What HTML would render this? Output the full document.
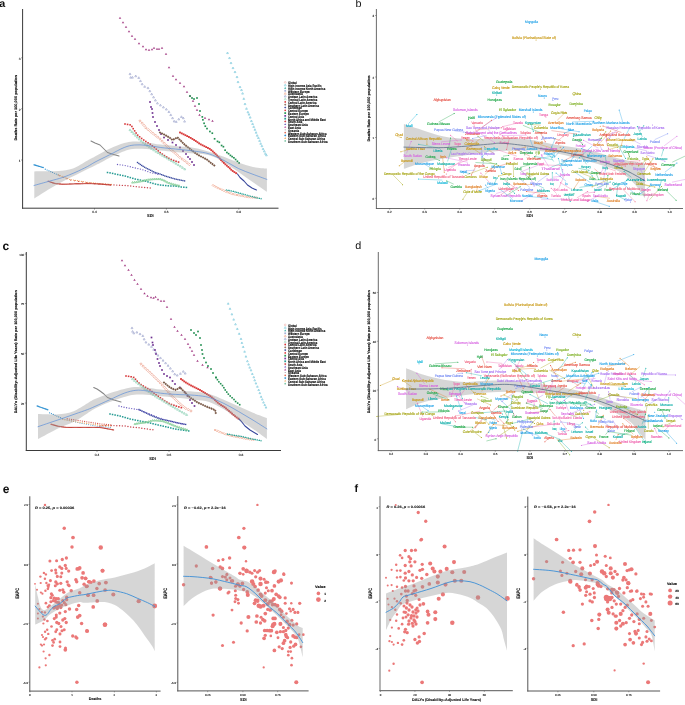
<!DOCTYPE html>
<html><head><meta charset="utf-8"><style>
html,body{margin:0;padding:0;background:#fff;}
svg{display:block;will-change:transform;}
text{font-family:"Liberation Sans", sans-serif;text-rendering:geometricPrecision;}
</style></head><body>
<svg width="685" height="705" viewBox="0 0 685 705">
<rect width="685" height="705" fill="#fff"/>
<text x="-0.8" y="4.2" font-size="10.8" fill="#111" text-anchor="start" dominant-baseline="central" font-weight="bold">a</text>
<polygon points="120,16.7 118.77,18.84 121.23,18.84" fill="#a33d85"/>
<polygon points="123,21.2 121.77,23.34 124.23,23.34" fill="#a33d85"/>
<polygon points="126,25.7 124.77,27.84 127.23,27.84" fill="#a33d85"/>
<polygon points="129,30.2 127.77,32.34 130.24,32.34" fill="#a33d85"/>
<polygon points="132,34.7 130.76,36.84 133.24,36.84" fill="#a33d85"/>
<polygon points="135,37.7 133.76,39.84 136.24,39.84" fill="#a33d85"/>
<polygon points="139,42.2 137.76,44.34 140.24,44.34" fill="#a33d85"/>
<polygon points="143,45.2 141.76,47.34 144.24,47.34" fill="#a33d85"/>
<polygon points="146,48.2 144.76,50.34 147.24,50.34" fill="#a33d85"/>
<polygon points="149,48.7 147.76,50.84 150.24,50.84" fill="#a33d85"/>
<polygon points="152,48.2 150.76,50.34 153.24,50.34" fill="#a33d85"/>
<polygon points="154,46.7 152.76,48.84 155.24,48.84" fill="#a33d85"/>
<polygon points="157,47.7 155.76,49.84 158.24,49.84" fill="#a33d85"/>
<polygon points="159,47.7 157.76,49.84 160.24,49.84" fill="#a33d85"/>
<polygon points="162,46.7 160.76,48.84 163.24,48.84" fill="#a33d85"/>
<polygon points="166,52.7 164.76,54.84 167.24,54.84" fill="#a33d85"/>
<polygon points="169,66.2 167.76,68.34 170.24,68.34" fill="#a33d85"/>
<polygon points="173,74.7 171.76,76.84 174.24,76.84" fill="#a33d85"/>
<polygon points="176,78.2 174.76,80.34 177.24,80.34" fill="#a33d85"/>
<polygon points="180,81.7 178.76,83.84 181.24,83.84" fill="#a33d85"/>
<polygon points="184,85.2 182.76,87.34 185.24,87.34" fill="#a33d85"/>
<polygon points="187,90.7 185.76,92.84 188.24,92.84" fill="#a33d85"/>
<polygon points="190,94.7 188.76,96.84 191.24,96.84" fill="#a33d85"/>
<polygon points="193,99.7 191.76,101.84 194.24,101.84" fill="#a33d85"/>
<polygon points="195,104.7 193.76,106.84 196.24,106.84" fill="#a33d85"/>
<polygon points="197,108.7 195.76,110.84 198.24,110.84" fill="#a33d85"/>
<polygon points="199.5,113.7 198.26,115.84 200.74,115.84" fill="#a33d85"/>
<polygon points="205,116.7 203.76,118.84 206.24,118.84" fill="#a33d85"/>
<polygon points="209,118.2 207.76,120.34 210.24,120.34" fill="#a33d85"/>
<polygon points="212.5,119.7 211.26,121.84 213.74,121.84" fill="#a33d85"/>
<polygon points="227.5,52 226.6,53.6 228.4,53.6" fill="none" stroke="#80cadc" stroke-width="0.7"/>
<polygon points="229.5,57 228.6,58.6 230.4,58.6" fill="none" stroke="#80cadc" stroke-width="0.7"/>
<polygon points="231,62 230.1,63.6 231.9,63.6" fill="none" stroke="#80cadc" stroke-width="0.7"/>
<polygon points="233,67 232.1,68.6 233.9,68.6" fill="none" stroke="#80cadc" stroke-width="0.7"/>
<polygon points="235,71 234.1,72.6 235.9,72.6" fill="none" stroke="#80cadc" stroke-width="0.7"/>
<polygon points="237,76 236.1,77.6 237.9,77.6" fill="none" stroke="#80cadc" stroke-width="0.7"/>
<polygon points="238,81 237.1,82.6 238.9,82.6" fill="none" stroke="#80cadc" stroke-width="0.7"/>
<polygon points="240,86 239.1,87.6 240.9,87.6" fill="none" stroke="#80cadc" stroke-width="0.7"/>
<polygon points="241.5,89 240.6,90.6 242.4,90.6" fill="none" stroke="#80cadc" stroke-width="0.7"/>
<polygon points="242.6,92.5 241.7,94.1 243.5,94.1" fill="none" stroke="#80cadc" stroke-width="0.7"/>
<polygon points="243.8,97.8 242.9,99.4 244.7,99.4" fill="none" stroke="#80cadc" stroke-width="0.7"/>
<polygon points="245,103 244.1,104.6 245.9,104.6" fill="none" stroke="#80cadc" stroke-width="0.7"/>
<polygon points="246.5,107.7 245.6,109.3 247.4,109.3" fill="none" stroke="#80cadc" stroke-width="0.7"/>
<polygon points="247.9,111.2 247,112.8 248.8,112.8" fill="none" stroke="#80cadc" stroke-width="0.7"/>
<polygon points="249,113.5 248.1,115.1 249.9,115.1" fill="none" stroke="#80cadc" stroke-width="0.7"/>
<polygon points="250.2,116.5 249.3,118.1 251.1,118.1" fill="none" stroke="#80cadc" stroke-width="0.7"/>
<polygon points="251.4,120 250.5,121.6 252.3,121.6" fill="none" stroke="#80cadc" stroke-width="0.7"/>
<polygon points="252.6,122.9 251.7,124.5 253.5,124.5" fill="none" stroke="#80cadc" stroke-width="0.7"/>
<polygon points="253.7,125.8 252.8,127.4 254.6,127.4" fill="none" stroke="#80cadc" stroke-width="0.7"/>
<polygon points="254.9,128.7 254,130.3 255.8,130.3" fill="none" stroke="#80cadc" stroke-width="0.7"/>
<polygon points="256.1,131.6 255.2,133.2 257,133.2" fill="none" stroke="#80cadc" stroke-width="0.7"/>
<polygon points="257.2,134.6 256.3,136.2 258.1,136.2" fill="none" stroke="#80cadc" stroke-width="0.7"/>
<polygon points="258.4,136.9 257.5,138.5 259.3,138.5" fill="none" stroke="#80cadc" stroke-width="0.7"/>
<polygon points="259.6,139.8 258.7,141.4 260.5,141.4" fill="none" stroke="#80cadc" stroke-width="0.7"/>
<polygon points="260.7,142.7 259.8,144.3 261.6,144.3" fill="none" stroke="#80cadc" stroke-width="0.7"/>
<polygon points="261.9,145.1 261,146.7 262.8,146.7" fill="none" stroke="#80cadc" stroke-width="0.7"/>
<polygon points="263.1,148 262.2,149.6 264,149.6" fill="none" stroke="#80cadc" stroke-width="0.7"/>
<polygon points="264.3,150.3 263.4,151.9 265.2,151.9" fill="none" stroke="#80cadc" stroke-width="0.7"/>
<polygon points="265.4,152.7 264.5,154.3 266.3,154.3" fill="none" stroke="#80cadc" stroke-width="0.7"/>
<polygon points="266.4,154.2 265.5,155.8 267.3,155.8" fill="none" stroke="#80cadc" stroke-width="0.7"/>
<polygon points="130,72.95 129.06,74.63 130.94,74.63" fill="none" stroke="#a3abd0" stroke-width="0.7"/>
<polygon points="130.71,76.48 129.76,78.16 131.65,78.16" fill="none" stroke="#a3abd0" stroke-width="0.7"/>
<polygon points="132.49,76.46 131.54,78.14 133.43,78.14" fill="none" stroke="#a3abd0" stroke-width="0.7"/>
<polygon points="135.73,75.04 134.78,76.72 136.67,76.72" fill="none" stroke="#a3abd0" stroke-width="0.7"/>
<polygon points="138.75,76.79 137.81,78.47 139.7,78.47" fill="none" stroke="#a3abd0" stroke-width="0.7"/>
<polygon points="140.48,79.91 139.53,81.59 141.42,81.59" fill="none" stroke="#a3abd0" stroke-width="0.7"/>
<polygon points="142.14,83.09 141.19,84.77 143.08,84.77" fill="none" stroke="#a3abd0" stroke-width="0.7"/>
<polygon points="144.68,85.63 143.74,87.31 145.63,87.31" fill="none" stroke="#a3abd0" stroke-width="0.7"/>
<polygon points="147.99,86.95 147.05,88.63 148.94,88.63" fill="none" stroke="#a3abd0" stroke-width="0.7"/>
<polygon points="149.85,90.03 148.9,91.71 150.79,91.71" fill="none" stroke="#a3abd0" stroke-width="0.7"/>
<polygon points="151.7,93.12 150.76,94.8 152.65,94.8" fill="none" stroke="#a3abd0" stroke-width="0.7"/>
<polygon points="153.55,96.2 152.61,97.88 154.5,97.88" fill="none" stroke="#a3abd0" stroke-width="0.7"/>
<polygon points="155.4,99.29 154.46,100.97 156.35,100.97" fill="none" stroke="#a3abd0" stroke-width="0.7"/>
<polygon points="157.41,102.23 156.47,103.91 158.36,103.91" fill="none" stroke="#a3abd0" stroke-width="0.7"/>
<polygon points="160.41,104.22 159.47,105.9 161.36,105.9" fill="none" stroke="#a3abd0" stroke-width="0.7"/>
<polygon points="163.41,106.22 162.46,107.9 164.35,107.9" fill="none" stroke="#a3abd0" stroke-width="0.7"/>
<polygon points="166.34,108.29 165.4,109.97 167.29,109.97" fill="none" stroke="#a3abd0" stroke-width="0.7"/>
<polygon points="168.89,110.84 167.94,112.52 169.83,112.52" fill="none" stroke="#a3abd0" stroke-width="0.7"/>
<polygon points="170.77,113.9 169.82,115.58 171.71,115.58" fill="none" stroke="#a3abd0" stroke-width="0.7"/>
<polygon points="172.54,117.03 171.6,118.71 173.49,118.71" fill="none" stroke="#a3abd0" stroke-width="0.7"/>
<polygon points="174.15,120.25 173.21,121.93 175.1,121.93" fill="none" stroke="#a3abd0" stroke-width="0.7"/>
<polygon points="176.2,120.75 175.26,122.43 177.15,122.43" fill="none" stroke="#a3abd0" stroke-width="0.7"/>
<polygon points="178.75,118.2 177.8,119.88 179.69,119.88" fill="none" stroke="#a3abd0" stroke-width="0.7"/>
<polygon points="181.43,115.81 180.48,117.49 182.37,117.49" fill="none" stroke="#a3abd0" stroke-width="0.7"/>
<polygon points="183.28,117.04 182.34,118.72 184.23,118.72" fill="none" stroke="#a3abd0" stroke-width="0.7"/>
<polygon points="184.58,120.39 183.63,122.07 185.52,122.07" fill="none" stroke="#a3abd0" stroke-width="0.7"/>
<rect x="149.16" y="101.16" width="1.68" height="1.68" fill="#6d2f8f"/>
<rect x="150.16" y="106.16" width="1.68" height="1.68" fill="#6d2f8f"/>
<rect x="151.16" y="108.16" width="1.68" height="1.68" fill="#6d2f8f"/>
<rect x="151.66" y="112.16" width="1.68" height="1.68" fill="#6d2f8f"/>
<rect x="152.16" y="116.16" width="1.68" height="1.68" fill="#6d2f8f"/>
<rect x="154.16" y="121.16" width="1.68" height="1.68" fill="#6d2f8f"/>
<rect x="156.16" y="125.16" width="1.68" height="1.68" fill="#6d2f8f"/>
<rect x="158.16" y="129.16" width="1.68" height="1.68" fill="#6d2f8f"/>
<rect x="160.16" y="133.16" width="1.68" height="1.68" fill="#6d2f8f"/>
<rect x="163.16" y="136.66" width="1.68" height="1.68" fill="#6d2f8f"/>
<rect x="167.16" y="139.16" width="1.68" height="1.68" fill="#6d2f8f"/>
<rect x="171.66" y="141.66" width="1.68" height="1.68" fill="#6d2f8f"/>
<rect x="175.16" y="144.16" width="1.68" height="1.68" fill="#6d2f8f"/>
<rect x="179.16" y="146.66" width="1.68" height="1.68" fill="#6d2f8f"/>
<rect x="182.16" y="150.16" width="1.68" height="1.68" fill="#6d2f8f"/>
<rect x="185.16" y="153.16" width="1.68" height="1.68" fill="#6d2f8f"/>
<rect x="187.16" y="156.16" width="1.68" height="1.68" fill="#6d2f8f"/>
<rect x="189.16" y="158.16" width="1.68" height="1.68" fill="#6d2f8f"/>
<rect x="191.16" y="161.16" width="1.68" height="1.68" fill="#6d2f8f"/>
<rect x="193.16" y="164.16" width="1.68" height="1.68" fill="#6d2f8f"/>
<rect x="189.16" y="95.16" width="1.68" height="1.68" fill="#238f52"/>
<rect x="191.16" y="97.16" width="1.68" height="1.68" fill="#238f52"/>
<rect x="193.16" y="98.16" width="1.68" height="1.68" fill="#238f52"/>
<rect x="196.16" y="97.16" width="1.68" height="1.68" fill="#238f52"/>
<rect x="198.16" y="103.16" width="1.68" height="1.68" fill="#238f52"/>
<rect x="199.16" y="110.16" width="1.68" height="1.68" fill="#238f52"/>
<rect x="201.46" y="116.06" width="1.68" height="1.68" fill="#238f52"/>
<rect x="202.06" y="118.96" width="1.68" height="1.68" fill="#238f52"/>
<rect x="203.26" y="122.46" width="1.68" height="1.68" fill="#238f52"/>
<rect x="204.46" y="125.36" width="1.68" height="1.68" fill="#238f52"/>
<rect x="206.16" y="127.76" width="1.68" height="1.68" fill="#238f52"/>
<rect x="209.06" y="130.66" width="1.68" height="1.68" fill="#238f52"/>
<rect x="211.46" y="132.36" width="1.68" height="1.68" fill="#238f52"/>
<rect x="213.76" y="137.96" width="1.68" height="1.68" fill="#238f52"/>
<rect x="216.66" y="140.56" width="1.68" height="1.68" fill="#238f52"/>
<rect x="218.46" y="141.46" width="1.68" height="1.68" fill="#238f52"/>
<rect x="220.76" y="144.66" width="1.68" height="1.68" fill="#238f52"/>
<rect x="222.56" y="145.86" width="1.68" height="1.68" fill="#238f52"/>
<rect x="224.26" y="149.36" width="1.68" height="1.68" fill="#238f52"/>
<rect x="226.06" y="151.66" width="1.68" height="1.68" fill="#238f52"/>
<rect x="227.76" y="152.86" width="1.68" height="1.68" fill="#238f52"/>
<rect x="229.56" y="154.56" width="1.68" height="1.68" fill="#238f52"/>
<rect x="231.26" y="155.76" width="1.68" height="1.68" fill="#238f52"/>
<rect x="233.06" y="156.96" width="1.68" height="1.68" fill="#238f52"/>
<rect x="234.76" y="158.66" width="1.68" height="1.68" fill="#238f52"/>
<rect x="236.56" y="160.46" width="1.68" height="1.68" fill="#238f52"/>
<rect x="238.26" y="162.16" width="1.68" height="1.68" fill="#238f52"/>
<rect x="124.2" y="123.2" width="1.6" height="1.6" fill="#d7383b"/>
<rect x="126.76" y="123.63" width="1.6" height="1.6" fill="#d7383b"/>
<rect x="129.33" y="124.05" width="1.6" height="1.6" fill="#d7383b"/>
<rect x="131.08" y="125.67" width="1.6" height="1.6" fill="#d7383b"/>
<rect x="132.42" y="127.9" width="1.6" height="1.6" fill="#d7383b"/>
<rect x="133.82" y="130.09" width="1.6" height="1.6" fill="#d7383b"/>
<rect x="135.31" y="132.22" width="1.6" height="1.6" fill="#d7383b"/>
<rect x="136.84" y="134.32" width="1.6" height="1.6" fill="#d7383b"/>
<rect x="138.81" y="136.01" width="1.6" height="1.6" fill="#d7383b"/>
<rect x="140.82" y="137.66" width="1.6" height="1.6" fill="#d7383b"/>
<rect x="142.9" y="139.22" width="1.6" height="1.6" fill="#d7383b"/>
<rect x="145.03" y="140.7" width="1.6" height="1.6" fill="#d7383b"/>
<rect x="147.26" y="142.04" width="1.6" height="1.6" fill="#d7383b"/>
<rect x="149.47" y="143.41" width="1.6" height="1.6" fill="#d7383b"/>
<rect x="151.5" y="145.04" width="1.6" height="1.6" fill="#d7383b"/>
<rect x="153.53" y="146.66" width="1.6" height="1.6" fill="#d7383b"/>
<rect x="155.49" y="148.36" width="1.6" height="1.6" fill="#d7383b"/>
<rect x="157.43" y="150.1" width="1.6" height="1.6" fill="#d7383b"/>
<rect x="159.37" y="151.82" width="1.6" height="1.6" fill="#d7383b"/>
<rect x="161.5" y="153.31" width="1.6" height="1.6" fill="#d7383b"/>
<rect x="163.63" y="154.8" width="1.6" height="1.6" fill="#d7383b"/>
<rect x="165.84" y="156.18" width="1.6" height="1.6" fill="#d7383b"/>
<rect x="168.07" y="157.52" width="1.6" height="1.6" fill="#d7383b"/>
<rect x="170.39" y="158.67" width="1.6" height="1.6" fill="#d7383b"/>
<rect x="172.8" y="159.64" width="1.6" height="1.6" fill="#d7383b"/>
<rect x="175.25" y="160.51" width="1.6" height="1.6" fill="#d7383b"/>
<rect x="177.74" y="161.26" width="1.6" height="1.6" fill="#d7383b"/>
<polygon points="140,119.8 141.2,121 140,122.2 138.8,121" fill="none" stroke="#e9957f" stroke-width="0.65"/>
<polygon points="142.12,121.92 143.32,123.12 142.12,124.32 140.92,123.12" fill="none" stroke="#e9957f" stroke-width="0.65"/>
<polygon points="144.05,124.21 145.25,125.41 144.05,126.61 142.85,125.41" fill="none" stroke="#e9957f" stroke-width="0.65"/>
<polygon points="145.85,126.61 147.05,127.81 145.85,129.01 144.65,127.81" fill="none" stroke="#e9957f" stroke-width="0.65"/>
<polygon points="148.21,128.45 149.41,129.65 148.21,130.85 147.01,129.65" fill="none" stroke="#e9957f" stroke-width="0.65"/>
<polygon points="150.59,130.27 151.79,131.47 150.59,132.67 149.39,131.47" fill="none" stroke="#e9957f" stroke-width="0.65"/>
<polygon points="152.93,132.15 154.13,133.35 152.93,134.55 151.73,133.35" fill="none" stroke="#e9957f" stroke-width="0.65"/>
<polygon points="155.28,134.02 156.48,135.22 155.28,136.42 154.08,135.22" fill="none" stroke="#e9957f" stroke-width="0.65"/>
<polygon points="157.62,135.9 158.82,137.1 157.62,138.3 156.42,137.1" fill="none" stroke="#e9957f" stroke-width="0.65"/>
<polygon points="159.96,137.77 161.16,138.97 159.96,140.17 158.76,138.97" fill="none" stroke="#e9957f" stroke-width="0.65"/>
<polygon points="162.09,139.89 163.29,141.09 162.09,142.29 160.89,141.09" fill="none" stroke="#e9957f" stroke-width="0.65"/>
<polygon points="164.21,142.01 165.41,143.21 164.21,144.41 163.01,143.21" fill="none" stroke="#e9957f" stroke-width="0.65"/>
<polygon points="166.33,144.13 167.53,145.33 166.33,146.53 165.13,145.33" fill="none" stroke="#e9957f" stroke-width="0.65"/>
<polygon points="168.45,146.25 169.65,147.45 168.45,148.65 167.25,147.45" fill="none" stroke="#e9957f" stroke-width="0.65"/>
<polygon points="170.63,148.31 171.83,149.51 170.63,150.71 169.43,149.51" fill="none" stroke="#e9957f" stroke-width="0.65"/>
<polygon points="172.97,150.18 174.17,151.38 172.97,152.58 171.77,151.38" fill="none" stroke="#e9957f" stroke-width="0.65"/>
<polygon points="175.3,152.07 176.5,153.27 175.3,154.47 174.1,153.27" fill="none" stroke="#e9957f" stroke-width="0.65"/>
<polygon points="177.53,154.08 178.73,155.28 177.53,156.48 176.33,155.28" fill="none" stroke="#e9957f" stroke-width="0.65"/>
<polygon points="179.76,156.09 180.96,157.29 179.76,158.49 178.56,157.29" fill="none" stroke="#e9957f" stroke-width="0.65"/>
<polygon points="182.19,157.84 183.39,159.04 182.19,160.24 180.99,159.04" fill="none" stroke="#e9957f" stroke-width="0.65"/>
<polygon points="184.65,159.56 185.85,160.76 184.65,161.96 183.45,160.76" fill="none" stroke="#e9957f" stroke-width="0.65"/>
<polygon points="187.01,161.41 188.21,162.61 187.01,163.81 185.81,162.61" fill="none" stroke="#e9957f" stroke-width="0.65"/>
<polygon points="189.35,163.28 190.55,164.48 189.35,165.68 188.15,164.48" fill="none" stroke="#e9957f" stroke-width="0.65"/>
<polygon points="130,128.9 129.01,130.66 130.99,130.66" fill="none" stroke="#8fd3b8" stroke-width="0.7"/>
<polygon points="131.84,130.74 130.85,132.5 132.83,132.5" fill="none" stroke="#8fd3b8" stroke-width="0.7"/>
<polygon points="133.68,132.58 132.69,134.34 134.67,134.34" fill="none" stroke="#8fd3b8" stroke-width="0.7"/>
<polygon points="135.52,134.42 134.53,136.18 136.51,136.18" fill="none" stroke="#8fd3b8" stroke-width="0.7"/>
<polygon points="137.35,136.25 136.36,138.01 138.34,138.01" fill="none" stroke="#8fd3b8" stroke-width="0.7"/>
<polygon points="139.19,138.09 138.2,139.85 140.18,139.85" fill="none" stroke="#8fd3b8" stroke-width="0.7"/>
<polygon points="141.14,139.81 140.15,141.57 142.13,141.57" fill="none" stroke="#8fd3b8" stroke-width="0.7"/>
<polygon points="143.17,141.43 142.18,143.19 144.16,143.19" fill="none" stroke="#8fd3b8" stroke-width="0.7"/>
<polygon points="145.21,143.05 144.22,144.81 146.2,144.81" fill="none" stroke="#8fd3b8" stroke-width="0.7"/>
<polygon points="147.34,144.54 146.35,146.3 148.33,146.3" fill="none" stroke="#8fd3b8" stroke-width="0.7"/>
<polygon points="149.47,146.03 148.48,147.79 150.46,147.79" fill="none" stroke="#8fd3b8" stroke-width="0.7"/>
<polygon points="151.6,147.52 150.61,149.28 152.59,149.28" fill="none" stroke="#8fd3b8" stroke-width="0.7"/>
<polygon points="153.73,149.01 152.74,150.77 154.72,150.77" fill="none" stroke="#8fd3b8" stroke-width="0.7"/>
<polygon points="155.9,150.44 154.91,152.2 156.89,152.2" fill="none" stroke="#8fd3b8" stroke-width="0.7"/>
<polygon points="158.13,151.78 157.14,153.54 159.12,153.54" fill="none" stroke="#8fd3b8" stroke-width="0.7"/>
<polygon points="160.36,153.11 159.37,154.87 161.35,154.87" fill="none" stroke="#8fd3b8" stroke-width="0.7"/>
<polygon points="162.59,154.45 161.6,156.21 163.58,156.21" fill="none" stroke="#8fd3b8" stroke-width="0.7"/>
<polygon points="164.82,155.79 163.83,157.55 165.81,157.55" fill="none" stroke="#8fd3b8" stroke-width="0.7"/>
<polygon points="167.05,157.13 166.06,158.89 168.04,158.89" fill="none" stroke="#8fd3b8" stroke-width="0.7"/>
<polygon points="169.28,158.47 168.29,160.23 170.27,160.23" fill="none" stroke="#8fd3b8" stroke-width="0.7"/>
<polygon points="171.51,159.8 170.52,161.56 172.5,161.56" fill="none" stroke="#8fd3b8" stroke-width="0.7"/>
<polygon points="173.73,161.14 172.74,162.9 174.72,162.9" fill="none" stroke="#8fd3b8" stroke-width="0.7"/>
<polygon points="175.96,162.48 174.97,164.24 176.95,164.24" fill="none" stroke="#8fd3b8" stroke-width="0.7"/>
<polygon points="178.19,163.82 177.2,165.58 179.18,165.58" fill="none" stroke="#8fd3b8" stroke-width="0.7"/>
<polygon points="180.41,165.17 179.42,166.93 181.4,166.93" fill="none" stroke="#8fd3b8" stroke-width="0.7"/>
<polygon points="182.57,166.62 181.58,168.38 183.56,168.38" fill="none" stroke="#8fd3b8" stroke-width="0.7"/>
<polygon points="184.74,168.06 183.75,169.82 185.73,169.82" fill="none" stroke="#8fd3b8" stroke-width="0.7"/>
<polygon points="160,131.2 161.3,132.5 160,133.8 158.7,132.5" fill="#7a5a48"/>
<polygon points="162.06,132.23 163.36,133.53 162.06,134.83 160.76,133.53" fill="#7a5a48"/>
<polygon points="164.11,133.26 165.41,134.56 164.11,135.86 162.81,134.56" fill="#7a5a48"/>
<polygon points="166.12,134.37 167.42,135.67 166.12,136.97 164.82,135.67" fill="#7a5a48"/>
<polygon points="168.1,135.56 169.4,136.86 168.1,138.16 166.8,136.86" fill="#7a5a48"/>
<polygon points="170.06,136.75 171.36,138.05 170.06,139.35 168.76,138.05" fill="#7a5a48"/>
<polygon points="171.86,138.19 173.16,139.49 171.86,140.79 170.56,139.49" fill="#7a5a48"/>
<polygon points="173.82,138.04 175.12,139.34 173.82,140.64 172.52,139.34" fill="#7a5a48"/>
<polygon points="175.88,137.01 177.18,138.31 175.88,139.61 174.58,138.31" fill="#7a5a48"/>
<polygon points="177.84,136.54 179.14,137.84 177.84,139.14 176.54,137.84" fill="#7a5a48"/>
<polygon points="179.47,138.17 180.77,139.47 179.47,140.77 178.17,139.47" fill="#7a5a48"/>
<polygon points="181.1,139.8 182.4,141.1 181.1,142.4 179.8,141.1" fill="#7a5a48"/>
<polygon points="182.72,141.42 184.02,142.72 182.72,144.02 181.42,142.72" fill="#7a5a48"/>
<polygon points="184.35,143.05 185.65,144.35 184.35,145.65 183.05,144.35" fill="#7a5a48"/>
<polygon points="186.1,144.53 187.4,145.83 186.1,147.13 184.8,145.83" fill="#7a5a48"/>
<polygon points="187.94,145.91 189.24,147.21 187.94,148.51 186.64,147.21" fill="#7a5a48"/>
<polygon points="189.74,147.34 191.04,148.64 189.74,149.94 188.44,148.64" fill="#7a5a48"/>
<polygon points="191.49,148.83 192.79,150.13 191.49,151.43 190.19,150.13" fill="#7a5a48"/>
<polygon points="193.29,150.26 194.59,151.56 193.29,152.86 191.99,151.56" fill="#7a5a48"/>
<polygon points="195.16,151.6 196.46,152.9 195.16,154.2 193.86,152.9" fill="#7a5a48"/>
<polygon points="197.08,152.87 198.38,154.17 197.08,155.47 195.78,154.17" fill="#7a5a48"/>
<polygon points="199.03,154.09 200.33,155.39 199.03,156.69 197.73,155.39" fill="#7a5a48"/>
<polygon points="201.03,155.22 202.33,156.52 201.03,157.82 199.73,156.52" fill="#7a5a48"/>
<polygon points="203.09,156.24 204.39,157.54 203.09,158.84 201.79,157.54" fill="#7a5a48"/>
<polygon points="205.11,157.34 206.41,158.64 205.11,159.94 203.81,158.64" fill="#7a5a48"/>
<polygon points="207.11,158.48 208.41,159.78 207.11,161.08 205.81,159.78" fill="#7a5a48"/>
<polygon points="208.9,159.9 210.2,161.2 208.9,162.5 207.6,161.2" fill="#7a5a48"/>
<polygon points="210.65,161.4 211.95,162.7 210.65,164 209.35,162.7" fill="#7a5a48"/>
<polygon points="212.47,162.8 213.77,164.1 212.47,165.4 211.17,164.1" fill="#7a5a48"/>
<polygon points="214.31,164.18 215.61,165.48 214.31,166.78 213.01,165.48" fill="#7a5a48"/>
<rect x="179.08" y="131.58" width="1.84" height="1.84" fill="#d93b3b"/>
<rect x="180.87" y="132.47" width="1.84" height="1.84" fill="#d93b3b"/>
<rect x="182.66" y="133.37" width="1.84" height="1.84" fill="#d93b3b"/>
<rect x="184.45" y="134.26" width="1.84" height="1.84" fill="#d93b3b"/>
<rect x="186.24" y="135.16" width="1.84" height="1.84" fill="#d93b3b"/>
<rect x="188.02" y="136.05" width="1.84" height="1.84" fill="#d93b3b"/>
<rect x="189.78" y="137" width="1.84" height="1.84" fill="#d93b3b"/>
<rect x="191.5" y="138.03" width="1.84" height="1.84" fill="#d93b3b"/>
<rect x="193.21" y="139.06" width="1.84" height="1.84" fill="#d93b3b"/>
<rect x="194.89" y="140.15" width="1.84" height="1.84" fill="#d93b3b"/>
<rect x="196.53" y="141.29" width="1.84" height="1.84" fill="#d93b3b"/>
<rect x="198.17" y="142.44" width="1.84" height="1.84" fill="#d93b3b"/>
<rect x="199.87" y="143.48" width="1.84" height="1.84" fill="#d93b3b"/>
<rect x="201.66" y="144.37" width="1.84" height="1.84" fill="#d93b3b"/>
<rect x="203.45" y="145.26" width="1.84" height="1.84" fill="#d93b3b"/>
<rect x="205.24" y="146.16" width="1.84" height="1.84" fill="#d93b3b"/>
<rect x="207.03" y="147.05" width="1.84" height="1.84" fill="#d93b3b"/>
<rect x="208.82" y="147.95" width="1.84" height="1.84" fill="#d93b3b"/>
<rect x="210.36" y="149.2" width="1.84" height="1.84" fill="#d93b3b"/>
<rect x="211.87" y="150.52" width="1.84" height="1.84" fill="#d93b3b"/>
<rect x="213.36" y="151.86" width="1.84" height="1.84" fill="#d93b3b"/>
<rect x="214.77" y="153.27" width="1.84" height="1.84" fill="#d93b3b"/>
<rect x="216.18" y="154.68" width="1.84" height="1.84" fill="#d93b3b"/>
<rect x="217.53" y="156.16" width="1.84" height="1.84" fill="#d93b3b"/>
<rect x="218.85" y="157.67" width="1.84" height="1.84" fill="#d93b3b"/>
<rect x="220.17" y="159.17" width="1.84" height="1.84" fill="#d93b3b"/>
<rect x="221.58" y="160.58" width="1.84" height="1.84" fill="#d93b3b"/>
<rect x="223" y="162" width="1.84" height="1.84" fill="#d93b3b"/>
<rect x="224.43" y="163.39" width="1.84" height="1.84" fill="#d93b3b"/>
<rect x="225.94" y="164.71" width="1.84" height="1.84" fill="#d93b3b"/>
<rect x="227.44" y="166.02" width="1.84" height="1.84" fill="#d93b3b"/>
<rect x="228.9" y="167.4" width="1.84" height="1.84" fill="#d93b3b"/>
<rect x="230.31" y="168.81" width="1.84" height="1.84" fill="#d93b3b"/>
<rect x="231.84" y="170.09" width="1.84" height="1.84" fill="#d93b3b"/>
<rect x="233.5" y="171.19" width="1.84" height="1.84" fill="#d93b3b"/>
<rect x="235.2" y="172.25" width="1.84" height="1.84" fill="#d93b3b"/>
<rect x="136.82" y="161.82" width="1.36" height="1.36" fill="#3a4a9e"/>
<rect x="138.2" y="162.81" width="1.36" height="1.36" fill="#3a4a9e"/>
<rect x="139.59" y="163.8" width="1.36" height="1.36" fill="#3a4a9e"/>
<rect x="141" y="164.74" width="1.36" height="1.36" fill="#3a4a9e"/>
<rect x="142.44" y="165.64" width="1.36" height="1.36" fill="#3a4a9e"/>
<rect x="143.88" y="166.55" width="1.36" height="1.36" fill="#3a4a9e"/>
<rect x="145.38" y="167.35" width="1.36" height="1.36" fill="#3a4a9e"/>
<rect x="146.9" y="168.11" width="1.36" height="1.36" fill="#3a4a9e"/>
<rect x="148.42" y="168.87" width="1.36" height="1.36" fill="#3a4a9e"/>
<rect x="149.94" y="169.63" width="1.36" height="1.36" fill="#3a4a9e"/>
<rect x="151.46" y="170.39" width="1.36" height="1.36" fill="#3a4a9e"/>
<rect x="152.98" y="171.15" width="1.36" height="1.36" fill="#3a4a9e"/>
<rect x="154.51" y="171.88" width="1.36" height="1.36" fill="#3a4a9e"/>
<rect x="156.14" y="172.37" width="1.36" height="1.36" fill="#3a4a9e"/>
<rect x="157.77" y="172.85" width="1.36" height="1.36" fill="#3a4a9e"/>
<rect x="159.4" y="173.35" width="1.36" height="1.36" fill="#3a4a9e"/>
<rect x="160.97" y="173.98" width="1.36" height="1.36" fill="#3a4a9e"/>
<rect x="162.55" y="174.61" width="1.36" height="1.36" fill="#3a4a9e"/>
<rect x="164.13" y="175.24" width="1.36" height="1.36" fill="#3a4a9e"/>
<rect x="165.75" y="175.75" width="1.36" height="1.36" fill="#3a4a9e"/>
<rect x="167.38" y="176.24" width="1.36" height="1.36" fill="#3a4a9e"/>
<rect x="169.01" y="176.73" width="1.36" height="1.36" fill="#3a4a9e"/>
<rect x="170.64" y="177.22" width="1.36" height="1.36" fill="#3a4a9e"/>
<rect x="172.27" y="177.7" width="1.36" height="1.36" fill="#3a4a9e"/>
<rect x="173.89" y="178.19" width="1.36" height="1.36" fill="#3a4a9e"/>
<rect x="175.55" y="178.57" width="1.36" height="1.36" fill="#3a4a9e"/>
<rect x="177.22" y="178.9" width="1.36" height="1.36" fill="#3a4a9e"/>
<rect x="178.89" y="179.23" width="1.36" height="1.36" fill="#3a4a9e"/>
<rect x="180.55" y="179.57" width="1.36" height="1.36" fill="#3a4a9e"/>
<rect x="182.22" y="179.9" width="1.36" height="1.36" fill="#3a4a9e"/>
<rect x="183.89" y="180.23" width="1.36" height="1.36" fill="#3a4a9e"/>
<polyline points="237.5,174 240,177.5 244,181 247.5,185 252,188 256.5,190" fill="none" stroke="#36459a" stroke-width="1.1" stroke-linejoin="round" stroke-linecap="round"/>
<circle cx="117.5" cy="164.5" r="0.66" fill="#6a5bbf"/>
<circle cx="120.08" cy="164.79" r="0.66" fill="#6a5bbf"/>
<circle cx="122.66" cy="165.12" r="0.66" fill="#6a5bbf"/>
<circle cx="125.22" cy="165.59" r="0.66" fill="#6a5bbf"/>
<circle cx="127.77" cy="166.07" r="0.66" fill="#6a5bbf"/>
<circle cx="130.28" cy="166.76" r="0.66" fill="#6a5bbf"/>
<circle cx="132.79" cy="167.44" r="0.66" fill="#6a5bbf"/>
<circle cx="135.33" cy="168" r="0.66" fill="#6a5bbf"/>
<circle cx="137.87" cy="168.54" r="0.66" fill="#6a5bbf"/>
<circle cx="140.4" cy="169.12" r="0.66" fill="#6a5bbf"/>
<circle cx="142.89" cy="169.87" r="0.66" fill="#6a5bbf"/>
<circle cx="145.37" cy="170.65" r="0.66" fill="#6a5bbf"/>
<circle cx="147.79" cy="171.61" r="0.66" fill="#6a5bbf"/>
<circle cx="150.21" cy="172.54" r="0.66" fill="#6a5bbf"/>
<circle cx="152.76" cy="173.05" r="0.66" fill="#6a5bbf"/>
<circle cx="155.3" cy="173.59" r="0.66" fill="#6a5bbf"/>
<circle cx="157.79" cy="174.34" r="0.66" fill="#6a5bbf"/>
<rect x="106.74" y="171.74" width="1.52" height="1.52" fill="#249a92"/>
<rect x="109.31" y="172.11" width="1.52" height="1.52" fill="#249a92"/>
<rect x="111.85" y="172.64" width="1.52" height="1.52" fill="#249a92"/>
<rect x="114.38" y="173.27" width="1.52" height="1.52" fill="#249a92"/>
<rect x="116.93" y="173.78" width="1.52" height="1.52" fill="#249a92"/>
<rect x="119.48" y="174.29" width="1.52" height="1.52" fill="#249a92"/>
<rect x="122.03" y="174.8" width="1.52" height="1.52" fill="#249a92"/>
<rect x="124.57" y="175.34" width="1.52" height="1.52" fill="#249a92"/>
<rect x="127.06" y="176.09" width="1.52" height="1.52" fill="#249a92"/>
<rect x="129.55" y="176.83" width="1.52" height="1.52" fill="#249a92"/>
<rect x="132.04" y="177.58" width="1.52" height="1.52" fill="#249a92"/>
<rect x="134.54" y="178.3" width="1.52" height="1.52" fill="#249a92"/>
<rect x="137.09" y="178.81" width="1.52" height="1.52" fill="#249a92"/>
<rect x="139.64" y="179.32" width="1.52" height="1.52" fill="#249a92"/>
<rect x="142.19" y="179.83" width="1.52" height="1.52" fill="#249a92"/>
<rect x="144.72" y="180.39" width="1.52" height="1.52" fill="#249a92"/>
<rect x="147.21" y="181.13" width="1.52" height="1.52" fill="#249a92"/>
<rect x="149.7" y="181.88" width="1.52" height="1.52" fill="#249a92"/>
<rect x="152.19" y="182.63" width="1.52" height="1.52" fill="#249a92"/>
<rect x="154.7" y="183.33" width="1.52" height="1.52" fill="#249a92"/>
<rect x="157.25" y="183.84" width="1.52" height="1.52" fill="#249a92"/>
<rect x="159.8" y="184.3" width="1.52" height="1.52" fill="#249a92"/>
<rect x="162.39" y="184.55" width="1.52" height="1.52" fill="#249a92"/>
<rect x="164.98" y="184.81" width="1.52" height="1.52" fill="#249a92"/>
<rect x="167.56" y="185.07" width="1.52" height="1.52" fill="#249a92"/>
<rect x="170.16" y="185.24" width="1.52" height="1.52" fill="#249a92"/>
<rect x="172.76" y="185.24" width="1.52" height="1.52" fill="#249a92"/>
<rect x="175.34" y="185.42" width="1.52" height="1.52" fill="#249a92"/>
<rect x="177.91" y="185.85" width="1.52" height="1.52" fill="#249a92"/>
<rect x="180.47" y="186.26" width="1.52" height="1.52" fill="#249a92"/>
<rect x="183.06" y="186.46" width="1.52" height="1.52" fill="#249a92"/>
<rect x="185.66" y="186.66" width="1.52" height="1.52" fill="#249a92"/>
<polygon points="132.5,181.5 131.6,183.1 133.4,183.1" fill="none" stroke="#78c98c" stroke-width="0.7"/>
<polygon points="134.49,181.28 133.59,182.88 135.39,182.88" fill="none" stroke="#78c98c" stroke-width="0.7"/>
<polygon points="136.48,181.06 135.58,182.66 137.38,182.66" fill="none" stroke="#78c98c" stroke-width="0.7"/>
<polygon points="138.45,180.74 137.55,182.34 139.35,182.34" fill="none" stroke="#78c98c" stroke-width="0.7"/>
<polygon points="140.42,180.38 139.52,181.98 141.32,181.98" fill="none" stroke="#78c98c" stroke-width="0.7"/>
<polygon points="142.38,180.02 141.48,181.62 143.28,181.62" fill="none" stroke="#78c98c" stroke-width="0.7"/>
<polygon points="144.31,179.48 143.41,181.08 145.21,181.08" fill="none" stroke="#78c98c" stroke-width="0.7"/>
<polygon points="146.24,178.97 145.34,180.57 147.14,180.57" fill="none" stroke="#78c98c" stroke-width="0.7"/>
<polygon points="148.22,178.72 147.32,180.32 149.12,180.32" fill="none" stroke="#78c98c" stroke-width="0.7"/>
<polygon points="150.21,178.48 149.31,180.08 151.11,180.08" fill="none" stroke="#78c98c" stroke-width="0.7"/>
<polygon points="152.2,178.28 151.3,179.88 153.1,179.88" fill="none" stroke="#78c98c" stroke-width="0.7"/>
<polygon points="154.19,178.08 153.29,179.68 155.09,179.68" fill="none" stroke="#78c98c" stroke-width="0.7"/>
<polygon points="156.19,178 155.29,179.6 157.09,179.6" fill="none" stroke="#78c98c" stroke-width="0.7"/>
<polygon points="158.19,178 157.29,179.6 159.09,179.6" fill="none" stroke="#78c98c" stroke-width="0.7"/>
<polygon points="160.17,178.07 159.27,179.67 161.07,179.67" fill="none" stroke="#78c98c" stroke-width="0.7"/>
<polygon points="162.05,178.77 161.15,180.37 162.95,180.37" fill="none" stroke="#78c98c" stroke-width="0.7"/>
<polygon points="163.92,179.47 163.02,181.07 164.82,181.07" fill="none" stroke="#78c98c" stroke-width="0.7"/>
<polygon points="165.66,180.45 164.76,182.05 166.56,182.05" fill="none" stroke="#78c98c" stroke-width="0.7"/>
<polygon points="167.4,181.44 166.5,183.04 168.3,183.04" fill="none" stroke="#78c98c" stroke-width="0.7"/>
<polygon points="169.29,182.1 168.39,183.7 170.19,183.7" fill="none" stroke="#78c98c" stroke-width="0.7"/>
<polygon points="171.18,182.73 170.28,184.33 172.08,184.33" fill="none" stroke="#78c98c" stroke-width="0.7"/>
<polygon points="173.11,183.28 172.21,184.88 174.01,184.88" fill="none" stroke="#78c98c" stroke-width="0.7"/>
<polygon points="175.05,183.76 174.15,185.36 175.95,185.36" fill="none" stroke="#78c98c" stroke-width="0.7"/>
<polygon points="176.99,184.25 176.09,185.85 177.89,185.85" fill="none" stroke="#78c98c" stroke-width="0.7"/>
<polygon points="178.93,184.73 178.03,186.33 179.83,186.33" fill="none" stroke="#78c98c" stroke-width="0.7"/>
<circle cx="100" cy="184" r="0.72" fill="#c6434c"/>
<circle cx="102.8" cy="184.11" r="0.72" fill="#c6434c"/>
<circle cx="105.59" cy="184.24" r="0.72" fill="#c6434c"/>
<circle cx="108.39" cy="184.4" r="0.72" fill="#c6434c"/>
<circle cx="111.18" cy="184.62" r="0.72" fill="#c6434c"/>
<circle cx="113.97" cy="184.9" r="0.72" fill="#c6434c"/>
<circle cx="116.76" cy="185.11" r="0.72" fill="#c6434c"/>
<circle cx="119.55" cy="185.27" r="0.72" fill="#c6434c"/>
<circle cx="122.35" cy="185.39" r="0.72" fill="#c6434c"/>
<circle cx="125.15" cy="185.51" r="0.72" fill="#c6434c"/>
<circle cx="127.93" cy="185.79" r="0.72" fill="#c6434c"/>
<circle cx="130.72" cy="186.07" r="0.72" fill="#c6434c"/>
<circle cx="133.51" cy="186.35" r="0.72" fill="#c6434c"/>
<circle cx="136.29" cy="186.63" r="0.72" fill="#c6434c"/>
<circle cx="139.08" cy="186.91" r="0.72" fill="#c6434c"/>
<circle cx="141.86" cy="187.19" r="0.72" fill="#c6434c"/>
<circle cx="144.65" cy="187.47" r="0.72" fill="#c6434c"/>
<circle cx="147.44" cy="187.7" r="0.72" fill="#c6434c"/>
<circle cx="150.23" cy="187.94" r="0.72" fill="#c6434c"/>
<polygon points="213,184.3 214,185.3 213,186.3 212,185.3" fill="none" stroke="#f0a58d" stroke-width="0.65"/>
<polygon points="214.76,185.25 215.76,186.25 214.76,187.25 213.76,186.25" fill="none" stroke="#f0a58d" stroke-width="0.65"/>
<polygon points="216.52,186.2 217.52,187.2 216.52,188.2 215.52,187.2" fill="none" stroke="#f0a58d" stroke-width="0.65"/>
<polygon points="218.29,187.13 219.29,188.13 218.29,189.13 217.29,188.13" fill="none" stroke="#f0a58d" stroke-width="0.65"/>
<polygon points="220.12,187.94 221.12,188.94 220.12,189.94 219.12,188.94" fill="none" stroke="#f0a58d" stroke-width="0.65"/>
<polygon points="221.95,188.75 222.95,189.75 221.95,190.75 220.95,189.75" fill="none" stroke="#f0a58d" stroke-width="0.65"/>
<polygon points="223.77,189.57 224.77,190.57 223.77,191.57 222.77,190.57" fill="none" stroke="#f0a58d" stroke-width="0.65"/>
<polygon points="225.6,190.38 226.6,191.38 225.6,192.38 224.6,191.38" fill="none" stroke="#f0a58d" stroke-width="0.65"/>
<polygon points="227.44,191.16 228.44,192.16 227.44,193.16 226.44,192.16" fill="none" stroke="#f0a58d" stroke-width="0.65"/>
<polygon points="229.32,191.84 230.32,192.84 229.32,193.84 228.32,192.84" fill="none" stroke="#f0a58d" stroke-width="0.65"/>
<polygon points="231.2,192.53 232.2,193.53 231.2,194.53 230.2,193.53" fill="none" stroke="#f0a58d" stroke-width="0.65"/>
<polygon points="233.1,193.13 234.1,194.13 233.1,195.13 232.1,194.13" fill="none" stroke="#f0a58d" stroke-width="0.65"/>
<polygon points="235.05,193.57 236.05,194.57 235.05,195.57 234.05,194.57" fill="none" stroke="#f0a58d" stroke-width="0.65"/>
<polygon points="237.01,194 238.01,195 237.01,196 236.01,195" fill="none" stroke="#f0a58d" stroke-width="0.65"/>
<polygon points="238.97,194.36 239.97,195.36 238.97,196.36 237.97,195.36" fill="none" stroke="#f0a58d" stroke-width="0.65"/>
<polygon points="240.94,194.72 241.94,195.72 240.94,196.72 239.94,195.72" fill="none" stroke="#f0a58d" stroke-width="0.65"/>
<polygon points="242.91,195.09 243.91,196.09 242.91,197.09 241.91,196.09" fill="none" stroke="#f0a58d" stroke-width="0.65"/>
<polygon points="244.86,195.52 245.86,196.52 244.86,197.52 243.86,196.52" fill="none" stroke="#f0a58d" stroke-width="0.65"/>
<polygon points="246.81,195.96 247.81,196.96 246.81,197.96 245.81,196.96" fill="none" stroke="#f0a58d" stroke-width="0.65"/>
<polygon points="248.8,196.16 249.8,197.16 248.8,198.16 247.8,197.16" fill="none" stroke="#f0a58d" stroke-width="0.65"/>
<polygon points="250.79,196.34 251.79,197.34 250.79,198.34 249.79,197.34" fill="none" stroke="#f0a58d" stroke-width="0.65"/>
<polygon points="252.78,196.51 253.78,197.51 252.78,198.51 251.78,197.51" fill="none" stroke="#f0a58d" stroke-width="0.65"/>
<polygon points="254.78,196.59 255.78,197.59 254.78,198.59 253.78,197.59" fill="none" stroke="#f0a58d" stroke-width="0.65"/>
<polygon points="256.78,196.66 257.78,197.66 256.78,198.66 255.78,197.66" fill="none" stroke="#f0a58d" stroke-width="0.65"/>
<polygon points="226.3,188.9 225.35,190.55 227.25,190.55" fill="#1d9f92"/>
<polygon points="228.07,189.24 227.12,190.89 229.02,190.89" fill="#1d9f92"/>
<polygon points="229.83,189.58 228.88,191.23 230.78,191.23" fill="#1d9f92"/>
<polygon points="231.6,189.92 230.65,191.57 232.55,191.57" fill="#1d9f92"/>
<polygon points="233.35,190.37 232.4,192.02 234.3,192.02" fill="#1d9f92"/>
<polygon points="235.08,190.84 234.13,192.49 236.03,192.49" fill="#1d9f92"/>
<polygon points="236.82,191.31 235.87,192.96 237.77,192.96" fill="#1d9f92"/>
<polygon points="238.56,191.79 237.61,193.44 239.51,193.44" fill="#1d9f92"/>
<polygon points="240.29,192.26 239.34,193.91 241.24,193.91" fill="#1d9f92"/>
<polygon points="242.03,192.74 241.08,194.39 242.98,194.39" fill="#1d9f92"/>
<polygon points="243.76,193.22 242.81,194.87 244.71,194.87" fill="#1d9f92"/>
<polygon points="245.49,193.71 244.54,195.36 246.44,195.36" fill="#1d9f92"/>
<polygon points="247.22,194.21 246.27,195.86 248.17,195.86" fill="#1d9f92"/>
<polygon points="248.95,194.7 248,196.35 249.9,196.35" fill="#1d9f92"/>
<polygon points="250.69,195.17 249.74,196.82 251.64,196.82" fill="#1d9f92"/>
<polygon points="252.44,195.61 251.49,197.26 253.39,197.26" fill="#1d9f92"/>
<polygon points="254.18,196.05 253.23,197.7 255.13,197.7" fill="#1d9f92"/>
<polygon points="255.93,196.48 254.98,198.13 256.88,198.13" fill="#1d9f92"/>
<polygon points="257.68,196.89 256.73,198.54 258.63,198.54" fill="#1d9f92"/>
<polygon points="259.44,197.31 258.49,198.96 260.39,198.96" fill="#1d9f92"/>
<polygon points="261.19,197.72 260.24,199.37 262.14,199.37" fill="#1d9f92"/>
<polyline points="91,141 95,143 100,145 104,149 107.5,152.5 112,154 119,156" fill="none" stroke="#858585" stroke-width="1.05" stroke-linejoin="round" stroke-linecap="round"/>
<circle cx="34" cy="164.8" r="0.66" fill="#2b8fd0"/>
<circle cx="34.77" cy="165.03" r="0.66" fill="#2b8fd0"/>
<circle cx="35.53" cy="165.25" r="0.66" fill="#2b8fd0"/>
<circle cx="36.3" cy="165.48" r="0.66" fill="#2b8fd0"/>
<circle cx="37.07" cy="165.71" r="0.66" fill="#2b8fd0"/>
<circle cx="37.84" cy="165.94" r="0.66" fill="#2b8fd0"/>
<circle cx="38.6" cy="166.16" r="0.66" fill="#2b8fd0"/>
<circle cx="39.37" cy="166.39" r="0.66" fill="#2b8fd0"/>
<circle cx="40.14" cy="166.62" r="0.66" fill="#2b8fd0"/>
<circle cx="40.9" cy="166.84" r="0.66" fill="#2b8fd0"/>
<circle cx="41.67" cy="167.07" r="0.66" fill="#2b8fd0"/>
<circle cx="42.44" cy="167.3" r="0.66" fill="#2b8fd0"/>
<circle cx="43.21" cy="167.52" r="0.66" fill="#2b8fd0"/>
<circle cx="45.3" cy="169.2" r="0.61" fill="#2b8fd0"/>
<circle cx="47.13" cy="170.01" r="0.61" fill="#2b8fd0"/>
<circle cx="48.96" cy="170.82" r="0.61" fill="#2b8fd0"/>
<circle cx="50.79" cy="171.63" r="0.61" fill="#2b8fd0"/>
<circle cx="52.62" cy="172.44" r="0.61" fill="#2b8fd0"/>
<circle cx="54.44" cy="173.25" r="0.61" fill="#2b8fd0"/>
<circle cx="56.27" cy="174.06" r="0.61" fill="#2b8fd0"/>
<circle cx="58.1" cy="174.87" r="0.61" fill="#2b8fd0"/>
<circle cx="58.4" cy="175" r="0.63" fill="#f0a860"/>
<circle cx="60.26" cy="175.72" r="0.63" fill="#f0a860"/>
<circle cx="62.13" cy="176.45" r="0.63" fill="#f0a860"/>
<circle cx="63.99" cy="177.17" r="0.63" fill="#f0a860"/>
<circle cx="65.86" cy="177.89" r="0.63" fill="#f0a860"/>
<circle cx="67.72" cy="178.62" r="0.63" fill="#f0a860"/>
<circle cx="69.59" cy="179.34" r="0.63" fill="#f0a860"/>
<circle cx="71.54" cy="179.76" r="0.63" fill="#f0a860"/>
<circle cx="73.51" cy="180.08" r="0.63" fill="#f0a860"/>
<circle cx="75.48" cy="180.41" r="0.63" fill="#f0a860"/>
<circle cx="77.45" cy="180.74" r="0.63" fill="#f0a860"/>
<circle cx="79.43" cy="181.07" r="0.63" fill="#f0a860"/>
<circle cx="81.4" cy="181.4" r="0.63" fill="#f0a860"/>
<circle cx="83.37" cy="181.73" r="0.63" fill="#f0a860"/>
<circle cx="85.35" cy="182.04" r="0.63" fill="#f0a860"/>
<circle cx="87.33" cy="182.28" r="0.63" fill="#f0a860"/>
<circle cx="89.32" cy="182.52" r="0.63" fill="#f0a860"/>
<circle cx="91.31" cy="182.76" r="0.63" fill="#f0a860"/>
<circle cx="93.29" cy="182.99" r="0.63" fill="#f0a860"/>
<circle cx="95.28" cy="183.23" r="0.63" fill="#f0a860"/>
<circle cx="97.26" cy="183.47" r="0.63" fill="#f0a860"/>
<circle cx="99.25" cy="183.71" r="0.63" fill="#f0a860"/>
<circle cx="101.24" cy="183.87" r="0.63" fill="#f0a860"/>
<circle cx="103.24" cy="183.99" r="0.63" fill="#f0a860"/>
<circle cx="105.23" cy="184.11" r="0.63" fill="#f0a860"/>
<circle cx="107.23" cy="184.22" r="0.63" fill="#f0a860"/>
<circle cx="109.23" cy="184.34" r="0.63" fill="#f0a860"/>
<circle cx="111.22" cy="184.45" r="0.63" fill="#f0a860"/>
<circle cx="59.4" cy="175.8" r="0.55" fill="#d2504a"/>
<circle cx="63.12" cy="177.27" r="0.55" fill="#d2504a"/>
<circle cx="66.84" cy="178.75" r="0.55" fill="#d2504a"/>
<circle cx="70.59" cy="180.1" r="0.55" fill="#d2504a"/>
<circle cx="74.54" cy="180.76" r="0.55" fill="#d2504a"/>
<circle cx="78.48" cy="181.41" r="0.55" fill="#d2504a"/>
<circle cx="82.43" cy="182.07" r="0.55" fill="#d2504a"/>
<circle cx="86.38" cy="182.67" r="0.55" fill="#d2504a"/>
<circle cx="90.35" cy="183.14" r="0.55" fill="#d2504a"/>
<circle cx="94.32" cy="183.62" r="0.55" fill="#d2504a"/>
<circle cx="98.3" cy="184.1" r="0.55" fill="#d2504a"/>
<circle cx="102.28" cy="184.43" r="0.55" fill="#d2504a"/>
<circle cx="106.27" cy="184.67" r="0.55" fill="#d2504a"/>
<circle cx="110.27" cy="184.9" r="0.55" fill="#d2504a"/>
<circle cx="48.2" cy="181.3" r="0.69" fill="#c4473f"/>
<circle cx="49.06" cy="181.58" r="0.69" fill="#c4473f"/>
<circle cx="49.91" cy="181.85" r="0.69" fill="#c4473f"/>
<circle cx="50.77" cy="182.13" r="0.69" fill="#c4473f"/>
<circle cx="51.63" cy="182.41" r="0.69" fill="#c4473f"/>
<circle cx="52.48" cy="182.69" r="0.69" fill="#c4473f"/>
<circle cx="53.34" cy="182.96" r="0.69" fill="#c4473f"/>
<circle cx="54.19" cy="183.24" r="0.69" fill="#c4473f"/>
<circle cx="55.05" cy="183.51" r="0.69" fill="#c4473f"/>
<circle cx="55.95" cy="183.6" r="0.69" fill="#c4473f"/>
<circle cx="56.84" cy="183.69" r="0.69" fill="#c4473f"/>
<circle cx="57.74" cy="183.78" r="0.69" fill="#c4473f"/>
<circle cx="58.63" cy="183.87" r="0.69" fill="#c4473f"/>
<circle cx="59.53" cy="183.96" r="0.69" fill="#c4473f"/>
<circle cx="60.42" cy="184.06" r="0.69" fill="#c4473f"/>
<circle cx="61.32" cy="184.15" r="0.69" fill="#c4473f"/>
<circle cx="62.22" cy="184.24" r="0.69" fill="#c4473f"/>
<circle cx="63.11" cy="184.29" r="0.69" fill="#c4473f"/>
<circle cx="64.01" cy="184.25" r="0.69" fill="#c4473f"/>
<circle cx="64.91" cy="184.21" r="0.69" fill="#c4473f"/>
<circle cx="65.81" cy="184.18" r="0.69" fill="#c4473f"/>
<circle cx="66.71" cy="184.14" r="0.69" fill="#c4473f"/>
<circle cx="67.61" cy="184.1" r="0.69" fill="#c4473f"/>
<circle cx="68.51" cy="184.07" r="0.69" fill="#c4473f"/>
<circle cx="69.41" cy="184.03" r="0.69" fill="#c4473f"/>
<circle cx="70.31" cy="183.99" r="0.69" fill="#c4473f"/>
<circle cx="71.2" cy="183.96" r="0.69" fill="#c4473f"/>
<circle cx="72.1" cy="183.92" r="0.69" fill="#c4473f"/>
<circle cx="73" cy="183.88" r="0.69" fill="#c4473f"/>
<circle cx="73.9" cy="183.84" r="0.69" fill="#c4473f"/>
<circle cx="74.8" cy="183.81" r="0.69" fill="#c4473f"/>
<circle cx="75.7" cy="183.79" r="0.69" fill="#c4473f"/>
<circle cx="76.6" cy="183.77" r="0.69" fill="#c4473f"/>
<circle cx="77.5" cy="183.75" r="0.69" fill="#c4473f"/>
<circle cx="78.4" cy="183.73" r="0.69" fill="#c4473f"/>
<circle cx="79.3" cy="183.71" r="0.69" fill="#c4473f"/>
<circle cx="80.2" cy="183.7" r="0.69" fill="#c4473f"/>
<circle cx="81.1" cy="183.68" r="0.69" fill="#c4473f"/>
<circle cx="82" cy="183.66" r="0.69" fill="#c4473f"/>
<circle cx="82.9" cy="183.64" r="0.69" fill="#c4473f"/>
<circle cx="83.8" cy="183.62" r="0.69" fill="#c4473f"/>
<circle cx="84.7" cy="183.61" r="0.69" fill="#c4473f"/>
<circle cx="85.6" cy="183.59" r="0.69" fill="#c4473f"/>
<circle cx="86.5" cy="183.57" r="0.69" fill="#c4473f"/>
<circle cx="87.4" cy="183.55" r="0.69" fill="#c4473f"/>
<circle cx="88.3" cy="183.53" r="0.69" fill="#c4473f"/>
<circle cx="89.2" cy="183.52" r="0.69" fill="#c4473f"/>
<circle cx="90.1" cy="183.5" r="0.69" fill="#c4473f"/>
<circle cx="91" cy="183.55" r="0.69" fill="#c4473f"/>
<circle cx="91.9" cy="183.59" r="0.69" fill="#c4473f"/>
<circle cx="92.8" cy="183.64" r="0.69" fill="#c4473f"/>
<circle cx="93.69" cy="183.68" r="0.69" fill="#c4473f"/>
<circle cx="94.59" cy="183.73" r="0.69" fill="#c4473f"/>
<circle cx="95.49" cy="183.77" r="0.69" fill="#c4473f"/>
<circle cx="96.39" cy="183.82" r="0.69" fill="#c4473f"/>
<circle cx="97.29" cy="183.86" r="0.69" fill="#c4473f"/>
<circle cx="98.19" cy="183.91" r="0.69" fill="#c4473f"/>
<circle cx="99.09" cy="183.95" r="0.69" fill="#c4473f"/>
<circle cx="99.99" cy="184" r="0.69" fill="#c4473f"/>
<circle cx="100.88" cy="184.08" r="0.69" fill="#c4473f"/>
<circle cx="101.78" cy="184.16" r="0.69" fill="#c4473f"/>
<circle cx="102.68" cy="184.24" r="0.69" fill="#c4473f"/>
<circle cx="103.57" cy="184.32" r="0.69" fill="#c4473f"/>
<circle cx="104.47" cy="184.41" r="0.69" fill="#c4473f"/>
<circle cx="105.36" cy="184.49" r="0.69" fill="#c4473f"/>
<circle cx="106.26" cy="184.57" r="0.69" fill="#c4473f"/>
<circle cx="107.16" cy="184.65" r="0.69" fill="#c4473f"/>
<circle cx="108.05" cy="184.73" r="0.69" fill="#c4473f"/>
<circle cx="108.95" cy="184.81" r="0.69" fill="#c4473f"/>
<circle cx="109.85" cy="184.9" r="0.69" fill="#c4473f"/>
<circle cx="110.74" cy="184.98" r="0.69" fill="#c4473f"/>
<path d="M34.3,171.4 C36.08,171.38 40.98,171.37 45,171.3 C49.02,171.23 53.73,171.47 58.4,171 C63.07,170.53 68.13,170.25 73,168.5 C77.87,166.75 83.93,162.5 87.6,160.5 C91.27,158.5 91.33,158.45 95,156.5 C98.67,154.55 104.73,151.03 109.6,148.8 C114.47,146.57 120.3,144.33 124.2,143.1 C128.1,141.87 129.35,141.52 133,141.4 C136.65,141.28 141.48,141.87 146.1,142.4 C150.72,142.93 155.83,143.98 160.7,144.6 C165.57,145.22 169.65,145.53 175.3,146.1 C180.95,146.67 188.95,147.07 194.6,148 C200.25,148.93 204.33,150.23 209.2,151.7 C214.07,153.17 218.93,154.98 223.8,156.8 C228.67,158.62 233.53,160.9 238.4,162.6 C243.27,164.3 248.25,166.02 253,167 C257.75,167.98 264.58,168.25 266.9,168.5 L266.9,191.8 C264.58,190.22 257.75,185.58 253,182.3 C248.25,179.02 243.27,175.5 238.4,172.1 C233.53,168.7 228.67,164.7 223.8,161.9 C218.93,159.1 214,156.7 209.2,155.3 C204.4,153.9 200.65,154.07 195,153.5 C189.35,152.93 181.02,152.42 175.3,151.9 C169.58,151.38 165.57,150.88 160.7,150.4 C155.83,149.92 150.72,149.23 146.1,149 C141.48,148.77 136.65,148.63 133,149 C129.35,149.37 128.1,149.75 124.2,151.2 C120.3,152.65 113.63,155.73 109.6,157.7 C105.57,159.67 102.43,161.7 100,163 C97.57,164.3 98.28,163.87 95,165.5 C91.72,167.13 86.4,169.75 80.3,172.8 C74.2,175.85 66.07,179.53 58.4,183.8 C50.73,188.07 38.32,195.97 34.3,198.4 Z" fill="#999999" fill-opacity="0.4"/>
<path d="M34,185.5 C36.67,184.75 45.25,182.33 50,181 C54.75,179.67 58.33,178.92 62.5,177.5 C66.67,176.08 70.83,174.33 75,172.5 C79.17,170.67 84.17,168.23 87.5,166.5 C90.83,164.77 91.32,164.05 95,162.1 C98.68,160.15 104.73,157.23 109.6,154.8 C114.47,152.37 120.07,149.13 124.2,147.5 C128.33,145.87 130.75,145.37 134.4,145 C138.05,144.63 141.72,144.88 146.1,145.3 C150.48,145.72 155.83,146.88 160.7,147.5 C165.57,148.12 169.58,148.38 175.3,149 C181.02,149.62 189.35,150.38 195,151.2 C200.65,152.02 204.4,152.37 209.2,153.9 C214,155.43 218.93,157.97 223.8,160.4 C228.67,162.83 233.53,166.18 238.4,168.5 C243.27,170.82 248.25,172.48 253,174.3 C257.75,176.12 264.58,178.55 266.9,179.4" fill="none" stroke="#5d8fd8" stroke-width="0.7" stroke-linecap="round"/>
<line x1="22.6" y1="9" x2="22.6" y2="208.7" stroke="#3a3a3a" stroke-width="1"/>
<line x1="22.1" y1="208.2" x2="278.5" y2="208.2" stroke="#3a3a3a" stroke-width="1"/>
<line x1="21.2" y1="160" x2="22.6" y2="160" stroke="#3a3a3a" stroke-width="0.5"/>
<text x="20.6" y="160.8" font-size="3.2" fill="#222" text-anchor="end" dominant-baseline="central" stroke="#222" stroke-width="0.12">1</text>
<line x1="21.2" y1="108.75" x2="22.6" y2="108.75" stroke="#3a3a3a" stroke-width="0.5"/>
<text x="20.6" y="109.55" font-size="3.2" fill="#222" text-anchor="end" dominant-baseline="central" stroke="#222" stroke-width="0.12">2</text>
<line x1="21.2" y1="57.8" x2="22.6" y2="57.8" stroke="#3a3a3a" stroke-width="0.5"/>
<text x="20.6" y="58.6" font-size="3.2" fill="#222" text-anchor="end" dominant-baseline="central" stroke="#222" stroke-width="0.12">3</text>
<line x1="94.5" y1="208.2" x2="94.5" y2="209.6" stroke="#3a3a3a" stroke-width="0.5"/>
<text x="94.5" y="212.2" font-size="3.2" fill="#222" text-anchor="middle" dominant-baseline="central" stroke="#222" stroke-width="0.12">0.4</text>
<line x1="166.4" y1="208.2" x2="166.4" y2="209.6" stroke="#3a3a3a" stroke-width="0.5"/>
<text x="166.4" y="212.2" font-size="3.2" fill="#222" text-anchor="middle" dominant-baseline="central" stroke="#222" stroke-width="0.12">0.6</text>
<line x1="238.8" y1="208.2" x2="238.8" y2="209.6" stroke="#3a3a3a" stroke-width="0.5"/>
<text x="238.8" y="212.2" font-size="3.2" fill="#222" text-anchor="middle" dominant-baseline="central" stroke="#222" stroke-width="0.12">0.8</text>
<text x="150.4" y="215.2" font-size="4" fill="#111" text-anchor="middle" dominant-baseline="central" font-weight="bold" stroke="#111" stroke-width="0.1" textLength="6.6" lengthAdjust="spacingAndGlyphs">SDI</text>
<text x="15.6" y="107.8" font-size="3.7" fill="#111" text-anchor="middle" dominant-baseline="central" font-weight="bold" stroke="#111" stroke-width="0.16" textLength="65.5" lengthAdjust="spacingAndGlyphs" transform="rotate(-90 15.6 107.8)">Deaths Rate per 100,000 population</text>
<circle cx="285.2" cy="82.4" r="0.88" fill="none" stroke="#eea39a" stroke-width="0.5"/>
<text x="288" y="83.3" font-size="3.5" fill="#111" text-anchor="start" dominant-baseline="central" font-weight="bold" stroke="#111" stroke-width="0.15" textLength="8.7" lengthAdjust="spacingAndGlyphs">Global</text>
<polygon points="285.2,84.09 284.21,85.85 286.19,85.85" fill="none" stroke="#8fd3e3" stroke-width="0.7"/>
<text x="288" y="86.09" font-size="3.5" fill="#111" text-anchor="start" dominant-baseline="central" font-weight="bold" stroke="#111" stroke-width="0.15" textLength="33.5" lengthAdjust="spacingAndGlyphs">High-income Asia Pacific</text>
<polygon points="285.2,86.88 284.15,88.7 286.25,88.7" fill="#2aa69c"/>
<text x="288" y="88.88" font-size="3.5" fill="#111" text-anchor="start" dominant-baseline="central" font-weight="bold" stroke="#111" stroke-width="0.15" textLength="37.2" lengthAdjust="spacingAndGlyphs">High-income North America</text>
<rect x="284.32" y="89.89" width="1.76" height="1.76" fill="#a6b0d6"/>
<text x="288" y="91.67" font-size="3.5" fill="#111" text-anchor="start" dominant-baseline="central" font-weight="bold" stroke="#111" stroke-width="0.15" textLength="21.7" lengthAdjust="spacingAndGlyphs">Western Europe</text>
<polygon points="285.2,92.46 284.21,94.22 286.19,94.22" fill="none" stroke="#f0b49d" stroke-width="0.7"/>
<text x="288" y="94.46" font-size="3.5" fill="#111" text-anchor="start" dominant-baseline="central" font-weight="bold" stroke="#111" stroke-width="0.15" textLength="14.9" lengthAdjust="spacingAndGlyphs">Australasia</text>
<polygon points="285.2,95.25 284.21,97.01 286.19,97.01" fill="none" stroke="#a5aed3" stroke-width="0.7"/>
<text x="288" y="97.25" font-size="3.5" fill="#111" text-anchor="start" dominant-baseline="central" font-weight="bold" stroke="#111" stroke-width="0.15" textLength="29.4" lengthAdjust="spacingAndGlyphs">Andean Latin America</text>
<polygon points="285.2,98.04 284.21,99.8 286.19,99.8" fill="none" stroke="#a3dcc6" stroke-width="0.7"/>
<text x="288" y="100.04" font-size="3.5" fill="#111" text-anchor="start" dominant-baseline="central" font-weight="bold" stroke="#111" stroke-width="0.15" textLength="29.4" lengthAdjust="spacingAndGlyphs">Tropical Latin America</text>
<circle cx="285.2" cy="101.93" r="0.88" fill="#d7383b"/>
<text x="288" y="102.83" font-size="3.5" fill="#111" text-anchor="start" dominant-baseline="central" font-weight="bold" stroke="#111" stroke-width="0.15" textLength="28.5" lengthAdjust="spacingAndGlyphs">Central Latin America</text>
<polygon points="285.2,103.62 286.3,104.72 285.2,105.82 284.1,104.72" fill="#8c6d5c"/>
<text x="288" y="105.62" font-size="3.5" fill="#111" text-anchor="start" dominant-baseline="central" font-weight="bold" stroke="#111" stroke-width="0.15" textLength="31" lengthAdjust="spacingAndGlyphs">Southern Latin America</text>
<polygon points="285.2,106.41 286.3,107.51 285.2,108.61 284.1,107.51" fill="#3f4c9e"/>
<text x="288" y="108.41" font-size="3.5" fill="#111" text-anchor="start" dominant-baseline="central" font-weight="bold" stroke="#111" stroke-width="0.15" textLength="14" lengthAdjust="spacingAndGlyphs">Caribbean</text>
<circle cx="285.2" cy="110.3" r="0.88" fill="#e0393b"/>
<text x="288" y="111.2" font-size="3.5" fill="#111" text-anchor="start" dominant-baseline="central" font-weight="bold" stroke="#111" stroke-width="0.15" textLength="19.9" lengthAdjust="spacingAndGlyphs">Central Europe</text>
<rect x="284.32" y="112.21" width="1.76" height="1.76" fill="#2c9a5c"/>
<text x="288" y="113.99" font-size="3.5" fill="#111" text-anchor="start" dominant-baseline="central" font-weight="bold" stroke="#111" stroke-width="0.15" textLength="20.7" lengthAdjust="spacingAndGlyphs">Eastern Europe</text>
<rect x="284.32" y="115" width="1.76" height="1.76" fill="#7b3fa0"/>
<text x="288" y="116.78" font-size="3.5" fill="#111" text-anchor="start" dominant-baseline="central" font-weight="bold" stroke="#111" stroke-width="0.15" textLength="16.1" lengthAdjust="spacingAndGlyphs">Central Asia</text>
<rect x="284.32" y="117.79" width="1.76" height="1.76" fill="#2a9d96"/>
<text x="288" y="119.57" font-size="3.5" fill="#111" text-anchor="start" dominant-baseline="central" font-weight="bold" stroke="#111" stroke-width="0.15" textLength="37.8" lengthAdjust="spacingAndGlyphs">North Africa and Middle East</text>
<polygon points="285.2,120.36 286.3,121.46 285.2,122.56 284.1,121.46" fill="#d04048"/>
<text x="288" y="122.36" font-size="3.5" fill="#111" text-anchor="start" dominant-baseline="central" font-weight="bold" stroke="#111" stroke-width="0.15" textLength="14.3" lengthAdjust="spacingAndGlyphs">South Asia</text>
<polygon points="285.2,123.15 284.15,124.97 286.25,124.97" fill="#6a5bbf"/>
<text x="288" y="125.15" font-size="3.5" fill="#111" text-anchor="start" dominant-baseline="central" font-weight="bold" stroke="#111" stroke-width="0.15" textLength="19.9" lengthAdjust="spacingAndGlyphs">Southeast Asia</text>
<polygon points="285.2,125.94 284.15,127.76 286.25,127.76" fill="#b24597"/>
<text x="288" y="127.94" font-size="3.5" fill="#111" text-anchor="start" dominant-baseline="central" font-weight="bold" stroke="#111" stroke-width="0.15" textLength="13" lengthAdjust="spacingAndGlyphs">East Asia</text>
<circle cx="285.2" cy="129.83" r="0.61" fill="#999999"/>
<text x="288" y="130.73" font-size="3.5" fill="#111" text-anchor="start" dominant-baseline="central" font-weight="bold" stroke="#111" stroke-width="0.15" textLength="11.2" lengthAdjust="spacingAndGlyphs">Oceania</text>
<circle cx="285.2" cy="132.62" r="0.88" fill="#e06a55"/>
<text x="288" y="133.52" font-size="3.5" fill="#111" text-anchor="start" dominant-baseline="central" font-weight="bold" stroke="#111" stroke-width="0.15" textLength="38.5" lengthAdjust="spacingAndGlyphs">Western Sub-Saharan Africa</text>
<polygon points="285.2,134.31 286.3,135.41 285.2,136.51 284.1,135.41" fill="#2b8fd0"/>
<text x="288" y="136.31" font-size="3.5" fill="#111" text-anchor="start" dominant-baseline="central" font-weight="bold" stroke="#111" stroke-width="0.15" textLength="37.8" lengthAdjust="spacingAndGlyphs">Eastern Sub-Saharan Africa</text>
<polygon points="285.2,137.1 284.15,138.91 286.25,138.91" fill="#f1b271"/>
<text x="288" y="139.1" font-size="3.5" fill="#111" text-anchor="start" dominant-baseline="central" font-weight="bold" stroke="#111" stroke-width="0.15" textLength="37.2" lengthAdjust="spacingAndGlyphs">Central Sub-Saharan Africa</text>
<circle cx="285.2" cy="140.99" r="0.88" fill="#7fc6a6"/>
<text x="288" y="141.89" font-size="3.5" fill="#111" text-anchor="start" dominant-baseline="central" font-weight="bold" stroke="#111" stroke-width="0.15" textLength="39.7" lengthAdjust="spacingAndGlyphs">Southern Sub-Saharan Africa</text>
<text x="355.6" y="4.1" font-size="10.8" fill="#111" text-anchor="start" dominant-baseline="central">b</text>
<path d="M403.9,124.1 C406.9,125.08 415.25,127.92 421.9,130 C428.55,132.08 436.5,135.13 443.8,136.6 C451.1,138.07 458.4,138.43 465.7,138.8 C473,139.17 480.3,138.92 487.6,138.8 C494.9,138.68 502.2,137.92 509.5,138.1 C516.8,138.28 526.32,139.35 531.4,139.9 C536.48,140.45 535.65,140.57 540,141.4 C544.35,142.23 551.67,143.88 557.5,144.9 C563.33,145.92 569.17,146.48 575,147.5 C580.83,148.52 586.67,149.53 592.5,151 C598.33,152.47 604.15,154.7 610,156.3 C615.85,157.9 621.77,159.43 627.6,160.6 C633.43,161.77 642.1,162.85 645,163.3 L645,198.3 C643.55,196.25 639.2,189.5 636.3,186 C633.4,182.5 630.52,179.77 627.6,177.3 C624.68,174.83 621.73,172.8 618.8,171.2 C615.87,169.6 614.38,169.17 610,167.7 C605.62,166.23 598.33,164.02 592.5,162.4 C586.67,160.78 580.83,159.47 575,158 C569.17,156.53 563.33,154.77 557.5,153.6 C551.67,152.43 544.35,151.53 540,151 C535.65,150.47 536.48,150.43 531.4,150.4 C526.32,150.37 516.8,150.55 509.5,150.8 C502.2,151.05 494.9,151.17 487.6,151.9 C480.3,152.63 473,154.1 465.7,155.2 C458.4,156.3 451.1,157.22 443.8,158.5 C436.5,159.78 428.55,161.18 421.9,162.9 C415.25,164.62 406.9,167.82 403.9,168.8 Z" fill="#cfcfcf" fill-opacity="0.85"/>
<line x1="551.43" y1="166.98" x2="566.82" y2="161.43" stroke="#00aaa4" stroke-width="0.35"/>
<circle cx="566.82" cy="161.43" r="0.5" fill="#00aaa4"/>
<line x1="623.91" y1="139.24" x2="629.73" y2="127.68" stroke="#00b1d6" stroke-width="0.35"/>
<circle cx="629.73" cy="127.68" r="0.5" fill="#00b1d6"/>
<line x1="612.74" y1="132.06" x2="609.5" y2="138.55" stroke="#a76ef0" stroke-width="0.35"/>
<circle cx="609.5" cy="138.55" r="0.5" fill="#a76ef0"/>
<line x1="630.27" y1="172.58" x2="617.12" y2="166.29" stroke="#00ad7a" stroke-width="0.35"/>
<circle cx="617.12" cy="166.29" r="0.5" fill="#00ad7a"/>
<line x1="587.71" y1="171.17" x2="592.26" y2="176.02" stroke="#00aaa4" stroke-width="0.35"/>
<circle cx="592.26" cy="176.02" r="0.5" fill="#00aaa4"/>
<line x1="481.37" y1="127.67" x2="495.91" y2="118.07" stroke="#a76ef0" stroke-width="0.35"/>
<circle cx="495.91" cy="118.07" r="0.5" fill="#a76ef0"/>
<line x1="553.51" y1="158.04" x2="563.59" y2="147.28" stroke="#199ee6" stroke-width="0.35"/>
<circle cx="563.59" cy="147.28" r="0.5" fill="#199ee6"/>
<line x1="522.95" y1="125.34" x2="541.11" y2="132.86" stroke="#14a33f" stroke-width="0.35"/>
<circle cx="541.11" cy="132.86" r="0.5" fill="#14a33f"/>
<line x1="649.58" y1="199.68" x2="661.48" y2="186.59" stroke="#74aa12" stroke-width="0.35"/>
<circle cx="661.48" cy="186.59" r="0.5" fill="#74aa12"/>
<line x1="606.44" y1="163.47" x2="625.37" y2="165.97" stroke="#ef5a78" stroke-width="0.35"/>
<circle cx="625.37" cy="165.97" r="0.5" fill="#ef5a78"/>
<line x1="542.07" y1="188.49" x2="521.53" y2="200.93" stroke="#d65fe0" stroke-width="0.35"/>
<circle cx="521.53" cy="200.93" r="0.5" fill="#d65fe0"/>
<line x1="593.28" y1="141.01" x2="601.39" y2="138.21" stroke="#14a33f" stroke-width="0.35"/>
<circle cx="601.39" cy="138.21" r="0.5" fill="#14a33f"/>
<line x1="646.46" y1="154.81" x2="664.92" y2="161.19" stroke="#a76ef0" stroke-width="0.35"/>
<circle cx="664.92" cy="161.19" r="0.5" fill="#a76ef0"/>
<line x1="591.48" y1="150.27" x2="588.37" y2="155.65" stroke="#14a33f" stroke-width="0.35"/>
<circle cx="588.37" cy="155.65" r="0.5" fill="#14a33f"/>
<line x1="606.45" y1="133.85" x2="606.67" y2="140.86" stroke="#e4483b" stroke-width="0.35"/>
<circle cx="606.67" cy="140.86" r="0.5" fill="#e4483b"/>
<line x1="553.69" y1="161.51" x2="548.82" y2="154.01" stroke="#00aaa4" stroke-width="0.35"/>
<circle cx="548.82" cy="154.01" r="0.5" fill="#00aaa4"/>
<line x1="504.32" y1="179.89" x2="518.52" y2="190.6" stroke="#ef5a78" stroke-width="0.35"/>
<circle cx="518.52" cy="190.6" r="0.5" fill="#ef5a78"/>
<line x1="541.07" y1="199.25" x2="566.36" y2="199.31" stroke="#a76ef0" stroke-width="0.35"/>
<circle cx="566.36" cy="199.31" r="0.5" fill="#a76ef0"/>
<line x1="576.69" y1="199.84" x2="588.35" y2="200.85" stroke="#d65fe0" stroke-width="0.35"/>
<circle cx="588.35" cy="200.85" r="0.5" fill="#d65fe0"/>
<line x1="578.36" y1="168.27" x2="588.91" y2="170.27" stroke="#00ad7a" stroke-width="0.35"/>
<circle cx="588.91" cy="170.27" r="0.5" fill="#00ad7a"/>
<line x1="516.49" y1="182.95" x2="509.86" y2="191.53" stroke="#ef5a78" stroke-width="0.35"/>
<circle cx="509.86" cy="191.53" r="0.5" fill="#ef5a78"/>
<line x1="483.37" y1="140.65" x2="477.94" y2="136.25" stroke="#74aa12" stroke-width="0.35"/>
<circle cx="477.94" cy="136.25" r="0.5" fill="#74aa12"/>
<line x1="536.91" y1="158.99" x2="554" y2="155.85" stroke="#00b1d6" stroke-width="0.35"/>
<circle cx="554" cy="155.85" r="0.5" fill="#00b1d6"/>
<line x1="494.43" y1="153.96" x2="484.52" y2="146.82" stroke="#c6940a" stroke-width="0.35"/>
<circle cx="484.52" cy="146.82" r="0.5" fill="#c6940a"/>
<line x1="617.2" y1="143.71" x2="625.62" y2="158.54" stroke="#00aaa4" stroke-width="0.35"/>
<circle cx="625.62" cy="158.54" r="0.5" fill="#00aaa4"/>
<line x1="505.39" y1="196.26" x2="520.2" y2="186.78" stroke="#14a33f" stroke-width="0.35"/>
<circle cx="520.2" cy="186.78" r="0.5" fill="#14a33f"/>
<line x1="478.53" y1="133.18" x2="465.47" y2="132.47" stroke="#6e85f2" stroke-width="0.35"/>
<circle cx="465.47" cy="132.47" r="0.5" fill="#6e85f2"/>
<line x1="596.82" y1="144.27" x2="605.73" y2="131.79" stroke="#9f9e00" stroke-width="0.35"/>
<circle cx="605.73" cy="131.79" r="0.5" fill="#9f9e00"/>
<line x1="563.61" y1="194.69" x2="574.03" y2="193.64" stroke="#00ad7a" stroke-width="0.35"/>
<circle cx="574.03" cy="193.64" r="0.5" fill="#00ad7a"/>
<line x1="570.69" y1="188.93" x2="560.44" y2="182.66" stroke="#ee5aa9" stroke-width="0.35"/>
<circle cx="560.44" cy="182.66" r="0.5" fill="#ee5aa9"/>
<line x1="634.69" y1="181.17" x2="649.41" y2="185.96" stroke="#c6940a" stroke-width="0.35"/>
<circle cx="649.41" cy="185.96" r="0.5" fill="#c6940a"/>
<line x1="480.88" y1="138.22" x2="467.68" y2="148.21" stroke="#df7a1c" stroke-width="0.35"/>
<circle cx="467.68" cy="148.21" r="0.5" fill="#df7a1c"/>
<line x1="486.59" y1="135.38" x2="472.68" y2="138.52" stroke="#6e85f2" stroke-width="0.35"/>
<circle cx="472.68" cy="138.52" r="0.5" fill="#6e85f2"/>
<line x1="594.42" y1="168.83" x2="599.95" y2="173.53" stroke="#e4483b" stroke-width="0.35"/>
<circle cx="599.95" cy="173.53" r="0.5" fill="#e4483b"/>
<line x1="555.46" y1="151.81" x2="552.18" y2="157.43" stroke="#00b1d6" stroke-width="0.35"/>
<circle cx="552.18" cy="157.43" r="0.5" fill="#00b1d6"/>
<line x1="584.51" y1="161.17" x2="582.76" y2="151.18" stroke="#ef5a78" stroke-width="0.35"/>
<circle cx="582.76" cy="151.18" r="0.5" fill="#ef5a78"/>
<line x1="483.55" y1="165.96" x2="481.43" y2="147.82" stroke="#6e85f2" stroke-width="0.35"/>
<circle cx="481.43" cy="147.82" r="0.5" fill="#6e85f2"/>
<line x1="602.69" y1="134.72" x2="617.13" y2="132.35" stroke="#ef5a78" stroke-width="0.35"/>
<circle cx="617.13" cy="132.35" r="0.5" fill="#ef5a78"/>
<line x1="593.33" y1="192.56" x2="604.6" y2="184.28" stroke="#a76ef0" stroke-width="0.35"/>
<circle cx="604.6" cy="184.28" r="0.5" fill="#a76ef0"/>
<line x1="475.45" y1="162.49" x2="496.61" y2="163.85" stroke="#14a33f" stroke-width="0.35"/>
<circle cx="496.61" cy="163.85" r="0.5" fill="#14a33f"/>
<line x1="574.88" y1="170.67" x2="593.09" y2="177.69" stroke="#9f9e00" stroke-width="0.35"/>
<circle cx="593.09" cy="177.69" r="0.5" fill="#9f9e00"/>
<line x1="628.36" y1="179.62" x2="611.01" y2="189.86" stroke="#00b1d6" stroke-width="0.35"/>
<circle cx="611.01" cy="189.86" r="0.5" fill="#00b1d6"/>
<line x1="552.4" y1="159.7" x2="534.64" y2="156.4" stroke="#00aaa4" stroke-width="0.35"/>
<circle cx="534.64" cy="156.4" r="0.5" fill="#00aaa4"/>
<line x1="475.36" y1="170.1" x2="462.85" y2="171.15" stroke="#6e85f2" stroke-width="0.35"/>
<circle cx="462.85" cy="171.15" r="0.5" fill="#6e85f2"/>
<line x1="490.32" y1="183.5" x2="480.83" y2="173.01" stroke="#ee5aa9" stroke-width="0.35"/>
<circle cx="480.83" cy="173.01" r="0.5" fill="#ee5aa9"/>
<line x1="472.04" y1="147.58" x2="466.78" y2="139.99" stroke="#df7a1c" stroke-width="0.35"/>
<circle cx="466.78" cy="139.99" r="0.5" fill="#df7a1c"/>
<line x1="605.68" y1="150.69" x2="621.95" y2="145.36" stroke="#c6940a" stroke-width="0.35"/>
<circle cx="621.95" cy="145.36" r="0.5" fill="#c6940a"/>
<line x1="528.85" y1="174.94" x2="534.14" y2="185.97" stroke="#a76ef0" stroke-width="0.35"/>
<circle cx="534.14" cy="185.97" r="0.5" fill="#a76ef0"/>
<line x1="605.83" y1="140.02" x2="608.6" y2="148.48" stroke="#ee5aa9" stroke-width="0.35"/>
<circle cx="608.6" cy="148.48" r="0.5" fill="#ee5aa9"/>
<line x1="526.97" y1="135.21" x2="502.23" y2="135.6" stroke="#d65fe0" stroke-width="0.35"/>
<circle cx="502.23" cy="135.6" r="0.5" fill="#d65fe0"/>
<line x1="477.3" y1="129.81" x2="501.55" y2="127.7" stroke="#ef5a78" stroke-width="0.35"/>
<circle cx="501.55" cy="127.7" r="0.5" fill="#ef5a78"/>
<line x1="551.12" y1="145.64" x2="554.76" y2="156.74" stroke="#199ee6" stroke-width="0.35"/>
<circle cx="554.76" cy="156.74" r="0.5" fill="#199ee6"/>
<line x1="563.6" y1="175.41" x2="558.37" y2="158.41" stroke="#00b1d6" stroke-width="0.35"/>
<circle cx="558.37" cy="158.41" r="0.5" fill="#00b1d6"/>
<line x1="551.45" y1="130.6" x2="576.41" y2="134.1" stroke="#e4483b" stroke-width="0.35"/>
<circle cx="576.41" cy="134.1" r="0.5" fill="#e4483b"/>
<line x1="592.09" y1="146.08" x2="579.31" y2="157.73" stroke="#00b1d6" stroke-width="0.35"/>
<circle cx="579.31" cy="157.73" r="0.5" fill="#00b1d6"/>
<circle cx="529.31" cy="23.6" r="0.5" fill="#199ee6"/>
<circle cx="536.08" cy="40.1" r="0.5" fill="#c6940a"/>
<circle cx="505.73" cy="83.3" r="0.5" fill="#14a33f"/>
<circle cx="499.38" cy="89.6" r="0.5" fill="#c6940a"/>
<circle cx="540.37" cy="88.9" r="0.5" fill="#9f9e00"/>
<circle cx="496.7" cy="95" r="0.5" fill="#00aaa4"/>
<circle cx="495.71" cy="101.5" r="0.5" fill="#14a33f"/>
<circle cx="544.23" cy="98.1" r="0.5" fill="#199ee6"/>
<circle cx="552.91" cy="100.6" r="0.5" fill="#6e85f2"/>
<circle cx="573.97" cy="95.2" r="0.5" fill="#9f9e00"/>
<circle cx="556.56" cy="106.6" r="0.5" fill="#74aa12"/>
<circle cx="575.75" cy="105.7" r="0.5" fill="#74aa12"/>
<circle cx="589.32" cy="112.9" r="0.5" fill="#199ee6"/>
<circle cx="556.01" cy="114.6" r="0.5" fill="#9f9e00"/>
<circle cx="441.82" cy="101.3" r="0.5" fill="#e4483b"/>
<circle cx="466.68" cy="111.3" r="0.5" fill="#d65fe0"/>
<circle cx="505.87" cy="111.3" r="0.5" fill="#74aa12"/>
<circle cx="533.32" cy="112.1" r="0.5" fill="#199ee6"/>
<circle cx="545.91" cy="116.9" r="0.5" fill="#ee5aa9"/>
<circle cx="468.68" cy="119.6" r="0.5" fill="#14a33f"/>
<circle cx="498.9" cy="118.6" r="0.5" fill="#199ee6"/>
<circle cx="579.25" cy="119.7" r="0.5" fill="#e4483b"/>
<circle cx="600.73" cy="119.7" r="0.5" fill="#9f9e00"/>
<line x1="473.46" y1="123.3" x2="476.17" y2="130.94" stroke="#ef5a78" stroke-width="0.35"/>
<circle cx="476.17" cy="130.94" r="0.5" fill="#ef5a78"/>
<line x1="516.13" y1="123.3" x2="502.8" y2="126.59" stroke="#ee5aa9" stroke-width="0.35"/>
<circle cx="502.8" cy="126.59" r="0.5" fill="#ee5aa9"/>
<line x1="530.65" y1="123.2" x2="533.32" y2="131.28" stroke="#00aaa4" stroke-width="0.35"/>
<circle cx="533.32" cy="131.28" r="0.5" fill="#00aaa4"/>
<line x1="557.31" y1="120.2" x2="565.46" y2="112.24" stroke="#df7a1c" stroke-width="0.35"/>
<circle cx="565.46" cy="112.24" r="0.5" fill="#df7a1c"/>
<line x1="572.26" y1="121.9" x2="593.57" y2="121.3" stroke="#199ee6" stroke-width="0.35"/>
<circle cx="593.57" cy="121.3" r="0.5" fill="#199ee6"/>
<line x1="622.46" y1="121" x2="619.17" y2="110.07" stroke="#199ee6" stroke-width="0.35"/>
<circle cx="619.17" cy="110.07" r="0.5" fill="#199ee6"/>
<line x1="408.36" y1="123.8" x2="416.9" y2="114.48" stroke="#00b1d6" stroke-width="0.35"/>
<circle cx="416.9" cy="114.48" r="0.5" fill="#00b1d6"/>
<line x1="438.59" y1="122" x2="454.17" y2="113.49" stroke="#14a33f" stroke-width="0.35"/>
<circle cx="454.17" cy="113.49" r="0.5" fill="#14a33f"/>
<line x1="454.54" y1="130.8" x2="463.92" y2="132.04" stroke="#6e85f2" stroke-width="0.35"/>
<circle cx="463.92" cy="132.04" r="0.5" fill="#6e85f2"/>
<line x1="487.51" y1="128.8" x2="494.69" y2="136.99" stroke="#a76ef0" stroke-width="0.35"/>
<circle cx="494.69" cy="136.99" r="0.5" fill="#a76ef0"/>
<line x1="509.38" y1="129.1" x2="499.96" y2="134.77" stroke="#ee5aa9" stroke-width="0.35"/>
<circle cx="499.96" cy="134.77" r="0.5" fill="#ee5aa9"/>
<line x1="540.7" y1="125.2" x2="528.33" y2="124.22" stroke="#9f9e00" stroke-width="0.35"/>
<circle cx="528.33" cy="124.22" r="0.5" fill="#9f9e00"/>
<line x1="561.43" y1="128.8" x2="579.12" y2="131.77" stroke="#199ee6" stroke-width="0.35"/>
<circle cx="579.12" cy="131.77" r="0.5" fill="#199ee6"/>
<line x1="570.91" y1="130.2" x2="564.45" y2="133.26" stroke="#199ee6" stroke-width="0.35"/>
<circle cx="564.45" cy="133.26" r="0.5" fill="#199ee6"/>
<circle cx="600.26" cy="126.3" r="0.5" fill="#df7a1c"/>
<line x1="617.98" y1="129" x2="606.25" y2="139.52" stroke="#a76ef0" stroke-width="0.35"/>
<circle cx="606.25" cy="139.52" r="0.5" fill="#a76ef0"/>
<circle cx="652.47" cy="125.1" r="0.5" fill="#a76ef0"/>
<line x1="477.1" y1="131.1" x2="491.51" y2="120.24" stroke="#e4483b" stroke-width="0.35"/>
<circle cx="491.51" cy="120.24" r="0.5" fill="#e4483b"/>
<line x1="480.99" y1="134" x2="494.59" y2="142.61" stroke="#d65fe0" stroke-width="0.35"/>
<circle cx="494.59" cy="142.61" r="0.5" fill="#d65fe0"/>
<circle cx="525.35" cy="134" r="0.5" fill="#ef5a78"/>
<line x1="540.72" y1="133.5" x2="545.24" y2="141.82" stroke="#e4483b" stroke-width="0.35"/>
<circle cx="545.24" cy="141.82" r="0.5" fill="#e4483b"/>
<line x1="564.06" y1="135.5" x2="555.42" y2="143.02" stroke="#ef5a78" stroke-width="0.35"/>
<circle cx="555.42" cy="143.02" r="0.5" fill="#ef5a78"/>
<line x1="578.74" y1="135.5" x2="573.4" y2="136.36" stroke="#00aaa4" stroke-width="0.35"/>
<circle cx="573.4" cy="136.36" r="0.5" fill="#00aaa4"/>
<line x1="621.41" y1="132.5" x2="602.98" y2="126.01" stroke="#e4483b" stroke-width="0.35"/>
<circle cx="602.98" cy="126.01" r="0.5" fill="#e4483b"/>
<line x1="639.78" y1="131.2" x2="643.78" y2="125.8" stroke="#00aaa4" stroke-width="0.35"/>
<circle cx="643.78" cy="125.8" r="0.5" fill="#00aaa4"/>
<line x1="396.53" y1="136" x2="401.14" y2="137.59" stroke="#c6940a" stroke-width="0.35"/>
<circle cx="401.14" cy="137.59" r="0.5" fill="#c6940a"/>
<line x1="426.89" y1="139.9" x2="426.91" y2="144.15" stroke="#c6940a" stroke-width="0.35"/>
<circle cx="426.91" cy="144.15" r="0.5" fill="#c6940a"/>
<line x1="465.67" y1="139" x2="472.95" y2="141.04" stroke="#ef5a78" stroke-width="0.35"/>
<circle cx="472.95" cy="141.04" r="0.5" fill="#ef5a78"/>
<line x1="509.29" y1="138.4" x2="506.63" y2="149.4" stroke="#ef5a78" stroke-width="0.35"/>
<circle cx="506.63" cy="149.4" r="0.5" fill="#ef5a78"/>
<line x1="547.05" y1="138.7" x2="541.67" y2="139.24" stroke="#6e85f2" stroke-width="0.35"/>
<circle cx="541.67" cy="139.24" r="0.5" fill="#6e85f2"/>
<line x1="579.86" y1="140.7" x2="582.55" y2="144.62" stroke="#14a33f" stroke-width="0.35"/>
<circle cx="582.55" cy="144.62" r="0.5" fill="#14a33f"/>
<line x1="597.66" y1="140.2" x2="601.86" y2="149.78" stroke="#a76ef0" stroke-width="0.35"/>
<circle cx="601.86" cy="149.78" r="0.5" fill="#a76ef0"/>
<line x1="625.35" y1="140.2" x2="633.08" y2="140.72" stroke="#c6940a" stroke-width="0.35"/>
<circle cx="633.08" cy="140.72" r="0.5" fill="#c6940a"/>
<line x1="642.39" y1="136.9" x2="637.36" y2="126.6" stroke="#00aaa4" stroke-width="0.35"/>
<circle cx="637.36" cy="126.6" r="0.5" fill="#00aaa4"/>
<line x1="441.27" y1="141.8" x2="461.19" y2="139.95" stroke="#d65fe0" stroke-width="0.35"/>
<circle cx="461.19" cy="139.95" r="0.5" fill="#d65fe0"/>
<line x1="457.87" y1="141.3" x2="450.43" y2="135.27" stroke="#ee5aa9" stroke-width="0.35"/>
<circle cx="450.43" cy="135.27" r="0.5" fill="#ee5aa9"/>
<line x1="469.75" y1="141.3" x2="465.59" y2="138.61" stroke="#c6940a" stroke-width="0.35"/>
<circle cx="465.59" cy="138.61" r="0.5" fill="#c6940a"/>
<circle cx="507.3" cy="144.4" r="0.5" fill="#ee5aa9"/>
<line x1="536.92" y1="143.5" x2="556.81" y2="149.72" stroke="#df7a1c" stroke-width="0.35"/>
<circle cx="556.81" cy="149.72" r="0.5" fill="#df7a1c"/>
<line x1="560.91" y1="140.5" x2="554.04" y2="138.72" stroke="#e4483b" stroke-width="0.35"/>
<circle cx="554.04" cy="138.72" r="0.5" fill="#e4483b"/>
<line x1="583.29" y1="143.3" x2="575.6" y2="140.35" stroke="#d65fe0" stroke-width="0.35"/>
<circle cx="575.6" cy="140.35" r="0.5" fill="#d65fe0"/>
<line x1="600.52" y1="142.5" x2="610.64" y2="131.1" stroke="#df7a1c" stroke-width="0.35"/>
<circle cx="610.64" cy="131.1" r="0.5" fill="#df7a1c"/>
<line x1="609.17" y1="146" x2="617.73" y2="147.23" stroke="#9f9e00" stroke-width="0.35"/>
<circle cx="617.73" cy="147.23" r="0.5" fill="#9f9e00"/>
<line x1="654.75" y1="139.6" x2="667.67" y2="133.71" stroke="#6e85f2" stroke-width="0.35"/>
<circle cx="667.67" cy="133.71" r="0.5" fill="#6e85f2"/>
<circle cx="626.62" cy="148.1" r="0.5" fill="#00b1d6"/>
<line x1="640.72" y1="144.2" x2="631.09" y2="139.29" stroke="#a76ef0" stroke-width="0.35"/>
<circle cx="631.09" cy="139.29" r="0.5" fill="#a76ef0"/>
<line x1="664.18" y1="145.8" x2="676.95" y2="136.24" stroke="#d65fe0" stroke-width="0.35"/>
<circle cx="676.95" cy="136.24" r="0.5" fill="#d65fe0"/>
<line x1="409.98" y1="149.2" x2="400.89" y2="151.8" stroke="#c6940a" stroke-width="0.35"/>
<circle cx="400.89" cy="151.8" r="0.5" fill="#c6940a"/>
<line x1="440.1" y1="148.3" x2="418.72" y2="144.34" stroke="#00aaa4" stroke-width="0.35"/>
<circle cx="418.72" cy="144.34" r="0.5" fill="#00aaa4"/>
<line x1="448.88" y1="146.9" x2="450.58" y2="137.89" stroke="#14a33f" stroke-width="0.35"/>
<circle cx="450.58" cy="137.89" r="0.5" fill="#14a33f"/>
<line x1="474.43" y1="149.5" x2="479.9" y2="153.13" stroke="#c6940a" stroke-width="0.35"/>
<circle cx="479.9" cy="153.13" r="0.5" fill="#c6940a"/>
<line x1="489" y1="149.5" x2="481.79" y2="157.12" stroke="#00b1d6" stroke-width="0.35"/>
<circle cx="481.79" cy="157.12" r="0.5" fill="#00b1d6"/>
<line x1="522.52" y1="149.1" x2="529.67" y2="152.83" stroke="#6e85f2" stroke-width="0.35"/>
<circle cx="529.67" cy="152.83" r="0.5" fill="#6e85f2"/>
<line x1="532.64" y1="146.1" x2="529.53" y2="137.73" stroke="#199ee6" stroke-width="0.35"/>
<circle cx="529.53" cy="137.73" r="0.5" fill="#199ee6"/>
<line x1="547.24" y1="149.1" x2="541.77" y2="155.99" stroke="#d65fe0" stroke-width="0.35"/>
<circle cx="541.77" cy="155.99" r="0.5" fill="#d65fe0"/>
<circle cx="560.28" cy="147.3" r="0.5" fill="#df7a1c"/>
<line x1="598.34" y1="148.1" x2="583.46" y2="140.21" stroke="#d65fe0" stroke-width="0.35"/>
<circle cx="583.46" cy="140.21" r="0.5" fill="#d65fe0"/>
<line x1="628.42" y1="152.9" x2="629.49" y2="156.78" stroke="#14a33f" stroke-width="0.35"/>
<circle cx="629.49" cy="156.78" r="0.5" fill="#14a33f"/>
<line x1="647.09" y1="151" x2="626.34" y2="145.66" stroke="#a76ef0" stroke-width="0.35"/>
<circle cx="626.34" cy="145.66" r="0.5" fill="#a76ef0"/>
<line x1="406.42" y1="153.5" x2="411.2" y2="141.4" stroke="#d65fe0" stroke-width="0.35"/>
<circle cx="411.2" cy="141.4" r="0.5" fill="#d65fe0"/>
<line x1="433.22" y1="157.9" x2="439.25" y2="160.25" stroke="#14a33f" stroke-width="0.35"/>
<circle cx="439.25" cy="160.25" r="0.5" fill="#14a33f"/>
<line x1="442.67" y1="157.9" x2="444.22" y2="172.13" stroke="#df7a1c" stroke-width="0.35"/>
<circle cx="444.22" cy="172.13" r="0.5" fill="#df7a1c"/>
<line x1="480.52" y1="154.8" x2="485.27" y2="159.79" stroke="#a76ef0" stroke-width="0.35"/>
<circle cx="485.27" cy="159.79" r="0.5" fill="#a76ef0"/>
<line x1="514.95" y1="150.8" x2="525.27" y2="146.91" stroke="#df7a1c" stroke-width="0.35"/>
<circle cx="525.27" cy="146.91" r="0.5" fill="#df7a1c"/>
<circle cx="524.75" cy="154.7" r="0.5" fill="#14a33f"/>
<line x1="537.17" y1="153.8" x2="533.65" y2="158.73" stroke="#74aa12" stroke-width="0.35"/>
<circle cx="533.65" cy="158.73" r="0.5" fill="#74aa12"/>
<line x1="549.93" y1="151.7" x2="555.11" y2="138.51" stroke="#199ee6" stroke-width="0.35"/>
<circle cx="555.11" cy="138.51" r="0.5" fill="#199ee6"/>
<line x1="573.62" y1="155.9" x2="563.87" y2="160.66" stroke="#e4483b" stroke-width="0.35"/>
<circle cx="563.87" cy="160.66" r="0.5" fill="#e4483b"/>
<line x1="592.69" y1="153.5" x2="581.71" y2="148.62" stroke="#199ee6" stroke-width="0.35"/>
<circle cx="581.71" cy="148.62" r="0.5" fill="#199ee6"/>
<line x1="618.85" y1="153.3" x2="622.68" y2="140.34" stroke="#df7a1c" stroke-width="0.35"/>
<circle cx="622.68" cy="140.34" r="0.5" fill="#df7a1c"/>
<line x1="404.49" y1="161.8" x2="399.25" y2="165.8" stroke="#c6940a" stroke-width="0.35"/>
<circle cx="399.25" cy="165.8" r="0.5" fill="#c6940a"/>
<line x1="462.21" y1="160" x2="449.05" y2="169.49" stroke="#ee5aa9" stroke-width="0.35"/>
<circle cx="449.05" cy="169.49" r="0.5" fill="#ee5aa9"/>
<line x1="484.92" y1="160.4" x2="498.33" y2="165.54" stroke="#74aa12" stroke-width="0.35"/>
<circle cx="498.33" cy="165.54" r="0.5" fill="#74aa12"/>
<line x1="503.01" y1="156.1" x2="508.66" y2="155.38" stroke="#14a33f" stroke-width="0.35"/>
<circle cx="508.66" cy="155.38" r="0.5" fill="#14a33f"/>
<line x1="516.72" y1="156.1" x2="496.94" y2="149.67" stroke="#ee5aa9" stroke-width="0.35"/>
<circle cx="496.94" cy="149.67" r="0.5" fill="#ee5aa9"/>
<line x1="529.8" y1="156.1" x2="514.24" y2="148.24" stroke="#e4483b" stroke-width="0.35"/>
<circle cx="514.24" cy="148.24" r="0.5" fill="#e4483b"/>
<line x1="573.09" y1="158.2" x2="577.61" y2="151.12" stroke="#199ee6" stroke-width="0.35"/>
<circle cx="577.61" cy="151.12" r="0.5" fill="#199ee6"/>
<line x1="629.19" y1="156.4" x2="628.49" y2="153.18" stroke="#74aa12" stroke-width="0.35"/>
<circle cx="628.49" cy="153.18" r="0.5" fill="#74aa12"/>
<line x1="647.28" y1="159.4" x2="638.47" y2="165.86" stroke="#9f9e00" stroke-width="0.35"/>
<circle cx="638.47" cy="165.86" r="0.5" fill="#9f9e00"/>
<line x1="661.38" y1="156.4" x2="663.33" y2="149.76" stroke="#00aaa4" stroke-width="0.35"/>
<circle cx="663.33" cy="149.76" r="0.5" fill="#00aaa4"/>
<line x1="615.86" y1="161.3" x2="619.22" y2="165.55" stroke="#a76ef0" stroke-width="0.35"/>
<circle cx="619.22" cy="165.55" r="0.5" fill="#a76ef0"/>
<line x1="607.34" y1="162.1" x2="601.02" y2="172.52" stroke="#d65fe0" stroke-width="0.35"/>
<circle cx="601.02" cy="172.52" r="0.5" fill="#d65fe0"/>
<line x1="424.95" y1="164.4" x2="431.21" y2="168.22" stroke="#199ee6" stroke-width="0.35"/>
<circle cx="431.21" cy="168.22" r="0.5" fill="#199ee6"/>
<line x1="447.56" y1="161.4" x2="451.39" y2="149.26" stroke="#00aaa4" stroke-width="0.35"/>
<circle cx="451.39" cy="149.26" r="0.5" fill="#00aaa4"/>
<line x1="467.89" y1="162.3" x2="446.22" y2="157.81" stroke="#d65fe0" stroke-width="0.35"/>
<circle cx="446.22" cy="157.81" r="0.5" fill="#d65fe0"/>
<line x1="475.95" y1="166.2" x2="471.35" y2="174.9" stroke="#e4483b" stroke-width="0.35"/>
<circle cx="471.35" cy="174.9" r="0.5" fill="#e4483b"/>
<line x1="513.27" y1="164.7" x2="513.6" y2="176.56" stroke="#9f9e00" stroke-width="0.35"/>
<circle cx="513.6" cy="176.56" r="0.5" fill="#9f9e00"/>
<line x1="529.71" y1="164.7" x2="520.88" y2="167.19" stroke="#14a33f" stroke-width="0.35"/>
<circle cx="520.88" cy="167.19" r="0.5" fill="#14a33f"/>
<line x1="539.19" y1="164.7" x2="560.03" y2="165.56" stroke="#ee5aa9" stroke-width="0.35"/>
<circle cx="560.03" cy="165.56" r="0.5" fill="#ee5aa9"/>
<line x1="570.42" y1="162.5" x2="576.49" y2="149.36" stroke="#199ee6" stroke-width="0.35"/>
<circle cx="576.49" cy="149.36" r="0.5" fill="#199ee6"/>
<line x1="586.49" y1="164.3" x2="580.75" y2="155.32" stroke="#00aaa4" stroke-width="0.35"/>
<circle cx="580.75" cy="155.32" r="0.5" fill="#00aaa4"/>
<line x1="629.61" y1="161.4" x2="639.81" y2="160.75" stroke="#ef5a78" stroke-width="0.35"/>
<circle cx="639.81" cy="160.75" r="0.5" fill="#ef5a78"/>
<line x1="647.77" y1="164.4" x2="659.83" y2="168.94" stroke="#e4483b" stroke-width="0.35"/>
<circle cx="659.83" cy="168.94" r="0.5" fill="#e4483b"/>
<line x1="672.27" y1="162.2" x2="689.87" y2="153.8" stroke="#14a33f" stroke-width="0.35"/>
<circle cx="689.87" cy="153.8" r="0.5" fill="#14a33f"/>
<line x1="499.92" y1="167.1" x2="501.58" y2="173.59" stroke="#199ee6" stroke-width="0.35"/>
<circle cx="501.58" cy="173.59" r="0.5" fill="#199ee6"/>
<circle cx="436.8" cy="170.6" r="0.5" fill="#74aa12"/>
<line x1="448.21" y1="167.5" x2="466.92" y2="160.07" stroke="#ee5aa9" stroke-width="0.35"/>
<circle cx="466.92" cy="160.07" r="0.5" fill="#ee5aa9"/>
<line x1="463.41" y1="172.3" x2="469.48" y2="173.44" stroke="#199ee6" stroke-width="0.35"/>
<circle cx="469.48" cy="173.44" r="0.5" fill="#199ee6"/>
<line x1="519.88" y1="169.5" x2="530.41" y2="179.39" stroke="#14a33f" stroke-width="0.35"/>
<circle cx="530.41" cy="179.39" r="0.5" fill="#14a33f"/>
<line x1="548.85" y1="166.7" x2="541.38" y2="154.84" stroke="#d65fe0" stroke-width="0.35"/>
<circle cx="541.38" cy="154.84" r="0.5" fill="#d65fe0"/>
<line x1="606.55" y1="165.2" x2="605.16" y2="155.46" stroke="#00aaa4" stroke-width="0.35"/>
<circle cx="605.16" cy="155.46" r="0.5" fill="#00aaa4"/>
<line x1="616.82" y1="165.5" x2="632.18" y2="163.14" stroke="#9f9e00" stroke-width="0.35"/>
<circle cx="632.18" cy="163.14" r="0.5" fill="#9f9e00"/>
<line x1="641.17" y1="170" x2="644.36" y2="179.3" stroke="#a76ef0" stroke-width="0.35"/>
<circle cx="644.36" cy="179.3" r="0.5" fill="#a76ef0"/>
<line x1="654.5" y1="167" x2="646.74" y2="156.84" stroke="#df7a1c" stroke-width="0.35"/>
<circle cx="646.74" cy="156.84" r="0.5" fill="#df7a1c"/>
<line x1="392.97" y1="174.9" x2="402.59" y2="184.64" stroke="#9f9e00" stroke-width="0.35"/>
<circle cx="402.59" cy="184.64" r="0.5" fill="#9f9e00"/>
<circle cx="446.31" cy="174" r="0.5" fill="#ef5a78"/>
<line x1="467.44" y1="174.5" x2="487.28" y2="167.24" stroke="#9f9e00" stroke-width="0.35"/>
<circle cx="487.28" cy="167.24" r="0.5" fill="#9f9e00"/>
<line x1="484.87" y1="174.5" x2="494.44" y2="165.69" stroke="#c6940a" stroke-width="0.35"/>
<circle cx="494.44" cy="165.69" r="0.5" fill="#c6940a"/>
<line x1="489.69" y1="169" x2="510.54" y2="162.56" stroke="#e4483b" stroke-width="0.35"/>
<circle cx="510.54" cy="162.56" r="0.5" fill="#e4483b"/>
<line x1="505.84" y1="174.1" x2="498.42" y2="176.1" stroke="#9f9e00" stroke-width="0.35"/>
<circle cx="498.42" cy="176.1" r="0.5" fill="#9f9e00"/>
<line x1="521.49" y1="171.6" x2="541.02" y2="164.05" stroke="#d65fe0" stroke-width="0.35"/>
<circle cx="541.02" cy="164.05" r="0.5" fill="#d65fe0"/>
<line x1="534.54" y1="174.6" x2="528.46" y2="176.97" stroke="#9f9e00" stroke-width="0.35"/>
<circle cx="528.46" cy="176.97" r="0.5" fill="#9f9e00"/>
<line x1="562.67" y1="172.5" x2="562.66" y2="169.45" stroke="#d65fe0" stroke-width="0.35"/>
<circle cx="562.66" cy="169.45" r="0.5" fill="#d65fe0"/>
<line x1="580.93" y1="172.5" x2="597.7" y2="173.84" stroke="#9f9e00" stroke-width="0.35"/>
<circle cx="597.7" cy="173.84" r="0.5" fill="#9f9e00"/>
<line x1="596" y1="173.4" x2="598.8" y2="179.42" stroke="#14a33f" stroke-width="0.35"/>
<circle cx="598.8" cy="179.42" r="0.5" fill="#14a33f"/>
<line x1="615.97" y1="171.1" x2="607.59" y2="168.09" stroke="#ef5a78" stroke-width="0.35"/>
<circle cx="607.59" cy="168.09" r="0.5" fill="#ef5a78"/>
<line x1="644.47" y1="171.9" x2="652.93" y2="158.75" stroke="#9f9e00" stroke-width="0.35"/>
<circle cx="652.93" cy="158.75" r="0.5" fill="#9f9e00"/>
<line x1="664.87" y1="172.2" x2="676.96" y2="162.93" stroke="#199ee6" stroke-width="0.35"/>
<circle cx="676.96" cy="162.93" r="0.5" fill="#199ee6"/>
<line x1="496.25" y1="179" x2="494.75" y2="183.14" stroke="#00aaa4" stroke-width="0.35"/>
<circle cx="494.75" cy="183.14" r="0.5" fill="#00aaa4"/>
<line x1="529.72" y1="176.4" x2="529.45" y2="167.19" stroke="#14a33f" stroke-width="0.35"/>
<circle cx="529.45" cy="167.19" r="0.5" fill="#14a33f"/>
<line x1="552.65" y1="177.2" x2="560.14" y2="176.45" stroke="#d65fe0" stroke-width="0.35"/>
<circle cx="560.14" cy="176.45" r="0.5" fill="#d65fe0"/>
<line x1="579.64" y1="180.2" x2="574.17" y2="188.3" stroke="#df7a1c" stroke-width="0.35"/>
<circle cx="574.17" cy="188.3" r="0.5" fill="#df7a1c"/>
<line x1="592.03" y1="179.8" x2="605.44" y2="179.84" stroke="#14a33f" stroke-width="0.35"/>
<circle cx="605.44" cy="179.84" r="0.5" fill="#14a33f"/>
<line x1="608.17" y1="179.8" x2="592.13" y2="186.85" stroke="#c6940a" stroke-width="0.35"/>
<circle cx="592.13" cy="186.85" r="0.5" fill="#c6940a"/>
<line x1="631.39" y1="177.3" x2="624.09" y2="171.45" stroke="#00aaa4" stroke-width="0.35"/>
<circle cx="624.09" cy="171.45" r="0.5" fill="#00aaa4"/>
<line x1="661.51" y1="180.3" x2="658.68" y2="189.97" stroke="#00aaa4" stroke-width="0.35"/>
<circle cx="658.68" cy="189.97" r="0.5" fill="#00aaa4"/>
<line x1="442.27" y1="180.1" x2="418.57" y2="179.12" stroke="#00b1d6" stroke-width="0.35"/>
<circle cx="418.57" cy="179.12" r="0.5" fill="#00b1d6"/>
<line x1="495.83" y1="184.3" x2="479.73" y2="190.52" stroke="#199ee6" stroke-width="0.35"/>
<circle cx="479.73" cy="190.52" r="0.5" fill="#199ee6"/>
<line x1="506.45" y1="184.3" x2="514.51" y2="193.13" stroke="#00aaa4" stroke-width="0.35"/>
<circle cx="514.51" cy="193.13" r="0.5" fill="#00aaa4"/>
<line x1="519.17" y1="184.3" x2="531.56" y2="184.46" stroke="#df7a1c" stroke-width="0.35"/>
<circle cx="531.56" cy="184.46" r="0.5" fill="#df7a1c"/>
<line x1="537.96" y1="181.8" x2="548.33" y2="174.4" stroke="#6e85f2" stroke-width="0.35"/>
<circle cx="548.33" cy="174.4" r="0.5" fill="#6e85f2"/>
<line x1="552.42" y1="181.3" x2="552.31" y2="172.68" stroke="#00aaa4" stroke-width="0.35"/>
<circle cx="552.31" cy="172.68" r="0.5" fill="#00aaa4"/>
<line x1="566.13" y1="181.3" x2="556.05" y2="173.11" stroke="#199ee6" stroke-width="0.35"/>
<circle cx="556.05" cy="173.11" r="0.5" fill="#199ee6"/>
<line x1="590.46" y1="182.6" x2="575.24" y2="172.41" stroke="#199ee6" stroke-width="0.35"/>
<circle cx="575.24" cy="172.41" r="0.5" fill="#199ee6"/>
<line x1="603.16" y1="181.9" x2="605.41" y2="169.68" stroke="#6e85f2" stroke-width="0.35"/>
<circle cx="605.41" cy="169.68" r="0.5" fill="#6e85f2"/>
<line x1="618.14" y1="184.5" x2="616.45" y2="195.52" stroke="#00aaa4" stroke-width="0.35"/>
<circle cx="616.45" cy="195.52" r="0.5" fill="#00aaa4"/>
<line x1="623.98" y1="184.5" x2="636" y2="194.7" stroke="#199ee6" stroke-width="0.35"/>
<circle cx="636" cy="194.7" r="0.5" fill="#199ee6"/>
<line x1="640.7" y1="184.5" x2="654.8" y2="186.98" stroke="#9f9e00" stroke-width="0.35"/>
<circle cx="654.8" cy="186.98" r="0.5" fill="#9f9e00"/>
<line x1="651.55" y1="185.2" x2="640.82" y2="193.48" stroke="#199ee6" stroke-width="0.35"/>
<circle cx="640.82" cy="193.48" r="0.5" fill="#199ee6"/>
<line x1="671.99" y1="182.2" x2="689.08" y2="178.59" stroke="#d65fe0" stroke-width="0.35"/>
<circle cx="689.08" cy="178.59" r="0.5" fill="#d65fe0"/>
<line x1="453.77" y1="184.2" x2="446.68" y2="180.9" stroke="#14a33f" stroke-width="0.35"/>
<circle cx="446.68" cy="180.9" r="0.5" fill="#14a33f"/>
<line x1="477.44" y1="187.2" x2="476.67" y2="191.03" stroke="#df7a1c" stroke-width="0.35"/>
<circle cx="476.67" cy="191.03" r="0.5" fill="#df7a1c"/>
<line x1="508.79" y1="189.5" x2="498.83" y2="196.01" stroke="#ef5a78" stroke-width="0.35"/>
<circle cx="498.83" cy="196.01" r="0.5" fill="#ef5a78"/>
<line x1="529.74" y1="187.4" x2="519.12" y2="178.27" stroke="#6e85f2" stroke-width="0.35"/>
<circle cx="519.12" cy="178.27" r="0.5" fill="#6e85f2"/>
<line x1="544.06" y1="188.3" x2="536.79" y2="184.71" stroke="#00aaa4" stroke-width="0.35"/>
<circle cx="536.79" cy="184.71" r="0.5" fill="#00aaa4"/>
<line x1="558.93" y1="187.9" x2="564.24" y2="175.42" stroke="#ee5aa9" stroke-width="0.35"/>
<circle cx="564.24" cy="175.42" r="0.5" fill="#ee5aa9"/>
<line x1="579.44" y1="187.4" x2="597.4" y2="184.91" stroke="#00aaa4" stroke-width="0.35"/>
<circle cx="597.4" cy="184.91" r="0.5" fill="#00aaa4"/>
<line x1="596.66" y1="188" x2="610.24" y2="182.03" stroke="#00aaa4" stroke-width="0.35"/>
<circle cx="610.24" cy="182.03" r="0.5" fill="#00aaa4"/>
<line x1="606.45" y1="187.5" x2="607.9" y2="175.58" stroke="#14a33f" stroke-width="0.35"/>
<circle cx="607.9" cy="175.58" r="0.5" fill="#14a33f"/>
<line x1="623.18" y1="189.5" x2="635.06" y2="201.66" stroke="#ef5a78" stroke-width="0.35"/>
<circle cx="635.06" cy="201.66" r="0.5" fill="#ef5a78"/>
<circle cx="647.78" cy="191.4" r="0.5" fill="#ee5aa9"/>
<line x1="665.8" y1="190.2" x2="676.14" y2="200.33" stroke="#14a33f" stroke-width="0.35"/>
<circle cx="676.14" cy="200.33" r="0.5" fill="#14a33f"/>
<line x1="467.54" y1="192.2" x2="462.92" y2="199.24" stroke="#9f9e00" stroke-width="0.35"/>
<circle cx="462.92" cy="199.24" r="0.5" fill="#9f9e00"/>
<line x1="488.27" y1="188.5" x2="485.64" y2="185.07" stroke="#199ee6" stroke-width="0.35"/>
<circle cx="485.64" cy="185.07" r="0.5" fill="#199ee6"/>
<line x1="496.07" y1="193.5" x2="516.93" y2="187.48" stroke="#d65fe0" stroke-width="0.35"/>
<circle cx="516.93" cy="187.48" r="0.5" fill="#d65fe0"/>
<line x1="528.6" y1="196.5" x2="547.69" y2="198.19" stroke="#199ee6" stroke-width="0.35"/>
<circle cx="547.69" cy="198.19" r="0.5" fill="#199ee6"/>
<line x1="545.02" y1="193.5" x2="526.56" y2="191.49" stroke="#e4483b" stroke-width="0.35"/>
<circle cx="526.56" cy="191.49" r="0.5" fill="#e4483b"/>
<line x1="556.56" y1="193.5" x2="551.25" y2="188.26" stroke="#ee5aa9" stroke-width="0.35"/>
<circle cx="551.25" cy="188.26" r="0.5" fill="#ee5aa9"/>
<line x1="568.51" y1="196" x2="570.16" y2="201.57" stroke="#00aaa4" stroke-width="0.35"/>
<circle cx="570.16" cy="201.57" r="0.5" fill="#00aaa4"/>
<line x1="585.23" y1="193.1" x2="594.58" y2="192.16" stroke="#ee5aa9" stroke-width="0.35"/>
<circle cx="594.58" cy="192.16" r="0.5" fill="#ee5aa9"/>
<line x1="597.83" y1="196.1" x2="587.38" y2="201.31" stroke="#d65fe0" stroke-width="0.35"/>
<circle cx="587.38" cy="201.31" r="0.5" fill="#d65fe0"/>
<line x1="618.05" y1="196.1" x2="625" y2="199.59" stroke="#00aaa4" stroke-width="0.35"/>
<circle cx="625" cy="199.59" r="0.5" fill="#00aaa4"/>
<line x1="637.7" y1="194.8" x2="651.82" y2="195.08" stroke="#14a33f" stroke-width="0.35"/>
<circle cx="651.82" cy="195.08" r="0.5" fill="#14a33f"/>
<line x1="648.91" y1="195.6" x2="646.89" y2="200.69" stroke="#ee5aa9" stroke-width="0.35"/>
<circle cx="646.89" cy="200.69" r="0.5" fill="#ee5aa9"/>
<line x1="512.06" y1="198.8" x2="499.86" y2="189.23" stroke="#199ee6" stroke-width="0.35"/>
<circle cx="499.86" cy="189.23" r="0.5" fill="#199ee6"/>
<line x1="576.8" y1="197.9" x2="587.71" y2="191.46" stroke="#ee5aa9" stroke-width="0.35"/>
<circle cx="587.71" cy="191.46" r="0.5" fill="#ee5aa9"/>
<line x1="594" y1="201.3" x2="609.27" y2="206.3" stroke="#199ee6" stroke-width="0.35"/>
<circle cx="609.27" cy="206.3" r="0.5" fill="#199ee6"/>
<line x1="609.97" y1="198.3" x2="595.4" y2="196.23" stroke="#df7a1c" stroke-width="0.35"/>
<circle cx="595.4" cy="196.23" r="0.5" fill="#df7a1c"/>
<circle cx="630.5" cy="201.9" r="0.5" fill="#6e85f2"/>
<text x="525" y="21.95" font-size="3.7" fill="#199ee6" text-anchor="start" dominant-baseline="central" stroke="#199ee6" stroke-width="0.12" textLength="13" lengthAdjust="spacingAndGlyphs">Mongolia</text>
<text x="512" y="38.45" font-size="3.7" fill="#c6940a" text-anchor="start" dominant-baseline="central" stroke="#c6940a" stroke-width="0.12" textLength="44" lengthAdjust="spacingAndGlyphs">Bolivia (Plurinational State of)</text>
<text x="496" y="81.65" font-size="3.7" fill="#14a33f" text-anchor="start" dominant-baseline="central" stroke="#14a33f" stroke-width="0.12" textLength="16.3" lengthAdjust="spacingAndGlyphs">Guatemala</text>
<text x="492" y="87.95" font-size="3.7" fill="#c6940a" text-anchor="start" dominant-baseline="central" stroke="#c6940a" stroke-width="0.12" textLength="17.7" lengthAdjust="spacingAndGlyphs">Cabo Verde</text>
<text x="511.8" y="87.25" font-size="3.7" fill="#9f9e00" text-anchor="start" dominant-baseline="central" stroke="#9f9e00" stroke-width="0.12" textLength="57.2" lengthAdjust="spacingAndGlyphs">Democratic People's Republic of Korea</text>
<text x="492" y="93.35" font-size="3.7" fill="#00aaa4" text-anchor="start" dominant-baseline="central" stroke="#00aaa4" stroke-width="0.12" textLength="10" lengthAdjust="spacingAndGlyphs">Kiribati</text>
<text x="487.6" y="99.85" font-size="3.7" fill="#14a33f" text-anchor="start" dominant-baseline="central" stroke="#14a33f" stroke-width="0.12" textLength="14.4" lengthAdjust="spacingAndGlyphs">Honduras</text>
<text x="538" y="96.45" font-size="3.7" fill="#199ee6" text-anchor="start" dominant-baseline="central" stroke="#199ee6" stroke-width="0.12" textLength="9" lengthAdjust="spacingAndGlyphs">Nauru</text>
<text x="552.3" y="98.95" font-size="3.7" fill="#6e85f2" text-anchor="start" dominant-baseline="central" stroke="#6e85f2" stroke-width="0.12" textLength="6.1" lengthAdjust="spacingAndGlyphs">Peru</text>
<text x="572.4" y="93.55" font-size="3.7" fill="#9f9e00" text-anchor="start" dominant-baseline="central" stroke="#9f9e00" stroke-width="0.12" textLength="8.8" lengthAdjust="spacingAndGlyphs">China</text>
<text x="548.4" y="104.95" font-size="3.7" fill="#74aa12" text-anchor="start" dominant-baseline="central" stroke="#74aa12" stroke-width="0.12" textLength="12.3" lengthAdjust="spacingAndGlyphs">Ecuador</text>
<text x="569.4" y="104.05" font-size="3.7" fill="#74aa12" text-anchor="start" dominant-baseline="central" stroke="#74aa12" stroke-width="0.12" textLength="13.5" lengthAdjust="spacingAndGlyphs">Dominica</text>
<text x="583.8" y="111.25" font-size="3.7" fill="#199ee6" text-anchor="start" dominant-baseline="central" stroke="#199ee6" stroke-width="0.12" textLength="7.9" lengthAdjust="spacingAndGlyphs">Palau</text>
<text x="550.9" y="112.95" font-size="3.7" fill="#9f9e00" text-anchor="start" dominant-baseline="central" stroke="#9f9e00" stroke-width="0.12" textLength="16.2" lengthAdjust="spacingAndGlyphs">Costa Rica</text>
<text x="433.4" y="99.65" font-size="3.7" fill="#e4483b" text-anchor="start" dominant-baseline="central" stroke="#e4483b" stroke-width="0.12" textLength="17.5" lengthAdjust="spacingAndGlyphs">Afghanistan</text>
<text x="453" y="109.65" font-size="3.7" fill="#d65fe0" text-anchor="start" dominant-baseline="central" stroke="#d65fe0" stroke-width="0.12" textLength="24.7" lengthAdjust="spacingAndGlyphs">Solomon Islands</text>
<text x="499" y="109.65" font-size="3.7" fill="#74aa12" text-anchor="start" dominant-baseline="central" stroke="#74aa12" stroke-width="0.12" textLength="17" lengthAdjust="spacingAndGlyphs">El Salvador</text>
<text x="518.8" y="110.45" font-size="3.7" fill="#199ee6" text-anchor="start" dominant-baseline="central" stroke="#199ee6" stroke-width="0.12" textLength="23.7" lengthAdjust="spacingAndGlyphs">Marshall Islands</text>
<text x="539" y="115.25" font-size="3.7" fill="#ee5aa9" text-anchor="start" dominant-baseline="central" stroke="#ee5aa9" stroke-width="0.12" textLength="9" lengthAdjust="spacingAndGlyphs">Tonga</text>
<text x="468" y="117.95" font-size="3.7" fill="#14a33f" text-anchor="start" dominant-baseline="central" stroke="#14a33f" stroke-width="0.12" textLength="7" lengthAdjust="spacingAndGlyphs">Haiti</text>
<text x="477.7" y="116.95" font-size="3.7" fill="#199ee6" text-anchor="start" dominant-baseline="central" stroke="#199ee6" stroke-width="0.12" textLength="48.1" lengthAdjust="spacingAndGlyphs">Micronesia (Federated States of)</text>
<text x="566.3" y="118.05" font-size="3.7" fill="#e4483b" text-anchor="start" dominant-baseline="central" stroke="#e4483b" stroke-width="0.12" textLength="25.4" lengthAdjust="spacingAndGlyphs">American Samoa</text>
<text x="594.6" y="118.05" font-size="3.7" fill="#9f9e00" text-anchor="start" dominant-baseline="central" stroke="#9f9e00" stroke-width="0.12" textLength="7" lengthAdjust="spacingAndGlyphs">Chile</text>
<text x="471.5" y="122.75" font-size="3.7" fill="#ef5a78" text-anchor="start" dominant-baseline="central" stroke="#ef5a78" stroke-width="0.12" textLength="11.5" lengthAdjust="spacingAndGlyphs">Vanuatu</text>
<text x="513" y="122.75" font-size="3.7" fill="#ee5aa9" text-anchor="start" dominant-baseline="central" stroke="#ee5aa9" stroke-width="0.12" textLength="10" lengthAdjust="spacingAndGlyphs">Tuvalu</text>
<text x="525" y="122.65" font-size="3.7" fill="#00aaa4" text-anchor="start" dominant-baseline="central" stroke="#00aaa4" stroke-width="0.12" textLength="16" lengthAdjust="spacingAndGlyphs">Kyrgyzstan</text>
<text x="547.9" y="122.65" font-size="3.7" fill="#df7a1c" text-anchor="start" dominant-baseline="central" stroke="#df7a1c" stroke-width="0.12" textLength="15.7" lengthAdjust="spacingAndGlyphs">Azerbaijan</text>
<text x="566.3" y="124.35" font-size="3.7" fill="#199ee6" text-anchor="start" dominant-baseline="central" stroke="#199ee6" stroke-width="0.12" textLength="25.4" lengthAdjust="spacingAndGlyphs">North Macedonia</text>
<text x="592.5" y="123.45" font-size="3.7" fill="#199ee6" text-anchor="start" dominant-baseline="central" stroke="#199ee6" stroke-width="0.12" textLength="37.2" lengthAdjust="spacingAndGlyphs">Northern Mariana Islands</text>
<text x="406" y="126.25" font-size="3.7" fill="#00b1d6" text-anchor="start" dominant-baseline="central" stroke="#00b1d6" stroke-width="0.12" textLength="6.5" lengthAdjust="spacingAndGlyphs">Mali</text>
<text x="427" y="124.45" font-size="3.7" fill="#14a33f" text-anchor="start" dominant-baseline="central" stroke="#14a33f" stroke-width="0.12" textLength="23" lengthAdjust="spacingAndGlyphs">Guinea-Bissau</text>
<text x="434" y="130.25" font-size="3.7" fill="#6e85f2" text-anchor="start" dominant-baseline="central" stroke="#6e85f2" stroke-width="0.12" textLength="29" lengthAdjust="spacingAndGlyphs">Papua New Guinea</text>
<text x="466" y="128.25" font-size="3.7" fill="#a76ef0" text-anchor="start" dominant-baseline="central" stroke="#a76ef0" stroke-width="0.12" textLength="33.5" lengthAdjust="spacingAndGlyphs">Sao Tome and Principe</text>
<text x="502.6" y="128.55" font-size="3.7" fill="#ee5aa9" text-anchor="start" dominant-baseline="central" stroke="#ee5aa9" stroke-width="0.12" textLength="13.4" lengthAdjust="spacingAndGlyphs">Tajikistan</text>
<text x="533.8" y="127.65" font-size="3.7" fill="#9f9e00" text-anchor="start" dominant-baseline="central" stroke="#9f9e00" stroke-width="0.12" textLength="14" lengthAdjust="spacingAndGlyphs">Colombia</text>
<text x="550.2" y="128.25" font-size="3.7" fill="#199ee6" text-anchor="start" dominant-baseline="central" stroke="#199ee6" stroke-width="0.12" textLength="13.4" lengthAdjust="spacingAndGlyphs">Mauritius</text>
<text x="567.7" y="129.65" font-size="3.7" fill="#199ee6" text-anchor="start" dominant-baseline="central" stroke="#199ee6" stroke-width="0.12" textLength="6.4" lengthAdjust="spacingAndGlyphs">Niue</text>
<text x="592.2" y="129.65" font-size="3.7" fill="#df7a1c" text-anchor="start" dominant-baseline="central" stroke="#df7a1c" stroke-width="0.12" textLength="11.8" lengthAdjust="spacingAndGlyphs">Bulgaria</text>
<text x="606.5" y="128.45" font-size="3.7" fill="#a76ef0" text-anchor="start" dominant-baseline="central" stroke="#a76ef0" stroke-width="0.12" textLength="28.9" lengthAdjust="spacingAndGlyphs">Russian Federation</text>
<text x="638" y="128.45" font-size="3.7" fill="#a76ef0" text-anchor="start" dominant-baseline="central" stroke="#a76ef0" stroke-width="0.12" textLength="26.4" lengthAdjust="spacingAndGlyphs">Republic of Korea</text>
<text x="465" y="133.55" font-size="3.7" fill="#e4483b" text-anchor="start" dominant-baseline="central" stroke="#e4483b" stroke-width="0.12" textLength="15" lengthAdjust="spacingAndGlyphs">Zimbabwe</text>
<text x="466" y="133.45" font-size="3.7" fill="#d65fe0" text-anchor="start" dominant-baseline="central" stroke="#d65fe0" stroke-width="0.12" textLength="51" lengthAdjust="spacingAndGlyphs">Saint Vincent and the Grenadines</text>
<text x="520" y="132.55" font-size="3.7" fill="#ef5a78" text-anchor="start" dominant-baseline="central" stroke="#ef5a78" stroke-width="0.12" textLength="11" lengthAdjust="spacingAndGlyphs">Tokelau</text>
<text x="534.7" y="132.95" font-size="3.7" fill="#e4483b" text-anchor="start" dominant-baseline="central" stroke="#e4483b" stroke-width="0.12" textLength="12.3" lengthAdjust="spacingAndGlyphs">Armenia</text>
<text x="557.2" y="134.95" font-size="3.7" fill="#ef5a78" text-anchor="start" dominant-baseline="central" stroke="#ef5a78" stroke-width="0.12" textLength="11.7" lengthAdjust="spacingAndGlyphs">Uruguay</text>
<text x="573.3" y="134.95" font-size="3.7" fill="#00aaa4" text-anchor="start" dominant-baseline="central" stroke="#00aaa4" stroke-width="0.12" textLength="17.5" lengthAdjust="spacingAndGlyphs">Kazakhstan</text>
<text x="599.5" y="134.95" font-size="3.7" fill="#e4483b" text-anchor="start" dominant-baseline="central" stroke="#e4483b" stroke-width="0.12" textLength="30.9" lengthAdjust="spacingAndGlyphs">Antigua and Barbuda</text>
<text x="633.5" y="133.65" font-size="3.7" fill="#00aaa4" text-anchor="start" dominant-baseline="central" stroke="#00aaa4" stroke-width="0.12" textLength="8.5" lengthAdjust="spacingAndGlyphs">Japan</text>
<text x="395.3" y="135.45" font-size="3.7" fill="#c6940a" text-anchor="start" dominant-baseline="central" stroke="#c6940a" stroke-width="0.12" textLength="7.7" lengthAdjust="spacingAndGlyphs">Chad</text>
<text x="405.8" y="139.35" font-size="3.7" fill="#c6940a" text-anchor="start" dominant-baseline="central" stroke="#c6940a" stroke-width="0.12" textLength="35.9" lengthAdjust="spacingAndGlyphs">Central African Republic</text>
<text x="461" y="138.45" font-size="3.7" fill="#ef5a78" text-anchor="start" dominant-baseline="central" stroke="#ef5a78" stroke-width="0.12" textLength="9" lengthAdjust="spacingAndGlyphs">Yemen</text>
<text x="484" y="137.85" font-size="3.7" fill="#ef5a78" text-anchor="start" dominant-baseline="central" stroke="#ef5a78" stroke-width="0.12" textLength="54" lengthAdjust="spacingAndGlyphs">Venezuela (Bolivarian Republic of)</text>
<text x="542" y="138.15" font-size="3.7" fill="#6e85f2" text-anchor="start" dominant-baseline="central" stroke="#6e85f2" stroke-width="0.12" textLength="12" lengthAdjust="spacingAndGlyphs">Panama</text>
<text x="572.3" y="140.15" font-size="3.7" fill="#14a33f" text-anchor="start" dominant-baseline="central" stroke="#14a33f" stroke-width="0.12" textLength="9.7" lengthAdjust="spacingAndGlyphs">Georgia</text>
<text x="587.7" y="139.65" font-size="3.7" fill="#a76ef0" text-anchor="start" dominant-baseline="central" stroke="#a76ef0" stroke-width="0.12" textLength="13.8" lengthAdjust="spacingAndGlyphs">Romania</text>
<text x="606.8" y="139.65" font-size="3.7" fill="#c6940a" text-anchor="start" dominant-baseline="central" stroke="#c6940a" stroke-width="0.12" textLength="28.4" lengthAdjust="spacingAndGlyphs">Brunei Darussalam</text>
<text x="637.5" y="139.35" font-size="3.7" fill="#00aaa4" text-anchor="start" dominant-baseline="central" stroke="#00aaa4" stroke-width="0.12" textLength="9.2" lengthAdjust="spacingAndGlyphs">Latvia</text>
<text x="431.7" y="144.25" font-size="3.7" fill="#d65fe0" text-anchor="start" dominant-baseline="central" stroke="#d65fe0" stroke-width="0.12" textLength="18.7" lengthAdjust="spacingAndGlyphs">Sierra Leone</text>
<text x="454" y="143.75" font-size="3.7" fill="#ee5aa9" text-anchor="start" dominant-baseline="central" stroke="#ee5aa9" stroke-width="0.12" textLength="7" lengthAdjust="spacingAndGlyphs">Togo</text>
<text x="464.4" y="143.75" font-size="3.7" fill="#c6940a" text-anchor="start" dominant-baseline="central" stroke="#c6940a" stroke-width="0.12" textLength="14.9" lengthAdjust="spacingAndGlyphs">Cambodia</text>
<text x="499.6" y="142.95" font-size="3.7" fill="#ee5aa9" text-anchor="start" dominant-baseline="central" stroke="#ee5aa9" stroke-width="0.12" textLength="9.4" lengthAdjust="spacingAndGlyphs">Sudan</text>
<text x="533.8" y="142.95" font-size="3.7" fill="#df7a1c" text-anchor="start" dominant-baseline="central" stroke="#df7a1c" stroke-width="0.12" textLength="8.7" lengthAdjust="spacingAndGlyphs">Brazil</text>
<text x="555.7" y="142.95" font-size="3.7" fill="#e4483b" text-anchor="start" dominant-baseline="central" stroke="#e4483b" stroke-width="0.12" textLength="9.6" lengthAdjust="spacingAndGlyphs">Argentina</text>
<text x="575.8" y="145.75" font-size="3.7" fill="#d65fe0" text-anchor="start" dominant-baseline="central" stroke="#d65fe0" stroke-width="0.12" textLength="9.6" lengthAdjust="spacingAndGlyphs">Portugal</text>
<text x="593" y="144.95" font-size="3.7" fill="#df7a1c" text-anchor="start" dominant-baseline="central" stroke="#df7a1c" stroke-width="0.12" textLength="10.8" lengthAdjust="spacingAndGlyphs">Belarus</text>
<text x="606.8" y="145.45" font-size="3.7" fill="#9f9e00" text-anchor="start" dominant-baseline="central" stroke="#9f9e00" stroke-width="0.12" textLength="10.8" lengthAdjust="spacingAndGlyphs">Croatia</text>
<text x="649.8" y="142.05" font-size="3.7" fill="#6e85f2" text-anchor="start" dominant-baseline="central" stroke="#6e85f2" stroke-width="0.12" textLength="10" lengthAdjust="spacingAndGlyphs">Poland</text>
<text x="620.6" y="146.65" font-size="3.7" fill="#00b1d6" text-anchor="start" dominant-baseline="central" stroke="#00b1d6" stroke-width="0.12" textLength="13.8" lengthAdjust="spacingAndGlyphs">Lithuania</text>
<text x="636.7" y="146.65" font-size="3.7" fill="#a76ef0" text-anchor="start" dominant-baseline="central" stroke="#a76ef0" stroke-width="0.12" textLength="11.6" lengthAdjust="spacingAndGlyphs">Slovakia</text>
<text x="642.9" y="148.25" font-size="3.7" fill="#d65fe0" text-anchor="start" dominant-baseline="central" stroke="#d65fe0" stroke-width="0.12" textLength="39.1" lengthAdjust="spacingAndGlyphs">Taiwan (Province of China)</text>
<text x="405.8" y="148.65" font-size="3.7" fill="#c6940a" text-anchor="start" dominant-baseline="central" stroke="#c6940a" stroke-width="0.12" textLength="19.2" lengthAdjust="spacingAndGlyphs">Burkina Faso</text>
<text x="433.4" y="150.75" font-size="3.7" fill="#00aaa4" text-anchor="start" dominant-baseline="central" stroke="#00aaa4" stroke-width="0.12" textLength="9.1" lengthAdjust="spacingAndGlyphs">Liberia</text>
<text x="447" y="149.35" font-size="3.7" fill="#14a33f" text-anchor="start" dominant-baseline="central" stroke="#14a33f" stroke-width="0.12" textLength="9.6" lengthAdjust="spacingAndGlyphs">Eritrea</text>
<text x="466" y="148.95" font-size="3.7" fill="#c6940a" text-anchor="start" dominant-baseline="central" stroke="#c6940a" stroke-width="0.12" textLength="16" lengthAdjust="spacingAndGlyphs">Cameroon</text>
<text x="484.6" y="148.95" font-size="3.7" fill="#00b1d6" text-anchor="start" dominant-baseline="central" stroke="#00b1d6" stroke-width="0.12" textLength="13.4" lengthAdjust="spacingAndGlyphs">Lesotho</text>
<text x="511.9" y="148.55" font-size="3.7" fill="#6e85f2" text-anchor="start" dominant-baseline="central" stroke="#6e85f2" stroke-width="0.12" textLength="13.1" lengthAdjust="spacingAndGlyphs">Paraguay</text>
<text x="526.8" y="148.55" font-size="3.7" fill="#199ee6" text-anchor="start" dominant-baseline="central" stroke="#199ee6" stroke-width="0.12" textLength="10.5" lengthAdjust="spacingAndGlyphs">Jamaica</text>
<text x="540" y="148.55" font-size="3.7" fill="#d65fe0" text-anchor="start" dominant-baseline="central" stroke="#d65fe0" stroke-width="0.12" textLength="17.4" lengthAdjust="spacingAndGlyphs">Suriname</text>
<text x="545.2" y="150.65" font-size="3.7" fill="#df7a1c" text-anchor="start" dominant-baseline="central" stroke="#df7a1c" stroke-width="0.12" textLength="35.8" lengthAdjust="spacingAndGlyphs">Bosnia and Herzegovina</text>
<text x="583" y="150.55" font-size="3.7" fill="#d65fe0" text-anchor="start" dominant-baseline="central" stroke="#d65fe0" stroke-width="0.12" textLength="37" lengthAdjust="spacingAndGlyphs">Saint Kitts and Nevis</text>
<text x="623.4" y="152.35" font-size="3.7" fill="#14a33f" text-anchor="start" dominant-baseline="central" stroke="#14a33f" stroke-width="0.12" textLength="14.9" lengthAdjust="spacingAndGlyphs">Greenland</text>
<text x="640.6" y="153.45" font-size="3.7" fill="#a76ef0" text-anchor="start" dominant-baseline="central" stroke="#a76ef0" stroke-width="0.12" textLength="13.8" lengthAdjust="spacingAndGlyphs">San Marino</text>
<text x="403.5" y="155.95" font-size="3.7" fill="#d65fe0" text-anchor="start" dominant-baseline="central" stroke="#d65fe0" stroke-width="0.12" textLength="18.4" lengthAdjust="spacingAndGlyphs">South Sudan</text>
<text x="425.6" y="157.35" font-size="3.7" fill="#14a33f" text-anchor="start" dominant-baseline="central" stroke="#14a33f" stroke-width="0.12" textLength="9.9" lengthAdjust="spacingAndGlyphs">Guinea</text>
<text x="440" y="157.35" font-size="3.7" fill="#df7a1c" text-anchor="start" dominant-baseline="central" stroke="#df7a1c" stroke-width="0.12" textLength="6" lengthAdjust="spacingAndGlyphs">Benin</text>
<text x="451" y="154.25" font-size="3.7" fill="#a76ef0" text-anchor="start" dominant-baseline="central" stroke="#a76ef0" stroke-width="0.12" textLength="44" lengthAdjust="spacingAndGlyphs">Lao People's Democratic Republic</text>
<text x="508.4" y="153.25" font-size="3.7" fill="#df7a1c" text-anchor="start" dominant-baseline="central" stroke="#df7a1c" stroke-width="0.12" textLength="7.9" lengthAdjust="spacingAndGlyphs">Belize</text>
<text x="519.8" y="153.25" font-size="3.7" fill="#14a33f" text-anchor="start" dominant-baseline="central" stroke="#14a33f" stroke-width="0.12" textLength="13.2" lengthAdjust="spacingAndGlyphs">Grenada</text>
<text x="535.5" y="153.25" font-size="3.7" fill="#74aa12" text-anchor="start" dominant-baseline="central" stroke="#74aa12" stroke-width="0.12" textLength="4.5" lengthAdjust="spacingAndGlyphs">Fiji</text>
<text x="544" y="154.15" font-size="3.7" fill="#199ee6" text-anchor="start" dominant-baseline="central" stroke="#199ee6" stroke-width="0.12" textLength="9" lengthAdjust="spacingAndGlyphs">Philippines</text>
<text x="571.4" y="155.35" font-size="3.7" fill="#e4483b" text-anchor="start" dominant-baseline="central" stroke="#e4483b" stroke-width="0.12" textLength="11.4" lengthAdjust="spacingAndGlyphs">Lebanon</text>
<text x="587" y="155.95" font-size="3.7" fill="#199ee6" text-anchor="start" dominant-baseline="central" stroke="#199ee6" stroke-width="0.12" textLength="17.5" lengthAdjust="spacingAndGlyphs">Montenegro</text>
<text x="608.4" y="155.75" font-size="3.7" fill="#df7a1c" text-anchor="start" dominant-baseline="central" stroke="#df7a1c" stroke-width="0.12" textLength="13.8" lengthAdjust="spacingAndGlyphs">Bahamas</text>
<text x="401" y="161.25" font-size="3.7" fill="#c6940a" text-anchor="start" dominant-baseline="central" stroke="#c6940a" stroke-width="0.12" textLength="11.8" lengthAdjust="spacingAndGlyphs">Burundi</text>
<text x="458.3" y="159.45" font-size="3.7" fill="#ee5aa9" text-anchor="start" dominant-baseline="central" stroke="#ee5aa9" stroke-width="0.12" textLength="18.4" lengthAdjust="spacingAndGlyphs">Timor-Leste</text>
<text x="480.7" y="159.85" font-size="3.7" fill="#74aa12" text-anchor="start" dominant-baseline="central" stroke="#74aa12" stroke-width="0.12" textLength="10.9" lengthAdjust="spacingAndGlyphs">Djibouti</text>
<text x="500.9" y="158.55" font-size="3.7" fill="#14a33f" text-anchor="start" dominant-baseline="central" stroke="#14a33f" stroke-width="0.12" textLength="7.5" lengthAdjust="spacingAndGlyphs">Ghana</text>
<text x="513.6" y="158.55" font-size="3.7" fill="#ee5aa9" text-anchor="start" dominant-baseline="central" stroke="#ee5aa9" stroke-width="0.12" textLength="9.7" lengthAdjust="spacingAndGlyphs">Samoa</text>
<text x="526.8" y="158.55" font-size="3.7" fill="#e4483b" text-anchor="start" dominant-baseline="central" stroke="#e4483b" stroke-width="0.12" textLength="14" lengthAdjust="spacingAndGlyphs">Viet Nam</text>
<text x="561" y="160.65" font-size="3.7" fill="#199ee6" text-anchor="start" dominant-baseline="central" stroke="#199ee6" stroke-width="0.12" textLength="35.8" lengthAdjust="spacingAndGlyphs">Turkmenistan Republic</text>
<text x="627.5" y="158.85" font-size="3.7" fill="#74aa12" text-anchor="start" dominant-baseline="central" stroke="#74aa12" stroke-width="0.12" textLength="10.8" lengthAdjust="spacingAndGlyphs">Estonia</text>
<text x="642.1" y="158.85" font-size="3.7" fill="#9f9e00" text-anchor="start" dominant-baseline="central" stroke="#9f9e00" stroke-width="0.12" textLength="6.9" lengthAdjust="spacingAndGlyphs">Cyprus</text>
<text x="655.2" y="158.85" font-size="3.7" fill="#00aaa4" text-anchor="start" dominant-baseline="central" stroke="#00aaa4" stroke-width="0.12" textLength="12.2" lengthAdjust="spacingAndGlyphs">Monaco</text>
<text x="613" y="160.75" font-size="3.7" fill="#a76ef0" text-anchor="start" dominant-baseline="central" stroke="#a76ef0" stroke-width="0.12" textLength="11.5" lengthAdjust="spacingAndGlyphs">Slovenia</text>
<text x="600" y="161.55" font-size="3.7" fill="#d65fe0" text-anchor="start" dominant-baseline="central" stroke="#d65fe0" stroke-width="0.12" textLength="10" lengthAdjust="spacingAndGlyphs">Mexico</text>
<text x="414.9" y="163.85" font-size="3.7" fill="#199ee6" text-anchor="start" dominant-baseline="central" stroke="#199ee6" stroke-width="0.12" textLength="18.9" lengthAdjust="spacingAndGlyphs">Mozambique</text>
<text x="437.3" y="163.85" font-size="3.7" fill="#00aaa4" text-anchor="start" dominant-baseline="central" stroke="#00aaa4" stroke-width="0.12" textLength="17.5" lengthAdjust="spacingAndGlyphs">Madagascar</text>
<text x="458.3" y="164.75" font-size="3.7" fill="#d65fe0" text-anchor="start" dominant-baseline="central" stroke="#d65fe0" stroke-width="0.12" textLength="11.4" lengthAdjust="spacingAndGlyphs">Rwanda</text>
<text x="474" y="165.65" font-size="3.7" fill="#e4483b" text-anchor="start" dominant-baseline="central" stroke="#e4483b" stroke-width="0.12" textLength="10.6" lengthAdjust="spacingAndGlyphs">Angola</text>
<text x="505.8" y="164.15" font-size="3.7" fill="#9f9e00" text-anchor="start" dominant-baseline="central" stroke="#9f9e00" stroke-width="0.12" textLength="11.9" lengthAdjust="spacingAndGlyphs">Eswatini</text>
<text x="523.3" y="164.15" font-size="3.7" fill="#14a33f" text-anchor="start" dominant-baseline="central" stroke="#14a33f" stroke-width="0.12" textLength="14" lengthAdjust="spacingAndGlyphs">Indonesia</text>
<text x="537.3" y="164.15" font-size="3.7" fill="#ee5aa9" text-anchor="start" dominant-baseline="central" stroke="#ee5aa9" stroke-width="0.12" textLength="7" lengthAdjust="spacingAndGlyphs">Egypt</text>
<text x="561" y="164.95" font-size="3.7" fill="#199ee6" text-anchor="start" dominant-baseline="central" stroke="#199ee6" stroke-width="0.12" textLength="11.3" lengthAdjust="spacingAndGlyphs">Malaysia</text>
<text x="581" y="166.75" font-size="3.7" fill="#00aaa4" text-anchor="start" dominant-baseline="central" stroke="#00aaa4" stroke-width="0.12" textLength="9.7" lengthAdjust="spacingAndGlyphs">Hungary</text>
<text x="613.7" y="163.85" font-size="3.7" fill="#ef5a78" text-anchor="start" dominant-baseline="central" stroke="#ef5a78" stroke-width="0.12" textLength="29.2" lengthAdjust="spacingAndGlyphs">United States Virgin Islands</text>
<text x="644.4" y="163.85" font-size="3.7" fill="#e4483b" text-anchor="start" dominant-baseline="central" stroke="#e4483b" stroke-width="0.12" textLength="12.3" lengthAdjust="spacingAndGlyphs">Andorra</text>
<text x="661.3" y="164.65" font-size="3.7" fill="#14a33f" text-anchor="start" dominant-baseline="central" stroke="#14a33f" stroke-width="0.12" textLength="13.7" lengthAdjust="spacingAndGlyphs">Germany</text>
<text x="491.4" y="166.55" font-size="3.7" fill="#199ee6" text-anchor="start" dominant-baseline="central" stroke="#199ee6" stroke-width="0.12" textLength="13.5" lengthAdjust="spacingAndGlyphs">Myanmar</text>
<text x="429.4" y="169.15" font-size="3.7" fill="#74aa12" text-anchor="start" dominant-baseline="central" stroke="#74aa12" stroke-width="0.12" textLength="11.4" lengthAdjust="spacingAndGlyphs">Ethiopia</text>
<text x="444.3" y="169.95" font-size="3.7" fill="#ee5aa9" text-anchor="start" dominant-baseline="central" stroke="#ee5aa9" stroke-width="0.12" textLength="11.4" lengthAdjust="spacingAndGlyphs">Uganda</text>
<text x="459.7" y="171.75" font-size="3.7" fill="#199ee6" text-anchor="start" dominant-baseline="central" stroke="#199ee6" stroke-width="0.12" textLength="7.3" lengthAdjust="spacingAndGlyphs">Nepal</text>
<text x="514.5" y="168.95" font-size="3.7" fill="#14a33f" text-anchor="start" dominant-baseline="central" stroke="#14a33f" stroke-width="0.12" textLength="7" lengthAdjust="spacingAndGlyphs">Gabon</text>
<text x="541.3" y="169.15" font-size="3.7" fill="#d65fe0" text-anchor="start" dominant-baseline="central" stroke="#d65fe0" stroke-width="0.12" textLength="18.4" lengthAdjust="spacingAndGlyphs">Thailand</text>
<text x="602.2" y="167.65" font-size="3.7" fill="#00aaa4" text-anchor="start" dominant-baseline="central" stroke="#00aaa4" stroke-width="0.12" textLength="5.8" lengthAdjust="spacingAndGlyphs">Italy</text>
<text x="614.5" y="167.95" font-size="3.7" fill="#9f9e00" text-anchor="start" dominant-baseline="central" stroke="#9f9e00" stroke-width="0.12" textLength="8.5" lengthAdjust="spacingAndGlyphs">Bermuda</text>
<text x="633" y="169.45" font-size="3.7" fill="#a76ef0" text-anchor="start" dominant-baseline="central" stroke="#a76ef0" stroke-width="0.12" textLength="12" lengthAdjust="spacingAndGlyphs">Singapore</text>
<text x="650.6" y="169.45" font-size="3.7" fill="#df7a1c" text-anchor="start" dominant-baseline="central" stroke="#df7a1c" stroke-width="0.12" textLength="9.9" lengthAdjust="spacingAndGlyphs">Belgium</text>
<text x="383.9" y="174.35" font-size="3.7" fill="#9f9e00" text-anchor="start" dominant-baseline="central" stroke="#9f9e00" stroke-width="0.12" textLength="50.8" lengthAdjust="spacingAndGlyphs">Democratic Republic of the Congo</text>
<text x="423.3" y="177.35" font-size="3.7" fill="#ef5a78" text-anchor="start" dominant-baseline="central" stroke="#ef5a78" stroke-width="0.12" textLength="41.1" lengthAdjust="spacingAndGlyphs">United Republic of Tanzania</text>
<text x="464.4" y="176.95" font-size="3.7" fill="#9f9e00" text-anchor="start" dominant-baseline="central" stroke="#9f9e00" stroke-width="0.12" textLength="12.3" lengthAdjust="spacingAndGlyphs">Comoros</text>
<text x="479.3" y="176.95" font-size="3.7" fill="#c6940a" text-anchor="start" dominant-baseline="central" stroke="#c6940a" stroke-width="0.12" textLength="8.7" lengthAdjust="spacingAndGlyphs">Bhutan</text>
<text x="485.3" y="171.45" font-size="3.7" fill="#e4483b" text-anchor="start" dominant-baseline="central" stroke="#e4483b" stroke-width="0.12" textLength="10.5" lengthAdjust="spacingAndGlyphs">Zambia</text>
<text x="502.4" y="173.55" font-size="3.7" fill="#9f9e00" text-anchor="start" dominant-baseline="central" stroke="#9f9e00" stroke-width="0.12" textLength="9.1" lengthAdjust="spacingAndGlyphs">Congo</text>
<text x="520" y="174.05" font-size="3.7" fill="#d65fe0" text-anchor="start" dominant-baseline="central" stroke="#d65fe0" stroke-width="0.12" textLength="6.4" lengthAdjust="spacingAndGlyphs">Turkey</text>
<text x="526.4" y="174.05" font-size="3.7" fill="#9f9e00" text-anchor="start" dominant-baseline="central" stroke="#9f9e00" stroke-width="0.12" textLength="22.8" lengthAdjust="spacingAndGlyphs">Equatorial Guinea</text>
<text x="559.7" y="174.95" font-size="3.7" fill="#d65fe0" text-anchor="start" dominant-baseline="central" stroke="#d65fe0" stroke-width="0.12" textLength="10.5" lengthAdjust="spacingAndGlyphs">Seychelles</text>
<text x="571.4" y="171.95" font-size="3.7" fill="#9f9e00" text-anchor="start" dominant-baseline="central" stroke="#9f9e00" stroke-width="0.12" textLength="16.6" lengthAdjust="spacingAndGlyphs">Cook Islands</text>
<text x="590.7" y="172.85" font-size="3.7" fill="#14a33f" text-anchor="start" dominant-baseline="central" stroke="#14a33f" stroke-width="0.12" textLength="10" lengthAdjust="spacingAndGlyphs">Greece</text>
<text x="599" y="173.55" font-size="3.7" fill="#ef5a78" text-anchor="start" dominant-baseline="central" stroke="#ef5a78" stroke-width="0.12" textLength="27" lengthAdjust="spacingAndGlyphs">United Arab Emirates</text>
<text x="637.5" y="174.35" font-size="3.7" fill="#9f9e00" text-anchor="start" dominant-baseline="central" stroke="#9f9e00" stroke-width="0.12" textLength="13.1" lengthAdjust="spacingAndGlyphs">Denmark</text>
<text x="655.2" y="174.65" font-size="3.7" fill="#199ee6" text-anchor="start" dominant-baseline="central" stroke="#199ee6" stroke-width="0.12" textLength="17.6" lengthAdjust="spacingAndGlyphs">Netherlands</text>
<text x="493.1" y="178.45" font-size="3.7" fill="#00aaa4" text-anchor="start" dominant-baseline="central" stroke="#00aaa4" stroke-width="0.12" textLength="4.4" lengthAdjust="spacingAndGlyphs">Kenya</text>
<text x="500" y="178.85" font-size="3.7" fill="#14a33f" text-anchor="start" dominant-baseline="central" stroke="#14a33f" stroke-width="0.12" textLength="36" lengthAdjust="spacingAndGlyphs">Iran (Islamic Republic of)</text>
<text x="546.5" y="179.65" font-size="3.7" fill="#d65fe0" text-anchor="start" dominant-baseline="central" stroke="#d65fe0" stroke-width="0.12" textLength="12.3" lengthAdjust="spacingAndGlyphs">South Africa</text>
<text x="575.4" y="179.65" font-size="3.7" fill="#df7a1c" text-anchor="start" dominant-baseline="central" stroke="#df7a1c" stroke-width="0.12" textLength="10.6" lengthAdjust="spacingAndGlyphs">Barbados</text>
<text x="589.2" y="179.25" font-size="3.7" fill="#14a33f" text-anchor="start" dominant-baseline="central" stroke="#14a33f" stroke-width="0.12" textLength="6.1" lengthAdjust="spacingAndGlyphs">Guam</text>
<text x="600" y="179.25" font-size="3.7" fill="#c6940a" text-anchor="start" dominant-baseline="central" stroke="#c6940a" stroke-width="0.12" textLength="13" lengthAdjust="spacingAndGlyphs">Bermuda</text>
<text x="626" y="179.75" font-size="3.7" fill="#00aaa4" text-anchor="start" dominant-baseline="central" stroke="#00aaa4" stroke-width="0.12" textLength="18.4" lengthAdjust="spacingAndGlyphs">Austria</text>
<text x="646.7" y="179.75" font-size="3.7" fill="#00aaa4" text-anchor="start" dominant-baseline="central" stroke="#00aaa4" stroke-width="0.12" textLength="19.3" lengthAdjust="spacingAndGlyphs">Luxembourg</text>
<text x="437.3" y="182.55" font-size="3.7" fill="#00b1d6" text-anchor="start" dominant-baseline="central" stroke="#00b1d6" stroke-width="0.12" textLength="10.5" lengthAdjust="spacingAndGlyphs">Malawi</text>
<text x="487" y="183.75" font-size="3.7" fill="#199ee6" text-anchor="start" dominant-baseline="central" stroke="#199ee6" stroke-width="0.12" textLength="10.5" lengthAdjust="spacingAndGlyphs">Pakistan</text>
<text x="502.8" y="183.75" font-size="3.7" fill="#00aaa4" text-anchor="start" dominant-baseline="central" stroke="#00aaa4" stroke-width="0.12" textLength="7" lengthAdjust="spacingAndGlyphs">India</text>
<text x="513.3" y="183.75" font-size="3.7" fill="#df7a1c" text-anchor="start" dominant-baseline="central" stroke="#df7a1c" stroke-width="0.12" textLength="13.1" lengthAdjust="spacingAndGlyphs">Botswana</text>
<text x="530" y="184.25" font-size="3.7" fill="#6e85f2" text-anchor="start" dominant-baseline="central" stroke="#6e85f2" stroke-width="0.12" textLength="12" lengthAdjust="spacingAndGlyphs">Philippines</text>
<text x="550" y="183.75" font-size="3.7" fill="#00aaa4" text-anchor="start" dominant-baseline="central" stroke="#00aaa4" stroke-width="0.12" textLength="3.6" lengthAdjust="spacingAndGlyphs">Iraq</text>
<text x="565" y="183.75" font-size="3.7" fill="#199ee6" text-anchor="start" dominant-baseline="central" stroke="#199ee6" stroke-width="0.12" textLength="2.6" lengthAdjust="spacingAndGlyphs">Libya</text>
<text x="584.6" y="185.05" font-size="3.7" fill="#199ee6" text-anchor="start" dominant-baseline="central" stroke="#199ee6" stroke-width="0.12" textLength="8.4" lengthAdjust="spacingAndGlyphs">Oman</text>
<text x="595.3" y="184.35" font-size="3.7" fill="#6e85f2" text-anchor="start" dominant-baseline="central" stroke="#6e85f2" stroke-width="0.12" textLength="13.7" lengthAdjust="spacingAndGlyphs">Puerto Rico</text>
<text x="612.2" y="183.95" font-size="3.7" fill="#00aaa4" text-anchor="start" dominant-baseline="central" stroke="#00aaa4" stroke-width="0.12" textLength="7.8" lengthAdjust="spacingAndGlyphs">Qatar</text>
<text x="620.6" y="183.95" font-size="3.7" fill="#199ee6" text-anchor="start" dominant-baseline="central" stroke="#199ee6" stroke-width="0.12" textLength="6.9" lengthAdjust="spacingAndGlyphs">Chile</text>
<text x="636" y="183.95" font-size="3.7" fill="#9f9e00" text-anchor="start" dominant-baseline="central" stroke="#9f9e00" stroke-width="0.12" textLength="7" lengthAdjust="spacingAndGlyphs">Canada</text>
<text x="649.8" y="184.65" font-size="3.7" fill="#199ee6" text-anchor="start" dominant-baseline="central" stroke="#199ee6" stroke-width="0.12" textLength="10.7" lengthAdjust="spacingAndGlyphs">Norway</text>
<text x="664.4" y="184.65" font-size="3.7" fill="#d65fe0" text-anchor="start" dominant-baseline="central" stroke="#d65fe0" stroke-width="0.12" textLength="17.6" lengthAdjust="spacingAndGlyphs">Switzerland</text>
<text x="450.4" y="186.65" font-size="3.7" fill="#14a33f" text-anchor="start" dominant-baseline="central" stroke="#14a33f" stroke-width="0.12" textLength="11.4" lengthAdjust="spacingAndGlyphs">Gambia</text>
<text x="465" y="186.65" font-size="3.7" fill="#df7a1c" text-anchor="start" dominant-baseline="central" stroke="#df7a1c" stroke-width="0.12" textLength="17" lengthAdjust="spacingAndGlyphs">Bangladesh</text>
<text x="498.4" y="188.95" font-size="3.7" fill="#ef5a78" text-anchor="start" dominant-baseline="central" stroke="#ef5a78" stroke-width="0.12" textLength="15.6" lengthAdjust="spacingAndGlyphs">Uzbekistan</text>
<text x="520.3" y="189.85" font-size="3.7" fill="#6e85f2" text-anchor="start" dominant-baseline="central" stroke="#6e85f2" stroke-width="0.12" textLength="13.1" lengthAdjust="spacingAndGlyphs">Palestine</text>
<text x="537" y="190.75" font-size="3.7" fill="#00aaa4" text-anchor="start" dominant-baseline="central" stroke="#00aaa4" stroke-width="0.12" textLength="13" lengthAdjust="spacingAndGlyphs">Maldives</text>
<text x="553.6" y="190.35" font-size="3.7" fill="#ee5aa9" text-anchor="start" dominant-baseline="central" stroke="#ee5aa9" stroke-width="0.12" textLength="14" lengthAdjust="spacingAndGlyphs">Sri Lanka</text>
<text x="571" y="189.85" font-size="3.7" fill="#00aaa4" text-anchor="start" dominant-baseline="central" stroke="#00aaa4" stroke-width="0.12" textLength="11.4" lengthAdjust="spacingAndGlyphs">Lebanon</text>
<text x="593.8" y="190.45" font-size="3.7" fill="#00aaa4" text-anchor="start" dominant-baseline="central" stroke="#00aaa4" stroke-width="0.12" textLength="7.7" lengthAdjust="spacingAndGlyphs">Israel</text>
<text x="604.5" y="189.95" font-size="3.7" fill="#14a33f" text-anchor="start" dominant-baseline="central" stroke="#14a33f" stroke-width="0.12" textLength="6.9" lengthAdjust="spacingAndGlyphs">France</text>
<text x="609" y="188.95" font-size="3.7" fill="#ef5a78" text-anchor="start" dominant-baseline="central" stroke="#ef5a78" stroke-width="0.12" textLength="30.8" lengthAdjust="spacingAndGlyphs">Republic of Moldova</text>
<text x="641.3" y="189.95" font-size="3.7" fill="#ee5aa9" text-anchor="start" dominant-baseline="central" stroke="#ee5aa9" stroke-width="0.12" textLength="9.3" lengthAdjust="spacingAndGlyphs">Sweden</text>
<text x="657.5" y="189.65" font-size="3.7" fill="#14a33f" text-anchor="start" dominant-baseline="central" stroke="#14a33f" stroke-width="0.12" textLength="10.7" lengthAdjust="spacingAndGlyphs">Iceland</text>
<text x="463.2" y="191.65" font-size="3.7" fill="#9f9e00" text-anchor="start" dominant-baseline="central" stroke="#9f9e00" stroke-width="0.12" textLength="18.8" lengthAdjust="spacingAndGlyphs">Cote d'Ivoire</text>
<text x="485.3" y="190.95" font-size="3.7" fill="#199ee6" text-anchor="start" dominant-baseline="central" stroke="#199ee6" stroke-width="0.12" textLength="9.6" lengthAdjust="spacingAndGlyphs">Nigeria</text>
<text x="490.5" y="195.95" font-size="3.7" fill="#d65fe0" text-anchor="start" dominant-baseline="central" stroke="#d65fe0" stroke-width="0.12" textLength="30.7" lengthAdjust="spacingAndGlyphs">Syrian Arab Republic</text>
<text x="522" y="195.95" font-size="3.7" fill="#199ee6" text-anchor="start" dominant-baseline="central" stroke="#199ee6" stroke-width="0.12" textLength="10.5" lengthAdjust="spacingAndGlyphs">Namibia</text>
<text x="537" y="195.95" font-size="3.7" fill="#e4483b" text-anchor="start" dominant-baseline="central" stroke="#e4483b" stroke-width="0.12" textLength="10.4" lengthAdjust="spacingAndGlyphs">Algeria</text>
<text x="551" y="195.95" font-size="3.7" fill="#ee5aa9" text-anchor="start" dominant-baseline="central" stroke="#ee5aa9" stroke-width="0.12" textLength="9.6" lengthAdjust="spacingAndGlyphs">Tunisia</text>
<text x="564" y="195.45" font-size="3.7" fill="#00aaa4" text-anchor="start" dominant-baseline="central" stroke="#00aaa4" stroke-width="0.12" textLength="9.7" lengthAdjust="spacingAndGlyphs">Jordan</text>
<text x="582.3" y="195.55" font-size="3.7" fill="#ee5aa9" text-anchor="start" dominant-baseline="central" stroke="#ee5aa9" stroke-width="0.12" textLength="8.4" lengthAdjust="spacingAndGlyphs">Spain</text>
<text x="593" y="195.55" font-size="3.7" fill="#d65fe0" text-anchor="start" dominant-baseline="central" stroke="#d65fe0" stroke-width="0.12" textLength="14.6" lengthAdjust="spacingAndGlyphs">Saudi Arabia</text>
<text x="616" y="195.55" font-size="3.7" fill="#00aaa4" text-anchor="start" dominant-baseline="central" stroke="#00aaa4" stroke-width="0.12" textLength="10" lengthAdjust="spacingAndGlyphs">Kuwait</text>
<text x="630.6" y="194.25" font-size="3.7" fill="#14a33f" text-anchor="start" dominant-baseline="central" stroke="#14a33f" stroke-width="0.12" textLength="9.2" lengthAdjust="spacingAndGlyphs">Finland</text>
<text x="643.7" y="195.05" font-size="3.7" fill="#ee5aa9" text-anchor="start" dominant-baseline="central" stroke="#ee5aa9" stroke-width="0.12" textLength="19.9" lengthAdjust="spacingAndGlyphs">United Kingdom</text>
<text x="509.8" y="201.25" font-size="3.7" fill="#199ee6" text-anchor="start" dominant-baseline="central" stroke="#199ee6" stroke-width="0.12" textLength="13.2" lengthAdjust="spacingAndGlyphs">Morocco</text>
<text x="560.6" y="200.35" font-size="3.7" fill="#ee5aa9" text-anchor="start" dominant-baseline="central" stroke="#ee5aa9" stroke-width="0.12" textLength="29.7" lengthAdjust="spacingAndGlyphs">Trinidad and Tobago</text>
<text x="591.5" y="200.75" font-size="3.7" fill="#199ee6" text-anchor="start" dominant-baseline="central" stroke="#199ee6" stroke-width="0.12" textLength="6.9" lengthAdjust="spacingAndGlyphs">Malta</text>
<text x="606.8" y="200.75" font-size="3.7" fill="#df7a1c" text-anchor="start" dominant-baseline="central" stroke="#df7a1c" stroke-width="0.12" textLength="13.2" lengthAdjust="spacingAndGlyphs">Australia</text>
<text x="624.5" y="200.45" font-size="3.7" fill="#6e85f2" text-anchor="start" dominant-baseline="central" stroke="#6e85f2" stroke-width="0.12" textLength="7.5" lengthAdjust="spacingAndGlyphs">Qatar</text>
<path d="M403.9,147.1 C410.55,147.18 429.85,148.07 443.8,147.6 C457.75,147.13 478.48,145.03 487.6,144.3 C496.72,143.57 494.85,143.28 498.5,143.2 C502.15,143.12 504.02,143.25 509.5,143.8 C514.98,144.35 526.32,145.73 531.4,146.5 C536.48,147.27 535.65,147.65 540,148.4 C544.35,149.15 551.67,149.98 557.5,151 C563.33,152.02 569.17,153.18 575,154.5 C580.83,155.82 586.67,157.28 592.5,158.9 C598.33,160.52 604.15,162.15 610,164.2 C615.85,166.25 621.77,168.43 627.6,171.2 C633.43,173.97 642.1,179.2 645,180.8" fill="none" stroke="#5a6f86" stroke-width="0.8" stroke-linecap="round"/>
<line x1="376.4" y1="9" x2="376.4" y2="208.95" stroke="#5a5a5a" stroke-width="0.9"/>
<line x1="375.95" y1="208.5" x2="683" y2="208.5" stroke="#5a5a5a" stroke-width="0.9"/>
<line x1="375" y1="198.3" x2="376.4" y2="198.3" stroke="#555" stroke-width="0.5"/>
<text x="374.2" y="199.1" font-size="3" fill="#222" text-anchor="end" dominant-baseline="central" stroke="#222" stroke-width="0.12">0</text>
<line x1="375" y1="137.5" x2="376.4" y2="137.5" stroke="#555" stroke-width="0.5"/>
<text x="374.2" y="138.3" font-size="3" fill="#222" text-anchor="end" dominant-baseline="central" stroke="#222" stroke-width="0.12">1</text>
<line x1="375" y1="77" x2="376.4" y2="77" stroke="#555" stroke-width="0.5"/>
<text x="374.2" y="77.8" font-size="3" fill="#222" text-anchor="end" dominant-baseline="central" stroke="#222" stroke-width="0.12">2</text>
<line x1="375" y1="15.5" x2="376.4" y2="15.5" stroke="#555" stroke-width="0.5"/>
<text x="374.2" y="16.3" font-size="3" fill="#222" text-anchor="end" dominant-baseline="central" stroke="#222" stroke-width="0.12">3</text>
<line x1="389.7" y1="208.2" x2="389.7" y2="209.6" stroke="#555" stroke-width="0.5"/>
<text x="389.7" y="212.2" font-size="3" fill="#222" text-anchor="middle" dominant-baseline="central" stroke="#222" stroke-width="0.12">0.2</text>
<line x1="424.7" y1="208.2" x2="424.7" y2="209.6" stroke="#555" stroke-width="0.5"/>
<text x="424.7" y="212.2" font-size="3" fill="#222" text-anchor="middle" dominant-baseline="central" stroke="#222" stroke-width="0.12">0.3</text>
<line x1="459.7" y1="208.2" x2="459.7" y2="209.6" stroke="#555" stroke-width="0.5"/>
<text x="459.7" y="212.2" font-size="3" fill="#222" text-anchor="middle" dominant-baseline="central" stroke="#222" stroke-width="0.12">0.4</text>
<line x1="494.7" y1="208.2" x2="494.7" y2="209.6" stroke="#555" stroke-width="0.5"/>
<text x="494.7" y="212.2" font-size="3" fill="#222" text-anchor="middle" dominant-baseline="central" stroke="#222" stroke-width="0.12">0.5</text>
<line x1="529.7" y1="208.2" x2="529.7" y2="209.6" stroke="#555" stroke-width="0.5"/>
<text x="529.7" y="212.2" font-size="3" fill="#222" text-anchor="middle" dominant-baseline="central" stroke="#222" stroke-width="0.12">0.6</text>
<line x1="564.7" y1="208.2" x2="564.7" y2="209.6" stroke="#555" stroke-width="0.5"/>
<text x="564.7" y="212.2" font-size="3" fill="#222" text-anchor="middle" dominant-baseline="central" stroke="#222" stroke-width="0.12">0.7</text>
<line x1="599.7" y1="208.2" x2="599.7" y2="209.6" stroke="#555" stroke-width="0.5"/>
<text x="599.7" y="212.2" font-size="3" fill="#222" text-anchor="middle" dominant-baseline="central" stroke="#222" stroke-width="0.12">0.8</text>
<line x1="634.7" y1="208.2" x2="634.7" y2="209.6" stroke="#555" stroke-width="0.5"/>
<text x="634.7" y="212.2" font-size="3" fill="#222" text-anchor="middle" dominant-baseline="central" stroke="#222" stroke-width="0.12">0.9</text>
<line x1="669.7" y1="208.2" x2="669.7" y2="209.6" stroke="#555" stroke-width="0.5"/>
<text x="669.7" y="212.2" font-size="3" fill="#222" text-anchor="middle" dominant-baseline="central" stroke="#222" stroke-width="0.12">1.0</text>
<text x="529.5" y="215.3" font-size="4" fill="#111" text-anchor="middle" dominant-baseline="central" font-weight="bold" stroke="#111" stroke-width="0.1" textLength="6.6" lengthAdjust="spacingAndGlyphs">SDI</text>
<text x="368.9" y="108.6" font-size="3.7" fill="#111" text-anchor="middle" dominant-baseline="central" font-weight="bold" stroke="#111" stroke-width="0.16" textLength="66" lengthAdjust="spacingAndGlyphs" transform="rotate(-90 368.9 108.6)">Deaths Rate per 100,000 population</text>
<text x="2.6" y="246.4" font-size="12" fill="#111" text-anchor="start" dominant-baseline="central" font-weight="bold">c</text>
<polygon points="122,259.2 120.77,261.35 123.23,261.35" fill="#a33d85"/>
<polygon points="125,264.2 123.77,266.35 126.23,266.35" fill="#a33d85"/>
<polygon points="128.5,268.7 127.27,270.85 129.74,270.85" fill="#a33d85"/>
<polygon points="131.5,273.7 130.26,275.85 132.74,275.85" fill="#a33d85"/>
<polygon points="134.5,278.7 133.26,280.85 135.74,280.85" fill="#a33d85"/>
<polygon points="137.5,282.7 136.26,284.85 138.74,284.85" fill="#a33d85"/>
<polygon points="141,287.7 139.76,289.85 142.24,289.85" fill="#a33d85"/>
<polygon points="144.5,292.2 143.26,294.35 145.74,294.35" fill="#a33d85"/>
<polygon points="147.5,294.7 146.26,296.85 148.74,296.85" fill="#a33d85"/>
<polygon points="151,296.2 149.76,298.35 152.24,298.35" fill="#a33d85"/>
<polygon points="153.5,296.7 152.26,298.85 154.74,298.85" fill="#a33d85"/>
<polygon points="155.5,295.7 154.26,297.85 156.74,297.85" fill="#a33d85"/>
<polygon points="158,298.2 156.76,300.35 159.24,300.35" fill="#a33d85"/>
<polygon points="161,299.7 159.76,301.85 162.24,301.85" fill="#a33d85"/>
<polygon points="164,299.7 162.76,301.85 165.24,301.85" fill="#a33d85"/>
<polygon points="167,305.7 165.76,307.85 168.24,307.85" fill="#a33d85"/>
<polygon points="171,317.7 169.76,319.85 172.24,319.85" fill="#a33d85"/>
<polygon points="174.5,325.7 173.26,327.85 175.74,327.85" fill="#a33d85"/>
<polygon points="177.5,329.7 176.26,331.85 178.74,331.85" fill="#a33d85"/>
<polygon points="181.5,333.7 180.26,335.85 182.74,335.85" fill="#a33d85"/>
<polygon points="185,337.7 183.76,339.85 186.24,339.85" fill="#a33d85"/>
<polygon points="188,342.7 186.76,344.85 189.24,344.85" fill="#a33d85"/>
<polygon points="190,346.2 188.76,348.35 191.24,348.35" fill="#a33d85"/>
<polygon points="192,349.7 190.76,351.85 193.24,351.85" fill="#a33d85"/>
<polygon points="194,353.7 192.76,355.85 195.24,355.85" fill="#a33d85"/>
<polygon points="197.5,359.7 196.26,361.85 198.74,361.85" fill="#a33d85"/>
<polygon points="202.5,363.7 201.26,365.85 203.74,365.85" fill="#a33d85"/>
<polygon points="207.5,366.2 206.26,368.35 208.74,368.35" fill="#a33d85"/>
<polygon points="228.2,302.75 227.34,304.27 229.05,304.27" fill="none" stroke="#80cadc" stroke-width="0.7"/>
<polygon points="230,307.85 229.15,309.37 230.85,309.37" fill="none" stroke="#80cadc" stroke-width="0.7"/>
<polygon points="231.9,313.35 231.05,314.87 232.75,314.87" fill="none" stroke="#80cadc" stroke-width="0.7"/>
<polygon points="233.7,318.65 232.84,320.17 234.55,320.17" fill="none" stroke="#80cadc" stroke-width="0.7"/>
<polygon points="235.5,323.35 234.65,324.87 236.35,324.87" fill="none" stroke="#80cadc" stroke-width="0.7"/>
<polygon points="237.3,327.95 236.45,329.47 238.16,329.47" fill="none" stroke="#80cadc" stroke-width="0.7"/>
<polygon points="239.2,332.85 238.34,334.37 240.05,334.37" fill="none" stroke="#80cadc" stroke-width="0.7"/>
<polygon points="241,337.95 240.15,339.47 241.85,339.47" fill="none" stroke="#80cadc" stroke-width="0.7"/>
<polygon points="241.9,341.95 241.05,343.47 242.75,343.47" fill="none" stroke="#80cadc" stroke-width="0.7"/>
<polygon points="243.2,345.95 242.34,347.47 244.05,347.47" fill="none" stroke="#80cadc" stroke-width="0.7"/>
<polygon points="244.6,350.75 243.75,352.27 245.45,352.27" fill="none" stroke="#80cadc" stroke-width="0.7"/>
<polygon points="245.9,355.65 245.05,357.17 246.75,357.17" fill="none" stroke="#80cadc" stroke-width="0.7"/>
<polygon points="247.4,360.25 246.55,361.77 248.25,361.77" fill="none" stroke="#80cadc" stroke-width="0.7"/>
<polygon points="248.6,363.55 247.75,365.07 249.45,365.07" fill="none" stroke="#80cadc" stroke-width="0.7"/>
<polygon points="249.7,366.65 248.84,368.17 250.55,368.17" fill="none" stroke="#80cadc" stroke-width="0.7"/>
<polygon points="251,369.35 250.15,370.87 251.85,370.87" fill="none" stroke="#80cadc" stroke-width="0.7"/>
<polygon points="252.3,372.95 251.45,374.47 253.16,374.47" fill="none" stroke="#80cadc" stroke-width="0.7"/>
<polygon points="253.8,376.25 252.95,377.77 254.66,377.77" fill="none" stroke="#80cadc" stroke-width="0.7"/>
<polygon points="254.7,379.35 253.84,380.87 255.55,380.87" fill="none" stroke="#80cadc" stroke-width="0.7"/>
<polygon points="255.9,382.45 255.05,383.97 256.75,383.97" fill="none" stroke="#80cadc" stroke-width="0.7"/>
<polygon points="257.4,385.75 256.54,387.27 258.25,387.27" fill="none" stroke="#80cadc" stroke-width="0.7"/>
<polygon points="258.7,389.05 257.84,390.57 259.56,390.57" fill="none" stroke="#80cadc" stroke-width="0.7"/>
<polygon points="259.8,392.15 258.94,393.67 260.66,393.67" fill="none" stroke="#80cadc" stroke-width="0.7"/>
<polygon points="261.1,395.85 260.25,397.37 261.96,397.37" fill="none" stroke="#80cadc" stroke-width="0.7"/>
<polygon points="262.3,398.55 261.44,400.07 263.16,400.07" fill="none" stroke="#80cadc" stroke-width="0.7"/>
<polygon points="263.5,401.55 262.64,403.07 264.36,403.07" fill="none" stroke="#80cadc" stroke-width="0.7"/>
<polygon points="264.8,404.05 263.94,405.57 265.66,405.57" fill="none" stroke="#80cadc" stroke-width="0.7"/>
<polygon points="266,406.55 265.14,408.07 266.86,408.07" fill="none" stroke="#80cadc" stroke-width="0.7"/>
<polygon points="132,326.95 131.06,328.63 132.94,328.63" fill="none" stroke="#a3abd0" stroke-width="0.7"/>
<polygon points="132.59,330.5 131.65,332.18 133.54,332.18" fill="none" stroke="#a3abd0" stroke-width="0.7"/>
<polygon points="133.79,332.16 132.85,333.84 134.74,333.84" fill="none" stroke="#a3abd0" stroke-width="0.7"/>
<polygon points="136.85,331.32 135.91,333 137.8,333" fill="none" stroke="#a3abd0" stroke-width="0.7"/>
<polygon points="140.02,332.96 139.08,334.64 140.97,334.64" fill="none" stroke="#a3abd0" stroke-width="0.7"/>
<polygon points="142.83,334.82 141.88,336.5 143.77,336.5" fill="none" stroke="#a3abd0" stroke-width="0.7"/>
<polygon points="144.13,338.18 143.18,339.86 145.07,339.86" fill="none" stroke="#a3abd0" stroke-width="0.7"/>
<polygon points="145.91,341.3 144.97,342.98 146.86,342.98" fill="none" stroke="#a3abd0" stroke-width="0.7"/>
<polygon points="148.77,343.46 147.83,345.14 149.72,345.14" fill="none" stroke="#a3abd0" stroke-width="0.7"/>
<polygon points="151.55,345.69 150.61,347.37 152.5,347.37" fill="none" stroke="#a3abd0" stroke-width="0.7"/>
<polygon points="153.71,348.57 152.77,350.25 154.66,350.25" fill="none" stroke="#a3abd0" stroke-width="0.7"/>
<polygon points="155.79,351.51 154.85,353.19 156.74,353.19" fill="none" stroke="#a3abd0" stroke-width="0.7"/>
<polygon points="157.94,354.39 156.99,356.07 158.88,356.07" fill="none" stroke="#a3abd0" stroke-width="0.7"/>
<polygon points="160.48,356.93 159.54,358.61 161.43,358.61" fill="none" stroke="#a3abd0" stroke-width="0.7"/>
<polygon points="163.03,359.48 162.08,361.16 163.97,361.16" fill="none" stroke="#a3abd0" stroke-width="0.7"/>
<polygon points="165.57,362.02 164.63,363.7 166.52,363.7" fill="none" stroke="#a3abd0" stroke-width="0.7"/>
<polygon points="168.06,364.62 167.12,366.3 169.01,366.3" fill="none" stroke="#a3abd0" stroke-width="0.7"/>
<polygon points="170.37,367.39 169.42,369.07 171.31,369.07" fill="none" stroke="#a3abd0" stroke-width="0.7"/>
<polygon points="172.65,370.17 171.71,371.85 173.6,371.85" fill="none" stroke="#a3abd0" stroke-width="0.7"/>
<polygon points="174.72,373.12 173.77,374.8 175.66,374.8" fill="none" stroke="#a3abd0" stroke-width="0.7"/>
<polygon points="177.22,374.34 176.27,376.02 178.16,376.02" fill="none" stroke="#a3abd0" stroke-width="0.7"/>
<polygon points="180.39,372.66 179.45,374.34 181.34,374.34" fill="none" stroke="#a3abd0" stroke-width="0.7"/>
<polygon points="183.27,370.5 182.33,372.18 184.22,372.18" fill="none" stroke="#a3abd0" stroke-width="0.7"/>
<polygon points="185.2,372.36 184.26,374.04 186.15,374.04" fill="none" stroke="#a3abd0" stroke-width="0.7"/>
<rect x="150.66" y="336.66" width="1.68" height="1.68" fill="#6d2f8f"/>
<rect x="151.66" y="341.66" width="1.68" height="1.68" fill="#6d2f8f"/>
<rect x="152.16" y="344.16" width="1.68" height="1.68" fill="#6d2f8f"/>
<rect x="154.16" y="349.16" width="1.68" height="1.68" fill="#6d2f8f"/>
<rect x="155.16" y="353.16" width="1.68" height="1.68" fill="#6d2f8f"/>
<rect x="156.66" y="358.16" width="1.68" height="1.68" fill="#6d2f8f"/>
<rect x="158.16" y="362.16" width="1.68" height="1.68" fill="#6d2f8f"/>
<rect x="159.16" y="365.16" width="1.68" height="1.68" fill="#6d2f8f"/>
<rect x="161.16" y="369.16" width="1.68" height="1.68" fill="#6d2f8f"/>
<rect x="163.16" y="373.16" width="1.68" height="1.68" fill="#6d2f8f"/>
<rect x="166.16" y="375.16" width="1.68" height="1.68" fill="#6d2f8f"/>
<rect x="169.16" y="376.66" width="1.68" height="1.68" fill="#6d2f8f"/>
<rect x="171.66" y="380.16" width="1.68" height="1.68" fill="#6d2f8f"/>
<rect x="174.16" y="383.16" width="1.68" height="1.68" fill="#6d2f8f"/>
<rect x="179.16" y="386.66" width="1.68" height="1.68" fill="#6d2f8f"/>
<rect x="184.16" y="391.66" width="1.68" height="1.68" fill="#6d2f8f"/>
<rect x="186.66" y="395.16" width="1.68" height="1.68" fill="#6d2f8f"/>
<rect x="189.16" y="399.16" width="1.68" height="1.68" fill="#6d2f8f"/>
<rect x="191.16" y="402.16" width="1.68" height="1.68" fill="#6d2f8f"/>
<rect x="193.66" y="405.16" width="1.68" height="1.68" fill="#6d2f8f"/>
<rect x="190.16" y="329.16" width="1.68" height="1.68" fill="#238f52"/>
<rect x="193.16" y="332.16" width="1.68" height="1.68" fill="#238f52"/>
<rect x="195.16" y="334.16" width="1.68" height="1.68" fill="#238f52"/>
<rect x="197.16" y="330.66" width="1.68" height="1.68" fill="#238f52"/>
<rect x="199.16" y="337.16" width="1.68" height="1.68" fill="#238f52"/>
<rect x="200.16" y="344.16" width="1.68" height="1.68" fill="#238f52"/>
<rect x="201.16" y="349.16" width="1.68" height="1.68" fill="#238f52"/>
<rect x="201.66" y="353.16" width="1.68" height="1.68" fill="#238f52"/>
<rect x="203.16" y="357.16" width="1.68" height="1.68" fill="#238f52"/>
<rect x="205.16" y="361.66" width="1.68" height="1.68" fill="#238f52"/>
<rect x="207.16" y="365.16" width="1.68" height="1.68" fill="#238f52"/>
<rect x="210.16" y="368.16" width="1.68" height="1.68" fill="#238f52"/>
<rect x="212.16" y="372.16" width="1.68" height="1.68" fill="#238f52"/>
<rect x="215.16" y="376.66" width="1.68" height="1.68" fill="#238f52"/>
<rect x="215.2" y="376.7" width="1.6" height="1.6" fill="#238f52"/>
<rect x="216.64" y="378.86" width="1.6" height="1.6" fill="#238f52"/>
<rect x="218.08" y="381.03" width="1.6" height="1.6" fill="#238f52"/>
<rect x="219.87" y="382.91" width="1.6" height="1.6" fill="#238f52"/>
<rect x="221.68" y="384.78" width="1.6" height="1.6" fill="#238f52"/>
<rect x="223.09" y="386.95" width="1.6" height="1.6" fill="#238f52"/>
<rect x="224.44" y="389.18" width="1.6" height="1.6" fill="#238f52"/>
<rect x="225.96" y="391.28" width="1.6" height="1.6" fill="#238f52"/>
<rect x="227.54" y="393.34" width="1.6" height="1.6" fill="#238f52"/>
<rect x="229.38" y="395.18" width="1.6" height="1.6" fill="#238f52"/>
<rect x="231.3" y="396.94" width="1.6" height="1.6" fill="#238f52"/>
<rect x="233.21" y="398.69" width="1.6" height="1.6" fill="#238f52"/>
<rect x="234.82" y="400.73" width="1.6" height="1.6" fill="#238f52"/>
<rect x="236.86" y="402.31" width="1.6" height="1.6" fill="#238f52"/>
<rect x="238.9" y="403.9" width="1.6" height="1.6" fill="#238f52"/>
<rect x="125.2" y="375.2" width="1.6" height="1.6" fill="#d7383b"/>
<rect x="127.78" y="375.52" width="1.6" height="1.6" fill="#d7383b"/>
<rect x="130.33" y="375.98" width="1.6" height="1.6" fill="#d7383b"/>
<rect x="132.86" y="376.61" width="1.6" height="1.6" fill="#d7383b"/>
<rect x="134.66" y="378.41" width="1.6" height="1.6" fill="#d7383b"/>
<rect x="136.37" y="380.37" width="1.6" height="1.6" fill="#d7383b"/>
<rect x="138.21" y="382.21" width="1.6" height="1.6" fill="#d7383b"/>
<rect x="140.22" y="383.81" width="1.6" height="1.6" fill="#d7383b"/>
<rect x="142.45" y="385.15" width="1.6" height="1.6" fill="#d7383b"/>
<rect x="144.68" y="386.49" width="1.6" height="1.6" fill="#d7383b"/>
<rect x="146.91" y="387.83" width="1.6" height="1.6" fill="#d7383b"/>
<rect x="149.14" y="389.16" width="1.6" height="1.6" fill="#d7383b"/>
<rect x="151.18" y="390.78" width="1.6" height="1.6" fill="#d7383b"/>
<rect x="153.21" y="392.41" width="1.6" height="1.6" fill="#d7383b"/>
<rect x="155.29" y="393.96" width="1.6" height="1.6" fill="#d7383b"/>
<rect x="157.42" y="395.45" width="1.6" height="1.6" fill="#d7383b"/>
<rect x="159.55" y="396.94" width="1.6" height="1.6" fill="#d7383b"/>
<rect x="161.68" y="398.43" width="1.6" height="1.6" fill="#d7383b"/>
<rect x="163.81" y="399.93" width="1.6" height="1.6" fill="#d7383b"/>
<rect x="166.02" y="401.29" width="1.6" height="1.6" fill="#d7383b"/>
<rect x="168.25" y="402.63" width="1.6" height="1.6" fill="#d7383b"/>
<rect x="170.61" y="403.67" width="1.6" height="1.6" fill="#d7383b"/>
<rect x="173.08" y="404.49" width="1.6" height="1.6" fill="#d7383b"/>
<rect x="175.55" y="405.31" width="1.6" height="1.6" fill="#d7383b"/>
<rect x="178.04" y="406.07" width="1.6" height="1.6" fill="#d7383b"/>
<rect x="180.52" y="406.84" width="1.6" height="1.6" fill="#d7383b"/>
<polygon points="141,362.8 142.2,364 141,365.2 139.8,364" fill="none" stroke="#e9957f" stroke-width="0.65"/>
<polygon points="143.12,364.92 144.32,366.12 143.12,367.32 141.92,366.12" fill="none" stroke="#e9957f" stroke-width="0.65"/>
<polygon points="145.26,367.03 146.46,368.23 145.26,369.43 144.06,368.23" fill="none" stroke="#e9957f" stroke-width="0.65"/>
<polygon points="147.48,369.04 148.68,370.24 147.48,371.44 146.28,370.24" fill="none" stroke="#e9957f" stroke-width="0.65"/>
<polygon points="149.71,371.04 150.91,372.24 149.71,373.44 148.51,372.24" fill="none" stroke="#e9957f" stroke-width="0.65"/>
<polygon points="151.85,373.15 153.05,374.35 151.85,375.55 150.65,374.35" fill="none" stroke="#e9957f" stroke-width="0.65"/>
<polygon points="153.97,375.27 155.17,376.47 153.97,377.67 152.77,376.47" fill="none" stroke="#e9957f" stroke-width="0.65"/>
<polygon points="156.09,377.39 157.29,378.59 156.09,379.79 154.89,378.59" fill="none" stroke="#e9957f" stroke-width="0.65"/>
<polygon points="158.21,379.51 159.41,380.71 158.21,381.91 157.01,380.71" fill="none" stroke="#e9957f" stroke-width="0.65"/>
<polygon points="160.32,381.65 161.52,382.85 160.32,384.05 159.12,382.85" fill="none" stroke="#e9957f" stroke-width="0.65"/>
<polygon points="162.34,383.87 163.54,385.07 162.34,386.27 161.14,385.07" fill="none" stroke="#e9957f" stroke-width="0.65"/>
<polygon points="164.36,386.09 165.56,387.29 164.36,388.49 163.16,387.29" fill="none" stroke="#e9957f" stroke-width="0.65"/>
<polygon points="166.31,388.37 167.51,389.57 166.31,390.77 165.11,389.57" fill="none" stroke="#e9957f" stroke-width="0.65"/>
<polygon points="168.23,390.67 169.43,391.87 168.23,393.07 167.03,391.87" fill="none" stroke="#e9957f" stroke-width="0.65"/>
<polygon points="170.16,392.96 171.36,394.16 170.16,395.36 168.96,394.16" fill="none" stroke="#e9957f" stroke-width="0.65"/>
<polygon points="172.28,395.08 173.48,396.28 172.28,397.48 171.08,396.28" fill="none" stroke="#e9957f" stroke-width="0.65"/>
<polygon points="174.41,397.21 175.61,398.41 174.41,399.61 173.21,398.41" fill="none" stroke="#e9957f" stroke-width="0.65"/>
<polygon points="176.53,399.33 177.73,400.53 176.53,401.73 175.33,400.53" fill="none" stroke="#e9957f" stroke-width="0.65"/>
<polygon points="178.65,401.45 179.85,402.65 178.65,403.85 177.45,402.65" fill="none" stroke="#e9957f" stroke-width="0.65"/>
<polygon points="180.85,403.48 182.05,404.68 180.85,405.88 179.65,404.68" fill="none" stroke="#e9957f" stroke-width="0.65"/>
<polygon points="183.19,405.35 184.39,406.55 183.19,407.75 181.99,406.55" fill="none" stroke="#e9957f" stroke-width="0.65"/>
<polygon points="185.61,407.11 186.81,408.31 185.61,409.51 184.41,408.31" fill="none" stroke="#e9957f" stroke-width="0.65"/>
<polygon points="188.3,408.45 189.5,409.65 188.3,410.85 187.1,409.65" fill="none" stroke="#e9957f" stroke-width="0.65"/>
<polygon points="190.98,409.79 192.18,410.99 190.98,412.19 189.78,410.99" fill="none" stroke="#e9957f" stroke-width="0.65"/>
<polygon points="132.5,377.9 131.51,379.66 133.49,379.66" fill="none" stroke="#8fd3b8" stroke-width="0.7"/>
<polygon points="134.47,379.59 133.48,381.35 135.46,381.35" fill="none" stroke="#8fd3b8" stroke-width="0.7"/>
<polygon points="136.47,381.25 135.48,383.01 137.46,383.01" fill="none" stroke="#8fd3b8" stroke-width="0.7"/>
<polygon points="138.55,382.81 137.56,384.57 139.54,384.57" fill="none" stroke="#8fd3b8" stroke-width="0.7"/>
<polygon points="140.62,384.39 139.63,386.15 141.61,386.15" fill="none" stroke="#8fd3b8" stroke-width="0.7"/>
<polygon points="142.65,386.02 141.66,387.78 143.64,387.78" fill="none" stroke="#8fd3b8" stroke-width="0.7"/>
<polygon points="144.68,387.64 143.69,389.4 145.67,389.4" fill="none" stroke="#8fd3b8" stroke-width="0.7"/>
<polygon points="146.79,389.15 145.8,390.91 147.78,390.91" fill="none" stroke="#8fd3b8" stroke-width="0.7"/>
<polygon points="148.92,390.65 147.93,392.41 149.91,392.41" fill="none" stroke="#8fd3b8" stroke-width="0.7"/>
<polygon points="151.05,392.14 150.06,393.9 152.04,393.9" fill="none" stroke="#8fd3b8" stroke-width="0.7"/>
<polygon points="153.18,393.63 152.19,395.39 154.17,395.39" fill="none" stroke="#8fd3b8" stroke-width="0.7"/>
<polygon points="155.33,395.1 154.34,396.86 156.32,396.86" fill="none" stroke="#8fd3b8" stroke-width="0.7"/>
<polygon points="157.56,396.43 156.57,398.19 158.55,398.19" fill="none" stroke="#8fd3b8" stroke-width="0.7"/>
<polygon points="159.79,397.77 158.8,399.53 160.78,399.53" fill="none" stroke="#8fd3b8" stroke-width="0.7"/>
<polygon points="162.01,399.11 161.02,400.87 163,400.87" fill="none" stroke="#8fd3b8" stroke-width="0.7"/>
<polygon points="164.24,400.45 163.25,402.21 165.23,402.21" fill="none" stroke="#8fd3b8" stroke-width="0.7"/>
<polygon points="166.47,401.78 165.48,403.54 167.46,403.54" fill="none" stroke="#8fd3b8" stroke-width="0.7"/>
<polygon points="168.7,403.12 167.71,404.88 169.69,404.88" fill="none" stroke="#8fd3b8" stroke-width="0.7"/>
<polygon points="170.93,404.46 169.94,406.22 171.92,406.22" fill="none" stroke="#8fd3b8" stroke-width="0.7"/>
<polygon points="173.16,405.8 172.17,407.56 174.15,407.56" fill="none" stroke="#8fd3b8" stroke-width="0.7"/>
<polygon points="175.39,407.13 174.4,408.89 176.38,408.89" fill="none" stroke="#8fd3b8" stroke-width="0.7"/>
<polygon points="177.62,408.47 176.63,410.23 178.61,410.23" fill="none" stroke="#8fd3b8" stroke-width="0.7"/>
<polygon points="179.85,409.81 178.86,411.57 180.84,411.57" fill="none" stroke="#8fd3b8" stroke-width="0.7"/>
<polygon points="182.11,411.1 181.12,412.86 183.1,412.86" fill="none" stroke="#8fd3b8" stroke-width="0.7"/>
<polygon points="184.36,412.39 183.37,414.15 185.35,414.15" fill="none" stroke="#8fd3b8" stroke-width="0.7"/>
<polygon points="186.62,413.68 185.63,415.44 187.61,415.44" fill="none" stroke="#8fd3b8" stroke-width="0.7"/>
<polygon points="164,381.2 165.3,382.5 164,383.8 162.7,382.5" fill="#7a5a48"/>
<polygon points="165.77,382.67 167.07,383.97 165.77,385.27 164.47,383.97" fill="#7a5a48"/>
<polygon points="167.53,384.14 168.83,385.44 167.53,386.74 166.23,385.44" fill="#7a5a48"/>
<polygon points="169.3,385.62 170.6,386.92 169.3,388.22 168,386.92" fill="#7a5a48"/>
<polygon points="171.24,386.82 172.54,388.12 171.24,389.42 169.94,388.12" fill="#7a5a48"/>
<polygon points="173.32,387.81 174.62,389.11 173.32,390.41 172.02,389.11" fill="#7a5a48"/>
<polygon points="175.5,388.53 176.8,389.83 175.5,391.13 174.2,389.83" fill="#7a5a48"/>
<polygon points="177.5,387.76 178.8,389.06 177.5,390.36 176.2,389.06" fill="#7a5a48"/>
<polygon points="179.45,386.54 180.75,387.84 179.45,389.14 178.15,387.84" fill="#7a5a48"/>
<polygon points="181.17,387.37 182.47,388.67 181.17,389.97 179.87,388.67" fill="#7a5a48"/>
<polygon points="182.8,389 184.1,390.3 182.8,391.6 181.5,390.3" fill="#7a5a48"/>
<polygon points="184.42,390.62 185.72,391.92 184.42,393.22 183.12,391.92" fill="#7a5a48"/>
<polygon points="186.05,392.25 187.35,393.55 186.05,394.85 184.75,393.55" fill="#7a5a48"/>
<polygon points="187.68,393.88 188.98,395.18 187.68,396.48 186.38,395.18" fill="#7a5a48"/>
<polygon points="189.3,395.5 190.6,396.8 189.3,398.1 188,396.8" fill="#7a5a48"/>
<polygon points="191.11,396.9 192.41,398.2 191.11,399.5 189.81,398.2" fill="#7a5a48"/>
<polygon points="193.06,398.12 194.36,399.42 193.06,400.72 191.76,399.42" fill="#7a5a48"/>
<polygon points="194.97,399.4 196.27,400.7 194.97,402 193.67,400.7" fill="#7a5a48"/>
<polygon points="196.85,400.73 198.15,402.03 196.85,403.33 195.55,402.03" fill="#7a5a48"/>
<polygon points="198.88,401.79 200.18,403.09 198.88,404.39 197.58,403.09" fill="#7a5a48"/>
<polygon points="200.99,402.7 202.29,404 200.99,405.3 199.69,404" fill="#7a5a48"/>
<polygon points="203.05,403.72 204.35,405.02 203.05,406.32 201.75,405.02" fill="#7a5a48"/>
<polygon points="205.11,404.74 206.41,406.04 205.11,407.34 203.81,406.04" fill="#7a5a48"/>
<polygon points="207.24,405.6 208.54,406.9 207.24,408.2 205.94,406.9" fill="#7a5a48"/>
<polygon points="209.38,406.45 210.68,407.75 209.38,409.05 208.08,407.75" fill="#7a5a48"/>
<polygon points="211.51,407.31 212.81,408.61 211.51,409.91 210.21,408.61" fill="#7a5a48"/>
<polygon points="213.65,408.16 214.95,409.46 213.65,410.76 212.35,409.46" fill="#7a5a48"/>
<polygon points="215.21,409.52 216.51,410.82 215.21,412.12 213.91,410.82" fill="#7a5a48"/>
<polygon points="215.76,411.75 217.06,413.05 215.76,414.35 214.46,413.05" fill="#7a5a48"/>
<rect x="180.08" y="378.08" width="1.84" height="1.84" fill="#d93b3b"/>
<rect x="181.68" y="379.28" width="1.84" height="1.84" fill="#d93b3b"/>
<rect x="183.28" y="380.48" width="1.84" height="1.84" fill="#d93b3b"/>
<rect x="184.94" y="381.59" width="1.84" height="1.84" fill="#d93b3b"/>
<rect x="186.65" y="382.62" width="1.84" height="1.84" fill="#d93b3b"/>
<rect x="188.37" y="383.65" width="1.84" height="1.84" fill="#d93b3b"/>
<rect x="190.13" y="384.6" width="1.84" height="1.84" fill="#d93b3b"/>
<rect x="191.91" y="385.5" width="1.84" height="1.84" fill="#d93b3b"/>
<rect x="193.7" y="386.39" width="1.84" height="1.84" fill="#d93b3b"/>
<rect x="195.49" y="387.29" width="1.84" height="1.84" fill="#d93b3b"/>
<rect x="197.28" y="388.18" width="1.84" height="1.84" fill="#d93b3b"/>
<rect x="199.07" y="389.07" width="1.84" height="1.84" fill="#d93b3b"/>
<rect x="200.79" y="390.1" width="1.84" height="1.84" fill="#d93b3b"/>
<rect x="202.5" y="391.13" width="1.84" height="1.84" fill="#d93b3b"/>
<rect x="204.22" y="392.16" width="1.84" height="1.84" fill="#d93b3b"/>
<rect x="205.93" y="393.19" width="1.84" height="1.84" fill="#d93b3b"/>
<rect x="207.65" y="394.22" width="1.84" height="1.84" fill="#d93b3b"/>
<rect x="209.34" y="395.28" width="1.84" height="1.84" fill="#d93b3b"/>
<rect x="210.94" y="396.48" width="1.84" height="1.84" fill="#d93b3b"/>
<rect x="212.54" y="397.68" width="1.84" height="1.84" fill="#d93b3b"/>
<rect x="214.02" y="399.02" width="1.84" height="1.84" fill="#d93b3b"/>
<rect x="215.43" y="400.43" width="1.84" height="1.84" fill="#d93b3b"/>
<rect x="216.89" y="401.8" width="1.84" height="1.84" fill="#d93b3b"/>
<rect x="218.51" y="402.96" width="1.84" height="1.84" fill="#d93b3b"/>
<rect x="220.14" y="404.12" width="1.84" height="1.84" fill="#d93b3b"/>
<rect x="221.84" y="405.18" width="1.84" height="1.84" fill="#d93b3b"/>
<rect x="223.54" y="406.24" width="1.84" height="1.84" fill="#d93b3b"/>
<rect x="225.1" y="407.47" width="1.84" height="1.84" fill="#d93b3b"/>
<rect x="226.61" y="408.79" width="1.84" height="1.84" fill="#d93b3b"/>
<rect x="228.11" y="410.11" width="1.84" height="1.84" fill="#d93b3b"/>
<rect x="229.63" y="411.41" width="1.84" height="1.84" fill="#d93b3b"/>
<rect x="231.15" y="412.71" width="1.84" height="1.84" fill="#d93b3b"/>
<rect x="232.67" y="414.01" width="1.84" height="1.84" fill="#d93b3b"/>
<rect x="234.19" y="415.31" width="1.84" height="1.84" fill="#d93b3b"/>
<rect x="235.77" y="416.54" width="1.84" height="1.84" fill="#d93b3b"/>
<rect x="237.43" y="417.65" width="1.84" height="1.84" fill="#d93b3b"/>
<rect x="138.32" y="408.82" width="1.36" height="1.36" fill="#3a4a9e"/>
<rect x="139.84" y="409.58" width="1.36" height="1.36" fill="#3a4a9e"/>
<rect x="141.36" y="410.34" width="1.36" height="1.36" fill="#3a4a9e"/>
<rect x="142.88" y="411.1" width="1.36" height="1.36" fill="#3a4a9e"/>
<rect x="144.4" y="411.86" width="1.36" height="1.36" fill="#3a4a9e"/>
<rect x="145.92" y="412.62" width="1.36" height="1.36" fill="#3a4a9e"/>
<rect x="147.44" y="413.38" width="1.36" height="1.36" fill="#3a4a9e"/>
<rect x="148.96" y="414.14" width="1.36" height="1.36" fill="#3a4a9e"/>
<rect x="150.53" y="414.8" width="1.36" height="1.36" fill="#3a4a9e"/>
<rect x="152.11" y="415.43" width="1.36" height="1.36" fill="#3a4a9e"/>
<rect x="153.69" y="416.07" width="1.36" height="1.36" fill="#3a4a9e"/>
<rect x="155.26" y="416.7" width="1.36" height="1.36" fill="#3a4a9e"/>
<rect x="156.84" y="417.33" width="1.36" height="1.36" fill="#3a4a9e"/>
<rect x="158.42" y="417.96" width="1.36" height="1.36" fill="#3a4a9e"/>
<rect x="160.04" y="418.46" width="1.36" height="1.36" fill="#3a4a9e"/>
<rect x="161.7" y="418.8" width="1.36" height="1.36" fill="#3a4a9e"/>
<rect x="163.37" y="419.13" width="1.36" height="1.36" fill="#3a4a9e"/>
<rect x="165.04" y="419.46" width="1.36" height="1.36" fill="#3a4a9e"/>
<rect x="166.71" y="419.8" width="1.36" height="1.36" fill="#3a4a9e"/>
<rect x="168.37" y="420.13" width="1.36" height="1.36" fill="#3a4a9e"/>
<rect x="170.03" y="420.5" width="1.36" height="1.36" fill="#3a4a9e"/>
<rect x="171.68" y="420.91" width="1.36" height="1.36" fill="#3a4a9e"/>
<rect x="173.33" y="421.32" width="1.36" height="1.36" fill="#3a4a9e"/>
<rect x="174.98" y="421.73" width="1.36" height="1.36" fill="#3a4a9e"/>
<rect x="176.63" y="422.15" width="1.36" height="1.36" fill="#3a4a9e"/>
<rect x="178.29" y="422.5" width="1.36" height="1.36" fill="#3a4a9e"/>
<rect x="179.96" y="422.82" width="1.36" height="1.36" fill="#3a4a9e"/>
<rect x="181.63" y="423.13" width="1.36" height="1.36" fill="#3a4a9e"/>
<rect x="183.3" y="423.44" width="1.36" height="1.36" fill="#3a4a9e"/>
<rect x="184.97" y="423.76" width="1.36" height="1.36" fill="#3a4a9e"/>
<polyline points="239,419 241,421 245,426 250,430 257.5,434.5" fill="none" stroke="#36459a" stroke-width="1.1" stroke-linejoin="round" stroke-linecap="round"/>
<circle cx="119" cy="406" r="0.66" fill="#6a5bbf"/>
<circle cx="121.52" cy="406.63" r="0.66" fill="#6a5bbf"/>
<circle cx="124.04" cy="407.26" r="0.66" fill="#6a5bbf"/>
<circle cx="126.59" cy="407.77" r="0.66" fill="#6a5bbf"/>
<circle cx="129.16" cy="408.19" r="0.66" fill="#6a5bbf"/>
<circle cx="131.72" cy="408.61" r="0.66" fill="#6a5bbf"/>
<circle cx="134.29" cy="409.01" r="0.66" fill="#6a5bbf"/>
<circle cx="136.86" cy="409.4" r="0.66" fill="#6a5bbf"/>
<circle cx="139.34" cy="410.17" r="0.66" fill="#6a5bbf"/>
<circle cx="141.78" cy="411.06" r="0.66" fill="#6a5bbf"/>
<circle cx="144.23" cy="411.94" r="0.66" fill="#6a5bbf"/>
<circle cx="146.68" cy="412.81" r="0.66" fill="#6a5bbf"/>
<circle cx="149.12" cy="413.69" r="0.66" fill="#6a5bbf"/>
<circle cx="151.54" cy="414.64" r="0.66" fill="#6a5bbf"/>
<circle cx="153.94" cy="415.64" r="0.66" fill="#6a5bbf"/>
<circle cx="156.35" cy="416.63" r="0.66" fill="#6a5bbf"/>
<circle cx="158.77" cy="417.57" r="0.66" fill="#6a5bbf"/>
<circle cx="161.2" cy="418.5" r="0.66" fill="#6a5bbf"/>
<circle cx="163.65" cy="419.35" r="0.66" fill="#6a5bbf"/>
<circle cx="166.14" cy="420.12" r="0.66" fill="#6a5bbf"/>
<circle cx="168.62" cy="420.88" r="0.66" fill="#6a5bbf"/>
<circle cx="171.14" cy="421.53" r="0.66" fill="#6a5bbf"/>
<circle cx="173.66" cy="422.17" r="0.66" fill="#6a5bbf"/>
<circle cx="176.2" cy="422.74" r="0.66" fill="#6a5bbf"/>
<circle cx="178.75" cy="423.25" r="0.66" fill="#6a5bbf"/>
<circle cx="181.3" cy="423.76" r="0.66" fill="#6a5bbf"/>
<circle cx="183.85" cy="424.27" r="0.66" fill="#6a5bbf"/>
<rect x="109.24" y="413.24" width="1.52" height="1.52" fill="#249a92"/>
<rect x="111.79" y="413.75" width="1.52" height="1.52" fill="#249a92"/>
<rect x="114.34" y="414.26" width="1.52" height="1.52" fill="#249a92"/>
<rect x="116.89" y="414.77" width="1.52" height="1.52" fill="#249a92"/>
<rect x="119.43" y="415.3" width="1.52" height="1.52" fill="#249a92"/>
<rect x="121.92" y="416.05" width="1.52" height="1.52" fill="#249a92"/>
<rect x="124.41" y="416.79" width="1.52" height="1.52" fill="#249a92"/>
<rect x="126.9" y="417.54" width="1.52" height="1.52" fill="#249a92"/>
<rect x="129.4" y="418.27" width="1.52" height="1.52" fill="#249a92"/>
<rect x="131.95" y="418.78" width="1.52" height="1.52" fill="#249a92"/>
<rect x="134.5" y="419.29" width="1.52" height="1.52" fill="#249a92"/>
<rect x="137.05" y="419.8" width="1.52" height="1.52" fill="#249a92"/>
<rect x="139.6" y="420.31" width="1.52" height="1.52" fill="#249a92"/>
<rect x="142.15" y="420.82" width="1.52" height="1.52" fill="#249a92"/>
<rect x="144.7" y="421.33" width="1.52" height="1.52" fill="#249a92"/>
<rect x="147.25" y="421.84" width="1.52" height="1.52" fill="#249a92"/>
<rect x="149.79" y="422.38" width="1.52" height="1.52" fill="#249a92"/>
<rect x="152.31" y="423.01" width="1.52" height="1.52" fill="#249a92"/>
<rect x="154.83" y="423.64" width="1.52" height="1.52" fill="#249a92"/>
<rect x="157.37" y="424.23" width="1.52" height="1.52" fill="#249a92"/>
<rect x="159.9" y="424.82" width="1.52" height="1.52" fill="#249a92"/>
<rect x="162.43" y="425.4" width="1.52" height="1.52" fill="#249a92"/>
<rect x="164.97" y="425.98" width="1.52" height="1.52" fill="#249a92"/>
<rect x="167.5" y="426.57" width="1.52" height="1.52" fill="#249a92"/>
<rect x="170.02" y="427.19" width="1.52" height="1.52" fill="#249a92"/>
<rect x="172.55" y="427.82" width="1.52" height="1.52" fill="#249a92"/>
<rect x="175.09" y="428.36" width="1.52" height="1.52" fill="#249a92"/>
<rect x="177.66" y="428.73" width="1.52" height="1.52" fill="#249a92"/>
<rect x="180.23" y="429.1" width="1.52" height="1.52" fill="#249a92"/>
<rect x="182.81" y="429.46" width="1.52" height="1.52" fill="#249a92"/>
<rect x="185.38" y="429.83" width="1.52" height="1.52" fill="#249a92"/>
<rect x="187.96" y="430.2" width="1.52" height="1.52" fill="#249a92"/>
<polygon points="135,423 134.1,424.6 135.9,424.6" fill="none" stroke="#78c98c" stroke-width="0.7"/>
<polygon points="136.96,422.61 136.06,424.21 137.86,424.21" fill="none" stroke="#78c98c" stroke-width="0.7"/>
<polygon points="138.92,422.22 138.02,423.82 139.82,423.82" fill="none" stroke="#78c98c" stroke-width="0.7"/>
<polygon points="140.9,421.91 140,423.51 141.8,423.51" fill="none" stroke="#78c98c" stroke-width="0.7"/>
<polygon points="142.89,421.71 141.99,423.31 143.79,423.31" fill="none" stroke="#78c98c" stroke-width="0.7"/>
<polygon points="144.88,421.51 143.98,423.11 145.78,423.11" fill="none" stroke="#78c98c" stroke-width="0.7"/>
<polygon points="146.82,421.04 145.92,422.64 147.72,422.64" fill="none" stroke="#78c98c" stroke-width="0.7"/>
<polygon points="148.76,420.56 147.86,422.16 149.66,422.16" fill="none" stroke="#78c98c" stroke-width="0.7"/>
<polygon points="150.69,420.02 149.79,421.62 151.59,421.62" fill="none" stroke="#78c98c" stroke-width="0.7"/>
<polygon points="152.61,419.5 151.71,421.1 153.51,421.1" fill="none" stroke="#78c98c" stroke-width="0.7"/>
<polygon points="154.61,419.5 153.71,421.1 155.51,421.1" fill="none" stroke="#78c98c" stroke-width="0.7"/>
<polygon points="156.61,419.5 155.71,421.1 157.51,421.1" fill="none" stroke="#78c98c" stroke-width="0.7"/>
<polygon points="158.61,419.65 157.71,421.25 159.51,421.25" fill="none" stroke="#78c98c" stroke-width="0.7"/>
<polygon points="160.6,419.83 159.7,421.43 161.5,421.43" fill="none" stroke="#78c98c" stroke-width="0.7"/>
<polygon points="162.58,420.03 161.68,421.63 163.48,421.63" fill="none" stroke="#78c98c" stroke-width="0.7"/>
<polygon points="164.46,420.71 163.56,422.31 165.36,422.31" fill="none" stroke="#78c98c" stroke-width="0.7"/>
<polygon points="166.34,421.4 165.44,423 167.24,423" fill="none" stroke="#78c98c" stroke-width="0.7"/>
<polygon points="168.22,422.09 167.32,423.69 169.12,423.69" fill="none" stroke="#78c98c" stroke-width="0.7"/>
<polygon points="170.06,422.88 169.16,424.48 170.96,424.48" fill="none" stroke="#78c98c" stroke-width="0.7"/>
<polygon points="171.9,423.67 171,425.27 172.8,425.27" fill="none" stroke="#78c98c" stroke-width="0.7"/>
<polygon points="173.73,424.46 172.83,426.06 174.63,426.06" fill="none" stroke="#78c98c" stroke-width="0.7"/>
<polygon points="175.59,425.2 174.69,426.8 176.49,426.8" fill="none" stroke="#78c98c" stroke-width="0.7"/>
<polygon points="177.49,425.83 176.59,427.43 178.39,427.43" fill="none" stroke="#78c98c" stroke-width="0.7"/>
<polygon points="179.38,426.46 178.48,428.06 180.28,428.06" fill="none" stroke="#78c98c" stroke-width="0.7"/>
<polygon points="181.28,427.09 180.38,428.69 182.18,428.69" fill="none" stroke="#78c98c" stroke-width="0.7"/>
<polygon points="183.2,427.68 182.3,429.28 184.1,429.28" fill="none" stroke="#78c98c" stroke-width="0.7"/>
<polygon points="185.11,428.26 184.21,429.86 186.01,429.86" fill="none" stroke="#78c98c" stroke-width="0.7"/>
<polygon points="187.02,428.85 186.12,430.45 187.92,430.45" fill="none" stroke="#78c98c" stroke-width="0.7"/>
<circle cx="100" cy="426" r="0.72" fill="#c6434c"/>
<circle cx="102.79" cy="425.83" r="0.72" fill="#c6434c"/>
<circle cx="105.59" cy="425.68" r="0.72" fill="#c6434c"/>
<circle cx="108.39" cy="425.56" r="0.72" fill="#c6434c"/>
<circle cx="111.19" cy="425.53" r="0.72" fill="#c6434c"/>
<circle cx="113.99" cy="425.61" r="0.72" fill="#c6434c"/>
<circle cx="116.78" cy="425.69" r="0.72" fill="#c6434c"/>
<circle cx="119.58" cy="425.8" r="0.72" fill="#c6434c"/>
<circle cx="122.38" cy="425.9" r="0.72" fill="#c6434c"/>
<circle cx="125.18" cy="426.03" r="0.72" fill="#c6434c"/>
<circle cx="127.94" cy="426.49" r="0.72" fill="#c6434c"/>
<circle cx="130.7" cy="426.95" r="0.72" fill="#c6434c"/>
<circle cx="133.49" cy="427.19" r="0.72" fill="#c6434c"/>
<circle cx="136.28" cy="427.41" r="0.72" fill="#c6434c"/>
<circle cx="139.06" cy="427.75" r="0.72" fill="#c6434c"/>
<circle cx="141.82" cy="428.19" r="0.72" fill="#c6434c"/>
<circle cx="144.59" cy="428.63" r="0.72" fill="#c6434c"/>
<circle cx="147.36" cy="429.04" r="0.72" fill="#c6434c"/>
<circle cx="150.13" cy="429.44" r="0.72" fill="#c6434c"/>
<circle cx="152.9" cy="429.84" r="0.72" fill="#c6434c"/>
<polygon points="215,429 216,430 215,431 214,430" fill="none" stroke="#f0a58d" stroke-width="0.65"/>
<polygon points="216.86,429.74 217.86,430.74 216.86,431.74 215.86,430.74" fill="none" stroke="#f0a58d" stroke-width="0.65"/>
<polygon points="218.71,430.49 219.71,431.49 218.71,432.49 217.71,431.49" fill="none" stroke="#f0a58d" stroke-width="0.65"/>
<polygon points="220.57,431.23 221.57,432.23 220.57,433.23 219.57,432.23" fill="none" stroke="#f0a58d" stroke-width="0.65"/>
<polygon points="222.43,431.97 223.43,432.97 222.43,433.97 221.43,432.97" fill="none" stroke="#f0a58d" stroke-width="0.65"/>
<polygon points="224.28,432.71 225.28,433.71 224.28,434.71 223.28,433.71" fill="none" stroke="#f0a58d" stroke-width="0.65"/>
<polygon points="226.18,433.34 227.18,434.34 226.18,435.34 225.18,434.34" fill="none" stroke="#f0a58d" stroke-width="0.65"/>
<polygon points="228.11,433.89 229.11,434.89 228.11,435.89 227.11,434.89" fill="none" stroke="#f0a58d" stroke-width="0.65"/>
<polygon points="230.03,434.44 231.03,435.44 230.03,436.44 229.03,435.44" fill="none" stroke="#f0a58d" stroke-width="0.65"/>
<polygon points="231.95,434.99 232.95,435.99 231.95,436.99 230.95,435.99" fill="none" stroke="#f0a58d" stroke-width="0.65"/>
<polygon points="233.92,435.36 234.92,436.36 233.92,437.36 232.92,436.36" fill="none" stroke="#f0a58d" stroke-width="0.65"/>
<polygon points="235.88,435.73 236.88,436.73 235.88,437.73 234.88,436.73" fill="none" stroke="#f0a58d" stroke-width="0.65"/>
<polygon points="237.85,436.1 238.85,437.1 237.85,438.1 236.85,437.1" fill="none" stroke="#f0a58d" stroke-width="0.65"/>
<polygon points="239.81,436.47 240.81,437.47 239.81,438.47 238.81,437.47" fill="none" stroke="#f0a58d" stroke-width="0.65"/>
<polygon points="241.77,436.88 242.77,437.88 241.77,438.88 240.77,437.88" fill="none" stroke="#f0a58d" stroke-width="0.65"/>
<polygon points="243.73,437.3 244.73,438.3 243.73,439.3 242.73,438.3" fill="none" stroke="#f0a58d" stroke-width="0.65"/>
<polygon points="245.68,437.72 246.68,438.72 245.68,439.72 244.68,438.72" fill="none" stroke="#f0a58d" stroke-width="0.65"/>
<polygon points="247.65,438.08 248.65,439.08 247.65,440.08 246.65,439.08" fill="none" stroke="#f0a58d" stroke-width="0.65"/>
<polygon points="249.63,438.33 250.63,439.33 249.63,440.33 248.63,439.33" fill="none" stroke="#f0a58d" stroke-width="0.65"/>
<polygon points="251.62,438.58 252.62,439.58 251.62,440.58 250.62,439.58" fill="none" stroke="#f0a58d" stroke-width="0.65"/>
<polygon points="253.6,438.82 254.6,439.82 253.6,440.82 252.6,439.82" fill="none" stroke="#f0a58d" stroke-width="0.65"/>
<polygon points="227.5,433 226.55,434.65 228.45,434.65" fill="#1d9f92"/>
<polygon points="229.27,433.32 228.32,434.97 230.22,434.97" fill="#1d9f92"/>
<polygon points="231.04,433.64 230.09,435.29 231.99,435.29" fill="#1d9f92"/>
<polygon points="232.81,433.97 231.86,435.62 233.76,435.62" fill="#1d9f92"/>
<polygon points="234.59,434.23 233.64,435.88 235.54,435.88" fill="#1d9f92"/>
<polygon points="236.38,434.48 235.43,436.13 237.33,436.13" fill="#1d9f92"/>
<polygon points="238.16,434.74 237.21,436.39 239.11,436.39" fill="#1d9f92"/>
<polygon points="239.94,434.99 238.99,436.64 240.89,436.64" fill="#1d9f92"/>
<polygon points="241.69,435.42 240.74,437.07 242.64,437.07" fill="#1d9f92"/>
<polygon points="243.43,435.86 242.48,437.51 244.38,437.51" fill="#1d9f92"/>
<polygon points="245.18,436.29 244.23,437.94 246.13,437.94" fill="#1d9f92"/>
<polygon points="246.93,436.71 245.98,438.36 247.88,438.36" fill="#1d9f92"/>
<polygon points="248.68,437.12 247.73,438.77 249.63,438.77" fill="#1d9f92"/>
<polygon points="250.44,437.52 249.49,439.17 251.39,439.17" fill="#1d9f92"/>
<polygon points="252.19,437.93 251.24,439.58 253.14,439.58" fill="#1d9f92"/>
<polygon points="253.96,438.27 253.01,439.92 254.91,439.92" fill="#1d9f92"/>
<polygon points="255.73,438.59 254.78,440.24 256.68,440.24" fill="#1d9f92"/>
<polygon points="257.5,438.91 256.55,440.56 258.45,440.56" fill="#1d9f92"/>
<polygon points="259.26,439.28 258.31,440.93 260.21,440.93" fill="#1d9f92"/>
<polygon points="261.02,439.67 260.07,441.32 261.97,441.32" fill="#1d9f92"/>
<polyline points="93.75,387.5 97,389 100,391 104,394 107.5,397.5 114,400 121,402" fill="none" stroke="#858585" stroke-width="1.05" stroke-linejoin="round" stroke-linecap="round"/>
<circle cx="37.2" cy="406" r="0.66" fill="#2b8fd0"/>
<circle cx="37.95" cy="406.27" r="0.66" fill="#2b8fd0"/>
<circle cx="38.71" cy="406.53" r="0.66" fill="#2b8fd0"/>
<circle cx="39.46" cy="406.8" r="0.66" fill="#2b8fd0"/>
<circle cx="40.22" cy="407.07" r="0.66" fill="#2b8fd0"/>
<circle cx="40.97" cy="407.34" r="0.66" fill="#2b8fd0"/>
<circle cx="41.72" cy="407.6" r="0.66" fill="#2b8fd0"/>
<circle cx="42.48" cy="407.87" r="0.66" fill="#2b8fd0"/>
<circle cx="43.23" cy="408.14" r="0.66" fill="#2b8fd0"/>
<circle cx="43.99" cy="408.41" r="0.66" fill="#2b8fd0"/>
<circle cx="44.74" cy="408.67" r="0.66" fill="#2b8fd0"/>
<circle cx="45.49" cy="408.94" r="0.66" fill="#2b8fd0"/>
<circle cx="46.25" cy="409.21" r="0.66" fill="#2b8fd0"/>
<circle cx="47" cy="409.48" r="0.66" fill="#2b8fd0"/>
<circle cx="47.76" cy="409.74" r="0.66" fill="#2b8fd0"/>
<circle cx="49.6" cy="412.8" r="0.61" fill="#2b8fd0"/>
<circle cx="51.43" cy="413.62" r="0.61" fill="#2b8fd0"/>
<circle cx="53.25" cy="414.43" r="0.61" fill="#2b8fd0"/>
<circle cx="55.08" cy="415.25" r="0.61" fill="#2b8fd0"/>
<circle cx="56.9" cy="416.06" r="0.61" fill="#2b8fd0"/>
<circle cx="58.73" cy="416.88" r="0.61" fill="#2b8fd0"/>
<circle cx="60.56" cy="417.7" r="0.61" fill="#2b8fd0"/>
<circle cx="62.38" cy="418.51" r="0.61" fill="#2b8fd0"/>
<circle cx="62.8" cy="418.7" r="0.55" fill="#55a8e0"/>
<circle cx="64.93" cy="419.23" r="0.55" fill="#55a8e0"/>
<circle cx="67.07" cy="419.77" r="0.55" fill="#55a8e0"/>
<circle cx="69.2" cy="420.3" r="0.55" fill="#55a8e0"/>
<circle cx="71.34" cy="420.83" r="0.55" fill="#55a8e0"/>
<circle cx="73.47" cy="421.37" r="0.55" fill="#55a8e0"/>
<circle cx="75.61" cy="421.9" r="0.55" fill="#55a8e0"/>
<circle cx="77.74" cy="422.44" r="0.55" fill="#55a8e0"/>
<circle cx="79.87" cy="422.97" r="0.55" fill="#55a8e0"/>
<circle cx="82.04" cy="423.38" r="0.55" fill="#55a8e0"/>
<circle cx="84.2" cy="423.78" r="0.55" fill="#55a8e0"/>
<circle cx="86.36" cy="424.18" r="0.55" fill="#55a8e0"/>
<circle cx="88.53" cy="424.58" r="0.55" fill="#55a8e0"/>
<circle cx="90.69" cy="424.98" r="0.55" fill="#55a8e0"/>
<circle cx="92.85" cy="425.38" r="0.55" fill="#55a8e0"/>
<circle cx="95.02" cy="425.78" r="0.55" fill="#55a8e0"/>
<circle cx="97.18" cy="426.18" r="0.55" fill="#55a8e0"/>
<circle cx="99.34" cy="426.58" r="0.55" fill="#55a8e0"/>
<circle cx="101.53" cy="426.8" r="0.55" fill="#55a8e0"/>
<circle cx="103.72" cy="426.95" r="0.55" fill="#55a8e0"/>
<circle cx="105.92" cy="427.09" r="0.55" fill="#55a8e0"/>
<circle cx="108.11" cy="427.24" r="0.55" fill="#55a8e0"/>
<circle cx="110.31" cy="427.39" r="0.55" fill="#55a8e0"/>
<circle cx="62.8" cy="419.4" r="0.61" fill="#f0a860"/>
<circle cx="64.97" cy="419.79" r="0.61" fill="#f0a860"/>
<circle cx="67.13" cy="420.18" r="0.61" fill="#f0a860"/>
<circle cx="69.3" cy="420.57" r="0.61" fill="#f0a860"/>
<circle cx="71.46" cy="420.96" r="0.61" fill="#f0a860"/>
<circle cx="73.63" cy="421.35" r="0.61" fill="#f0a860"/>
<circle cx="75.79" cy="421.74" r="0.61" fill="#f0a860"/>
<circle cx="77.96" cy="422.13" r="0.61" fill="#f0a860"/>
<circle cx="80.12" cy="422.52" r="0.61" fill="#f0a860"/>
<circle cx="82.3" cy="422.82" r="0.61" fill="#f0a860"/>
<circle cx="84.48" cy="423.13" r="0.61" fill="#f0a860"/>
<circle cx="86.66" cy="423.43" r="0.61" fill="#f0a860"/>
<circle cx="88.84" cy="423.74" r="0.61" fill="#f0a860"/>
<circle cx="91.02" cy="424.04" r="0.61" fill="#f0a860"/>
<circle cx="93.19" cy="424.35" r="0.61" fill="#f0a860"/>
<circle cx="95.37" cy="424.65" r="0.61" fill="#f0a860"/>
<circle cx="97.55" cy="424.96" r="0.61" fill="#f0a860"/>
<circle cx="99.73" cy="425.26" r="0.61" fill="#f0a860"/>
<circle cx="101.92" cy="425.41" r="0.61" fill="#f0a860"/>
<circle cx="104.12" cy="425.54" r="0.61" fill="#f0a860"/>
<circle cx="106.32" cy="425.67" r="0.61" fill="#f0a860"/>
<circle cx="108.51" cy="425.8" r="0.61" fill="#f0a860"/>
<circle cx="110.71" cy="425.92" r="0.61" fill="#f0a860"/>
<circle cx="67.2" cy="418.7" r="0.61" fill="#d2504a"/>
<circle cx="69.37" cy="419.04" r="0.61" fill="#d2504a"/>
<circle cx="71.55" cy="419.38" r="0.61" fill="#d2504a"/>
<circle cx="73.72" cy="419.73" r="0.61" fill="#d2504a"/>
<circle cx="75.89" cy="420.07" r="0.61" fill="#d2504a"/>
<circle cx="78.07" cy="420.41" r="0.61" fill="#d2504a"/>
<circle cx="80.24" cy="420.75" r="0.61" fill="#d2504a"/>
<circle cx="82.41" cy="421.09" r="0.61" fill="#d2504a"/>
<circle cx="84.59" cy="421.43" r="0.61" fill="#d2504a"/>
<circle cx="86.76" cy="421.77" r="0.61" fill="#d2504a"/>
<circle cx="88.94" cy="422.1" r="0.61" fill="#d2504a"/>
<circle cx="91.11" cy="422.44" r="0.61" fill="#d2504a"/>
<circle cx="93.28" cy="422.77" r="0.61" fill="#d2504a"/>
<circle cx="95.46" cy="423.1" r="0.61" fill="#d2504a"/>
<circle cx="97.63" cy="423.44" r="0.61" fill="#d2504a"/>
<circle cx="99.81" cy="423.77" r="0.61" fill="#d2504a"/>
<circle cx="102" cy="424" r="0.61" fill="#d2504a"/>
<circle cx="104.18" cy="424.22" r="0.61" fill="#d2504a"/>
<circle cx="106.37" cy="424.44" r="0.61" fill="#d2504a"/>
<circle cx="108.56" cy="424.66" r="0.61" fill="#d2504a"/>
<circle cx="110.75" cy="424.88" r="0.61" fill="#d2504a"/>
<circle cx="51.1" cy="424.2" r="0.69" fill="#c4473f"/>
<circle cx="51.96" cy="424.45" r="0.69" fill="#c4473f"/>
<circle cx="52.83" cy="424.7" r="0.69" fill="#c4473f"/>
<circle cx="53.69" cy="424.95" r="0.69" fill="#c4473f"/>
<circle cx="54.56" cy="425.2" r="0.69" fill="#c4473f"/>
<circle cx="55.42" cy="425.45" r="0.69" fill="#c4473f"/>
<circle cx="56.29" cy="425.7" r="0.69" fill="#c4473f"/>
<circle cx="57.15" cy="425.95" r="0.69" fill="#c4473f"/>
<circle cx="58.02" cy="426.2" r="0.69" fill="#c4473f"/>
<circle cx="58.91" cy="426.34" r="0.69" fill="#c4473f"/>
<circle cx="59.79" cy="426.48" r="0.69" fill="#c4473f"/>
<circle cx="60.68" cy="426.62" r="0.69" fill="#c4473f"/>
<circle cx="61.57" cy="426.76" r="0.69" fill="#c4473f"/>
<circle cx="62.46" cy="426.9" r="0.69" fill="#c4473f"/>
<circle cx="63.35" cy="427.03" r="0.69" fill="#c4473f"/>
<circle cx="64.24" cy="427.17" r="0.69" fill="#c4473f"/>
<circle cx="65.13" cy="427.31" r="0.69" fill="#c4473f"/>
<circle cx="66.02" cy="427.4" r="0.69" fill="#c4473f"/>
<circle cx="66.92" cy="427.4" r="0.69" fill="#c4473f"/>
<circle cx="67.82" cy="427.4" r="0.69" fill="#c4473f"/>
<circle cx="68.72" cy="427.4" r="0.69" fill="#c4473f"/>
<circle cx="69.62" cy="427.4" r="0.69" fill="#c4473f"/>
<circle cx="70.52" cy="427.4" r="0.69" fill="#c4473f"/>
<circle cx="71.42" cy="427.4" r="0.69" fill="#c4473f"/>
<circle cx="72.32" cy="427.4" r="0.69" fill="#c4473f"/>
<circle cx="73.22" cy="427.4" r="0.69" fill="#c4473f"/>
<circle cx="74.12" cy="427.4" r="0.69" fill="#c4473f"/>
<circle cx="75.02" cy="427.4" r="0.69" fill="#c4473f"/>
<circle cx="75.92" cy="427.4" r="0.69" fill="#c4473f"/>
<circle cx="76.82" cy="427.4" r="0.69" fill="#c4473f"/>
<circle cx="77.72" cy="427.4" r="0.69" fill="#c4473f"/>
<circle cx="78.62" cy="427.4" r="0.69" fill="#c4473f"/>
<circle cx="79.52" cy="427.4" r="0.69" fill="#c4473f"/>
<circle cx="80.42" cy="427.4" r="0.69" fill="#c4473f"/>
<circle cx="81.32" cy="427.4" r="0.69" fill="#c4473f"/>
<circle cx="82.22" cy="427.4" r="0.69" fill="#c4473f"/>
<circle cx="83.12" cy="427.4" r="0.69" fill="#c4473f"/>
<circle cx="84.02" cy="427.4" r="0.69" fill="#c4473f"/>
<circle cx="84.92" cy="427.4" r="0.69" fill="#c4473f"/>
<circle cx="85.82" cy="427.4" r="0.69" fill="#c4473f"/>
<circle cx="86.72" cy="427.4" r="0.69" fill="#c4473f"/>
<circle cx="87.62" cy="427.4" r="0.69" fill="#c4473f"/>
<circle cx="88.52" cy="427.4" r="0.69" fill="#c4473f"/>
<circle cx="89.42" cy="427.4" r="0.69" fill="#c4473f"/>
<circle cx="90.32" cy="427.4" r="0.69" fill="#c4473f"/>
<circle cx="91.22" cy="427.4" r="0.69" fill="#c4473f"/>
<circle cx="92.12" cy="427.4" r="0.69" fill="#c4473f"/>
<circle cx="93.02" cy="427.4" r="0.69" fill="#c4473f"/>
<circle cx="93.92" cy="427.4" r="0.69" fill="#c4473f"/>
<circle cx="94.82" cy="427.4" r="0.69" fill="#c4473f"/>
<circle cx="95.72" cy="427.4" r="0.69" fill="#c4473f"/>
<circle cx="96.62" cy="427.4" r="0.69" fill="#c4473f"/>
<circle cx="97.52" cy="427.4" r="0.69" fill="#c4473f"/>
<circle cx="98.42" cy="427.4" r="0.69" fill="#c4473f"/>
<circle cx="99.32" cy="427.4" r="0.69" fill="#c4473f"/>
<circle cx="100.22" cy="427.44" r="0.69" fill="#c4473f"/>
<circle cx="101.1" cy="427.61" r="0.69" fill="#c4473f"/>
<circle cx="101.99" cy="427.77" r="0.69" fill="#c4473f"/>
<circle cx="102.87" cy="427.93" r="0.69" fill="#c4473f"/>
<circle cx="103.76" cy="428.1" r="0.69" fill="#c4473f"/>
<circle cx="104.64" cy="428.26" r="0.69" fill="#c4473f"/>
<circle cx="105.53" cy="428.43" r="0.69" fill="#c4473f"/>
<circle cx="106.41" cy="428.59" r="0.69" fill="#c4473f"/>
<circle cx="107.3" cy="428.76" r="0.69" fill="#c4473f"/>
<circle cx="108.18" cy="428.92" r="0.69" fill="#c4473f"/>
<circle cx="109.07" cy="429.08" r="0.69" fill="#c4473f"/>
<circle cx="109.95" cy="429.25" r="0.69" fill="#c4473f"/>
<circle cx="110.84" cy="429.41" r="0.69" fill="#c4473f"/>
<circle cx="111.72" cy="429.58" r="0.69" fill="#c4473f"/>
<circle cx="112.61" cy="429.74" r="0.69" fill="#c4473f"/>
<circle cx="113.49" cy="429.91" r="0.69" fill="#c4473f"/>
<path d="M38,413.9 C39.67,413.95 44.6,414.13 48,414.2 C51.4,414.27 54.23,414.77 58.4,414.3 C62.57,413.83 68.13,413.25 73,411.4 C77.87,409.55 83.93,405.25 87.6,403.2 C91.27,401.15 91.33,400.77 95,399.1 C98.67,397.43 104.73,394.9 109.6,393.2 C114.47,391.5 120.07,389.93 124.2,388.9 C128.33,387.87 130.75,387.25 134.4,387 C138.05,386.75 141.72,386.97 146.1,387.4 C150.48,387.83 155.83,388.98 160.7,389.6 C165.57,390.22 169.65,390.75 175.3,391.1 C180.95,391.45 188.95,391.23 194.6,391.7 C200.25,392.17 204.33,392.57 209.2,393.9 C214.07,395.23 218.93,397.63 223.8,399.7 C228.67,401.77 233.53,404.12 238.4,406.3 C243.27,408.48 248.25,410.85 253,412.8 C257.75,414.75 264.58,417.13 266.9,418 L266.9,439.1 C264.58,437.4 257.75,432.18 253,428.9 C248.25,425.62 243.27,422.68 238.4,419.4 C233.53,416.12 228.67,412.12 223.8,409.2 C218.93,406.28 214.07,403.48 209.2,401.9 C204.33,400.32 200.25,400.43 194.6,399.7 C188.95,398.97 180.95,398.08 175.3,397.5 C169.65,396.92 165.57,396.67 160.7,396.2 C155.83,395.73 150.48,394.95 146.1,394.7 C141.72,394.45 138.05,394.33 134.4,394.7 C130.75,395.07 128.33,395.68 124.2,396.9 C120.07,398.12 114.47,400.05 109.6,402 C104.73,403.95 98.67,406.73 95,408.6 C91.33,410.47 91.27,410.92 87.6,413.2 C83.93,415.48 77.87,419.8 73,422.3 C68.13,424.8 64.23,425.4 58.4,428.2 C52.57,431 41.4,437.28 38,439.1 Z" fill="#999999" fill-opacity="0.4"/>
<path d="M38,426.7 C40,426.02 45.92,423.98 50,422.6 C54.08,421.22 58.33,419.83 62.5,418.4 C66.67,416.97 70.83,415.47 75,414 C79.17,412.53 84.17,410.87 87.5,409.6 C90.83,408.33 91.32,408.03 95,406.4 C98.68,404.77 104.73,402 109.6,399.8 C114.47,397.6 119.82,394.78 124.2,393.2 C128.58,391.62 132.25,390.7 135.9,390.3 C139.55,389.9 141.97,390.32 146.1,390.8 C150.23,391.28 155.83,392.6 160.7,393.2 C165.57,393.8 169.65,394.05 175.3,394.4 C180.95,394.75 188.95,394.78 194.6,395.3 C200.25,395.82 204.33,396.15 209.2,397.5 C214.07,398.85 218.93,401.08 223.8,403.4 C228.67,405.72 233.53,408.62 238.4,411.4 C243.27,414.18 248.25,417.18 253,420.1 C257.75,423.02 264.58,427.43 266.9,428.9" fill="none" stroke="#5d8fd8" stroke-width="0.7" stroke-linecap="round"/>
<line x1="26.3" y1="252" x2="26.3" y2="451" stroke="#3a3a3a" stroke-width="1"/>
<line x1="25.8" y1="450.5" x2="281" y2="450.5" stroke="#3a3a3a" stroke-width="1"/>
<line x1="24.9" y1="403" x2="26.3" y2="403" stroke="#3a3a3a" stroke-width="0.5"/>
<text x="24.3" y="403.8" font-size="3" fill="#222" text-anchor="end" dominant-baseline="central" stroke="#222" stroke-width="0.12">25</text>
<line x1="24.9" y1="353.25" x2="26.3" y2="353.25" stroke="#3a3a3a" stroke-width="0.5"/>
<text x="24.3" y="354.05" font-size="3" fill="#222" text-anchor="end" dominant-baseline="central" stroke="#222" stroke-width="0.12">50</text>
<line x1="24.9" y1="303.5" x2="26.3" y2="303.5" stroke="#3a3a3a" stroke-width="0.5"/>
<text x="24.3" y="304.3" font-size="3" fill="#222" text-anchor="end" dominant-baseline="central" stroke="#222" stroke-width="0.12">75</text>
<line x1="24.9" y1="254" x2="26.3" y2="254" stroke="#3a3a3a" stroke-width="0.5"/>
<text x="24.3" y="254.8" font-size="3" fill="#222" text-anchor="end" dominant-baseline="central" stroke="#222" stroke-width="0.12">100</text>
<line x1="97" y1="450.5" x2="97" y2="451.9" stroke="#3a3a3a" stroke-width="0.5"/>
<text x="97" y="454.8" font-size="3.2" fill="#222" text-anchor="middle" dominant-baseline="central" stroke="#222" stroke-width="0.12">0.4</text>
<line x1="169" y1="450.5" x2="169" y2="451.9" stroke="#3a3a3a" stroke-width="0.5"/>
<text x="169" y="454.8" font-size="3.2" fill="#222" text-anchor="middle" dominant-baseline="central" stroke="#222" stroke-width="0.12">0.6</text>
<line x1="241" y1="450.5" x2="241" y2="451.9" stroke="#3a3a3a" stroke-width="0.5"/>
<text x="241" y="454.8" font-size="3.2" fill="#222" text-anchor="middle" dominant-baseline="central" stroke="#222" stroke-width="0.12">0.8</text>
<text x="152.5" y="458.35" font-size="4" fill="#111" text-anchor="middle" dominant-baseline="central" font-weight="bold" stroke="#111" stroke-width="0.1" textLength="6.6" lengthAdjust="spacingAndGlyphs">SDI</text>
<text x="15.6" y="351.7" font-size="3.6" fill="#111" text-anchor="middle" dominant-baseline="central" font-weight="bold" stroke="#111" stroke-width="0.16" textLength="123" lengthAdjust="spacingAndGlyphs" transform="rotate(-90 15.6 351.7)">DALYs (Disability–Adjusted Life Years) Rate per 100,000 population</text>
<circle cx="285.2" cy="324.9" r="0.88" fill="none" stroke="#eea39a" stroke-width="0.5"/>
<text x="288" y="325.8" font-size="3.5" fill="#111" text-anchor="start" dominant-baseline="central" font-weight="bold" stroke="#111" stroke-width="0.15" textLength="8.7" lengthAdjust="spacingAndGlyphs">Global</text>
<polygon points="285.2,326.6 284.21,328.36 286.19,328.36" fill="none" stroke="#8fd3e3" stroke-width="0.7"/>
<text x="288" y="328.6" font-size="3.5" fill="#111" text-anchor="start" dominant-baseline="central" font-weight="bold" stroke="#111" stroke-width="0.15" textLength="33.5" lengthAdjust="spacingAndGlyphs">High-income Asia Pacific</text>
<polygon points="285.2,329.4 284.15,331.21 286.25,331.21" fill="#2aa69c"/>
<text x="288" y="331.4" font-size="3.5" fill="#111" text-anchor="start" dominant-baseline="central" font-weight="bold" stroke="#111" stroke-width="0.15" textLength="37.2" lengthAdjust="spacingAndGlyphs">High-income North America</text>
<rect x="284.32" y="332.42" width="1.76" height="1.76" fill="#a6b0d6"/>
<text x="288" y="334.2" font-size="3.5" fill="#111" text-anchor="start" dominant-baseline="central" font-weight="bold" stroke="#111" stroke-width="0.15" textLength="21.7" lengthAdjust="spacingAndGlyphs">Western Europe</text>
<polygon points="285.2,335 284.21,336.76 286.19,336.76" fill="none" stroke="#f0b49d" stroke-width="0.7"/>
<text x="288" y="337" font-size="3.5" fill="#111" text-anchor="start" dominant-baseline="central" font-weight="bold" stroke="#111" stroke-width="0.15" textLength="14.9" lengthAdjust="spacingAndGlyphs">Australasia</text>
<polygon points="285.2,337.8 284.21,339.56 286.19,339.56" fill="none" stroke="#a5aed3" stroke-width="0.7"/>
<text x="288" y="339.8" font-size="3.5" fill="#111" text-anchor="start" dominant-baseline="central" font-weight="bold" stroke="#111" stroke-width="0.15" textLength="29.4" lengthAdjust="spacingAndGlyphs">Andean Latin America</text>
<polygon points="285.2,340.6 284.21,342.36 286.19,342.36" fill="none" stroke="#a3dcc6" stroke-width="0.7"/>
<text x="288" y="342.6" font-size="3.5" fill="#111" text-anchor="start" dominant-baseline="central" font-weight="bold" stroke="#111" stroke-width="0.15" textLength="29.4" lengthAdjust="spacingAndGlyphs">Tropical Latin America</text>
<circle cx="285.2" cy="344.5" r="0.88" fill="#d7383b"/>
<text x="288" y="345.4" font-size="3.5" fill="#111" text-anchor="start" dominant-baseline="central" font-weight="bold" stroke="#111" stroke-width="0.15" textLength="28.5" lengthAdjust="spacingAndGlyphs">Central Latin America</text>
<polygon points="285.2,346.2 286.3,347.3 285.2,348.4 284.1,347.3" fill="#8c6d5c"/>
<text x="288" y="348.2" font-size="3.5" fill="#111" text-anchor="start" dominant-baseline="central" font-weight="bold" stroke="#111" stroke-width="0.15" textLength="31" lengthAdjust="spacingAndGlyphs">Southern Latin America</text>
<polygon points="285.2,349 286.3,350.1 285.2,351.2 284.1,350.1" fill="#3f4c9e"/>
<text x="288" y="351" font-size="3.5" fill="#111" text-anchor="start" dominant-baseline="central" font-weight="bold" stroke="#111" stroke-width="0.15" textLength="14" lengthAdjust="spacingAndGlyphs">Caribbean</text>
<circle cx="285.2" cy="352.9" r="0.88" fill="#e0393b"/>
<text x="288" y="353.8" font-size="3.5" fill="#111" text-anchor="start" dominant-baseline="central" font-weight="bold" stroke="#111" stroke-width="0.15" textLength="19.9" lengthAdjust="spacingAndGlyphs">Central Europe</text>
<rect x="284.32" y="354.82" width="1.76" height="1.76" fill="#2c9a5c"/>
<text x="288" y="356.6" font-size="3.5" fill="#111" text-anchor="start" dominant-baseline="central" font-weight="bold" stroke="#111" stroke-width="0.15" textLength="20.7" lengthAdjust="spacingAndGlyphs">Eastern Europe</text>
<rect x="284.32" y="357.62" width="1.76" height="1.76" fill="#7b3fa0"/>
<text x="288" y="359.4" font-size="3.5" fill="#111" text-anchor="start" dominant-baseline="central" font-weight="bold" stroke="#111" stroke-width="0.15" textLength="16.1" lengthAdjust="spacingAndGlyphs">Central Asia</text>
<rect x="284.32" y="360.42" width="1.76" height="1.76" fill="#2a9d96"/>
<text x="288" y="362.2" font-size="3.5" fill="#111" text-anchor="start" dominant-baseline="central" font-weight="bold" stroke="#111" stroke-width="0.15" textLength="37.8" lengthAdjust="spacingAndGlyphs">North Africa and Middle East</text>
<polygon points="285.2,363 286.3,364.1 285.2,365.2 284.1,364.1" fill="#d04048"/>
<text x="288" y="365" font-size="3.5" fill="#111" text-anchor="start" dominant-baseline="central" font-weight="bold" stroke="#111" stroke-width="0.15" textLength="14.3" lengthAdjust="spacingAndGlyphs">South Asia</text>
<polygon points="285.2,365.8 284.15,367.61 286.25,367.61" fill="#6a5bbf"/>
<text x="288" y="367.8" font-size="3.5" fill="#111" text-anchor="start" dominant-baseline="central" font-weight="bold" stroke="#111" stroke-width="0.15" textLength="19.9" lengthAdjust="spacingAndGlyphs">Southeast Asia</text>
<polygon points="285.2,368.6 284.15,370.41 286.25,370.41" fill="#b24597"/>
<text x="288" y="370.6" font-size="3.5" fill="#111" text-anchor="start" dominant-baseline="central" font-weight="bold" stroke="#111" stroke-width="0.15" textLength="13" lengthAdjust="spacingAndGlyphs">East Asia</text>
<circle cx="285.2" cy="372.5" r="0.61" fill="#999999"/>
<text x="288" y="373.4" font-size="3.5" fill="#111" text-anchor="start" dominant-baseline="central" font-weight="bold" stroke="#111" stroke-width="0.15" textLength="11.2" lengthAdjust="spacingAndGlyphs">Oceania</text>
<circle cx="285.2" cy="375.3" r="0.88" fill="#e06a55"/>
<text x="288" y="376.2" font-size="3.5" fill="#111" text-anchor="start" dominant-baseline="central" font-weight="bold" stroke="#111" stroke-width="0.15" textLength="38.5" lengthAdjust="spacingAndGlyphs">Western Sub-Saharan Africa</text>
<polygon points="285.2,377 286.3,378.1 285.2,379.2 284.1,378.1" fill="#2b8fd0"/>
<text x="288" y="379" font-size="3.5" fill="#111" text-anchor="start" dominant-baseline="central" font-weight="bold" stroke="#111" stroke-width="0.15" textLength="37.8" lengthAdjust="spacingAndGlyphs">Eastern Sub-Saharan Africa</text>
<polygon points="285.2,379.8 284.15,381.61 286.25,381.61" fill="#f1b271"/>
<text x="288" y="381.8" font-size="3.5" fill="#111" text-anchor="start" dominant-baseline="central" font-weight="bold" stroke="#111" stroke-width="0.15" textLength="37.2" lengthAdjust="spacingAndGlyphs">Central Sub-Saharan Africa</text>
<circle cx="285.2" cy="383.7" r="0.88" fill="#7fc6a6"/>
<text x="288" y="384.6" font-size="3.5" fill="#111" text-anchor="start" dominant-baseline="central" font-weight="bold" stroke="#111" stroke-width="0.15" textLength="39.7" lengthAdjust="spacingAndGlyphs">Southern Sub-Saharan Africa</text>
<text x="355.2" y="246" font-size="10.8" fill="#111" text-anchor="start" dominant-baseline="central">d</text>
<path d="M406.1,368.3 C408.73,369.28 415.62,372.3 421.9,374.2 C428.18,376.1 436.5,378.42 443.8,379.7 C451.1,380.98 458.4,381.72 465.7,381.9 C473,382.08 480.3,380.98 487.6,380.8 C494.9,380.62 502.2,380.43 509.5,380.8 C516.8,381.17 524.65,382.27 531.4,383 C538.15,383.73 545.65,384.6 550,385.2 C554.35,385.8 553.33,385.78 557.5,386.6 C561.67,387.42 569.17,388.78 575,390.1 C580.83,391.42 586.67,392.75 592.5,394.5 C598.33,396.25 604.15,398.7 610,400.6 C615.85,402.5 621.68,404.17 627.6,405.9 C633.52,407.63 642.52,410.15 645.5,411 L645.5,440 C644.25,438.5 640.42,433.92 638,431 C635.58,428.08 634.2,425.22 631,422.5 C627.8,419.78 622.88,417.17 618.8,414.7 C614.72,412.23 610.88,409.9 606.5,407.7 C602.12,405.5 597.75,403.12 592.5,401.5 C587.25,399.88 580.83,398.87 575,398 C569.17,397.13 561.67,396.98 557.5,396.3 C553.33,395.62 554.35,394.48 550,393.9 C545.65,393.32 538.15,393.17 531.4,392.8 C524.65,392.43 516.8,391.77 509.5,391.7 C502.2,391.63 494.9,391.85 487.6,392.4 C480.3,392.95 473,394.02 465.7,395 C458.4,395.98 451.1,397.02 443.8,398.3 C436.5,399.58 428.18,400.87 421.9,402.7 C415.62,404.53 408.73,408.2 406.1,409.3 Z" fill="#cfcfcf" fill-opacity="0.85"/>
<line x1="555.42" y1="415.97" x2="549.98" y2="409.4" stroke="#e4483b" stroke-width="0.35"/>
<circle cx="549.98" cy="409.4" r="0.5" fill="#e4483b"/>
<line x1="649.39" y1="402.67" x2="638.71" y2="393.23" stroke="#d65fe0" stroke-width="0.35"/>
<circle cx="638.71" cy="393.23" r="0.5" fill="#d65fe0"/>
<line x1="578.26" y1="408.42" x2="572.5" y2="401.94" stroke="#00ad7a" stroke-width="0.35"/>
<circle cx="572.5" cy="401.94" r="0.5" fill="#00ad7a"/>
<line x1="536.18" y1="391.82" x2="541" y2="405.06" stroke="#c6940a" stroke-width="0.35"/>
<circle cx="541" cy="405.06" r="0.5" fill="#c6940a"/>
<line x1="483.43" y1="418.21" x2="475.06" y2="427.83" stroke="#d65fe0" stroke-width="0.35"/>
<circle cx="475.06" cy="427.83" r="0.5" fill="#d65fe0"/>
<line x1="485.72" y1="435.84" x2="494.73" y2="422.37" stroke="#c6940a" stroke-width="0.35"/>
<circle cx="494.73" cy="422.37" r="0.5" fill="#c6940a"/>
<line x1="486.38" y1="441.02" x2="496.06" y2="438.66" stroke="#14a33f" stroke-width="0.35"/>
<circle cx="496.06" cy="438.66" r="0.5" fill="#14a33f"/>
<line x1="644.84" y1="407" x2="658.97" y2="397.94" stroke="#6e85f2" stroke-width="0.35"/>
<circle cx="658.97" cy="397.94" r="0.5" fill="#6e85f2"/>
<line x1="629.4" y1="408.19" x2="619.74" y2="407.88" stroke="#00b1d6" stroke-width="0.35"/>
<circle cx="619.74" cy="407.88" r="0.5" fill="#00b1d6"/>
<line x1="545.39" y1="411.29" x2="529.87" y2="412.89" stroke="#e4483b" stroke-width="0.35"/>
<circle cx="529.87" cy="412.89" r="0.5" fill="#e4483b"/>
<line x1="585.33" y1="372.28" x2="593.81" y2="387.81" stroke="#9f9e00" stroke-width="0.35"/>
<circle cx="593.81" cy="387.81" r="0.5" fill="#9f9e00"/>
<line x1="534.14" y1="393.6" x2="526.25" y2="379.62" stroke="#ef5a78" stroke-width="0.35"/>
<circle cx="526.25" cy="379.62" r="0.5" fill="#ef5a78"/>
<line x1="515.43" y1="391.48" x2="501.99" y2="401.34" stroke="#a76ef0" stroke-width="0.35"/>
<circle cx="501.99" cy="401.34" r="0.5" fill="#a76ef0"/>
<line x1="560" y1="368.14" x2="567.31" y2="357.7" stroke="#00aaa4" stroke-width="0.35"/>
<circle cx="567.31" cy="357.7" r="0.5" fill="#00aaa4"/>
<line x1="474.63" y1="417.35" x2="486.27" y2="419.63" stroke="#00b1d6" stroke-width="0.35"/>
<circle cx="486.27" cy="419.63" r="0.5" fill="#00b1d6"/>
<line x1="488.47" y1="407.8" x2="498.04" y2="421.6" stroke="#e4483b" stroke-width="0.35"/>
<circle cx="498.04" cy="421.6" r="0.5" fill="#e4483b"/>
<line x1="548.03" y1="403.87" x2="529.98" y2="394.44" stroke="#00aaa4" stroke-width="0.35"/>
<circle cx="529.98" cy="394.44" r="0.5" fill="#00aaa4"/>
<line x1="552.67" y1="381.87" x2="549.18" y2="393.89" stroke="#d65fe0" stroke-width="0.35"/>
<circle cx="549.18" cy="393.89" r="0.5" fill="#d65fe0"/>
<line x1="556.58" y1="438.65" x2="569.7" y2="454.76" stroke="#74aa12" stroke-width="0.35"/>
<circle cx="569.7" cy="454.76" r="0.5" fill="#74aa12"/>
<line x1="502.74" y1="424.25" x2="506.53" y2="438.09" stroke="#9f9e00" stroke-width="0.35"/>
<circle cx="506.53" cy="438.09" r="0.5" fill="#9f9e00"/>
<line x1="634.78" y1="426.9" x2="645.02" y2="442.02" stroke="#00aaa4" stroke-width="0.35"/>
<circle cx="645.02" cy="442.02" r="0.5" fill="#00aaa4"/>
<line x1="477.2" y1="413.05" x2="505.03" y2="411.06" stroke="#00aaa4" stroke-width="0.35"/>
<circle cx="505.03" cy="411.06" r="0.5" fill="#00aaa4"/>
<line x1="497.87" y1="436.49" x2="513.62" y2="426.39" stroke="#9f9e00" stroke-width="0.35"/>
<circle cx="513.62" cy="426.39" r="0.5" fill="#9f9e00"/>
<line x1="585.09" y1="383.44" x2="567.8" y2="381.35" stroke="#199ee6" stroke-width="0.35"/>
<circle cx="567.8" cy="381.35" r="0.5" fill="#199ee6"/>
<line x1="533.67" y1="418.02" x2="512.25" y2="423.44" stroke="#00ad7a" stroke-width="0.35"/>
<circle cx="512.25" cy="423.44" r="0.5" fill="#00ad7a"/>
<line x1="522.44" y1="432.36" x2="517.68" y2="450.88" stroke="#00aaa4" stroke-width="0.35"/>
<circle cx="517.68" cy="450.88" r="0.5" fill="#00aaa4"/>
<line x1="585.24" y1="399.83" x2="591.17" y2="384.5" stroke="#00aaa4" stroke-width="0.35"/>
<circle cx="591.17" cy="384.5" r="0.5" fill="#00aaa4"/>
<line x1="515.89" y1="417.93" x2="512.23" y2="410.94" stroke="#ee5aa9" stroke-width="0.35"/>
<circle cx="512.23" cy="410.94" r="0.5" fill="#ee5aa9"/>
<line x1="517.85" y1="376.52" x2="523.21" y2="388.13" stroke="#e4483b" stroke-width="0.35"/>
<circle cx="523.21" cy="388.13" r="0.5" fill="#e4483b"/>
<line x1="570.79" y1="413.48" x2="594.65" y2="404.29" stroke="#a76ef0" stroke-width="0.35"/>
<circle cx="594.65" cy="404.29" r="0.5" fill="#a76ef0"/>
<line x1="477.06" y1="398.77" x2="490.49" y2="404.98" stroke="#c6940a" stroke-width="0.35"/>
<circle cx="490.49" cy="404.98" r="0.5" fill="#c6940a"/>
<line x1="574.43" y1="392.41" x2="559.04" y2="404.1" stroke="#00b1d6" stroke-width="0.35"/>
<circle cx="559.04" cy="404.1" r="0.5" fill="#00b1d6"/>
<line x1="498.97" y1="418.35" x2="503.79" y2="423.35" stroke="#e4483b" stroke-width="0.35"/>
<circle cx="503.79" cy="423.35" r="0.5" fill="#e4483b"/>
<line x1="631.55" y1="435.2" x2="608.33" y2="431.57" stroke="#14a33f" stroke-width="0.35"/>
<circle cx="608.33" cy="431.57" r="0.5" fill="#14a33f"/>
<line x1="612.63" y1="419.98" x2="617.65" y2="428.69" stroke="#a76ef0" stroke-width="0.35"/>
<circle cx="617.65" cy="428.69" r="0.5" fill="#a76ef0"/>
<line x1="594.04" y1="407.16" x2="586.49" y2="402.06" stroke="#00aaa4" stroke-width="0.35"/>
<circle cx="586.49" cy="402.06" r="0.5" fill="#00aaa4"/>
<line x1="577.82" y1="417.61" x2="569.57" y2="414.41" stroke="#74aa12" stroke-width="0.35"/>
<circle cx="569.57" cy="414.41" r="0.5" fill="#74aa12"/>
<line x1="528.25" y1="418.08" x2="534.41" y2="423.42" stroke="#9f9e00" stroke-width="0.35"/>
<circle cx="534.41" cy="423.42" r="0.5" fill="#9f9e00"/>
<line x1="525.91" y1="379.66" x2="516.89" y2="366.58" stroke="#14a33f" stroke-width="0.35"/>
<circle cx="516.89" cy="366.58" r="0.5" fill="#14a33f"/>
<line x1="535.81" y1="368.26" x2="518.98" y2="369.16" stroke="#df7a1c" stroke-width="0.35"/>
<circle cx="518.98" cy="369.16" r="0.5" fill="#df7a1c"/>
<line x1="480.2" y1="411.16" x2="455.45" y2="415.96" stroke="#ef5a78" stroke-width="0.35"/>
<circle cx="455.45" cy="415.96" r="0.5" fill="#ef5a78"/>
<line x1="639.88" y1="366.59" x2="631.2" y2="373.91" stroke="#c6940a" stroke-width="0.35"/>
<circle cx="631.2" cy="373.91" r="0.5" fill="#c6940a"/>
<line x1="593.93" y1="388.5" x2="583.05" y2="387.71" stroke="#ee5aa9" stroke-width="0.35"/>
<circle cx="583.05" cy="387.71" r="0.5" fill="#ee5aa9"/>
<line x1="595.66" y1="378.34" x2="576.02" y2="381.44" stroke="#d65fe0" stroke-width="0.35"/>
<circle cx="576.02" cy="381.44" r="0.5" fill="#d65fe0"/>
<line x1="597.08" y1="400.97" x2="599.07" y2="394.84" stroke="#a76ef0" stroke-width="0.35"/>
<circle cx="599.07" cy="394.84" r="0.5" fill="#a76ef0"/>
<line x1="510.95" y1="406.89" x2="512.08" y2="395.78" stroke="#199ee6" stroke-width="0.35"/>
<circle cx="512.08" cy="395.78" r="0.5" fill="#199ee6"/>
<line x1="549.19" y1="369.97" x2="564.42" y2="378.39" stroke="#9f9e00" stroke-width="0.35"/>
<circle cx="564.42" cy="378.39" r="0.5" fill="#9f9e00"/>
<line x1="533.04" y1="421.65" x2="525.15" y2="432.97" stroke="#74aa12" stroke-width="0.35"/>
<circle cx="525.15" cy="432.97" r="0.5" fill="#74aa12"/>
<line x1="583.86" y1="378.95" x2="560.09" y2="381.36" stroke="#df7a1c" stroke-width="0.35"/>
<circle cx="560.09" cy="381.36" r="0.5" fill="#df7a1c"/>
<line x1="515.33" y1="369.49" x2="519.86" y2="360.43" stroke="#ee5aa9" stroke-width="0.35"/>
<circle cx="519.86" cy="360.43" r="0.5" fill="#ee5aa9"/>
<line x1="582.95" y1="387.49" x2="592.11" y2="372.13" stroke="#00b1d6" stroke-width="0.35"/>
<circle cx="592.11" cy="372.13" r="0.5" fill="#00b1d6"/>
<line x1="527.77" y1="375.56" x2="512.05" y2="362.09" stroke="#00b1d6" stroke-width="0.35"/>
<circle cx="512.05" cy="362.09" r="0.5" fill="#00b1d6"/>
<line x1="613.3" y1="394.76" x2="594.5" y2="401.58" stroke="#74aa12" stroke-width="0.35"/>
<circle cx="594.5" cy="401.58" r="0.5" fill="#74aa12"/>
<line x1="543.24" y1="394.86" x2="531.27" y2="402.28" stroke="#a76ef0" stroke-width="0.35"/>
<circle cx="531.27" cy="402.28" r="0.5" fill="#a76ef0"/>
<line x1="502.89" y1="425.95" x2="508.12" y2="419.82" stroke="#9f9e00" stroke-width="0.35"/>
<circle cx="508.12" cy="419.82" r="0.5" fill="#9f9e00"/>
<circle cx="544.04" cy="260.2" r="0.5" fill="#199ee6"/>
<circle cx="528.39" cy="306.9" r="0.5" fill="#c6940a"/>
<circle cx="521.56" cy="320.4" r="0.5" fill="#9f9e00"/>
<circle cx="502.41" cy="330.2" r="0.5" fill="#14a33f"/>
<circle cx="502.96" cy="340.2" r="0.5" fill="#00aaa4"/>
<circle cx="545.02" cy="337.1" r="0.5" fill="#199ee6"/>
<circle cx="577.92" cy="337.1" r="0.5" fill="#9f9e00"/>
<circle cx="433.75" cy="339.6" r="0.5" fill="#e4483b"/>
<circle cx="512.49" cy="346" r="0.5" fill="#c6940a"/>
<circle cx="467.39" cy="345.1" r="0.5" fill="#d65fe0"/>
<circle cx="491.54" cy="351.3" r="0.5" fill="#14a33f"/>
<circle cx="519.05" cy="351.2" r="0.5" fill="#00b1d6"/>
<circle cx="546.73" cy="350" r="0.5" fill="#6e85f2"/>
<circle cx="561.86" cy="351.2" r="0.5" fill="#74aa12"/>
<circle cx="589.69" cy="352.6" r="0.5" fill="#6e85f2"/>
<circle cx="502.17" cy="356.5" r="0.5" fill="#74aa12"/>
<circle cx="537.4" cy="356" r="0.5" fill="#199ee6"/>
<circle cx="574.27" cy="356.8" r="0.5" fill="#74aa12"/>
<circle cx="479.42" cy="358.3" r="0.5" fill="#14a33f"/>
<circle cx="514.91" cy="362.1" r="0.5" fill="#00aaa4"/>
<circle cx="538.02" cy="362.1" r="0.5" fill="#ee5aa9"/>
<circle cx="552.86" cy="362.1" r="0.5" fill="#9f9e00"/>
<circle cx="590.09" cy="361.8" r="0.5" fill="#14a33f"/>
<circle cx="419.01" cy="363.8" r="0.5" fill="#00b1d6"/>
<circle cx="469.38" cy="363.6" r="0.5" fill="#ef5a78"/>
<line x1="502.31" y1="363.4" x2="486.87" y2="361.89" stroke="#ee5aa9" stroke-width="0.35"/>
<circle cx="486.87" cy="361.89" r="0.5" fill="#ee5aa9"/>
<line x1="518.96" y1="366.4" x2="515.51" y2="370.46" stroke="#ee5aa9" stroke-width="0.35"/>
<circle cx="515.51" cy="370.46" r="0.5" fill="#ee5aa9"/>
<circle cx="533.6" cy="362.5" r="0.5" fill="#e4483b"/>
<circle cx="576.42" cy="366.8" r="0.5" fill="#e4483b"/>
<line x1="617.52" y1="361.1" x2="633.75" y2="354.62" stroke="#199ee6" stroke-width="0.35"/>
<circle cx="633.75" cy="354.62" r="0.5" fill="#199ee6"/>
<line x1="434.79" y1="363.9" x2="457.9" y2="362.23" stroke="#14a33f" stroke-width="0.35"/>
<circle cx="457.9" cy="362.23" r="0.5" fill="#14a33f"/>
<line x1="484.71" y1="364.9" x2="481.72" y2="356.84" stroke="#e4483b" stroke-width="0.35"/>
<circle cx="481.72" cy="356.84" r="0.5" fill="#e4483b"/>
<line x1="518.27" y1="368.7" x2="531.2" y2="364.74" stroke="#c6940a" stroke-width="0.35"/>
<circle cx="531.2" cy="364.74" r="0.5" fill="#c6940a"/>
<line x1="540.42" y1="368.2" x2="556.79" y2="359.3" stroke="#9f9e00" stroke-width="0.35"/>
<circle cx="556.79" cy="359.3" r="0.5" fill="#9f9e00"/>
<line x1="559" y1="367.6" x2="575.45" y2="362.2" stroke="#df7a1c" stroke-width="0.35"/>
<circle cx="575.45" cy="362.2" r="0.5" fill="#df7a1c"/>
<line x1="576.09" y1="371.2" x2="567.82" y2="380.99" stroke="#00aaa4" stroke-width="0.35"/>
<circle cx="567.82" cy="380.99" r="0.5" fill="#00aaa4"/>
<circle cx="593.45" cy="372.1" r="0.5" fill="#9f9e00"/>
<line x1="607.29" y1="366.2" x2="625.05" y2="363.27" stroke="#df7a1c" stroke-width="0.35"/>
<circle cx="625.05" cy="363.27" r="0.5" fill="#df7a1c"/>
<line x1="629.41" y1="366.2" x2="620.02" y2="358.3" stroke="#df7a1c" stroke-width="0.35"/>
<circle cx="620.02" cy="358.3" r="0.5" fill="#df7a1c"/>
<line x1="464.64" y1="368.8" x2="441.96" y2="367.78" stroke="#e4483b" stroke-width="0.35"/>
<circle cx="441.96" cy="367.78" r="0.5" fill="#e4483b"/>
<line x1="499.4" y1="369.6" x2="507.44" y2="359.41" stroke="#a76ef0" stroke-width="0.35"/>
<circle cx="507.44" cy="359.41" r="0.5" fill="#a76ef0"/>
<line x1="514.78" y1="373.1" x2="514.58" y2="369.43" stroke="#ef5a78" stroke-width="0.35"/>
<circle cx="514.58" cy="369.43" r="0.5" fill="#ef5a78"/>
<line x1="539.45" y1="376.4" x2="542.62" y2="389.24" stroke="#ee5aa9" stroke-width="0.35"/>
<circle cx="542.62" cy="389.24" r="0.5" fill="#ee5aa9"/>
<line x1="553.17" y1="373.4" x2="559.04" y2="368.8" stroke="#6e85f2" stroke-width="0.35"/>
<circle cx="559.04" cy="368.8" r="0.5" fill="#6e85f2"/>
<line x1="568.46" y1="376.4" x2="551.98" y2="381.6" stroke="#199ee6" stroke-width="0.35"/>
<circle cx="551.98" cy="381.6" r="0.5" fill="#199ee6"/>
<line x1="583.12" y1="376.4" x2="591.5" y2="385.81" stroke="#199ee6" stroke-width="0.35"/>
<circle cx="591.5" cy="385.81" r="0.5" fill="#199ee6"/>
<circle cx="608.2" cy="370.9" r="0.5" fill="#a76ef0"/>
<line x1="628.51" y1="374.8" x2="644.34" y2="384.63" stroke="#ee5aa9" stroke-width="0.35"/>
<circle cx="644.34" cy="384.63" r="0.5" fill="#ee5aa9"/>
<line x1="659.27" y1="374.8" x2="675.47" y2="374.92" stroke="#a76ef0" stroke-width="0.35"/>
<circle cx="675.47" cy="374.92" r="0.5" fill="#a76ef0"/>
<line x1="457.29" y1="373.7" x2="462.29" y2="373.14" stroke="#6e85f2" stroke-width="0.35"/>
<circle cx="462.29" cy="373.14" r="0.5" fill="#6e85f2"/>
<line x1="471.33" y1="375.5" x2="471.18" y2="369.24" stroke="#ef5a78" stroke-width="0.35"/>
<circle cx="471.18" cy="369.24" r="0.5" fill="#ef5a78"/>
<line x1="481.95" y1="375.8" x2="466.31" y2="372.65" stroke="#00aaa4" stroke-width="0.35"/>
<circle cx="466.31" cy="372.65" r="0.5" fill="#00aaa4"/>
<line x1="394.03" y1="379.7" x2="380.32" y2="385.53" stroke="#c6940a" stroke-width="0.35"/>
<circle cx="380.32" cy="385.53" r="0.5" fill="#c6940a"/>
<circle cx="414.8" cy="382" r="0.5" fill="#c6940a"/>
<line x1="631.36" y1="379.7" x2="651.11" y2="381.52" stroke="#d65fe0" stroke-width="0.35"/>
<circle cx="651.11" cy="381.52" r="0.5" fill="#d65fe0"/>
<line x1="643.04" y1="376.7" x2="645.8" y2="368.31" stroke="#00aaa4" stroke-width="0.35"/>
<circle cx="645.8" cy="368.31" r="0.5" fill="#00aaa4"/>
<line x1="534.33" y1="381.8" x2="528.93" y2="386.83" stroke="#a76ef0" stroke-width="0.35"/>
<circle cx="528.93" cy="386.83" r="0.5" fill="#a76ef0"/>
<line x1="557.8" y1="378.7" x2="550.55" y2="365.46" stroke="#e4483b" stroke-width="0.35"/>
<circle cx="550.55" cy="365.46" r="0.5" fill="#e4483b"/>
<line x1="572.33" y1="381.7" x2="577.91" y2="385.34" stroke="#ef5a78" stroke-width="0.35"/>
<circle cx="577.91" cy="385.34" r="0.5" fill="#ef5a78"/>
<line x1="582.81" y1="378.7" x2="598.78" y2="373.15" stroke="#199ee6" stroke-width="0.35"/>
<circle cx="598.78" cy="373.15" r="0.5" fill="#199ee6"/>
<line x1="593.75" y1="378.7" x2="592.31" y2="374.96" stroke="#a76ef0" stroke-width="0.35"/>
<circle cx="592.31" cy="374.96" r="0.5" fill="#a76ef0"/>
<line x1="485.4" y1="381.5" x2="489.76" y2="371.73" stroke="#199ee6" stroke-width="0.35"/>
<circle cx="489.76" cy="371.73" r="0.5" fill="#199ee6"/>
<line x1="454.79" y1="384.9" x2="451.33" y2="396.27" stroke="#ee5aa9" stroke-width="0.35"/>
<circle cx="451.33" cy="396.27" r="0.5" fill="#ee5aa9"/>
<line x1="465.85" y1="384.9" x2="473.73" y2="392.37" stroke="#c6940a" stroke-width="0.35"/>
<circle cx="473.73" cy="392.37" r="0.5" fill="#c6940a"/>
<line x1="606.5" y1="384.9" x2="625.61" y2="386.33" stroke="#c6940a" stroke-width="0.35"/>
<circle cx="625.61" cy="386.33" r="0.5" fill="#c6940a"/>
<line x1="636.32" y1="381.9" x2="629.72" y2="374.75" stroke="#00aaa4" stroke-width="0.35"/>
<circle cx="629.72" cy="374.75" r="0.5" fill="#00aaa4"/>
<line x1="424.63" y1="384" x2="416.87" y2="373.3" stroke="#d65fe0" stroke-width="0.35"/>
<circle cx="416.87" cy="373.3" r="0.5" fill="#d65fe0"/>
<line x1="520.77" y1="386.9" x2="515.95" y2="388.36" stroke="#6e85f2" stroke-width="0.35"/>
<circle cx="515.95" cy="388.36" r="0.5" fill="#6e85f2"/>
<line x1="537.9" y1="383.9" x2="552.37" y2="379.74" stroke="#00aaa4" stroke-width="0.35"/>
<circle cx="552.37" cy="379.74" r="0.5" fill="#00aaa4"/>
<line x1="553.94" y1="386.9" x2="548.61" y2="387.31" stroke="#ef5a78" stroke-width="0.35"/>
<circle cx="548.61" cy="387.31" r="0.5" fill="#ef5a78"/>
<line x1="565.11" y1="386.9" x2="553" y2="394.99" stroke="#e4483b" stroke-width="0.35"/>
<circle cx="553" cy="394.99" r="0.5" fill="#e4483b"/>
<line x1="577.95" y1="385.1" x2="586.98" y2="379.63" stroke="#d65fe0" stroke-width="0.35"/>
<circle cx="586.98" cy="379.63" r="0.5" fill="#d65fe0"/>
<line x1="603.81" y1="385.1" x2="607.08" y2="372.85" stroke="#a76ef0" stroke-width="0.35"/>
<circle cx="607.08" cy="372.85" r="0.5" fill="#a76ef0"/>
<line x1="411.61" y1="386.8" x2="402.63" y2="380.51" stroke="#c6940a" stroke-width="0.35"/>
<circle cx="402.63" cy="380.51" r="0.5" fill="#c6940a"/>
<line x1="442.55" y1="389.8" x2="448" y2="389.91" stroke="#14a33f" stroke-width="0.35"/>
<circle cx="448" cy="389.91" r="0.5" fill="#14a33f"/>
<line x1="459.48" y1="390" x2="462.23" y2="398.43" stroke="#00aaa4" stroke-width="0.35"/>
<circle cx="462.23" cy="398.43" r="0.5" fill="#00aaa4"/>
<line x1="624.59" y1="386.7" x2="622.96" y2="382.21" stroke="#00b1d6" stroke-width="0.35"/>
<circle cx="622.96" cy="382.21" r="0.5" fill="#00b1d6"/>
<line x1="649.06" y1="389.7" x2="648.87" y2="394.1" stroke="#14a33f" stroke-width="0.35"/>
<circle cx="648.87" cy="394.1" r="0.5" fill="#14a33f"/>
<line x1="507.95" y1="392.7" x2="500.95" y2="396.12" stroke="#df7a1c" stroke-width="0.35"/>
<circle cx="500.95" cy="396.12" r="0.5" fill="#df7a1c"/>
<line x1="528.91" y1="392.7" x2="523.19" y2="393.35" stroke="#14a33f" stroke-width="0.35"/>
<circle cx="523.19" cy="393.35" r="0.5" fill="#14a33f"/>
<line x1="540.03" y1="389.7" x2="547.47" y2="388.54" stroke="#ee5aa9" stroke-width="0.35"/>
<circle cx="547.47" cy="388.54" r="0.5" fill="#ee5aa9"/>
<line x1="568.08" y1="391.5" x2="580.5" y2="383.13" stroke="#c6940a" stroke-width="0.35"/>
<circle cx="580.5" cy="383.13" r="0.5" fill="#c6940a"/>
<line x1="585.9" y1="393.4" x2="568" y2="393.93" stroke="#e4483b" stroke-width="0.35"/>
<circle cx="568" cy="393.93" r="0.5" fill="#e4483b"/>
<line x1="410.19" y1="391.9" x2="397.52" y2="386.62" stroke="#d65fe0" stroke-width="0.35"/>
<circle cx="397.52" cy="386.62" r="0.5" fill="#d65fe0"/>
<line x1="432.61" y1="394" x2="448.85" y2="399.71" stroke="#14a33f" stroke-width="0.35"/>
<circle cx="448.85" cy="399.71" r="0.5" fill="#14a33f"/>
<line x1="457.49" y1="394.5" x2="464.36" y2="402.74" stroke="#d65fe0" stroke-width="0.35"/>
<circle cx="464.36" cy="402.74" r="0.5" fill="#d65fe0"/>
<line x1="481.71" y1="391.5" x2="488.42" y2="378.73" stroke="#c6940a" stroke-width="0.35"/>
<circle cx="488.42" cy="378.73" r="0.5" fill="#c6940a"/>
<line x1="613.02" y1="395.3" x2="635.87" y2="398.6" stroke="#9f9e00" stroke-width="0.35"/>
<circle cx="635.87" cy="398.6" r="0.5" fill="#9f9e00"/>
<line x1="631.88" y1="391.8" x2="640.34" y2="387.34" stroke="#6e85f2" stroke-width="0.35"/>
<circle cx="640.34" cy="387.34" r="0.5" fill="#6e85f2"/>
<line x1="675.19" y1="395.5" x2="688.42" y2="407.34" stroke="#d65fe0" stroke-width="0.35"/>
<circle cx="688.42" cy="407.34" r="0.5" fill="#d65fe0"/>
<line x1="648.24" y1="395.5" x2="643.61" y2="400.63" stroke="#df7a1c" stroke-width="0.35"/>
<circle cx="643.61" cy="400.63" r="0.5" fill="#df7a1c"/>
<line x1="499.41" y1="399.1" x2="512.04" y2="410.63" stroke="#199ee6" stroke-width="0.35"/>
<circle cx="512.04" cy="410.63" r="0.5" fill="#199ee6"/>
<line x1="519.43" y1="397.9" x2="507.12" y2="406.99" stroke="#74aa12" stroke-width="0.35"/>
<circle cx="507.12" cy="406.99" r="0.5" fill="#74aa12"/>
<line x1="547.84" y1="394.9" x2="543.88" y2="382.9" stroke="#74aa12" stroke-width="0.35"/>
<circle cx="543.88" cy="382.9" r="0.5" fill="#74aa12"/>
<line x1="556.09" y1="397.2" x2="551.38" y2="399.45" stroke="#00aaa4" stroke-width="0.35"/>
<circle cx="551.38" cy="399.45" r="0.5" fill="#00aaa4"/>
<line x1="610.12" y1="399.5" x2="608.61" y2="391.85" stroke="#a76ef0" stroke-width="0.35"/>
<circle cx="608.61" cy="391.85" r="0.5" fill="#a76ef0"/>
<line x1="626.18" y1="397.7" x2="608.45" y2="394.42" stroke="#a76ef0" stroke-width="0.35"/>
<circle cx="608.45" cy="394.42" r="0.5" fill="#a76ef0"/>
<line x1="640.85" y1="397.7" x2="648.82" y2="387.49" stroke="#199ee6" stroke-width="0.35"/>
<circle cx="648.82" cy="387.49" r="0.5" fill="#199ee6"/>
<line x1="664.89" y1="397.7" x2="669.86" y2="390.97" stroke="#a76ef0" stroke-width="0.35"/>
<circle cx="669.86" cy="390.97" r="0.5" fill="#a76ef0"/>
<circle cx="416.25" cy="401.1" r="0.5" fill="#c6940a"/>
<line x1="435.82" y1="396.6" x2="437.96" y2="393.68" stroke="#00aaa4" stroke-width="0.35"/>
<circle cx="437.96" cy="393.68" r="0.5" fill="#00aaa4"/>
<line x1="447.33" y1="397.5" x2="429.91" y2="389.24" stroke="#df7a1c" stroke-width="0.35"/>
<circle cx="429.91" cy="389.24" r="0.5" fill="#df7a1c"/>
<line x1="459.21" y1="397.2" x2="467.06" y2="386.44" stroke="#ee5aa9" stroke-width="0.35"/>
<circle cx="467.06" cy="386.44" r="0.5" fill="#ee5aa9"/>
<line x1="488.56" y1="398.9" x2="481.16" y2="396.23" stroke="#74aa12" stroke-width="0.35"/>
<circle cx="481.16" cy="396.23" r="0.5" fill="#74aa12"/>
<line x1="514.14" y1="400.1" x2="504.06" y2="394.94" stroke="#9f9e00" stroke-width="0.35"/>
<circle cx="504.06" cy="394.94" r="0.5" fill="#9f9e00"/>
<line x1="535.48" y1="401.9" x2="526.78" y2="403" stroke="#ee5aa9" stroke-width="0.35"/>
<circle cx="526.78" cy="403" r="0.5" fill="#ee5aa9"/>
<line x1="576.59" y1="404" x2="590.81" y2="404.16" stroke="#00ad7a" stroke-width="0.35"/>
<circle cx="590.81" cy="404.16" r="0.5" fill="#00ad7a"/>
<line x1="638.02" y1="402.5" x2="638.43" y2="393.97" stroke="#d65fe0" stroke-width="0.35"/>
<circle cx="638.43" cy="393.97" r="0.5" fill="#d65fe0"/>
<line x1="647" y1="405.8" x2="645.45" y2="414.48" stroke="#9f9e00" stroke-width="0.35"/>
<circle cx="645.45" cy="414.48" r="0.5" fill="#9f9e00"/>
<line x1="668.57" y1="402.8" x2="668.78" y2="397.82" stroke="#00aaa4" stroke-width="0.35"/>
<circle cx="668.78" cy="397.82" r="0.5" fill="#00aaa4"/>
<line x1="473.2" y1="404.9" x2="458.49" y2="410.94" stroke="#a76ef0" stroke-width="0.35"/>
<circle cx="458.49" cy="410.94" r="0.5" fill="#a76ef0"/>
<line x1="422.78" y1="407" x2="428.14" y2="410.64" stroke="#199ee6" stroke-width="0.35"/>
<circle cx="428.14" cy="410.64" r="0.5" fill="#199ee6"/>
<line x1="454.1" y1="406.1" x2="452.66" y2="409.1" stroke="#00aaa4" stroke-width="0.35"/>
<circle cx="452.66" cy="409.1" r="0.5" fill="#00aaa4"/>
<circle cx="483.48" cy="409.3" r="0.5" fill="#e4483b"/>
<line x1="502.69" y1="407.5" x2="507.73" y2="417.77" stroke="#14a33f" stroke-width="0.35"/>
<circle cx="507.73" cy="417.77" r="0.5" fill="#14a33f"/>
<line x1="520.65" y1="405.4" x2="513.8" y2="395.08" stroke="#9f9e00" stroke-width="0.35"/>
<circle cx="513.8" cy="395.08" r="0.5" fill="#9f9e00"/>
<line x1="550.39" y1="406.1" x2="546.02" y2="412.38" stroke="#14a33f" stroke-width="0.35"/>
<circle cx="546.02" cy="412.38" r="0.5" fill="#14a33f"/>
<line x1="564.04" y1="405.9" x2="554.78" y2="398.94" stroke="#ee5aa9" stroke-width="0.35"/>
<circle cx="554.78" cy="398.94" r="0.5" fill="#ee5aa9"/>
<line x1="579.44" y1="408.9" x2="583.44" y2="418.4" stroke="#199ee6" stroke-width="0.35"/>
<circle cx="583.44" cy="418.4" r="0.5" fill="#199ee6"/>
<line x1="587.29" y1="405.4" x2="580.6" y2="405.28" stroke="#14a33f" stroke-width="0.35"/>
<circle cx="580.6" cy="405.28" r="0.5" fill="#14a33f"/>
<circle cx="605.94" cy="409" r="0.5" fill="#00aaa4"/>
<line x1="623.83" y1="407.7" x2="637.44" y2="414.62" stroke="#74aa12" stroke-width="0.35"/>
<circle cx="637.44" cy="414.62" r="0.5" fill="#74aa12"/>
<line x1="662.33" y1="411" x2="664.99" y2="417.88" stroke="#14a33f" stroke-width="0.35"/>
<circle cx="664.99" cy="417.88" r="0.5" fill="#14a33f"/>
<line x1="443.59" y1="411.9" x2="422.07" y2="412.1" stroke="#14a33f" stroke-width="0.35"/>
<circle cx="422.07" cy="412.1" r="0.5" fill="#14a33f"/>
<line x1="461.16" y1="410.1" x2="456.47" y2="396.09" stroke="#199ee6" stroke-width="0.35"/>
<circle cx="456.47" cy="396.09" r="0.5" fill="#199ee6"/>
<line x1="477.02" y1="413.1" x2="488.86" y2="424.13" stroke="#9f9e00" stroke-width="0.35"/>
<circle cx="488.86" cy="424.13" r="0.5" fill="#9f9e00"/>
<line x1="493.51" y1="410.1" x2="498.35" y2="405.89" stroke="#e4483b" stroke-width="0.35"/>
<circle cx="498.35" cy="405.89" r="0.5" fill="#e4483b"/>
<line x1="508.7" y1="412.8" x2="506.9" y2="422.01" stroke="#00aaa4" stroke-width="0.35"/>
<circle cx="506.9" cy="422.01" r="0.5" fill="#00aaa4"/>
<line x1="534.16" y1="410.1" x2="534.12" y2="403.9" stroke="#d65fe0" stroke-width="0.35"/>
<circle cx="534.12" cy="403.9" r="0.5" fill="#d65fe0"/>
<line x1="542.86" y1="408.5" x2="526.34" y2="402.98" stroke="#14a33f" stroke-width="0.35"/>
<circle cx="526.34" cy="402.98" r="0.5" fill="#14a33f"/>
<line x1="568.66" y1="411.2" x2="564.52" y2="400.45" stroke="#d65fe0" stroke-width="0.35"/>
<circle cx="564.52" cy="400.45" r="0.5" fill="#d65fe0"/>
<circle cx="583.68" cy="410.3" r="0.5" fill="#9f9e00"/>
<line x1="639.74" y1="412.5" x2="633.16" y2="415.56" stroke="#ef5a78" stroke-width="0.35"/>
<circle cx="633.16" cy="415.56" r="0.5" fill="#ef5a78"/>
<line x1="398.65" y1="414.5" x2="376.91" y2="416.43" stroke="#9f9e00" stroke-width="0.35"/>
<circle cx="376.91" cy="416.43" r="0.5" fill="#9f9e00"/>
<circle cx="654.67" cy="412.2" r="0.5" fill="#199ee6"/>
<line x1="678.76" y1="416.1" x2="681.97" y2="419.46" stroke="#a76ef0" stroke-width="0.35"/>
<circle cx="681.97" cy="419.46" r="0.5" fill="#a76ef0"/>
<line x1="598.99" y1="414.2" x2="596.01" y2="411.68" stroke="#14a33f" stroke-width="0.35"/>
<circle cx="596.01" cy="411.68" r="0.5" fill="#14a33f"/>
<line x1="627.73" y1="414.6" x2="615.08" y2="409.46" stroke="#ef5a78" stroke-width="0.35"/>
<circle cx="615.08" cy="409.46" r="0.5" fill="#ef5a78"/>
<circle cx="502.48" cy="414.1" r="0.5" fill="#00aaa4"/>
<circle cx="513.46" cy="413.8" r="0.5" fill="#14a33f"/>
<line x1="536.29" y1="418.5" x2="532.54" y2="422.52" stroke="#9f9e00" stroke-width="0.35"/>
<circle cx="532.54" cy="422.52" r="0.5" fill="#9f9e00"/>
<line x1="559.13" y1="418.5" x2="566.18" y2="428.72" stroke="#ee5aa9" stroke-width="0.35"/>
<circle cx="566.18" cy="428.72" r="0.5" fill="#ee5aa9"/>
<line x1="573.86" y1="415.5" x2="589.96" y2="411.68" stroke="#ee5aa9" stroke-width="0.35"/>
<circle cx="589.96" cy="411.68" r="0.5" fill="#ee5aa9"/>
<line x1="452.66" y1="418.4" x2="455.38" y2="421.74" stroke="#ef5a78" stroke-width="0.35"/>
<circle cx="455.38" cy="421.74" r="0.5" fill="#ef5a78"/>
<line x1="482.55" y1="418.4" x2="475.67" y2="427.04" stroke="#df7a1c" stroke-width="0.35"/>
<circle cx="475.67" cy="427.04" r="0.5" fill="#df7a1c"/>
<line x1="423.05" y1="416.8" x2="417.37" y2="403.31" stroke="#ee5aa9" stroke-width="0.35"/>
<circle cx="417.37" cy="403.31" r="0.5" fill="#ee5aa9"/>
<line x1="595.12" y1="418.5" x2="596.6" y2="409.96" stroke="#199ee6" stroke-width="0.35"/>
<circle cx="596.6" cy="409.96" r="0.5" fill="#199ee6"/>
<line x1="605.86" y1="419.7" x2="601.01" y2="416.91" stroke="#6e85f2" stroke-width="0.35"/>
<circle cx="601.01" cy="416.91" r="0.5" fill="#6e85f2"/>
<line x1="656.7" y1="421.5" x2="644.08" y2="421.7" stroke="#199ee6" stroke-width="0.35"/>
<circle cx="644.08" cy="421.7" r="0.5" fill="#199ee6"/>
<line x1="673.27" y1="421.5" x2="663.01" y2="426.86" stroke="#9f9e00" stroke-width="0.35"/>
<circle cx="663.01" cy="426.86" r="0.5" fill="#9f9e00"/>
<line x1="495.46" y1="420.3" x2="489.37" y2="417.94" stroke="#199ee6" stroke-width="0.35"/>
<circle cx="489.37" cy="417.94" r="0.5" fill="#199ee6"/>
<line x1="509.09" y1="423.3" x2="514.74" y2="429.96" stroke="#9f9e00" stroke-width="0.35"/>
<circle cx="514.74" cy="429.96" r="0.5" fill="#9f9e00"/>
<line x1="521.91" y1="422.8" x2="521.58" y2="433.42" stroke="#6e85f2" stroke-width="0.35"/>
<circle cx="521.58" cy="433.42" r="0.5" fill="#6e85f2"/>
<line x1="539.1" y1="425" x2="517.84" y2="431.27" stroke="#c6940a" stroke-width="0.35"/>
<circle cx="517.84" cy="431.27" r="0.5" fill="#c6940a"/>
<line x1="553.22" y1="424.2" x2="532.41" y2="426.96" stroke="#ee5aa9" stroke-width="0.35"/>
<circle cx="532.41" cy="426.96" r="0.5" fill="#ee5aa9"/>
<line x1="572.1" y1="424.2" x2="575.66" y2="426.77" stroke="#ee5aa9" stroke-width="0.35"/>
<circle cx="575.66" cy="426.77" r="0.5" fill="#ee5aa9"/>
<line x1="441.61" y1="423.8" x2="456.29" y2="426.56" stroke="#00aaa4" stroke-width="0.35"/>
<circle cx="456.29" cy="426.56" r="0.5" fill="#00aaa4"/>
<line x1="478.42" y1="423.3" x2="470.55" y2="430.99" stroke="#c6940a" stroke-width="0.35"/>
<circle cx="470.55" cy="430.99" r="0.5" fill="#c6940a"/>
<line x1="457.38" y1="427.1" x2="472.64" y2="427.19" stroke="#14a33f" stroke-width="0.35"/>
<circle cx="472.64" cy="427.19" r="0.5" fill="#14a33f"/>
<line x1="598.28" y1="424.8" x2="603.24" y2="415.23" stroke="#df7a1c" stroke-width="0.35"/>
<circle cx="603.24" cy="415.23" r="0.5" fill="#df7a1c"/>
<line x1="631.3" y1="424.4" x2="623.82" y2="418.41" stroke="#e4483b" stroke-width="0.35"/>
<circle cx="623.82" cy="418.41" r="0.5" fill="#e4483b"/>
<line x1="642.02" y1="424.4" x2="645.46" y2="413.9" stroke="#00aaa4" stroke-width="0.35"/>
<circle cx="645.46" cy="413.9" r="0.5" fill="#00aaa4"/>
<line x1="655.48" y1="426.6" x2="668.94" y2="437.93" stroke="#14a33f" stroke-width="0.35"/>
<circle cx="668.94" cy="437.93" r="0.5" fill="#14a33f"/>
<line x1="668.65" y1="426.6" x2="664.49" y2="430.51" stroke="#ee5aa9" stroke-width="0.35"/>
<circle cx="664.49" cy="430.51" r="0.5" fill="#ee5aa9"/>
<line x1="490.76" y1="428.5" x2="488.66" y2="432.44" stroke="#199ee6" stroke-width="0.35"/>
<circle cx="488.66" cy="432.44" r="0.5" fill="#199ee6"/>
<line x1="507.42" y1="425.9" x2="493.34" y2="424.43" stroke="#df7a1c" stroke-width="0.35"/>
<circle cx="493.34" cy="424.43" r="0.5" fill="#df7a1c"/>
<line x1="522.72" y1="428" x2="532.71" y2="435.03" stroke="#6e85f2" stroke-width="0.35"/>
<circle cx="532.71" cy="435.03" r="0.5" fill="#6e85f2"/>
<line x1="554.02" y1="426.4" x2="554.12" y2="420.98" stroke="#00aaa4" stroke-width="0.35"/>
<circle cx="554.12" cy="420.98" r="0.5" fill="#00aaa4"/>
<line x1="561.57" y1="429.4" x2="565.09" y2="431.89" stroke="#199ee6" stroke-width="0.35"/>
<circle cx="565.09" cy="431.89" r="0.5" fill="#199ee6"/>
<line x1="579.2" y1="424.7" x2="560.79" y2="421.89" stroke="#6e85f2" stroke-width="0.35"/>
<circle cx="560.79" cy="421.89" r="0.5" fill="#6e85f2"/>
<line x1="474.65" y1="432.4" x2="481.38" y2="437.57" stroke="#9f9e00" stroke-width="0.35"/>
<circle cx="481.38" cy="437.57" r="0.5" fill="#9f9e00"/>
<circle cx="523.87" cy="429.4" r="0.5" fill="#199ee6"/>
<line x1="544.63" y1="433.3" x2="559.72" y2="439.23" stroke="#00aaa4" stroke-width="0.35"/>
<circle cx="559.72" cy="439.23" r="0.5" fill="#00aaa4"/>
<line x1="561.02" y1="431.7" x2="568.8" y2="430.59" stroke="#ee5aa9" stroke-width="0.35"/>
<circle cx="568.8" cy="430.59" r="0.5" fill="#ee5aa9"/>
<line x1="573.65" y1="429.9" x2="582.36" y2="422.69" stroke="#00aaa4" stroke-width="0.35"/>
<circle cx="582.36" cy="422.69" r="0.5" fill="#00aaa4"/>
<line x1="588.23" y1="429.9" x2="585.44" y2="426.96" stroke="#00aaa4" stroke-width="0.35"/>
<circle cx="585.44" cy="426.96" r="0.5" fill="#00aaa4"/>
<line x1="613.52" y1="429" x2="601.12" y2="420.4" stroke="#6e85f2" stroke-width="0.35"/>
<circle cx="601.12" cy="420.4" r="0.5" fill="#6e85f2"/>
<line x1="631.03" y1="432" x2="622.33" y2="434.93" stroke="#14a33f" stroke-width="0.35"/>
<circle cx="622.33" cy="434.93" r="0.5" fill="#14a33f"/>
<line x1="648.38" y1="428.8" x2="648.07" y2="415.63" stroke="#9f9e00" stroke-width="0.35"/>
<circle cx="648.07" cy="415.63" r="0.5" fill="#9f9e00"/>
<line x1="666.28" y1="431.8" x2="676.6" y2="443.2" stroke="#199ee6" stroke-width="0.35"/>
<circle cx="676.6" cy="443.2" r="0.5" fill="#199ee6"/>
<circle cx="500.81" cy="437.3" r="0.5" fill="#d65fe0"/>
<line x1="538.55" y1="435.5" x2="526.79" y2="431.57" stroke="#199ee6" stroke-width="0.35"/>
<circle cx="526.79" cy="431.57" r="0.5" fill="#199ee6"/>
<line x1="548.22" y1="438.5" x2="544.9" y2="441.74" stroke="#e4483b" stroke-width="0.35"/>
<circle cx="544.9" cy="441.74" r="0.5" fill="#e4483b"/>
<line x1="577.53" y1="438.2" x2="558.24" y2="440.31" stroke="#df7a1c" stroke-width="0.35"/>
<circle cx="558.24" cy="440.31" r="0.5" fill="#df7a1c"/>
<line x1="593.44" y1="437.8" x2="609.21" y2="447.64" stroke="#9f9e00" stroke-width="0.35"/>
<circle cx="609.21" cy="447.64" r="0.5" fill="#9f9e00"/>
<line x1="605.57" y1="434.6" x2="608.62" y2="430.91" stroke="#14a33f" stroke-width="0.35"/>
<circle cx="608.62" cy="430.91" r="0.5" fill="#14a33f"/>
<line x1="618.09" y1="434.3" x2="624.19" y2="434.1" stroke="#00aaa4" stroke-width="0.35"/>
<circle cx="624.19" cy="434.1" r="0.5" fill="#00aaa4"/>
<line x1="633.34" y1="434.3" x2="622.79" y2="423.66" stroke="#df7a1c" stroke-width="0.35"/>
<circle cx="622.79" cy="423.66" r="0.5" fill="#df7a1c"/>
<line x1="657.16" y1="434.3" x2="654.69" y2="428.26" stroke="#ee5aa9" stroke-width="0.35"/>
<circle cx="654.69" cy="428.26" r="0.5" fill="#ee5aa9"/>
<line x1="561.08" y1="441.3" x2="571.37" y2="451.35" stroke="#00aaa4" stroke-width="0.35"/>
<circle cx="571.37" cy="451.35" r="0.5" fill="#00aaa4"/>
<line x1="591.14" y1="443.4" x2="581.4" y2="445.41" stroke="#d65fe0" stroke-width="0.35"/>
<circle cx="581.4" cy="445.41" r="0.5" fill="#d65fe0"/>
<line x1="615.86" y1="440.1" x2="618.14" y2="434.56" stroke="#df7a1c" stroke-width="0.35"/>
<circle cx="618.14" cy="434.56" r="0.5" fill="#df7a1c"/>
<line x1="632.06" y1="439.7" x2="637.83" y2="435.31" stroke="#ee5aa9" stroke-width="0.35"/>
<circle cx="637.83" cy="435.31" r="0.5" fill="#ee5aa9"/>
<circle cx="645.33" cy="443.6" r="0.5" fill="#00ad7a"/>
<text x="534.4" y="258.55" font-size="3.7" fill="#199ee6" text-anchor="start" dominant-baseline="central" stroke="#199ee6" stroke-width="0.12" textLength="13.8" lengthAdjust="spacingAndGlyphs">Mongolia</text>
<text x="504" y="305.25" font-size="3.7" fill="#c6940a" text-anchor="start" dominant-baseline="central" stroke="#c6940a" stroke-width="0.12" textLength="43.4" lengthAdjust="spacingAndGlyphs">Bolivia (Plurinational State of)</text>
<text x="495.75" y="318.75" font-size="3.7" fill="#9f9e00" text-anchor="start" dominant-baseline="central" stroke="#9f9e00" stroke-width="0.12" textLength="56.95" lengthAdjust="spacingAndGlyphs">Democratic People's Republic of Korea</text>
<text x="497" y="328.55" font-size="3.7" fill="#14a33f" text-anchor="start" dominant-baseline="central" stroke="#14a33f" stroke-width="0.12" textLength="15.8" lengthAdjust="spacingAndGlyphs">Guatemala</text>
<text x="496.1" y="338.55" font-size="3.7" fill="#00aaa4" text-anchor="start" dominant-baseline="central" stroke="#00aaa4" stroke-width="0.12" textLength="9.7" lengthAdjust="spacingAndGlyphs">Kiribati</text>
<text x="539.4" y="335.45" font-size="3.7" fill="#199ee6" text-anchor="start" dominant-baseline="central" stroke="#199ee6" stroke-width="0.12" textLength="8.4" lengthAdjust="spacingAndGlyphs">Nauru</text>
<text x="572.6" y="335.45" font-size="3.7" fill="#9f9e00" text-anchor="start" dominant-baseline="central" stroke="#9f9e00" stroke-width="0.12" textLength="8.6" lengthAdjust="spacingAndGlyphs">China</text>
<text x="426.4" y="337.95" font-size="3.7" fill="#e4483b" text-anchor="start" dominant-baseline="central" stroke="#e4483b" stroke-width="0.12" textLength="17" lengthAdjust="spacingAndGlyphs">Afghanistan</text>
<text x="503.1" y="344.35" font-size="3.7" fill="#c6940a" text-anchor="start" dominant-baseline="central" stroke="#c6940a" stroke-width="0.12" textLength="17.5" lengthAdjust="spacingAndGlyphs">Cabo Verde</text>
<text x="454.5" y="343.45" font-size="3.7" fill="#d65fe0" text-anchor="start" dominant-baseline="central" stroke="#d65fe0" stroke-width="0.12" textLength="24.5" lengthAdjust="spacingAndGlyphs">Solomon Islands</text>
<text x="484.2" y="349.65" font-size="3.7" fill="#14a33f" text-anchor="start" dominant-baseline="central" stroke="#14a33f" stroke-width="0.12" textLength="13.7" lengthAdjust="spacingAndGlyphs">Honduras</text>
<text x="509.3" y="349.55" font-size="3.7" fill="#00b1d6" text-anchor="start" dominant-baseline="central" stroke="#00b1d6" stroke-width="0.12" textLength="23.6" lengthAdjust="spacingAndGlyphs">Marshall Islands</text>
<text x="543.9" y="348.35" font-size="3.7" fill="#6e85f2" text-anchor="start" dominant-baseline="central" stroke="#6e85f2" stroke-width="0.12" textLength="6.5" lengthAdjust="spacingAndGlyphs">Peru</text>
<text x="556.2" y="349.55" font-size="3.7" fill="#74aa12" text-anchor="start" dominant-baseline="central" stroke="#74aa12" stroke-width="0.12" textLength="12.6" lengthAdjust="spacingAndGlyphs">Ecuador</text>
<text x="584.2" y="350.95" font-size="3.7" fill="#6e85f2" text-anchor="start" dominant-baseline="central" stroke="#6e85f2" stroke-width="0.12" textLength="8.3" lengthAdjust="spacingAndGlyphs">Palau</text>
<text x="490.9" y="354.85" font-size="3.7" fill="#74aa12" text-anchor="start" dominant-baseline="central" stroke="#74aa12" stroke-width="0.12" textLength="16.6" lengthAdjust="spacingAndGlyphs">El Salvador</text>
<text x="510.7" y="354.35" font-size="3.7" fill="#199ee6" text-anchor="start" dominant-baseline="central" stroke="#199ee6" stroke-width="0.12" textLength="48" lengthAdjust="spacingAndGlyphs">Micronesia (Federated States of)</text>
<text x="567" y="355.15" font-size="3.7" fill="#74aa12" text-anchor="start" dominant-baseline="central" stroke="#74aa12" stroke-width="0.12" textLength="14" lengthAdjust="spacingAndGlyphs">Dominica</text>
<text x="476.7" y="356.65" font-size="3.7" fill="#14a33f" text-anchor="start" dominant-baseline="central" stroke="#14a33f" stroke-width="0.12" textLength="6.1" lengthAdjust="spacingAndGlyphs">Haiti</text>
<text x="508.4" y="360.45" font-size="3.7" fill="#00aaa4" text-anchor="start" dominant-baseline="central" stroke="#00aaa4" stroke-width="0.12" textLength="15.8" lengthAdjust="spacingAndGlyphs">Kyrgyzstan</text>
<text x="536.4" y="360.45" font-size="3.7" fill="#ee5aa9" text-anchor="start" dominant-baseline="central" stroke="#ee5aa9" stroke-width="0.12" textLength="8.8" lengthAdjust="spacingAndGlyphs">Tonga</text>
<text x="547.8" y="360.45" font-size="3.7" fill="#9f9e00" text-anchor="start" dominant-baseline="central" stroke="#9f9e00" stroke-width="0.12" textLength="15.8" lengthAdjust="spacingAndGlyphs">Costa Rica</text>
<text x="584.6" y="360.15" font-size="3.7" fill="#14a33f" text-anchor="start" dominant-baseline="central" stroke="#14a33f" stroke-width="0.12" textLength="11.4" lengthAdjust="spacingAndGlyphs">Georgia</text>
<text x="417.2" y="362.15" font-size="3.7" fill="#00b1d6" text-anchor="start" dominant-baseline="central" stroke="#00b1d6" stroke-width="0.12" textLength="5.8" lengthAdjust="spacingAndGlyphs">Mali</text>
<text x="464.4" y="361.95" font-size="3.7" fill="#ef5a78" text-anchor="start" dominant-baseline="central" stroke="#ef5a78" stroke-width="0.12" textLength="11.4" lengthAdjust="spacingAndGlyphs">Vanuatu</text>
<text x="497.9" y="365.85" font-size="3.7" fill="#ee5aa9" text-anchor="start" dominant-baseline="central" stroke="#ee5aa9" stroke-width="0.12" textLength="14" lengthAdjust="spacingAndGlyphs">Tajikistan</text>
<text x="514.5" y="365.85" font-size="3.7" fill="#ee5aa9" text-anchor="start" dominant-baseline="central" stroke="#ee5aa9" stroke-width="0.12" textLength="8.8" lengthAdjust="spacingAndGlyphs">Tuvalu</text>
<text x="526.8" y="365.85" font-size="3.7" fill="#e4483b" text-anchor="start" dominant-baseline="central" stroke="#e4483b" stroke-width="0.12" textLength="10.8" lengthAdjust="spacingAndGlyphs">Albania</text>
<text x="563.9" y="365.35" font-size="3.7" fill="#e4483b" text-anchor="start" dominant-baseline="central" stroke="#e4483b" stroke-width="0.12" textLength="25.9" lengthAdjust="spacingAndGlyphs">American Samoa</text>
<text x="599.6" y="363.55" font-size="3.7" fill="#199ee6" text-anchor="start" dominant-baseline="central" stroke="#199ee6" stroke-width="0.12" textLength="25.5" lengthAdjust="spacingAndGlyphs">North Macedonia</text>
<text x="428.9" y="366.35" font-size="3.7" fill="#14a33f" text-anchor="start" dominant-baseline="central" stroke="#14a33f" stroke-width="0.12" textLength="22.4" lengthAdjust="spacingAndGlyphs">Guinea-Bissau</text>
<text x="477.2" y="367.35" font-size="3.7" fill="#e4483b" text-anchor="start" dominant-baseline="central" stroke="#e4483b" stroke-width="0.12" textLength="14.4" lengthAdjust="spacingAndGlyphs">Viet Nam</text>
<text x="511.9" y="371.15" font-size="3.7" fill="#c6940a" text-anchor="start" dominant-baseline="central" stroke="#c6940a" stroke-width="0.12" textLength="8.7" lengthAdjust="spacingAndGlyphs">Brazil</text>
<text x="533.8" y="370.65" font-size="3.7" fill="#9f9e00" text-anchor="start" dominant-baseline="central" stroke="#9f9e00" stroke-width="0.12" textLength="14" lengthAdjust="spacingAndGlyphs">Colombia</text>
<text x="551.3" y="370.05" font-size="3.7" fill="#df7a1c" text-anchor="start" dominant-baseline="central" stroke="#df7a1c" stroke-width="0.12" textLength="15.7" lengthAdjust="spacingAndGlyphs">Azerbaijan</text>
<text x="571.4" y="370.65" font-size="3.7" fill="#00aaa4" text-anchor="start" dominant-baseline="central" stroke="#00aaa4" stroke-width="0.12" textLength="17.6" lengthAdjust="spacingAndGlyphs">Kazakhstan</text>
<text x="592" y="370.65" font-size="3.7" fill="#9f9e00" text-anchor="start" dominant-baseline="central" stroke="#9f9e00" stroke-width="0.12" textLength="6.6" lengthAdjust="spacingAndGlyphs">Chile</text>
<text x="600.3" y="368.65" font-size="3.7" fill="#df7a1c" text-anchor="start" dominant-baseline="central" stroke="#df7a1c" stroke-width="0.12" textLength="13.9" lengthAdjust="spacingAndGlyphs">Bulgaria</text>
<text x="625.1" y="368.65" font-size="3.7" fill="#df7a1c" text-anchor="start" dominant-baseline="central" stroke="#df7a1c" stroke-width="0.12" textLength="11.7" lengthAdjust="spacingAndGlyphs">Belarus</text>
<text x="456.2" y="371.25" font-size="3.7" fill="#e4483b" text-anchor="start" dominant-baseline="central" stroke="#e4483b" stroke-width="0.12" textLength="14.4" lengthAdjust="spacingAndGlyphs">Zimbabwe</text>
<text x="474.5" y="372.05" font-size="3.7" fill="#a76ef0" text-anchor="start" dominant-baseline="central" stroke="#a76ef0" stroke-width="0.12" textLength="31.7" lengthAdjust="spacingAndGlyphs">Sao Tome and Principe</text>
<text x="483.7" y="375.55" font-size="3.7" fill="#ef5a78" text-anchor="start" dominant-baseline="central" stroke="#ef5a78" stroke-width="0.12" textLength="51.2" lengthAdjust="spacingAndGlyphs">Venezuela (Bolivarian Republic of)</text>
<text x="537.3" y="375.85" font-size="3.7" fill="#ee5aa9" text-anchor="start" dominant-baseline="central" stroke="#ee5aa9" stroke-width="0.12" textLength="9.6" lengthAdjust="spacingAndGlyphs">Tokelau</text>
<text x="551" y="375.85" font-size="3.7" fill="#6e85f2" text-anchor="start" dominant-baseline="central" stroke="#6e85f2" stroke-width="0.12" textLength="7.3" lengthAdjust="spacingAndGlyphs">Panama</text>
<text x="566.2" y="375.85" font-size="3.7" fill="#199ee6" text-anchor="start" dominant-baseline="central" stroke="#199ee6" stroke-width="0.12" textLength="13.1" lengthAdjust="spacingAndGlyphs">Mauritius</text>
<text x="580" y="375.85" font-size="3.7" fill="#199ee6" text-anchor="start" dominant-baseline="central" stroke="#199ee6" stroke-width="0.12" textLength="15" lengthAdjust="spacingAndGlyphs">Uzbekistan</text>
<text x="600.3" y="374.25" font-size="3.7" fill="#a76ef0" text-anchor="start" dominant-baseline="central" stroke="#a76ef0" stroke-width="0.12" textLength="23.4" lengthAdjust="spacingAndGlyphs">Russian Federation</text>
<text x="613.5" y="374.25" font-size="3.7" fill="#ee5aa9" text-anchor="start" dominant-baseline="central" stroke="#ee5aa9" stroke-width="0.12" textLength="22.6" lengthAdjust="spacingAndGlyphs">Republic of Moldova</text>
<text x="641.2" y="374.25" font-size="3.7" fill="#a76ef0" text-anchor="start" dominant-baseline="central" stroke="#a76ef0" stroke-width="0.12" textLength="25.6" lengthAdjust="spacingAndGlyphs">Republic of Korea</text>
<text x="434.7" y="376.15" font-size="3.7" fill="#6e85f2" text-anchor="start" dominant-baseline="central" stroke="#6e85f2" stroke-width="0.12" textLength="28" lengthAdjust="spacingAndGlyphs">Papua New Guinea</text>
<text x="467" y="377.95" font-size="3.7" fill="#ef5a78" text-anchor="start" dominant-baseline="central" stroke="#ef5a78" stroke-width="0.12" textLength="8.8" lengthAdjust="spacingAndGlyphs">Yemen</text>
<text x="480.2" y="378.25" font-size="3.7" fill="#00aaa4" text-anchor="start" dominant-baseline="central" stroke="#00aaa4" stroke-width="0.12" textLength="9.6" lengthAdjust="spacingAndGlyphs">Lesotho</text>
<text x="392.1" y="379.15" font-size="3.7" fill="#c6940a" text-anchor="start" dominant-baseline="central" stroke="#c6940a" stroke-width="0.12" textLength="7.5" lengthAdjust="spacingAndGlyphs">Chad</text>
<text x="402.3" y="380.55" font-size="3.7" fill="#c6940a" text-anchor="start" dominant-baseline="central" stroke="#c6940a" stroke-width="0.12" textLength="31.5" lengthAdjust="spacingAndGlyphs">Central African Republic</text>
<text x="607.6" y="379.15" font-size="3.7" fill="#d65fe0" text-anchor="start" dominant-baseline="central" stroke="#d65fe0" stroke-width="0.12" textLength="29.2" lengthAdjust="spacingAndGlyphs">Saint Kitts and Nevis</text>
<text x="639.7" y="379.15" font-size="3.7" fill="#00aaa4" text-anchor="start" dominant-baseline="central" stroke="#00aaa4" stroke-width="0.12" textLength="8.8" lengthAdjust="spacingAndGlyphs">Japan</text>
<text x="497" y="381.25" font-size="3.7" fill="#a76ef0" text-anchor="start" dominant-baseline="central" stroke="#a76ef0" stroke-width="0.12" textLength="45" lengthAdjust="spacingAndGlyphs">Saint Vincent and the Grenadines</text>
<text x="551.3" y="381.15" font-size="3.7" fill="#e4483b" text-anchor="start" dominant-baseline="central" stroke="#e4483b" stroke-width="0.12" textLength="10.5" lengthAdjust="spacingAndGlyphs">Armenia</text>
<text x="567" y="381.15" font-size="3.7" fill="#ef5a78" text-anchor="start" dominant-baseline="central" stroke="#ef5a78" stroke-width="0.12" textLength="11.4" lengthAdjust="spacingAndGlyphs">Uruguay</text>
<text x="581.9" y="381.15" font-size="3.7" fill="#199ee6" text-anchor="start" dominant-baseline="central" stroke="#199ee6" stroke-width="0.12" textLength="5.3" lengthAdjust="spacingAndGlyphs">Niue</text>
<text x="591.6" y="381.15" font-size="3.7" fill="#a76ef0" text-anchor="start" dominant-baseline="central" stroke="#a76ef0" stroke-width="0.12" textLength="10.4" lengthAdjust="spacingAndGlyphs">Romania</text>
<text x="480.3" y="383.95" font-size="3.7" fill="#199ee6" text-anchor="start" dominant-baseline="central" stroke="#199ee6" stroke-width="0.12" textLength="12.7" lengthAdjust="spacingAndGlyphs">Nicaragua</text>
<text x="453" y="384.35" font-size="3.7" fill="#ee5aa9" text-anchor="start" dominant-baseline="central" stroke="#ee5aa9" stroke-width="0.12" textLength="7" lengthAdjust="spacingAndGlyphs">Togo</text>
<text x="462.7" y="384.35" font-size="3.7" fill="#c6940a" text-anchor="start" dominant-baseline="central" stroke="#c6940a" stroke-width="0.12" textLength="14.9" lengthAdjust="spacingAndGlyphs">Cambodia</text>
<text x="600.3" y="384.35" font-size="3.7" fill="#c6940a" text-anchor="start" dominant-baseline="central" stroke="#c6940a" stroke-width="0.12" textLength="27.7" lengthAdjust="spacingAndGlyphs">Brunei Darussalam</text>
<text x="631.7" y="384.35" font-size="3.7" fill="#00aaa4" text-anchor="start" dominant-baseline="central" stroke="#00aaa4" stroke-width="0.12" textLength="8.8" lengthAdjust="spacingAndGlyphs">Latvia</text>
<text x="418.9" y="386.45" font-size="3.7" fill="#d65fe0" text-anchor="start" dominant-baseline="central" stroke="#d65fe0" stroke-width="0.12" textLength="19.3" lengthAdjust="spacingAndGlyphs">Sierra Leone</text>
<text x="514.4" y="386.35" font-size="3.7" fill="#6e85f2" text-anchor="start" dominant-baseline="central" stroke="#6e85f2" stroke-width="0.12" textLength="11.3" lengthAdjust="spacingAndGlyphs">Paraguay</text>
<text x="529.8" y="386.35" font-size="3.7" fill="#00aaa4" text-anchor="start" dominant-baseline="central" stroke="#00aaa4" stroke-width="0.12" textLength="10.2" lengthAdjust="spacingAndGlyphs">Jamaica</text>
<text x="543" y="386.35" font-size="3.7" fill="#ef5a78" text-anchor="start" dominant-baseline="central" stroke="#ef5a78" stroke-width="0.12" textLength="13.3" lengthAdjust="spacingAndGlyphs">Iraq</text>
<text x="557.4" y="386.35" font-size="3.7" fill="#e4483b" text-anchor="start" dominant-baseline="central" stroke="#e4483b" stroke-width="0.12" textLength="9.6" lengthAdjust="spacingAndGlyphs">Argentina</text>
<text x="575.8" y="387.55" font-size="3.7" fill="#d65fe0" text-anchor="start" dominant-baseline="central" stroke="#d65fe0" stroke-width="0.12" textLength="9.6" lengthAdjust="spacingAndGlyphs">Portugal</text>
<text x="588" y="387.55" font-size="3.7" fill="#a76ef0" text-anchor="start" dominant-baseline="central" stroke="#a76ef0" stroke-width="0.12" textLength="22" lengthAdjust="spacingAndGlyphs">Estonia</text>
<text x="396.7" y="389.25" font-size="3.7" fill="#c6940a" text-anchor="start" dominant-baseline="central" stroke="#c6940a" stroke-width="0.12" textLength="19.3" lengthAdjust="spacingAndGlyphs">Burkina Faso</text>
<text x="440" y="389.25" font-size="3.7" fill="#14a33f" text-anchor="start" dominant-baseline="central" stroke="#14a33f" stroke-width="0.12" textLength="7" lengthAdjust="spacingAndGlyphs">Eritrea</text>
<text x="447" y="389.45" font-size="3.7" fill="#00aaa4" text-anchor="start" dominant-baseline="central" stroke="#00aaa4" stroke-width="0.12" textLength="54" lengthAdjust="spacingAndGlyphs">Lao People's Democratic Republic</text>
<text x="618.6" y="389.15" font-size="3.7" fill="#00b1d6" text-anchor="start" dominant-baseline="central" stroke="#00b1d6" stroke-width="0.12" textLength="15.3" lengthAdjust="spacingAndGlyphs">Lithuania</text>
<text x="639.7" y="389.15" font-size="3.7" fill="#14a33f" text-anchor="start" dominant-baseline="central" stroke="#14a33f" stroke-width="0.12" textLength="16.1" lengthAdjust="spacingAndGlyphs">Greenland</text>
<text x="505.8" y="392.15" font-size="3.7" fill="#df7a1c" text-anchor="start" dominant-baseline="central" stroke="#df7a1c" stroke-width="0.12" textLength="9.6" lengthAdjust="spacingAndGlyphs">Belize</text>
<text x="521.5" y="392.15" font-size="3.7" fill="#14a33f" text-anchor="start" dominant-baseline="central" stroke="#14a33f" stroke-width="0.12" textLength="11.5" lengthAdjust="spacingAndGlyphs">Grenada</text>
<text x="536.4" y="392.15" font-size="3.7" fill="#ee5aa9" text-anchor="start" dominant-baseline="central" stroke="#ee5aa9" stroke-width="0.12" textLength="8.8" lengthAdjust="spacingAndGlyphs">Lebanon</text>
<text x="545" y="393.95" font-size="3.7" fill="#c6940a" text-anchor="start" dominant-baseline="central" stroke="#c6940a" stroke-width="0.12" textLength="35" lengthAdjust="spacingAndGlyphs">Bosnia and Herzegovina</text>
<text x="578.4" y="392.85" font-size="3.7" fill="#e4483b" text-anchor="start" dominant-baseline="central" stroke="#e4483b" stroke-width="0.12" textLength="17.6" lengthAdjust="spacingAndGlyphs">Antigua and Barbuda</text>
<text x="397.9" y="394.35" font-size="3.7" fill="#d65fe0" text-anchor="start" dominant-baseline="central" stroke="#d65fe0" stroke-width="0.12" textLength="19.3" lengthAdjust="spacingAndGlyphs">South Sudan</text>
<text x="426.8" y="393.45" font-size="3.7" fill="#14a33f" text-anchor="start" dominant-baseline="central" stroke="#14a33f" stroke-width="0.12" textLength="10.5" lengthAdjust="spacingAndGlyphs">Guinea</text>
<text x="448.7" y="393.95" font-size="3.7" fill="#d65fe0" text-anchor="start" dominant-baseline="central" stroke="#d65fe0" stroke-width="0.12" textLength="12.3" lengthAdjust="spacingAndGlyphs">Senegal</text>
<text x="474" y="393.95" font-size="3.7" fill="#c6940a" text-anchor="start" dominant-baseline="central" stroke="#c6940a" stroke-width="0.12" textLength="12.3" lengthAdjust="spacingAndGlyphs">Cameroon</text>
<text x="608.4" y="394.75" font-size="3.7" fill="#9f9e00" text-anchor="start" dominant-baseline="central" stroke="#9f9e00" stroke-width="0.12" textLength="10.9" lengthAdjust="spacingAndGlyphs">Croatia</text>
<text x="629.5" y="394.25" font-size="3.7" fill="#6e85f2" text-anchor="start" dominant-baseline="central" stroke="#6e85f2" stroke-width="0.12" textLength="8.8" lengthAdjust="spacingAndGlyphs">Poland</text>
<text x="641.9" y="394.95" font-size="3.7" fill="#d65fe0" text-anchor="start" dominant-baseline="central" stroke="#d65fe0" stroke-width="0.12" textLength="40.2" lengthAdjust="spacingAndGlyphs">Taiwan (Province of China)</text>
<text x="641.2" y="394.95" font-size="3.7" fill="#df7a1c" text-anchor="start" dominant-baseline="central" stroke="#df7a1c" stroke-width="0.12" textLength="13.8" lengthAdjust="spacingAndGlyphs">Bahamas</text>
<text x="495.3" y="398.55" font-size="3.7" fill="#199ee6" text-anchor="start" dominant-baseline="central" stroke="#199ee6" stroke-width="0.12" textLength="13.1" lengthAdjust="spacingAndGlyphs">Myanmar</text>
<text x="511.9" y="397.35" font-size="3.7" fill="#74aa12" text-anchor="start" dominant-baseline="central" stroke="#74aa12" stroke-width="0.12" textLength="11.4" lengthAdjust="spacingAndGlyphs">Eswatini</text>
<text x="546" y="397.35" font-size="3.7" fill="#74aa12" text-anchor="start" dominant-baseline="central" stroke="#74aa12" stroke-width="0.12" textLength="4.4" lengthAdjust="spacingAndGlyphs">Fiji</text>
<text x="551.2" y="396.65" font-size="3.7" fill="#00aaa4" text-anchor="start" dominant-baseline="central" stroke="#00aaa4" stroke-width="0.12" textLength="14.3" lengthAdjust="spacingAndGlyphs">Jamaica</text>
<text x="606.2" y="401.95" font-size="3.7" fill="#a76ef0" text-anchor="start" dominant-baseline="central" stroke="#a76ef0" stroke-width="0.12" textLength="6.5" lengthAdjust="spacingAndGlyphs">Serbia</text>
<text x="616.4" y="400.15" font-size="3.7" fill="#a76ef0" text-anchor="start" dominant-baseline="central" stroke="#a76ef0" stroke-width="0.12" textLength="12.4" lengthAdjust="spacingAndGlyphs">Slovakia</text>
<text x="631.7" y="400.15" font-size="3.7" fill="#199ee6" text-anchor="start" dominant-baseline="central" stroke="#199ee6" stroke-width="0.12" textLength="17.5" lengthAdjust="spacingAndGlyphs">Montenegro</text>
<text x="651.4" y="400.15" font-size="3.7" fill="#a76ef0" text-anchor="start" dominant-baseline="central" stroke="#a76ef0" stroke-width="0.12" textLength="17.6" lengthAdjust="spacingAndGlyphs">San Marino</text>
<text x="411.9" y="399.65" font-size="3.7" fill="#c6940a" text-anchor="start" dominant-baseline="central" stroke="#c6940a" stroke-width="0.12" textLength="11.7" lengthAdjust="spacingAndGlyphs">Burundi</text>
<text x="428.2" y="399.05" font-size="3.7" fill="#00aaa4" text-anchor="start" dominant-baseline="central" stroke="#00aaa4" stroke-width="0.12" textLength="9.4" lengthAdjust="spacingAndGlyphs">Liberia</text>
<text x="441.1" y="399.95" font-size="3.7" fill="#df7a1c" text-anchor="start" dominant-baseline="central" stroke="#df7a1c" stroke-width="0.12" textLength="8.1" lengthAdjust="spacingAndGlyphs">Benin</text>
<text x="454" y="399.65" font-size="3.7" fill="#ee5aa9" text-anchor="start" dominant-baseline="central" stroke="#ee5aa9" stroke-width="0.12" textLength="18" lengthAdjust="spacingAndGlyphs">Timor-Leste</text>
<text x="481" y="401.35" font-size="3.7" fill="#74aa12" text-anchor="start" dominant-baseline="central" stroke="#74aa12" stroke-width="0.12" textLength="10.6" lengthAdjust="spacingAndGlyphs">Djibouti</text>
<text x="511" y="402.55" font-size="3.7" fill="#9f9e00" text-anchor="start" dominant-baseline="central" stroke="#9f9e00" stroke-width="0.12" textLength="9.6" lengthAdjust="spacingAndGlyphs">Congo</text>
<text x="526.8" y="401.35" font-size="3.7" fill="#ee5aa9" text-anchor="start" dominant-baseline="central" stroke="#ee5aa9" stroke-width="0.12" textLength="10.5" lengthAdjust="spacingAndGlyphs">Samoa</text>
<text x="549.5" y="403.45" font-size="3.7" fill="#00ad7a" text-anchor="start" dominant-baseline="central" stroke="#00ad7a" stroke-width="0.12" textLength="36.8" lengthAdjust="spacingAndGlyphs">Iran (Islamic Republic of)</text>
<text x="630.3" y="404.95" font-size="3.7" fill="#d65fe0" text-anchor="start" dominant-baseline="central" stroke="#d65fe0" stroke-width="0.12" textLength="12.4" lengthAdjust="spacingAndGlyphs">Slovenia</text>
<text x="644.9" y="405.25" font-size="3.7" fill="#9f9e00" text-anchor="start" dominant-baseline="central" stroke="#9f9e00" stroke-width="0.12" textLength="12.4" lengthAdjust="spacingAndGlyphs">Czechia</text>
<text x="660.2" y="405.25" font-size="3.7" fill="#00aaa4" text-anchor="start" dominant-baseline="central" stroke="#00aaa4" stroke-width="0.12" textLength="12.4" lengthAdjust="spacingAndGlyphs">Monaco</text>
<text x="465" y="404.35" font-size="3.7" fill="#a76ef0" text-anchor="start" dominant-baseline="central" stroke="#a76ef0" stroke-width="0.12" textLength="11.7" lengthAdjust="spacingAndGlyphs">Rwanda</text>
<text x="414.9" y="406.45" font-size="3.7" fill="#199ee6" text-anchor="start" dominant-baseline="central" stroke="#199ee6" stroke-width="0.12" textLength="18.9" lengthAdjust="spacingAndGlyphs">Mozambique</text>
<text x="444" y="405.55" font-size="3.7" fill="#00aaa4" text-anchor="start" dominant-baseline="central" stroke="#00aaa4" stroke-width="0.12" textLength="18.7" lengthAdjust="spacingAndGlyphs">Madagascar</text>
<text x="479.3" y="407.85" font-size="3.7" fill="#e4483b" text-anchor="start" dominant-baseline="central" stroke="#e4483b" stroke-width="0.12" textLength="10.5" lengthAdjust="spacingAndGlyphs">Angola</text>
<text x="497.9" y="406.95" font-size="3.7" fill="#14a33f" text-anchor="start" dominant-baseline="central" stroke="#14a33f" stroke-width="0.12" textLength="9.6" lengthAdjust="spacingAndGlyphs">Ghana</text>
<text x="510.7" y="407.85" font-size="3.7" fill="#9f9e00" text-anchor="start" dominant-baseline="central" stroke="#9f9e00" stroke-width="0.12" textLength="27.5" lengthAdjust="spacingAndGlyphs">Dominican Republic</text>
<text x="539" y="405.55" font-size="3.7" fill="#14a33f" text-anchor="start" dominant-baseline="central" stroke="#14a33f" stroke-width="0.12" textLength="14" lengthAdjust="spacingAndGlyphs">Indonesia</text>
<text x="555.7" y="408.35" font-size="3.7" fill="#ee5aa9" text-anchor="start" dominant-baseline="central" stroke="#ee5aa9" stroke-width="0.12" textLength="10.5" lengthAdjust="spacingAndGlyphs">Turkiye</text>
<text x="569.7" y="408.35" font-size="3.7" fill="#199ee6" text-anchor="start" dominant-baseline="central" stroke="#199ee6" stroke-width="0.12" textLength="13.1" lengthAdjust="spacingAndGlyphs">Malaysia</text>
<text x="585.4" y="407.85" font-size="3.7" fill="#14a33f" text-anchor="start" dominant-baseline="central" stroke="#14a33f" stroke-width="0.12" textLength="10.6" lengthAdjust="spacingAndGlyphs">Greece</text>
<text x="598.9" y="407.55" font-size="3.7" fill="#00aaa4" text-anchor="start" dominant-baseline="central" stroke="#00aaa4" stroke-width="0.12" textLength="13.1" lengthAdjust="spacingAndGlyphs">Hungary</text>
<text x="615.7" y="407.15" font-size="3.7" fill="#74aa12" text-anchor="start" dominant-baseline="central" stroke="#74aa12" stroke-width="0.12" textLength="11.6" lengthAdjust="spacingAndGlyphs">Estonia</text>
<text x="657.3" y="410.45" font-size="3.7" fill="#14a33f" text-anchor="start" dominant-baseline="central" stroke="#14a33f" stroke-width="0.12" textLength="13.1" lengthAdjust="spacingAndGlyphs">Germany</text>
<text x="438.2" y="411.35" font-size="3.7" fill="#14a33f" text-anchor="start" dominant-baseline="central" stroke="#14a33f" stroke-width="0.12" textLength="11.4" lengthAdjust="spacingAndGlyphs">Ethiopia</text>
<text x="459.2" y="412.55" font-size="3.7" fill="#199ee6" text-anchor="start" dominant-baseline="central" stroke="#199ee6" stroke-width="0.12" textLength="6.5" lengthAdjust="spacingAndGlyphs">Nepal</text>
<text x="470.9" y="412.55" font-size="3.7" fill="#9f9e00" text-anchor="start" dominant-baseline="central" stroke="#9f9e00" stroke-width="0.12" textLength="12.8" lengthAdjust="spacingAndGlyphs">Comoros</text>
<text x="490.9" y="412.55" font-size="3.7" fill="#e4483b" text-anchor="start" dominant-baseline="central" stroke="#e4483b" stroke-width="0.12" textLength="10.5" lengthAdjust="spacingAndGlyphs">Zambia</text>
<text x="505.8" y="412.25" font-size="3.7" fill="#00aaa4" text-anchor="start" dominant-baseline="central" stroke="#00aaa4" stroke-width="0.12" textLength="7" lengthAdjust="spacingAndGlyphs">India</text>
<text x="525" y="412.55" font-size="3.7" fill="#d65fe0" text-anchor="start" dominant-baseline="central" stroke="#d65fe0" stroke-width="0.12" textLength="14" lengthAdjust="spacingAndGlyphs">Suriname</text>
<text x="539.9" y="410.95" font-size="3.7" fill="#14a33f" text-anchor="start" dominant-baseline="central" stroke="#14a33f" stroke-width="0.12" textLength="7.9" lengthAdjust="spacingAndGlyphs">Guyana</text>
<text x="560.9" y="413.65" font-size="3.7" fill="#d65fe0" text-anchor="start" dominant-baseline="central" stroke="#d65fe0" stroke-width="0.12" textLength="13.1" lengthAdjust="spacingAndGlyphs">Seychelles</text>
<text x="574.9" y="413.65" font-size="3.7" fill="#9f9e00" text-anchor="start" dominant-baseline="central" stroke="#9f9e00" stroke-width="0.12" textLength="14.1" lengthAdjust="spacingAndGlyphs">Cook Islands</text>
<text x="609.8" y="411.95" font-size="3.7" fill="#ef5a78" text-anchor="start" dominant-baseline="central" stroke="#ef5a78" stroke-width="0.12" textLength="36.5" lengthAdjust="spacingAndGlyphs">United States Virgin Islands</text>
<text x="384.4" y="413.95" font-size="3.7" fill="#9f9e00" text-anchor="start" dominant-baseline="central" stroke="#9f9e00" stroke-width="0.12" textLength="50.8" lengthAdjust="spacingAndGlyphs">Democratic Republic of the Congo</text>
<text x="647.8" y="415.55" font-size="3.7" fill="#199ee6" text-anchor="start" dominant-baseline="central" stroke="#199ee6" stroke-width="0.12" textLength="19.7" lengthAdjust="spacingAndGlyphs">New Zealand</text>
<text x="668.2" y="415.55" font-size="3.7" fill="#a76ef0" text-anchor="start" dominant-baseline="central" stroke="#a76ef0" stroke-width="0.12" textLength="13.8" lengthAdjust="spacingAndGlyphs">Singapore</text>
<text x="596" y="416.65" font-size="3.7" fill="#14a33f" text-anchor="start" dominant-baseline="central" stroke="#14a33f" stroke-width="0.12" textLength="8" lengthAdjust="spacingAndGlyphs">Guam</text>
<text x="612" y="417.05" font-size="3.7" fill="#ef5a78" text-anchor="start" dominant-baseline="central" stroke="#ef5a78" stroke-width="0.12" textLength="32.9" lengthAdjust="spacingAndGlyphs">United Arab Emirates</text>
<text x="498.8" y="417.45" font-size="3.7" fill="#00aaa4" text-anchor="start" dominant-baseline="central" stroke="#00aaa4" stroke-width="0.12" textLength="9.6" lengthAdjust="spacingAndGlyphs">Kenya</text>
<text x="511.9" y="417.15" font-size="3.7" fill="#14a33f" text-anchor="start" dominant-baseline="central" stroke="#14a33f" stroke-width="0.12" textLength="9.6" lengthAdjust="spacingAndGlyphs">Gabon</text>
<text x="526.8" y="417.95" font-size="3.7" fill="#9f9e00" text-anchor="start" dominant-baseline="central" stroke="#9f9e00" stroke-width="0.12" textLength="23.6" lengthAdjust="spacingAndGlyphs">Equatorial Guinea</text>
<text x="552.2" y="417.95" font-size="3.7" fill="#ee5aa9" text-anchor="start" dominant-baseline="central" stroke="#ee5aa9" stroke-width="0.12" textLength="10.5" lengthAdjust="spacingAndGlyphs">South Africa</text>
<text x="562.7" y="417.95" font-size="3.7" fill="#ee5aa9" text-anchor="start" dominant-baseline="central" stroke="#ee5aa9" stroke-width="0.12" textLength="19.3" lengthAdjust="spacingAndGlyphs">Saint Lucia</text>
<text x="432.9" y="417.85" font-size="3.7" fill="#ef5a78" text-anchor="start" dominant-baseline="central" stroke="#ef5a78" stroke-width="0.12" textLength="42.9" lengthAdjust="spacingAndGlyphs">United Republic of Tanzania</text>
<text x="478.5" y="417.85" font-size="3.7" fill="#df7a1c" text-anchor="start" dominant-baseline="central" stroke="#df7a1c" stroke-width="0.12" textLength="17.5" lengthAdjust="spacingAndGlyphs">Bangladesh</text>
<text x="419.4" y="419.25" font-size="3.7" fill="#ee5aa9" text-anchor="start" dominant-baseline="central" stroke="#ee5aa9" stroke-width="0.12" textLength="11.8" lengthAdjust="spacingAndGlyphs">Uganda</text>
<text x="590.1" y="420.95" font-size="3.7" fill="#199ee6" text-anchor="start" dominant-baseline="central" stroke="#199ee6" stroke-width="0.12" textLength="6.6" lengthAdjust="spacingAndGlyphs">Malta</text>
<text x="598" y="422.15" font-size="3.7" fill="#6e85f2" text-anchor="start" dominant-baseline="central" stroke="#6e85f2" stroke-width="0.12" textLength="15.5" lengthAdjust="spacingAndGlyphs">Puerto Rico</text>
<text x="645.6" y="420.95" font-size="3.7" fill="#199ee6" text-anchor="start" dominant-baseline="central" stroke="#199ee6" stroke-width="0.12" textLength="17.5" lengthAdjust="spacingAndGlyphs">Netherlands</text>
<text x="666" y="420.95" font-size="3.7" fill="#9f9e00" text-anchor="start" dominant-baseline="central" stroke="#9f9e00" stroke-width="0.12" textLength="9.5" lengthAdjust="spacingAndGlyphs">Denmark</text>
<text x="489.5" y="422.75" font-size="3.7" fill="#199ee6" text-anchor="start" dominant-baseline="central" stroke="#199ee6" stroke-width="0.12" textLength="7.5" lengthAdjust="spacingAndGlyphs">Pakistan</text>
<text x="505.8" y="422.75" font-size="3.7" fill="#9f9e00" text-anchor="start" dominant-baseline="central" stroke="#9f9e00" stroke-width="0.12" textLength="7" lengthAdjust="spacingAndGlyphs">Egypt</text>
<text x="517.1" y="422.25" font-size="3.7" fill="#6e85f2" text-anchor="start" dominant-baseline="central" stroke="#6e85f2" stroke-width="0.12" textLength="15.8" lengthAdjust="spacingAndGlyphs">Philippines</text>
<text x="536.4" y="424.45" font-size="3.7" fill="#c6940a" text-anchor="start" dominant-baseline="central" stroke="#c6940a" stroke-width="0.12" textLength="7" lengthAdjust="spacingAndGlyphs">Cuba</text>
<text x="546.9" y="423.65" font-size="3.7" fill="#ee5aa9" text-anchor="start" dominant-baseline="central" stroke="#ee5aa9" stroke-width="0.12" textLength="13.1" lengthAdjust="spacingAndGlyphs">Sri Lanka</text>
<text x="567" y="423.65" font-size="3.7" fill="#ee5aa9" text-anchor="start" dominant-baseline="central" stroke="#ee5aa9" stroke-width="0.12" textLength="8" lengthAdjust="spacingAndGlyphs">Libya</text>
<text x="439.9" y="423.25" font-size="3.7" fill="#00aaa4" text-anchor="start" dominant-baseline="central" stroke="#00aaa4" stroke-width="0.12" textLength="11.1" lengthAdjust="spacingAndGlyphs">Malawi</text>
<text x="474.9" y="422.75" font-size="3.7" fill="#c6940a" text-anchor="start" dominant-baseline="central" stroke="#c6940a" stroke-width="0.12" textLength="11.1" lengthAdjust="spacingAndGlyphs">Bhutan</text>
<text x="453.6" y="426.55" font-size="3.7" fill="#14a33f" text-anchor="start" dominant-baseline="central" stroke="#14a33f" stroke-width="0.12" textLength="11.7" lengthAdjust="spacingAndGlyphs">Gambia</text>
<text x="590.1" y="427.25" font-size="3.7" fill="#df7a1c" text-anchor="start" dominant-baseline="central" stroke="#df7a1c" stroke-width="0.12" textLength="13.9" lengthAdjust="spacingAndGlyphs">Bermuda</text>
<text x="605.4" y="426.85" font-size="3.7" fill="#e4483b" text-anchor="start" dominant-baseline="central" stroke="#e4483b" stroke-width="0.12" textLength="32.2" lengthAdjust="spacingAndGlyphs">Republic of Moldova</text>
<text x="637.6" y="426.85" font-size="3.7" fill="#00aaa4" text-anchor="start" dominant-baseline="central" stroke="#00aaa4" stroke-width="0.12" textLength="8.7" lengthAdjust="spacingAndGlyphs">Austria</text>
<text x="652.9" y="426.05" font-size="3.7" fill="#14a33f" text-anchor="start" dominant-baseline="central" stroke="#14a33f" stroke-width="0.12" textLength="9.5" lengthAdjust="spacingAndGlyphs">Iceland</text>
<text x="664.6" y="426.05" font-size="3.7" fill="#ee5aa9" text-anchor="start" dominant-baseline="central" stroke="#ee5aa9" stroke-width="0.12" textLength="16.8" lengthAdjust="spacingAndGlyphs">Switzerland</text>
<text x="489" y="427.95" font-size="3.7" fill="#199ee6" text-anchor="start" dominant-baseline="central" stroke="#199ee6" stroke-width="0.12" textLength="8" lengthAdjust="spacingAndGlyphs">Nigeria</text>
<text x="502.3" y="428.35" font-size="3.7" fill="#df7a1c" text-anchor="start" dominant-baseline="central" stroke="#df7a1c" stroke-width="0.12" textLength="14.8" lengthAdjust="spacingAndGlyphs">Botswana</text>
<text x="519.8" y="427.45" font-size="3.7" fill="#6e85f2" text-anchor="start" dominant-baseline="central" stroke="#6e85f2" stroke-width="0.12" textLength="13.1" lengthAdjust="spacingAndGlyphs">Palestine</text>
<text x="552.2" y="428.85" font-size="3.7" fill="#00aaa4" text-anchor="start" dominant-baseline="central" stroke="#00aaa4" stroke-width="0.12" textLength="4.3" lengthAdjust="spacingAndGlyphs">Iraq</text>
<text x="559.7" y="428.85" font-size="3.7" fill="#199ee6" text-anchor="start" dominant-baseline="central" stroke="#199ee6" stroke-width="0.12" textLength="5.6" lengthAdjust="spacingAndGlyphs">Libya</text>
<text x="573.7" y="427.15" font-size="3.7" fill="#6e85f2" text-anchor="start" dominant-baseline="central" stroke="#6e85f2" stroke-width="0.12" textLength="7.3" lengthAdjust="spacingAndGlyphs">Oman</text>
<text x="462.7" y="431.85" font-size="3.7" fill="#9f9e00" text-anchor="start" dominant-baseline="central" stroke="#9f9e00" stroke-width="0.12" textLength="18.9" lengthAdjust="spacingAndGlyphs">Cote d'Ivoire</text>
<text x="520.6" y="432.75" font-size="3.7" fill="#199ee6" text-anchor="start" dominant-baseline="central" stroke="#199ee6" stroke-width="0.12" textLength="12.3" lengthAdjust="spacingAndGlyphs">Morocco</text>
<text x="534.7" y="432.75" font-size="3.7" fill="#00aaa4" text-anchor="start" dominant-baseline="central" stroke="#00aaa4" stroke-width="0.12" textLength="13.1" lengthAdjust="spacingAndGlyphs">Maldives</text>
<text x="557.4" y="434.15" font-size="3.7" fill="#ee5aa9" text-anchor="start" dominant-baseline="central" stroke="#ee5aa9" stroke-width="0.12" textLength="9.6" lengthAdjust="spacingAndGlyphs">Tunisia</text>
<text x="571.4" y="432.35" font-size="3.7" fill="#00aaa4" text-anchor="start" dominant-baseline="central" stroke="#00aaa4" stroke-width="0.12" textLength="11.4" lengthAdjust="spacingAndGlyphs">Lebanon</text>
<text x="585.4" y="432.35" font-size="3.7" fill="#00aaa4" text-anchor="start" dominant-baseline="central" stroke="#00aaa4" stroke-width="0.12" textLength="7.9" lengthAdjust="spacingAndGlyphs">Israel</text>
<text x="607.6" y="431.45" font-size="3.7" fill="#6e85f2" text-anchor="start" dominant-baseline="central" stroke="#6e85f2" stroke-width="0.12" textLength="7.3" lengthAdjust="spacingAndGlyphs">Qatar</text>
<text x="624.1" y="431.45" font-size="3.7" fill="#14a33f" text-anchor="start" dominant-baseline="central" stroke="#14a33f" stroke-width="0.12" textLength="10.5" lengthAdjust="spacingAndGlyphs">Finland</text>
<text x="644.1" y="431.25" font-size="3.7" fill="#9f9e00" text-anchor="start" dominant-baseline="central" stroke="#9f9e00" stroke-width="0.12" textLength="9.5" lengthAdjust="spacingAndGlyphs">Canada</text>
<text x="658" y="431.25" font-size="3.7" fill="#199ee6" text-anchor="start" dominant-baseline="central" stroke="#199ee6" stroke-width="0.12" textLength="10.9" lengthAdjust="spacingAndGlyphs">Norway</text>
<text x="485.5" y="435.85" font-size="3.7" fill="#d65fe0" text-anchor="start" dominant-baseline="central" stroke="#d65fe0" stroke-width="0.12" textLength="32.5" lengthAdjust="spacingAndGlyphs">Syrian Arab Republic</text>
<text x="533.8" y="437.95" font-size="3.7" fill="#199ee6" text-anchor="start" dominant-baseline="central" stroke="#199ee6" stroke-width="0.12" textLength="7" lengthAdjust="spacingAndGlyphs">Namibia</text>
<text x="544.3" y="437.95" font-size="3.7" fill="#e4483b" text-anchor="start" dominant-baseline="central" stroke="#e4483b" stroke-width="0.12" textLength="9.6" lengthAdjust="spacingAndGlyphs">Algeria</text>
<text x="570.6" y="437.65" font-size="3.7" fill="#df7a1c" text-anchor="start" dominant-baseline="central" stroke="#df7a1c" stroke-width="0.12" textLength="11.4" lengthAdjust="spacingAndGlyphs">Bahrain</text>
<text x="585.4" y="437.25" font-size="3.7" fill="#9f9e00" text-anchor="start" dominant-baseline="central" stroke="#9f9e00" stroke-width="0.12" textLength="10.6" lengthAdjust="spacingAndGlyphs">Cyprus</text>
<text x="598.9" y="437.05" font-size="3.7" fill="#14a33f" text-anchor="start" dominant-baseline="central" stroke="#14a33f" stroke-width="0.12" textLength="9.5" lengthAdjust="spacingAndGlyphs">France</text>
<text x="612.7" y="436.75" font-size="3.7" fill="#00aaa4" text-anchor="start" dominant-baseline="central" stroke="#00aaa4" stroke-width="0.12" textLength="10.3" lengthAdjust="spacingAndGlyphs">Kuwait</text>
<text x="631" y="436.75" font-size="3.7" fill="#df7a1c" text-anchor="start" dominant-baseline="central" stroke="#df7a1c" stroke-width="0.12" textLength="11.7" lengthAdjust="spacingAndGlyphs">Belgium</text>
<text x="650.7" y="436.75" font-size="3.7" fill="#ee5aa9" text-anchor="start" dominant-baseline="central" stroke="#ee5aa9" stroke-width="0.12" textLength="11.7" lengthAdjust="spacingAndGlyphs">Sweden</text>
<text x="558" y="440.75" font-size="3.7" fill="#00aaa4" text-anchor="start" dominant-baseline="central" stroke="#00aaa4" stroke-width="0.12" textLength="4.7" lengthAdjust="spacingAndGlyphs">Jordan</text>
<text x="587.2" y="442.85" font-size="3.7" fill="#d65fe0" text-anchor="start" dominant-baseline="central" stroke="#d65fe0" stroke-width="0.12" textLength="19" lengthAdjust="spacingAndGlyphs">Saudi Arabia</text>
<text x="609.1" y="442.55" font-size="3.7" fill="#df7a1c" text-anchor="start" dominant-baseline="central" stroke="#df7a1c" stroke-width="0.12" textLength="12.4" lengthAdjust="spacingAndGlyphs">Australia</text>
<text x="619.3" y="442.15" font-size="3.7" fill="#ee5aa9" text-anchor="start" dominant-baseline="central" stroke="#ee5aa9" stroke-width="0.12" textLength="21.9" lengthAdjust="spacingAndGlyphs">United Kingdom</text>
<text x="641.9" y="442.15" font-size="3.7" fill="#00ad7a" text-anchor="start" dominant-baseline="central" stroke="#00ad7a" stroke-width="0.12" textLength="9.5" lengthAdjust="spacingAndGlyphs">Ireland</text>
<path d="M406.1,389.1 C412.38,389 430.22,389.15 443.8,388.5 C457.38,387.85 476.65,385.87 487.6,385.2 C498.55,384.53 502.2,384.13 509.5,384.5 C516.8,384.87 524.65,386.37 531.4,387.4 C538.15,388.43 542.73,389.52 550,390.7 C557.27,391.88 567.92,393.12 575,394.5 C582.08,395.88 586.67,397.25 592.5,399 C598.33,400.75 604.15,402.68 610,405 C615.85,407.32 621.68,410.27 627.6,412.9 C633.52,415.53 642.52,419.48 645.5,420.8" fill="none" stroke="#5a6f86" stroke-width="0.8" stroke-linecap="round"/>
<line x1="378.3" y1="252" x2="378.3" y2="451.05" stroke="#5a5a5a" stroke-width="0.9"/>
<line x1="377.85" y1="450.6" x2="683" y2="450.6" stroke="#5a5a5a" stroke-width="0.9"/>
<line x1="376.9" y1="438.75" x2="378.3" y2="438.75" stroke="#555" stroke-width="0.5"/>
<text x="376.2" y="439.55" font-size="3" fill="#222" text-anchor="end" dominant-baseline="central" stroke="#222" stroke-width="0.12">0</text>
<line x1="376.9" y1="390" x2="378.3" y2="390" stroke="#555" stroke-width="0.5"/>
<text x="376.2" y="390.8" font-size="3" fill="#222" text-anchor="end" dominant-baseline="central" stroke="#222" stroke-width="0.12">20</text>
<line x1="376.9" y1="341.25" x2="378.3" y2="341.25" stroke="#555" stroke-width="0.5"/>
<text x="376.2" y="342.05" font-size="3" fill="#222" text-anchor="end" dominant-baseline="central" stroke="#222" stroke-width="0.12">40</text>
<line x1="376.9" y1="292.5" x2="378.3" y2="292.5" stroke="#555" stroke-width="0.5"/>
<text x="376.2" y="293.3" font-size="3" fill="#222" text-anchor="end" dominant-baseline="central" stroke="#222" stroke-width="0.12">60</text>
<line x1="391.1" y1="450.4" x2="391.1" y2="451.8" stroke="#555" stroke-width="0.5"/>
<text x="391.1" y="454.4" font-size="3" fill="#222" text-anchor="middle" dominant-baseline="central" stroke="#222" stroke-width="0.12">0.2</text>
<line x1="425.83" y1="450.4" x2="425.83" y2="451.8" stroke="#555" stroke-width="0.5"/>
<text x="425.83" y="454.4" font-size="3" fill="#222" text-anchor="middle" dominant-baseline="central" stroke="#222" stroke-width="0.12">0.3</text>
<line x1="460.56" y1="450.4" x2="460.56" y2="451.8" stroke="#555" stroke-width="0.5"/>
<text x="460.56" y="454.4" font-size="3" fill="#222" text-anchor="middle" dominant-baseline="central" stroke="#222" stroke-width="0.12">0.4</text>
<line x1="495.29" y1="450.4" x2="495.29" y2="451.8" stroke="#555" stroke-width="0.5"/>
<text x="495.29" y="454.4" font-size="3" fill="#222" text-anchor="middle" dominant-baseline="central" stroke="#222" stroke-width="0.12">0.5</text>
<line x1="530.02" y1="450.4" x2="530.02" y2="451.8" stroke="#555" stroke-width="0.5"/>
<text x="530.02" y="454.4" font-size="3" fill="#222" text-anchor="middle" dominant-baseline="central" stroke="#222" stroke-width="0.12">0.6</text>
<line x1="564.75" y1="450.4" x2="564.75" y2="451.8" stroke="#555" stroke-width="0.5"/>
<text x="564.75" y="454.4" font-size="3" fill="#222" text-anchor="middle" dominant-baseline="central" stroke="#222" stroke-width="0.12">0.7</text>
<line x1="599.48" y1="450.4" x2="599.48" y2="451.8" stroke="#555" stroke-width="0.5"/>
<text x="599.48" y="454.4" font-size="3" fill="#222" text-anchor="middle" dominant-baseline="central" stroke="#222" stroke-width="0.12">0.8</text>
<line x1="634.21" y1="450.4" x2="634.21" y2="451.8" stroke="#555" stroke-width="0.5"/>
<text x="634.21" y="454.4" font-size="3" fill="#222" text-anchor="middle" dominant-baseline="central" stroke="#222" stroke-width="0.12">0.9</text>
<line x1="668.94" y1="450.4" x2="668.94" y2="451.8" stroke="#555" stroke-width="0.5"/>
<text x="668.94" y="454.4" font-size="3" fill="#222" text-anchor="middle" dominant-baseline="central" stroke="#222" stroke-width="0.12">1.0</text>
<text x="529.8" y="457.8" font-size="4" fill="#111" text-anchor="middle" dominant-baseline="central" font-weight="bold" stroke="#111" stroke-width="0.1" textLength="6.6" lengthAdjust="spacingAndGlyphs">SDI</text>
<text x="368.6" y="351.7" font-size="3.6" fill="#111" text-anchor="middle" dominant-baseline="central" font-weight="bold" stroke="#111" stroke-width="0.16" textLength="123" lengthAdjust="spacingAndGlyphs" transform="rotate(-90 368.6 351.7)">DALYs (Disability–Adjusted Life Years) Rate per 100,000 population</text>
<text x="35" y="507.5" font-size="3.4" fill="#111" stroke="#111" stroke-width="0.1" font-weight="bold" dominant-baseline="central" textLength="39.25" lengthAdjust="spacingAndGlyphs"><tspan font-style="italic">R</tspan> = 0.25, <tspan font-style="italic">p</tspan> = 0.00036</text>
<text x="184.1" y="507.5" font-size="3.4" fill="#111" stroke="#111" stroke-width="0.1" font-weight="bold" dominant-baseline="central" textLength="41.6" lengthAdjust="spacingAndGlyphs"><tspan font-style="italic">R</tspan> = −0.62, <tspan font-style="italic">p</tspan> &lt; 2.2e−16</text>
<text x="386.5" y="507" font-size="3.4" fill="#111" stroke="#111" stroke-width="0.1" font-weight="bold" dominant-baseline="central" textLength="38.75" lengthAdjust="spacingAndGlyphs"><tspan font-style="italic">R</tspan> = 0.26, <tspan font-style="italic">p</tspan> = 0.00016</text>
<text x="534.1" y="507.1" font-size="3.4" fill="#111" stroke="#111" stroke-width="0.1" font-weight="bold" dominant-baseline="central" textLength="41.6" lengthAdjust="spacingAndGlyphs"><tspan font-style="italic">R</tspan> = −0.58, <tspan font-style="italic">p</tspan> &lt; 2.2e−16</text>
<text x="2.8" y="489.2" font-size="12" fill="#111" text-anchor="start" dominant-baseline="central" font-weight="bold">e</text>
<text x="354.6" y="489.1" font-size="10.8" fill="#111" text-anchor="start" dominant-baseline="central" font-weight="bold">f</text>
<circle cx="45" cy="505" r="1.22" fill="#eb7878"/>
<circle cx="64.25" cy="528.25" r="1.73" fill="#eb7878"/>
<circle cx="73" cy="537.5" r="1.84" fill="#eb7878"/>
<circle cx="72" cy="547" r="1.73" fill="#eb7878"/>
<circle cx="100.75" cy="547.5" r="2.24" fill="#eb7878"/>
<circle cx="102.5" cy="570.75" r="2.04" fill="#eb7878"/>
<circle cx="78.75" cy="568.75" r="1.84" fill="#eb7878"/>
<circle cx="49.9" cy="561" r="1.53" fill="#eb7878"/>
<circle cx="56.6" cy="560.7" r="1.53" fill="#eb7878"/>
<circle cx="62.3" cy="559.5" r="1.63" fill="#eb7878"/>
<circle cx="66.4" cy="558" r="1.63" fill="#eb7878"/>
<circle cx="59.8" cy="566.9" r="1.63" fill="#eb7878"/>
<circle cx="61.8" cy="568.4" r="1.63" fill="#eb7878"/>
<circle cx="65.3" cy="565.4" r="1.63" fill="#eb7878"/>
<circle cx="66.2" cy="568.4" r="1.53" fill="#eb7878"/>
<circle cx="68.7" cy="571.1" r="1.63" fill="#eb7878"/>
<circle cx="55.6" cy="570.1" r="1.53" fill="#eb7878"/>
<circle cx="56" cy="572.9" r="1.53" fill="#eb7878"/>
<circle cx="51.6" cy="570.6" r="1.43" fill="#eb7878"/>
<circle cx="61.8" cy="573.1" r="1.53" fill="#eb7878"/>
<circle cx="57.3" cy="576.4" r="1.53" fill="#eb7878"/>
<circle cx="60.8" cy="576.8" r="1.53" fill="#eb7878"/>
<circle cx="43.9" cy="572.9" r="1.22" fill="#eb7878"/>
<circle cx="45.9" cy="574.4" r="1.22" fill="#eb7878"/>
<circle cx="40.4" cy="576.6" r="1.22" fill="#eb7878"/>
<circle cx="44.9" cy="578.8" r="1.22" fill="#eb7878"/>
<circle cx="50.4" cy="580.6" r="1.53" fill="#eb7878"/>
<circle cx="40.7" cy="583" r="1.12" fill="#eb7878"/>
<circle cx="46.4" cy="583" r="1.22" fill="#eb7878"/>
<circle cx="55.8" cy="582" r="1.63" fill="#eb7878"/>
<circle cx="57.3" cy="583.8" r="1.63" fill="#eb7878"/>
<circle cx="60.8" cy="583.3" r="1.63" fill="#eb7878"/>
<circle cx="55.3" cy="585.8" r="1.53" fill="#eb7878"/>
<circle cx="47.9" cy="585.8" r="1.43" fill="#eb7878"/>
<circle cx="48.9" cy="584.8" r="1.33" fill="#eb7878"/>
<circle cx="67.2" cy="581.8" r="1.63" fill="#eb7878"/>
<circle cx="68.2" cy="584.8" r="1.63" fill="#eb7878"/>
<circle cx="69.2" cy="585.8" r="1.53" fill="#eb7878"/>
<circle cx="75.9" cy="579.8" r="1.73" fill="#eb7878"/>
<circle cx="76.7" cy="581.8" r="1.73" fill="#eb7878"/>
<circle cx="77.2" cy="568.9" r="1.84" fill="#eb7878"/>
<circle cx="79.7" cy="567.9" r="1.84" fill="#eb7878"/>
<circle cx="83.1" cy="572.9" r="1.84" fill="#eb7878"/>
<circle cx="82.1" cy="577.8" r="1.84" fill="#eb7878"/>
<circle cx="85.6" cy="578.3" r="1.84" fill="#eb7878"/>
<circle cx="88.6" cy="581.8" r="1.73" fill="#eb7878"/>
<circle cx="84.1" cy="584.3" r="1.73" fill="#eb7878"/>
<circle cx="87.1" cy="586.3" r="1.73" fill="#eb7878"/>
<circle cx="35" cy="583.8" r="0.92" fill="#eb7878"/>
<circle cx="37" cy="589.8" r="1.02" fill="#eb7878"/>
<circle cx="40.9" cy="592.5" r="1.12" fill="#eb7878"/>
<circle cx="42.4" cy="593.7" r="1.12" fill="#eb7878"/>
<circle cx="45.4" cy="590.7" r="1.22" fill="#eb7878"/>
<circle cx="48.4" cy="586.8" r="1.33" fill="#eb7878"/>
<circle cx="47.9" cy="588.8" r="1.33" fill="#eb7878"/>
<circle cx="59.8" cy="590.3" r="1.53" fill="#eb7878"/>
<circle cx="62.8" cy="589.8" r="1.63" fill="#eb7878"/>
<circle cx="63.8" cy="592.2" r="1.63" fill="#eb7878"/>
<circle cx="71.2" cy="590.7" r="1.73" fill="#eb7878"/>
<circle cx="79.7" cy="592.7" r="1.73" fill="#eb7878"/>
<circle cx="88.1" cy="595.2" r="1.73" fill="#eb7878"/>
<circle cx="51.4" cy="593.7" r="1.53" fill="#eb7878"/>
<circle cx="52.3" cy="595.2" r="1.53" fill="#eb7878"/>
<circle cx="50.9" cy="597.7" r="1.63" fill="#eb7878"/>
<circle cx="54.3" cy="598.2" r="1.63" fill="#eb7878"/>
<circle cx="56.3" cy="598.7" r="1.63" fill="#eb7878"/>
<circle cx="58.3" cy="598.7" r="1.63" fill="#eb7878"/>
<circle cx="53.3" cy="600.7" r="1.63" fill="#eb7878"/>
<circle cx="55.3" cy="601.2" r="1.63" fill="#eb7878"/>
<circle cx="56.8" cy="602.2" r="1.63" fill="#eb7878"/>
<circle cx="58.8" cy="602.7" r="1.63" fill="#eb7878"/>
<circle cx="50.9" cy="601.7" r="1.53" fill="#eb7878"/>
<circle cx="45.9" cy="603.2" r="1.33" fill="#eb7878"/>
<circle cx="49.4" cy="605.6" r="1.43" fill="#eb7878"/>
<circle cx="47.9" cy="607.1" r="1.33" fill="#eb7878"/>
<circle cx="62.8" cy="600.7" r="1.63" fill="#eb7878"/>
<circle cx="64.3" cy="602.7" r="1.63" fill="#eb7878"/>
<circle cx="65.8" cy="604.7" r="1.63" fill="#eb7878"/>
<circle cx="66.7" cy="599.7" r="1.63" fill="#eb7878"/>
<circle cx="66.7" cy="597.2" r="1.63" fill="#eb7878"/>
<circle cx="61.8" cy="605.1" r="1.63" fill="#eb7878"/>
<circle cx="59.8" cy="605.6" r="1.63" fill="#eb7878"/>
<circle cx="57.8" cy="606.6" r="1.63" fill="#eb7878"/>
<circle cx="55.3" cy="607.1" r="1.63" fill="#eb7878"/>
<circle cx="53.8" cy="608.1" r="1.63" fill="#eb7878"/>
<circle cx="57.3" cy="608.6" r="1.63" fill="#eb7878"/>
<circle cx="60.8" cy="607.6" r="1.63" fill="#eb7878"/>
<circle cx="37.9" cy="603.7" r="1.02" fill="#eb7878"/>
<circle cx="39.4" cy="609.1" r="1.02" fill="#eb7878"/>
<circle cx="41.9" cy="612.1" r="1.12" fill="#eb7878"/>
<circle cx="44.9" cy="612.4" r="1.22" fill="#eb7878"/>
<circle cx="37.9" cy="613.6" r="1.02" fill="#eb7878"/>
<circle cx="42.9" cy="616.6" r="1.12" fill="#eb7878"/>
<circle cx="37.9" cy="618.6" r="1.02" fill="#eb7878"/>
<circle cx="44.4" cy="619.5" r="1.22" fill="#eb7878"/>
<circle cx="47.4" cy="621" r="1.33" fill="#eb7878"/>
<circle cx="43.4" cy="623.5" r="1.12" fill="#eb7878"/>
<circle cx="54.3" cy="618.6" r="1.53" fill="#eb7878"/>
<circle cx="56.3" cy="617.1" r="1.53" fill="#eb7878"/>
<circle cx="56.3" cy="615.1" r="1.53" fill="#eb7878"/>
<circle cx="59.8" cy="613.1" r="1.63" fill="#eb7878"/>
<circle cx="65.3" cy="611.6" r="1.63" fill="#eb7878"/>
<circle cx="69.5" cy="609.1" r="1.73" fill="#eb7878"/>
<circle cx="76.7" cy="609.6" r="1.73" fill="#eb7878"/>
<circle cx="78.7" cy="605.6" r="1.73" fill="#eb7878"/>
<circle cx="77.7" cy="617.1" r="1.84" fill="#eb7878"/>
<circle cx="79.7" cy="615.6" r="1.84" fill="#eb7878"/>
<circle cx="62.8" cy="620" r="1.63" fill="#eb7878"/>
<circle cx="64.8" cy="618.6" r="1.63" fill="#eb7878"/>
<circle cx="66.2" cy="622.5" r="1.63" fill="#eb7878"/>
<circle cx="56.8" cy="622.5" r="1.63" fill="#eb7878"/>
<circle cx="58.8" cy="623.5" r="1.63" fill="#eb7878"/>
<circle cx="81.6" cy="623.5" r="1.73" fill="#eb7878"/>
<circle cx="102.6" cy="570.6" r="1.84" fill="#eb7878"/>
<circle cx="85.7" cy="578.5" r="1.63" fill="#eb7878"/>
<circle cx="89.5" cy="581.8" r="1.84" fill="#eb7878"/>
<circle cx="93.9" cy="581.1" r="1.84" fill="#eb7878"/>
<circle cx="91" cy="582.3" r="1.63" fill="#eb7878"/>
<circle cx="99.2" cy="583.6" r="1.84" fill="#eb7878"/>
<circle cx="105.9" cy="582.6" r="1.94" fill="#eb7878"/>
<circle cx="86.5" cy="586.3" r="1.84" fill="#eb7878"/>
<circle cx="96.9" cy="588.5" r="1.73" fill="#eb7878"/>
<circle cx="105.1" cy="590" r="1.84" fill="#eb7878"/>
<circle cx="88" cy="595.2" r="1.73" fill="#eb7878"/>
<circle cx="93.6" cy="595.2" r="1.84" fill="#eb7878"/>
<circle cx="113.3" cy="594.5" r="2.04" fill="#eb7878"/>
<circle cx="97.2" cy="600.9" r="1.84" fill="#eb7878"/>
<circle cx="93.2" cy="606.9" r="1.84" fill="#eb7878"/>
<circle cx="138.7" cy="601.2" r="2.14" fill="#eb7878"/>
<circle cx="154.7" cy="606" r="2.45" fill="#eb7878"/>
<circle cx="105.1" cy="624.6" r="2.14" fill="#eb7878"/>
<circle cx="87.2" cy="631" r="1.84" fill="#eb7878"/>
<circle cx="76.9" cy="682.2" r="1.73" fill="#eb7878"/>
<circle cx="39.4" cy="667.4" r="1.12" fill="#eb7878"/>
<circle cx="45.8" cy="665.3" r="1.12" fill="#eb7878"/>
<circle cx="45.6" cy="658.3" r="1.12" fill="#eb7878"/>
<circle cx="49.4" cy="655" r="1.22" fill="#eb7878"/>
<circle cx="43.6" cy="651.5" r="1.12" fill="#eb7878"/>
<circle cx="42" cy="645.6" r="1.12" fill="#eb7878"/>
<circle cx="40.9" cy="644.5" r="1.12" fill="#eb7878"/>
<circle cx="44" cy="644.5" r="1.12" fill="#eb7878"/>
<circle cx="52.5" cy="645.6" r="1.33" fill="#eb7878"/>
<circle cx="53.6" cy="642.4" r="1.33" fill="#eb7878"/>
<circle cx="60" cy="646.6" r="1.43" fill="#eb7878"/>
<circle cx="60" cy="642" r="1.43" fill="#eb7878"/>
<circle cx="65.3" cy="649.8" r="1.84" fill="#eb7878"/>
<circle cx="65.5" cy="648" r="1.53" fill="#eb7878"/>
<circle cx="54.7" cy="639.2" r="1.33" fill="#eb7878"/>
<circle cx="52.5" cy="640.3" r="1.33" fill="#eb7878"/>
<circle cx="46.2" cy="638.1" r="1.22" fill="#eb7878"/>
<circle cx="43" cy="637" r="1.12" fill="#eb7878"/>
<circle cx="45.1" cy="639.2" r="1.22" fill="#eb7878"/>
<circle cx="42" cy="635" r="1.12" fill="#eb7878"/>
<circle cx="48.3" cy="633.9" r="1.22" fill="#eb7878"/>
<circle cx="45.1" cy="631.8" r="1.22" fill="#eb7878"/>
<circle cx="47.2" cy="629.7" r="1.22" fill="#eb7878"/>
<circle cx="51.5" cy="626.5" r="1.33" fill="#eb7878"/>
<circle cx="56.8" cy="629.7" r="1.43" fill="#eb7878"/>
<circle cx="55.7" cy="631.8" r="1.43" fill="#eb7878"/>
<circle cx="60" cy="633.9" r="1.53" fill="#eb7878"/>
<circle cx="62" cy="630.7" r="1.53" fill="#eb7878"/>
<circle cx="64.2" cy="629.7" r="1.53" fill="#eb7878"/>
<circle cx="61" cy="626.5" r="1.53" fill="#eb7878"/>
<circle cx="72.7" cy="636" r="1.63" fill="#eb7878"/>
<circle cx="75.8" cy="637" r="1.63" fill="#eb7878"/>
<circle cx="76.9" cy="638.1" r="1.63" fill="#eb7878"/>
<circle cx="86.9" cy="630.9" r="1.84" fill="#eb7878"/>
<circle cx="104.9" cy="624.8" r="2.24" fill="#eb7878"/>
<path d="M35.2,584.5 C35.65,586.53 36.95,592.85 37.9,596.7 C38.85,600.55 39.73,605.37 40.9,607.6 C42.07,609.83 43.4,610.27 44.9,610.1 C46.4,609.93 48.25,607.83 49.9,606.6 C51.55,605.37 53.15,604.02 54.8,602.7 C56.45,601.38 58.13,600.03 59.8,598.7 C61.47,597.37 63.15,595.87 64.8,594.7 C66.45,593.53 67.22,592.77 69.7,591.7 C72.18,590.63 77.15,589.32 79.7,588.3 C82.25,587.28 81.63,586.93 85,585.6 C88.37,584.27 94.93,581.67 99.9,580.3 C104.87,578.93 109.83,578.52 114.8,577.4 C119.77,576.28 124.73,575.1 129.7,573.6 C134.67,572.1 140.43,570.13 144.6,568.4 C148.77,566.67 153.02,564.07 154.7,563.2 L154.7,651.1 C154.27,650.23 153.78,648.5 152.1,645.9 C150.42,643.3 147.08,638.98 144.6,635.5 C142.12,632.02 139.68,628.12 137.2,625 C134.72,621.88 132.18,619.28 129.7,616.8 C127.22,614.32 124.78,612.08 122.3,610.1 C119.82,608.12 117.28,606.18 114.8,604.9 C112.32,603.62 109.88,602.9 107.4,602.4 C104.92,601.9 103.63,601.83 99.9,601.9 C96.17,601.97 88.37,602.78 85,602.8 C81.63,602.82 82.25,601.68 79.7,602 C77.15,602.32 73.02,603.6 69.7,604.7 C66.38,605.8 63.1,606.95 59.8,608.6 C56.5,610.25 52.38,612.78 49.9,614.6 C47.42,616.42 46.57,618.18 44.9,619.5 C43.23,620.82 41.52,621.67 39.9,622.5 C38.28,623.33 35.98,624.17 35.2,624.5 Z" fill="#999999" fill-opacity="0.4"/>
<path d="M35.2,606.1 C35.98,607.02 38.77,610.32 39.9,611.6 C41.03,612.88 41.33,613.22 42,613.8 C42.67,614.38 43.32,614.85 43.9,615.1 C44.48,615.35 45,615.38 45.5,615.3 C46,615.22 46.4,615.02 46.9,614.6 C47.4,614.18 48,613.47 48.5,612.8 C49,612.13 49.02,611.63 49.9,610.6 C50.78,609.57 52.15,607.75 53.8,606.6 C55.45,605.45 57.8,605.02 59.8,603.7 C61.8,602.38 64.15,599.78 65.8,598.7 C67.45,597.62 67.38,597.78 69.7,597.2 C72.02,596.62 77.15,595.65 79.7,595.2 C82.25,594.75 81.63,595.12 85,594.5 C88.37,593.88 95.93,592.2 99.9,591.5 C103.87,590.8 106.32,590.42 108.8,590.3 C111.28,590.18 111.82,590.23 114.8,590.8 C117.78,591.37 122.97,592.47 126.7,593.7 C130.43,594.93 133.72,596.7 137.2,598.2 C140.68,599.7 144.68,601.33 147.6,602.7 C150.52,604.07 153.52,605.78 154.7,606.4" fill="none" stroke="#3d8fd6" stroke-width="0.9" stroke-linecap="round"/>
<circle cx="257.4" cy="504.9" r="1.22" fill="#eb7878"/>
<circle cx="243.9" cy="528.3" r="1.63" fill="#eb7878"/>
<circle cx="238.8" cy="537.5" r="1.84" fill="#eb7878"/>
<circle cx="244.3" cy="547.6" r="2.14" fill="#eb7878"/>
<circle cx="206.4" cy="546.9" r="1.84" fill="#eb7878"/>
<circle cx="229.6" cy="557.9" r="1.73" fill="#eb7878"/>
<circle cx="218.5" cy="560.5" r="1.53" fill="#eb7878"/>
<circle cx="223" cy="559.6" r="1.53" fill="#eb7878"/>
<circle cx="246" cy="561.2" r="1.22" fill="#eb7878"/>
<circle cx="196.3" cy="566" r="1.63" fill="#eb7878"/>
<circle cx="212.6" cy="568.4" r="1.73" fill="#eb7878"/>
<circle cx="220.2" cy="567.1" r="1.73" fill="#eb7878"/>
<circle cx="222.4" cy="568.4" r="1.84" fill="#eb7878"/>
<circle cx="229.6" cy="567.7" r="1.53" fill="#eb7878"/>
<circle cx="243.2" cy="568.8" r="1.84" fill="#eb7878"/>
<circle cx="246.5" cy="570.6" r="2.04" fill="#eb7878"/>
<circle cx="239.9" cy="573.2" r="1.43" fill="#eb7878"/>
<circle cx="243.2" cy="574.3" r="1.33" fill="#eb7878"/>
<circle cx="252" cy="573.2" r="1.53" fill="#eb7878"/>
<circle cx="254.6" cy="570.6" r="1.53" fill="#eb7878"/>
<circle cx="259.6" cy="570.6" r="1.53" fill="#eb7878"/>
<circle cx="273.9" cy="572.1" r="2.04" fill="#eb7878"/>
<circle cx="275" cy="571" r="1.84" fill="#eb7878"/>
<circle cx="283.7" cy="573.9" r="1.53" fill="#eb7878"/>
<circle cx="183.6" cy="584.8" r="1.73" fill="#eb7878"/>
<circle cx="210.4" cy="577.6" r="1.73" fill="#eb7878"/>
<circle cx="211.5" cy="583.1" r="1.63" fill="#eb7878"/>
<circle cx="215.8" cy="582" r="1.63" fill="#eb7878"/>
<circle cx="225.3" cy="577.1" r="1.63" fill="#eb7878"/>
<circle cx="226.8" cy="579.8" r="1.53" fill="#eb7878"/>
<circle cx="230" cy="578" r="1.53" fill="#eb7878"/>
<circle cx="232.3" cy="580.9" r="1.94" fill="#eb7878"/>
<circle cx="237.7" cy="584.2" r="1.63" fill="#eb7878"/>
<circle cx="235.5" cy="586.3" r="1.53" fill="#eb7878"/>
<circle cx="239.9" cy="586.3" r="1.53" fill="#eb7878"/>
<circle cx="220.2" cy="588.5" r="2.04" fill="#eb7878"/>
<circle cx="213.1" cy="615.1" r="1.63" fill="#eb7878"/>
<circle cx="222.5" cy="645.5" r="1.53" fill="#eb7878"/>
<circle cx="233.5" cy="642.3" r="1.53" fill="#eb7878"/>
<circle cx="219.9" cy="588.6" r="2.04" fill="#eb7878"/>
<circle cx="228" cy="593" r="1.53" fill="#eb7878"/>
<circle cx="229" cy="592" r="1.53" fill="#eb7878"/>
<circle cx="235.3" cy="590.8" r="1.53" fill="#eb7878"/>
<circle cx="235.7" cy="595.2" r="1.53" fill="#eb7878"/>
<circle cx="235.7" cy="598.5" r="1.53" fill="#eb7878"/>
<circle cx="237.9" cy="599.6" r="1.53" fill="#eb7878"/>
<circle cx="235" cy="601.7" r="1.43" fill="#eb7878"/>
<circle cx="238.5" cy="603.3" r="1.43" fill="#eb7878"/>
<circle cx="232" cy="610.1" r="1.43" fill="#eb7878"/>
<circle cx="263.7" cy="667.4" r="1.12" fill="#eb7878"/>
<circle cx="296.3" cy="682.3" r="2.04" fill="#eb7878"/>
<circle cx="291.5" cy="665.2" r="1.33" fill="#eb7878"/>
<circle cx="283.9" cy="574.4" r="1.53" fill="#eb7878"/>
<circle cx="274" cy="572.2" r="2.04" fill="#eb7878"/>
<circle cx="246.6" cy="571.1" r="2.24" fill="#eb7878"/>
<circle cx="240" cy="573.3" r="1.63" fill="#eb7878"/>
<circle cx="257.6" cy="572.2" r="1.63" fill="#eb7878"/>
<circle cx="249.9" cy="572.2" r="1.63" fill="#eb7878"/>
<circle cx="226.9" cy="574.4" r="1.53" fill="#eb7878"/>
<circle cx="222.5" cy="576.6" r="1.53" fill="#eb7878"/>
<circle cx="231.3" cy="581" r="1.53" fill="#eb7878"/>
<circle cx="237.9" cy="584.2" r="2.04" fill="#eb7878"/>
<circle cx="211.2" cy="577.7" r="1.53" fill="#eb7878"/>
<circle cx="211.6" cy="583.1" r="1.53" fill="#eb7878"/>
<circle cx="216" cy="582" r="1.53" fill="#eb7878"/>
<circle cx="255.7" cy="576.8" r="1.63" fill="#eb7878"/>
<circle cx="260.5" cy="578.6" r="2.04" fill="#eb7878"/>
<circle cx="264.1" cy="579.2" r="1.53" fill="#eb7878"/>
<circle cx="252.1" cy="581.6" r="2.24" fill="#eb7878"/>
<circle cx="253.3" cy="584" r="2.04" fill="#eb7878"/>
<circle cx="255.1" cy="586.5" r="1.84" fill="#eb7878"/>
<circle cx="260.5" cy="584" r="2.24" fill="#eb7878"/>
<circle cx="265.9" cy="582.2" r="1.84" fill="#eb7878"/>
<circle cx="267.7" cy="582.2" r="1.53" fill="#eb7878"/>
<circle cx="274.4" cy="585.9" r="1.84" fill="#eb7878"/>
<circle cx="278.6" cy="581.6" r="2.04" fill="#eb7878"/>
<circle cx="281" cy="580.4" r="2.04" fill="#eb7878"/>
<circle cx="291.5" cy="583.1" r="1.53" fill="#eb7878"/>
<circle cx="242.4" cy="583.4" r="1.84" fill="#eb7878"/>
<circle cx="247.2" cy="591.9" r="1.84" fill="#eb7878"/>
<circle cx="247.8" cy="594.9" r="2.04" fill="#eb7878"/>
<circle cx="243.6" cy="589.5" r="1.63" fill="#eb7878"/>
<circle cx="266.5" cy="587.7" r="1.53" fill="#eb7878"/>
<circle cx="268.3" cy="590.7" r="1.53" fill="#eb7878"/>
<circle cx="265.3" cy="593.1" r="1.53" fill="#eb7878"/>
<circle cx="272" cy="590.7" r="1.84" fill="#eb7878"/>
<circle cx="258.1" cy="590.1" r="1.84" fill="#eb7878"/>
<circle cx="260.5" cy="594.3" r="1.84" fill="#eb7878"/>
<circle cx="261.7" cy="596.1" r="1.84" fill="#eb7878"/>
<circle cx="255.7" cy="600.3" r="2.04" fill="#eb7878"/>
<circle cx="257.5" cy="600.9" r="2.04" fill="#eb7878"/>
<circle cx="254.5" cy="603.3" r="1.84" fill="#eb7878"/>
<circle cx="258.7" cy="605.8" r="2.24" fill="#eb7878"/>
<circle cx="260.5" cy="606.4" r="2.24" fill="#eb7878"/>
<circle cx="263.5" cy="605.8" r="2.04" fill="#eb7878"/>
<circle cx="265.3" cy="600.3" r="2.04" fill="#eb7878"/>
<circle cx="267.7" cy="604" r="2.04" fill="#eb7878"/>
<circle cx="270.2" cy="601.5" r="2.04" fill="#eb7878"/>
<circle cx="272" cy="601" r="1.84" fill="#eb7878"/>
<circle cx="273.8" cy="599.1" r="2.04" fill="#eb7878"/>
<circle cx="276.2" cy="594.3" r="1.84" fill="#eb7878"/>
<circle cx="278.6" cy="596.1" r="1.84" fill="#eb7878"/>
<circle cx="279.8" cy="597.3" r="1.84" fill="#eb7878"/>
<circle cx="285.2" cy="597.9" r="1.63" fill="#eb7878"/>
<circle cx="272.6" cy="604.6" r="1.84" fill="#eb7878"/>
<circle cx="275" cy="604.6" r="1.84" fill="#eb7878"/>
<circle cx="277.4" cy="605.8" r="2.04" fill="#eb7878"/>
<circle cx="279.8" cy="609.4" r="1.84" fill="#eb7878"/>
<circle cx="281.6" cy="611.2" r="1.84" fill="#eb7878"/>
<circle cx="270.2" cy="610" r="1.84" fill="#eb7878"/>
<circle cx="267.7" cy="609.4" r="1.63" fill="#eb7878"/>
<circle cx="265.3" cy="613.6" r="1.84" fill="#eb7878"/>
<circle cx="285.2" cy="603.3" r="1.53" fill="#eb7878"/>
<circle cx="291.3" cy="603.3" r="1.22" fill="#eb7878"/>
<circle cx="299.7" cy="603.3" r="1.63" fill="#eb7878"/>
<circle cx="289.5" cy="608.8" r="1.53" fill="#eb7878"/>
<circle cx="293.1" cy="609.4" r="1.53" fill="#eb7878"/>
<circle cx="294.9" cy="612.4" r="1.53" fill="#eb7878"/>
<circle cx="297.9" cy="612.4" r="1.53" fill="#eb7878"/>
<circle cx="286.4" cy="613.6" r="1.33" fill="#eb7878"/>
<circle cx="290.7" cy="611.2" r="1.22" fill="#eb7878"/>
<circle cx="281" cy="614.8" r="1.53" fill="#eb7878"/>
<circle cx="283.4" cy="617.2" r="1.53" fill="#eb7878"/>
<circle cx="248.4" cy="617" r="2.04" fill="#eb7878"/>
<circle cx="256.9" cy="616" r="1.84" fill="#eb7878"/>
<circle cx="261.1" cy="617.2" r="1.53" fill="#eb7878"/>
<circle cx="262.9" cy="619.6" r="1.84" fill="#eb7878"/>
<circle cx="264.7" cy="620.8" r="1.84" fill="#eb7878"/>
<circle cx="256.3" cy="622" r="1.84" fill="#eb7878"/>
<circle cx="260.5" cy="623" r="1.63" fill="#eb7878"/>
<circle cx="241.2" cy="623" r="1.63" fill="#eb7878"/>
<circle cx="273.2" cy="618.4" r="1.84" fill="#eb7878"/>
<circle cx="275" cy="618.4" r="1.84" fill="#eb7878"/>
<circle cx="273.2" cy="624.5" r="2.04" fill="#eb7878"/>
<circle cx="274.4" cy="623.9" r="2.04" fill="#eb7878"/>
<circle cx="272.6" cy="626.3" r="2.04" fill="#eb7878"/>
<circle cx="280.4" cy="623.9" r="2.04" fill="#eb7878"/>
<circle cx="287.1" cy="621.4" r="1.84" fill="#eb7878"/>
<circle cx="291.9" cy="620.2" r="1.53" fill="#eb7878"/>
<circle cx="296.7" cy="623.9" r="1.63" fill="#eb7878"/>
<circle cx="289.5" cy="624.5" r="1.84" fill="#eb7878"/>
<circle cx="293.1" cy="625.1" r="1.63" fill="#eb7878"/>
<circle cx="283.4" cy="627.5" r="1.53" fill="#eb7878"/>
<circle cx="288.3" cy="628.1" r="1.63" fill="#eb7878"/>
<circle cx="264.7" cy="630.5" r="1.84" fill="#eb7878"/>
<circle cx="267.1" cy="630.5" r="1.84" fill="#eb7878"/>
<circle cx="269.6" cy="630.7" r="1.84" fill="#eb7878"/>
<circle cx="271.4" cy="630.7" r="1.84" fill="#eb7878"/>
<circle cx="276.8" cy="632.3" r="1.84" fill="#eb7878"/>
<circle cx="280.4" cy="631.7" r="1.63" fill="#eb7878"/>
<circle cx="283.4" cy="631.7" r="1.63" fill="#eb7878"/>
<circle cx="285.8" cy="630.5" r="1.63" fill="#eb7878"/>
<circle cx="247.2" cy="630.9" r="1.63" fill="#eb7878"/>
<circle cx="265.3" cy="635.3" r="1.63" fill="#eb7878"/>
<circle cx="264.1" cy="638.3" r="1.84" fill="#eb7878"/>
<circle cx="270.8" cy="635.9" r="1.33" fill="#eb7878"/>
<circle cx="278" cy="637.7" r="1.43" fill="#eb7878"/>
<circle cx="285.8" cy="634.7" r="1.84" fill="#eb7878"/>
<circle cx="286.4" cy="636.5" r="1.84" fill="#eb7878"/>
<circle cx="287.6" cy="637.7" r="1.63" fill="#eb7878"/>
<circle cx="293.1" cy="635.9" r="1.84" fill="#eb7878"/>
<circle cx="294.9" cy="637.1" r="1.84" fill="#eb7878"/>
<circle cx="296.7" cy="637.7" r="1.63" fill="#eb7878"/>
<circle cx="299.1" cy="634.7" r="1.33" fill="#eb7878"/>
<circle cx="303.3" cy="634.7" r="1.33" fill="#eb7878"/>
<circle cx="284.6" cy="640.7" r="1.84" fill="#eb7878"/>
<circle cx="283.4" cy="643.2" r="1.84" fill="#eb7878"/>
<circle cx="290.7" cy="642" r="1.63" fill="#eb7878"/>
<circle cx="295.5" cy="644.4" r="1.84" fill="#eb7878"/>
<circle cx="293.7" cy="646.2" r="1.63" fill="#eb7878"/>
<circle cx="290.1" cy="647.4" r="1.63" fill="#eb7878"/>
<circle cx="279.2" cy="646.8" r="1.63" fill="#eb7878"/>
<circle cx="282.2" cy="648.6" r="1.63" fill="#eb7878"/>
<circle cx="274.4" cy="650.4" r="1.84" fill="#eb7878"/>
<circle cx="288.3" cy="651.6" r="1.33" fill="#eb7878"/>
<circle cx="290.7" cy="651.6" r="1.33" fill="#eb7878"/>
<circle cx="300.9" cy="646.8" r="1.33" fill="#eb7878"/>
<circle cx="288.3" cy="655.2" r="1.33" fill="#eb7878"/>
<circle cx="291.9" cy="658.2" r="1.33" fill="#eb7878"/>
<path d="M183.6,545.8 C186.97,547.82 196.78,553.7 203.8,557.9 C210.82,562.1 220.5,567.9 225.7,571 C230.9,574.1 232.62,575.03 235,576.5 C237.38,577.97 237.97,578.95 240,579.8 C242.03,580.65 244.78,580.48 247.2,581.6 C249.62,582.72 252.08,584.68 254.5,586.5 C256.92,588.32 259.28,590.5 261.7,592.5 C264.12,594.5 266.58,596.38 269,598.5 C271.42,600.62 273.8,602.88 276.2,605.2 C278.6,607.52 280.98,610 283.4,612.4 C285.82,614.8 288.28,617.38 290.7,619.6 C293.12,621.82 295.9,624.28 297.9,625.7 C299.9,627.12 301.9,627.7 302.7,628.1 L302.7,657 C301.9,653.98 299.9,643.52 297.9,638.9 C295.9,634.28 293.12,632.12 290.7,629.3 C288.28,626.48 285.82,624.42 283.4,622 C280.98,619.58 278.6,617.1 276.2,614.8 C273.8,612.5 271.42,610.32 269,608.2 C266.58,606.08 264.12,604.12 261.7,602.1 C259.28,600.08 256.92,597.8 254.5,596.1 C252.08,594.4 249.62,592.8 247.2,591.9 C244.78,591 241.92,591.07 240,590.7 C238.08,590.33 238.25,590.02 235.7,589.7 C233.15,589.38 228.35,588.98 224.7,588.8 C221.05,588.62 217.45,588.08 213.8,588.6 C210.15,589.12 206.45,590.25 202.8,591.9 C199.15,593.55 195.1,596.13 191.9,598.5 C188.7,600.87 184.98,604.83 183.6,606.1 Z" fill="#999999" fill-opacity="0.4"/>
<path d="M183.6,576.3 C185,576.35 188.8,576.4 192,576.6 C195.2,576.8 199.17,577.1 202.8,577.5 C206.43,577.9 210.15,578.33 213.8,579 C217.45,579.67 221.17,580.67 224.7,581.5 C228.23,582.33 232.45,583.37 235,584 C237.55,584.63 238.17,584.88 240,585.3 C241.83,585.72 243.98,585.6 246,586.5 C248.02,587.4 250.08,589.1 252.1,590.7 C254.12,592.3 256.1,594.2 258.1,596.1 C260.1,598 262.08,600.18 264.1,602.1 C266.12,604.02 268.18,605.88 270.2,607.6 C272.22,609.32 274.2,610.6 276.2,612.4 C278.2,614.2 280.18,616.38 282.2,618.4 C284.22,620.42 286.28,622.48 288.3,624.5 C290.32,626.52 292.6,628.58 294.3,630.5 C296,632.42 297.1,633.98 298.5,636 C299.9,638.02 302,641.5 302.7,642.6" fill="none" stroke="#3d8fd6" stroke-width="0.9" stroke-linecap="round"/>
<circle cx="395.75" cy="505" r="1.02" fill="#eb7878"/>
<circle cx="418.25" cy="512.5" r="1.63" fill="#eb7878"/>
<circle cx="425.75" cy="521.25" r="1.63" fill="#eb7878"/>
<circle cx="421.5" cy="539.5" r="1.63" fill="#eb7878"/>
<circle cx="422.1" cy="682.3" r="1.84" fill="#eb7878"/>
<circle cx="389.3" cy="670.7" r="1.12" fill="#eb7878"/>
<circle cx="393.6" cy="663.7" r="1.22" fill="#eb7878"/>
<circle cx="478" cy="597.6" r="2.24" fill="#eb7878"/>
<circle cx="507.3" cy="598.4" r="2.45" fill="#eb7878"/>
<circle cx="420.8" cy="540" r="1.53" fill="#eb7878"/>
<circle cx="444.6" cy="546.5" r="2.04" fill="#eb7878"/>
<circle cx="405.2" cy="550.5" r="1.63" fill="#eb7878"/>
<circle cx="411.5" cy="550.5" r="1.63" fill="#eb7878"/>
<circle cx="415.4" cy="550.2" r="1.63" fill="#eb7878"/>
<circle cx="400.1" cy="555.3" r="1.33" fill="#eb7878"/>
<circle cx="402.1" cy="557.9" r="1.33" fill="#eb7878"/>
<circle cx="408.9" cy="556.7" r="1.63" fill="#eb7878"/>
<circle cx="410.6" cy="558.7" r="1.63" fill="#eb7878"/>
<circle cx="409.8" cy="561.8" r="1.63" fill="#eb7878"/>
<circle cx="414.9" cy="561.8" r="1.63" fill="#eb7878"/>
<circle cx="396.2" cy="564.7" r="1.22" fill="#eb7878"/>
<circle cx="405.2" cy="565.5" r="1.63" fill="#eb7878"/>
<circle cx="411.1" cy="565.9" r="1.63" fill="#eb7878"/>
<circle cx="422.2" cy="564.3" r="1.63" fill="#eb7878"/>
<circle cx="430.2" cy="563.5" r="2.04" fill="#eb7878"/>
<circle cx="454" cy="562.1" r="2.04" fill="#eb7878"/>
<circle cx="391.6" cy="569.8" r="1.12" fill="#eb7878"/>
<circle cx="397" cy="570.6" r="1.22" fill="#eb7878"/>
<circle cx="400.4" cy="570.6" r="1.33" fill="#eb7878"/>
<circle cx="405.2" cy="573.2" r="1.63" fill="#eb7878"/>
<circle cx="408.9" cy="571.5" r="1.63" fill="#eb7878"/>
<circle cx="412.3" cy="574.9" r="1.63" fill="#eb7878"/>
<circle cx="420" cy="570.3" r="1.63" fill="#eb7878"/>
<circle cx="422.5" cy="569.3" r="1.63" fill="#eb7878"/>
<circle cx="432.7" cy="568.6" r="2.04" fill="#eb7878"/>
<circle cx="434.4" cy="571.5" r="2.04" fill="#eb7878"/>
<circle cx="440.4" cy="571.5" r="2.04" fill="#eb7878"/>
<circle cx="446.7" cy="568.9" r="2.04" fill="#eb7878"/>
<circle cx="452.3" cy="572.3" r="2.04" fill="#eb7878"/>
<circle cx="464.2" cy="572" r="2.04" fill="#eb7878"/>
<circle cx="386" cy="577.8" r="1.02" fill="#eb7878"/>
<circle cx="397" cy="577.4" r="1.22" fill="#eb7878"/>
<circle cx="400.4" cy="577.1" r="1.33" fill="#eb7878"/>
<circle cx="403.8" cy="580.5" r="1.33" fill="#eb7878"/>
<circle cx="405.5" cy="578" r="1.63" fill="#eb7878"/>
<circle cx="408.9" cy="580.8" r="1.63" fill="#eb7878"/>
<circle cx="413.2" cy="580.8" r="1.63" fill="#eb7878"/>
<circle cx="416.6" cy="577.4" r="1.53" fill="#eb7878"/>
<circle cx="421.7" cy="578.3" r="1.63" fill="#eb7878"/>
<circle cx="426.8" cy="574.4" r="1.73" fill="#eb7878"/>
<circle cx="437.8" cy="576.6" r="2.04" fill="#eb7878"/>
<circle cx="387.7" cy="585.6" r="1.02" fill="#eb7878"/>
<circle cx="391.6" cy="585.1" r="1.12" fill="#eb7878"/>
<circle cx="397" cy="586.8" r="1.22" fill="#eb7878"/>
<circle cx="402.1" cy="587.6" r="1.33" fill="#eb7878"/>
<circle cx="405.5" cy="586.5" r="1.63" fill="#eb7878"/>
<circle cx="408.1" cy="591" r="1.63" fill="#eb7878"/>
<circle cx="414" cy="585.9" r="1.63" fill="#eb7878"/>
<circle cx="415.7" cy="590.2" r="1.63" fill="#eb7878"/>
<circle cx="422.5" cy="586.8" r="1.84" fill="#eb7878"/>
<circle cx="429.3" cy="583.9" r="1.84" fill="#eb7878"/>
<circle cx="437.8" cy="582.5" r="2.04" fill="#eb7878"/>
<circle cx="445.5" cy="584.6" r="2.04" fill="#eb7878"/>
<circle cx="454.8" cy="580.8" r="2.04" fill="#eb7878"/>
<circle cx="461.3" cy="580.8" r="2.04" fill="#eb7878"/>
<circle cx="392.8" cy="591" r="1.12" fill="#eb7878"/>
<circle cx="401.3" cy="594.1" r="1.33" fill="#eb7878"/>
<circle cx="405.5" cy="591" r="1.63" fill="#eb7878"/>
<circle cx="406.4" cy="596.1" r="1.63" fill="#eb7878"/>
<circle cx="414" cy="591" r="1.63" fill="#eb7878"/>
<circle cx="412.3" cy="593.6" r="1.63" fill="#eb7878"/>
<circle cx="415.7" cy="595.3" r="1.63" fill="#eb7878"/>
<circle cx="419.1" cy="599.5" r="1.53" fill="#eb7878"/>
<circle cx="407.2" cy="600.4" r="1.63" fill="#eb7878"/>
<circle cx="387.7" cy="598.7" r="1.02" fill="#eb7878"/>
<circle cx="394.5" cy="598.7" r="1.12" fill="#eb7878"/>
<circle cx="397" cy="601.2" r="1.22" fill="#eb7878"/>
<circle cx="400.7" cy="603.3" r="1.33" fill="#eb7878"/>
<circle cx="438.7" cy="598.7" r="2.04" fill="#eb7878"/>
<circle cx="442.9" cy="594.4" r="2.04" fill="#eb7878"/>
<circle cx="423.4" cy="603.8" r="1.84" fill="#eb7878"/>
<circle cx="388.5" cy="604.6" r="1.02" fill="#eb7878"/>
<circle cx="391.9" cy="607.2" r="1.12" fill="#eb7878"/>
<circle cx="395.3" cy="609.7" r="1.22" fill="#eb7878"/>
<circle cx="397" cy="614.5" r="1.22" fill="#eb7878"/>
<circle cx="406.4" cy="608" r="1.63" fill="#eb7878"/>
<circle cx="405.5" cy="612.3" r="1.63" fill="#eb7878"/>
<circle cx="408.1" cy="614.8" r="1.63" fill="#eb7878"/>
<circle cx="411.5" cy="615.7" r="1.63" fill="#eb7878"/>
<circle cx="414" cy="619.9" r="1.63" fill="#eb7878"/>
<circle cx="415.7" cy="609.7" r="1.53" fill="#eb7878"/>
<circle cx="417.1" cy="608" r="1.53" fill="#eb7878"/>
<circle cx="412.3" cy="623.3" r="1.63" fill="#eb7878"/>
<circle cx="414.9" cy="621.5" r="1.63" fill="#eb7878"/>
<circle cx="427.6" cy="611.4" r="1.84" fill="#eb7878"/>
<circle cx="428.5" cy="614.8" r="2.04" fill="#eb7878"/>
<circle cx="435.3" cy="612.3" r="2.04" fill="#eb7878"/>
<circle cx="435.3" cy="619.1" r="2.04" fill="#eb7878"/>
<circle cx="427.6" cy="622.8" r="1.84" fill="#eb7878"/>
<circle cx="452.3" cy="622.8" r="2.24" fill="#eb7878"/>
<circle cx="390.2" cy="619.9" r="1.12" fill="#eb7878"/>
<circle cx="396.2" cy="620.8" r="1.22" fill="#eb7878"/>
<circle cx="402.1" cy="624.2" r="1.33" fill="#eb7878"/>
<circle cx="408.6" cy="624.2" r="1.63" fill="#eb7878"/>
<circle cx="391.9" cy="627.6" r="1.12" fill="#eb7878"/>
<circle cx="398.7" cy="628.4" r="1.33" fill="#eb7878"/>
<circle cx="405.5" cy="629.3" r="1.63" fill="#eb7878"/>
<circle cx="407.2" cy="632.7" r="1.63" fill="#eb7878"/>
<circle cx="404.7" cy="631.8" r="1.63" fill="#eb7878"/>
<circle cx="390.2" cy="636.1" r="1.12" fill="#eb7878"/>
<circle cx="389.4" cy="641.2" r="1.12" fill="#eb7878"/>
<circle cx="391.9" cy="642" r="1.12" fill="#eb7878"/>
<circle cx="397.9" cy="642.9" r="1.22" fill="#eb7878"/>
<circle cx="402.1" cy="644.6" r="1.33" fill="#eb7878"/>
<circle cx="403.8" cy="640.3" r="1.33" fill="#eb7878"/>
<circle cx="414.9" cy="639.5" r="1.63" fill="#eb7878"/>
<circle cx="419.1" cy="636.9" r="1.63" fill="#eb7878"/>
<circle cx="424.2" cy="633.5" r="1.73" fill="#eb7878"/>
<circle cx="417.4" cy="642.9" r="1.73" fill="#eb7878"/>
<circle cx="419.5" cy="641.5" r="1.63" fill="#eb7878"/>
<circle cx="393.6" cy="644.6" r="1.12" fill="#eb7878"/>
<circle cx="404" cy="606" r="1.53" fill="#eb7878"/>
<circle cx="407" cy="603" r="1.63" fill="#eb7878"/>
<circle cx="410" cy="605" r="1.63" fill="#eb7878"/>
<circle cx="412" cy="607" r="1.63" fill="#eb7878"/>
<circle cx="409" cy="610" r="1.63" fill="#eb7878"/>
<circle cx="413" cy="612" r="1.63" fill="#eb7878"/>
<circle cx="416" cy="613" r="1.63" fill="#eb7878"/>
<circle cx="411" cy="618" r="1.63" fill="#eb7878"/>
<circle cx="414" cy="616" r="1.63" fill="#eb7878"/>
<circle cx="417" cy="617" r="1.63" fill="#eb7878"/>
<circle cx="406" cy="617" r="1.53" fill="#eb7878"/>
<circle cx="409" cy="621" r="1.63" fill="#eb7878"/>
<circle cx="413" cy="626" r="1.63" fill="#eb7878"/>
<circle cx="416" cy="624" r="1.63" fill="#eb7878"/>
<circle cx="403" cy="618" r="1.43" fill="#eb7878"/>
<circle cx="418" cy="611" r="1.63" fill="#eb7878"/>
<circle cx="420" cy="605" r="1.63" fill="#eb7878"/>
<circle cx="404" cy="612" r="1.53" fill="#eb7878"/>
<path d="M386,593.6 C387.83,592.88 392.33,591 397,589.3 C401.67,587.6 408.33,585.52 414,583.4 C419.67,581.28 425.33,578.73 431,576.6 C436.67,574.47 441.5,572.3 448,570.6 C454.5,568.9 464.67,567.58 470,566.4 C475.33,565.22 476.17,564.9 480,563.5 C483.83,562.1 488.5,559.83 493,558 C497.5,556.17 504.67,553.42 507,552.5 L507,650.5 C506.5,648.75 504.93,643.47 504,640 C503.07,636.53 502.73,633.03 501.4,629.7 C500.07,626.37 497.83,622.92 496,620 C494.17,617.08 492.23,614.37 490.4,612.2 C488.57,610.03 486.82,608.45 485,607 C483.18,605.55 482,605.03 479.5,603.5 C477,601.97 473.25,599.3 470,597.8 C466.75,596.3 463.67,595.35 460,594.5 C456.33,593.65 452.83,592.43 448,592.7 C443.17,592.97 436.67,594.82 431,596.1 C425.33,597.38 418.82,598.98 414,600.4 C409.18,601.82 404.93,602.77 402.1,604.6 C399.27,606.43 398.7,609.13 397,611.4 C395.3,613.67 393.73,615.08 391.9,618.2 C390.07,621.32 386.98,628.12 386,630.1 Z" fill="#999999" fill-opacity="0.4"/>
<path d="M386,612.3 C387.27,611.58 391.48,609.57 393.6,608 C395.72,606.43 397.13,604.73 398.7,602.9 C400.27,601.07 401.45,598.27 403,597 C404.55,595.73 406.17,595.87 408,595.3 C409.83,594.73 410.17,594.73 414,593.6 C417.83,592.47 425.33,590.35 431,588.5 C436.67,586.65 443.47,583.78 448,582.5 C452.53,581.22 454.53,580.93 458.2,580.8 C461.87,580.67 466.45,581.02 470,581.7 C473.55,582.38 476.1,583.47 479.5,584.9 C482.9,586.33 487.32,588.7 490.4,590.3 C493.48,591.9 495.25,592.75 498,594.5 C500.75,596.25 505.42,599.75 506.9,600.8" fill="none" stroke="#3d8fd6" stroke-width="0.9" stroke-linecap="round"/>
<circle cx="608.5" cy="504.9" r="1.22" fill="#eb7878"/>
<circle cx="594.7" cy="511.9" r="1.73" fill="#eb7878"/>
<circle cx="589.5" cy="521.3" r="1.84" fill="#eb7878"/>
<circle cx="556.6" cy="539.5" r="1.84" fill="#eb7878"/>
<circle cx="595" cy="546.1" r="2.04" fill="#eb7878"/>
<circle cx="568.7" cy="550.4" r="1.63" fill="#eb7878"/>
<circle cx="573.5" cy="550.2" r="1.63" fill="#eb7878"/>
<circle cx="580" cy="549.8" r="1.63" fill="#eb7878"/>
<circle cx="596.5" cy="555" r="1.53" fill="#eb7878"/>
<circle cx="605.2" cy="556.3" r="1.53" fill="#eb7878"/>
<circle cx="610.3" cy="557.9" r="1.43" fill="#eb7878"/>
<circle cx="570.2" cy="558.3" r="1.63" fill="#eb7878"/>
<circle cx="573.1" cy="562.3" r="1.84" fill="#eb7878"/>
<circle cx="580" cy="562.3" r="1.63" fill="#eb7878"/>
<circle cx="562.6" cy="562.3" r="1.53" fill="#eb7878"/>
<circle cx="546.6" cy="561.6" r="1.63" fill="#eb7878"/>
<circle cx="594.3" cy="564.4" r="1.53" fill="#eb7878"/>
<circle cx="597.1" cy="561.8" r="2.04" fill="#eb7878"/>
<circle cx="590.6" cy="565.5" r="1.53" fill="#eb7878"/>
<circle cx="606.3" cy="565.5" r="1.53" fill="#eb7878"/>
<circle cx="610.7" cy="568.4" r="2.04" fill="#eb7878"/>
<circle cx="625" cy="564" r="2.04" fill="#eb7878"/>
<circle cx="629.3" cy="569.9" r="1.63" fill="#eb7878"/>
<circle cx="631.5" cy="569.3" r="2.04" fill="#eb7878"/>
<circle cx="627.1" cy="570.6" r="1.63" fill="#eb7878"/>
<circle cx="635.9" cy="573.9" r="1.63" fill="#eb7878"/>
<circle cx="582.3" cy="568.4" r="2.04" fill="#eb7878"/>
<circle cx="560.4" cy="571" r="1.53" fill="#eb7878"/>
<circle cx="566.9" cy="573.2" r="1.53" fill="#eb7878"/>
<circle cx="575.7" cy="571.5" r="1.63" fill="#eb7878"/>
<circle cx="581.2" cy="574.3" r="2.04" fill="#eb7878"/>
<circle cx="589.9" cy="573.6" r="2.04" fill="#eb7878"/>
<circle cx="602" cy="571.5" r="2.24" fill="#eb7878"/>
<circle cx="604.2" cy="573.2" r="2.24" fill="#eb7878"/>
<circle cx="610.7" cy="573.2" r="2.04" fill="#eb7878"/>
<circle cx="615" cy="571.5" r="1.63" fill="#eb7878"/>
<circle cx="617.3" cy="574.3" r="1.63" fill="#eb7878"/>
<circle cx="612.9" cy="577.6" r="2.04" fill="#eb7878"/>
<circle cx="606.3" cy="576.5" r="1.63" fill="#eb7878"/>
<circle cx="623.9" cy="577.6" r="1.84" fill="#eb7878"/>
<circle cx="626" cy="579.8" r="1.63" fill="#eb7878"/>
<circle cx="628.2" cy="583.1" r="2.04" fill="#eb7878"/>
<circle cx="533.6" cy="578.7" r="1.73" fill="#eb7878"/>
<circle cx="561.9" cy="575.4" r="1.53" fill="#eb7878"/>
<circle cx="570.2" cy="580.9" r="2.04" fill="#eb7878"/>
<circle cx="585.5" cy="579.8" r="1.53" fill="#eb7878"/>
<circle cx="592.1" cy="579.8" r="1.63" fill="#eb7878"/>
<circle cx="597.6" cy="583.1" r="2.04" fill="#eb7878"/>
<circle cx="598.7" cy="585.7" r="2.04" fill="#eb7878"/>
<circle cx="576.8" cy="585.2" r="1.53" fill="#eb7878"/>
<circle cx="579" cy="587.4" r="1.53" fill="#eb7878"/>
<circle cx="586.6" cy="586.3" r="1.84" fill="#eb7878"/>
<circle cx="580" cy="590.1" r="1.53" fill="#eb7878"/>
<circle cx="586.6" cy="591.8" r="1.53" fill="#eb7878"/>
<circle cx="593.2" cy="588.5" r="1.53" fill="#eb7878"/>
<circle cx="594.3" cy="592.9" r="1.53" fill="#eb7878"/>
<circle cx="606.3" cy="597.3" r="2.55" fill="#eb7878"/>
<circle cx="608.5" cy="598.4" r="2.55" fill="#eb7878"/>
<circle cx="611.8" cy="592.9" r="1.63" fill="#eb7878"/>
<circle cx="614" cy="589.6" r="1.63" fill="#eb7878"/>
<circle cx="617.3" cy="592.9" r="2.04" fill="#eb7878"/>
<circle cx="619.5" cy="588.5" r="1.63" fill="#eb7878"/>
<circle cx="623.9" cy="592.9" r="1.63" fill="#eb7878"/>
<circle cx="630.4" cy="591.2" r="1.53" fill="#eb7878"/>
<circle cx="636.6" cy="591.2" r="1.53" fill="#eb7878"/>
<circle cx="641.4" cy="594" r="1.43" fill="#eb7878"/>
<circle cx="650.1" cy="594" r="1.43" fill="#eb7878"/>
<circle cx="643.6" cy="597.3" r="1.43" fill="#eb7878"/>
<circle cx="563.4" cy="612.2" r="1.73" fill="#eb7878"/>
<circle cx="573.2" cy="645.7" r="1.63" fill="#eb7878"/>
<circle cx="584.2" cy="643.9" r="1.63" fill="#eb7878"/>
<circle cx="582.4" cy="604.1" r="1.63" fill="#eb7878"/>
<circle cx="591.8" cy="620.5" r="1.73" fill="#eb7878"/>
<circle cx="598.2" cy="628.6" r="1.73" fill="#eb7878"/>
<circle cx="599.3" cy="614.6" r="2.04" fill="#eb7878"/>
<circle cx="614.6" cy="670.4" r="1.12" fill="#eb7878"/>
<circle cx="643.7" cy="663.6" r="1.22" fill="#eb7878"/>
<circle cx="648.1" cy="682.3" r="2.04" fill="#eb7878"/>
<circle cx="625.1" cy="644.6" r="1.84" fill="#eb7878"/>
<circle cx="633.4" cy="642.8" r="1.84" fill="#eb7878"/>
<circle cx="630.1" cy="639.6" r="1.84" fill="#eb7878"/>
<circle cx="641.5" cy="644.6" r="1.53" fill="#eb7878"/>
<circle cx="642.6" cy="642.4" r="1.53" fill="#eb7878"/>
<circle cx="647" cy="641.3" r="1.53" fill="#eb7878"/>
<circle cx="649.2" cy="639.1" r="1.53" fill="#eb7878"/>
<circle cx="651.4" cy="640.9" r="1.43" fill="#eb7878"/>
<circle cx="639.3" cy="638" r="1.53" fill="#eb7878"/>
<circle cx="636" cy="633.6" r="2.04" fill="#eb7878"/>
<circle cx="635" cy="631.5" r="1.63" fill="#eb7878"/>
<circle cx="638.2" cy="630.4" r="1.53" fill="#eb7878"/>
<circle cx="629.5" cy="633.6" r="1.53" fill="#eb7878"/>
<circle cx="645.9" cy="636.9" r="1.53" fill="#eb7878"/>
<circle cx="647" cy="631.5" r="1.53" fill="#eb7878"/>
<circle cx="654.7" cy="627.1" r="1.43" fill="#eb7878"/>
<circle cx="651.4" cy="620.5" r="1.43" fill="#eb7878"/>
<circle cx="643.7" cy="618.3" r="1.53" fill="#eb7878"/>
<circle cx="639.3" cy="623.8" r="1.53" fill="#eb7878"/>
<circle cx="633.9" cy="621.6" r="1.63" fill="#eb7878"/>
<circle cx="629.5" cy="618.3" r="1.63" fill="#eb7878"/>
<circle cx="626.2" cy="622.7" r="1.63" fill="#eb7878"/>
<circle cx="622.9" cy="623.8" r="2.04" fill="#eb7878"/>
<circle cx="619.6" cy="620.5" r="1.63" fill="#eb7878"/>
<circle cx="616.3" cy="622.7" r="2.04" fill="#eb7878"/>
<circle cx="616.3" cy="628.6" r="2.04" fill="#eb7878"/>
<circle cx="620.7" cy="626" r="1.63" fill="#eb7878"/>
<circle cx="615.2" cy="616.1" r="1.63" fill="#eb7878"/>
<circle cx="620.7" cy="613.9" r="2.04" fill="#eb7878"/>
<circle cx="622.9" cy="610.7" r="1.63" fill="#eb7878"/>
<circle cx="625.1" cy="607.4" r="1.63" fill="#eb7878"/>
<circle cx="627.3" cy="605.2" r="1.63" fill="#eb7878"/>
<circle cx="630.6" cy="600.8" r="1.63" fill="#eb7878"/>
<circle cx="632.8" cy="599.7" r="1.63" fill="#eb7878"/>
<circle cx="631.7" cy="615" r="1.63" fill="#eb7878"/>
<circle cx="637.1" cy="613.9" r="1.63" fill="#eb7878"/>
<circle cx="639.3" cy="619.4" r="1.63" fill="#eb7878"/>
<circle cx="642.6" cy="606.3" r="1.53" fill="#eb7878"/>
<circle cx="645.9" cy="601.9" r="1.53" fill="#eb7878"/>
<circle cx="648.1" cy="606.3" r="1.53" fill="#eb7878"/>
<circle cx="650.3" cy="613.9" r="2.04" fill="#eb7878"/>
<circle cx="640.4" cy="598.6" r="1.53" fill="#eb7878"/>
<circle cx="643.7" cy="594.2" r="1.53" fill="#eb7878"/>
<circle cx="651.4" cy="594.2" r="1.43" fill="#eb7878"/>
<circle cx="637.1" cy="590.9" r="1.53" fill="#eb7878"/>
<circle cx="631.7" cy="590.9" r="1.53" fill="#eb7878"/>
<circle cx="628.4" cy="583.3" r="2.04" fill="#eb7878"/>
<circle cx="622.9" cy="580" r="1.63" fill="#eb7878"/>
<circle cx="627.3" cy="587.7" r="1.63" fill="#eb7878"/>
<circle cx="618.5" cy="596.4" r="1.63" fill="#eb7878"/>
<circle cx="612" cy="597.5" r="1.63" fill="#eb7878"/>
<circle cx="609.8" cy="598.6" r="2.55" fill="#eb7878"/>
<circle cx="606.5" cy="598.6" r="2.55" fill="#eb7878"/>
<circle cx="607.6" cy="601.9" r="1.63" fill="#eb7878"/>
<circle cx="614.2" cy="600.8" r="1.63" fill="#eb7878"/>
<circle cx="616.3" cy="604.1" r="1.63" fill="#eb7878"/>
<circle cx="620.7" cy="604.1" r="1.63" fill="#eb7878"/>
<circle cx="607.6" cy="609.6" r="2.04" fill="#eb7878"/>
<circle cx="612" cy="607.4" r="1.63" fill="#eb7878"/>
<circle cx="608.7" cy="612.8" r="2.04" fill="#eb7878"/>
<circle cx="613.1" cy="613.9" r="1.63" fill="#eb7878"/>
<circle cx="616.3" cy="616.1" r="1.63" fill="#eb7878"/>
<circle cx="598.8" cy="619.4" r="1.63" fill="#eb7878"/>
<circle cx="570.4" cy="581.8" r="2.04" fill="#eb7878"/>
<circle cx="585.7" cy="587.7" r="2.04" fill="#eb7878"/>
<circle cx="589" cy="586.6" r="1.63" fill="#eb7878"/>
<circle cx="579.1" cy="586.6" r="1.63" fill="#eb7878"/>
<circle cx="580.2" cy="589.9" r="1.63" fill="#eb7878"/>
<circle cx="585.7" cy="595.3" r="1.63" fill="#eb7878"/>
<circle cx="590" cy="594.2" r="1.63" fill="#eb7878"/>
<circle cx="594.4" cy="597.5" r="1.63" fill="#eb7878"/>
<circle cx="590" cy="600.8" r="1.63" fill="#eb7878"/>
<circle cx="592.3" cy="601.9" r="1.63" fill="#eb7878"/>
<circle cx="576.9" cy="584.4" r="1.63" fill="#eb7878"/>
<circle cx="601" cy="586.6" r="1.63" fill="#eb7878"/>
<circle cx="597.7" cy="584.4" r="2.04" fill="#eb7878"/>
<circle cx="607.6" cy="588.8" r="1.63" fill="#eb7878"/>
<circle cx="612" cy="589.9" r="2.04" fill="#eb7878"/>
<circle cx="616.3" cy="592" r="1.63" fill="#eb7878"/>
<path d="M533.6,538.2 C535.17,539.25 539.63,542.32 543,544.5 C546.37,546.68 550.13,548.97 553.8,551.3 C557.47,553.63 561.35,556.13 565,558.5 C568.65,560.87 572.1,563.33 575.7,565.5 C579.3,567.67 582.95,569.48 586.6,571.5 C590.25,573.52 594.87,576.1 597.6,577.6 C600.33,579.1 601.33,579.37 603,580.5 C604.67,581.63 605.93,583.23 607.6,584.4 C609.27,585.57 611.18,586.4 613,587.5 C614.82,588.6 616.67,589.58 618.5,591 C620.33,592.42 622.17,594.37 624,596 C625.83,597.63 627.67,599.22 629.5,600.8 C631.33,602.38 633.18,603.85 635,605.5 C636.82,607.15 638.4,609.03 640.4,610.7 C642.4,612.37 644.62,613.87 647,615.5 C649.38,617.13 653.42,619.67 654.7,620.5 L654.7,651.2 C654.15,648.45 652.85,638.57 651.4,634.7 C649.95,630.83 647.83,630.18 646,628 C644.17,625.82 642.23,623.6 640.4,621.6 C638.57,619.6 636.82,617.82 635,616 C633.18,614.18 631.33,612.53 629.5,610.7 C627.67,608.87 625.83,606.83 624,605 C622.17,603.17 620.33,601.45 618.5,599.7 C616.67,597.95 614.82,596.13 613,594.5 C611.18,592.87 609.43,591.32 607.6,589.9 C605.77,588.48 603.83,587.1 602,586 C600.17,584.9 598.6,583.97 596.6,583.3 C594.6,582.63 591.82,582.37 590,582 C588.18,581.63 588.2,581.43 585.7,581.1 C583.2,580.77 578.65,579.88 575,580 C571.35,580.12 567.5,580.88 563.8,581.8 C560.1,582.72 556.45,583.8 552.8,585.5 C549.15,587.2 545.1,589.45 541.9,592 C538.7,594.55 534.98,599.33 533.6,600.8 Z" fill="#999999" fill-opacity="0.4"/>
<path d="M533.6,569.3 C536.97,569.58 546.78,569.98 553.8,571 C560.82,572.02 569.67,574.15 575.7,575.4 C581.73,576.65 586.35,577.73 590,578.5 C593.65,579.27 595.4,579.02 597.6,580 C599.8,580.98 601.75,583.4 603.2,584.4 C604.65,585.4 605.17,585.07 606.3,586 C607.43,586.93 608.68,588.45 610,590 C611.32,591.55 612.62,593.72 614.2,595.3 C615.78,596.88 617.68,598.03 619.5,599.5 C621.32,600.97 623.27,602.43 625.1,604.1 C626.93,605.77 628.68,607.68 630.5,609.5 C632.32,611.32 634.17,613.17 636,615 C637.83,616.83 639.67,618.67 641.5,620.5 C643.33,622.33 645.42,624.25 647,626 C648.58,627.75 649.72,629.37 651,631 C652.28,632.63 654.08,635 654.7,635.8" fill="none" stroke="#3d8fd6" stroke-width="0.9" stroke-linecap="round"/>
<line x1="29.8" y1="496.25" x2="29.8" y2="691.6" stroke="#555" stroke-width="1"/>
<line x1="29.3" y1="691.1" x2="160.6" y2="691.1" stroke="#555" stroke-width="1"/>
<line x1="177.8" y1="496.1" x2="177.8" y2="691.4" stroke="#555" stroke-width="1"/>
<line x1="177.3" y1="690.9" x2="308.6" y2="690.9" stroke="#555" stroke-width="1"/>
<line x1="380" y1="496.25" x2="380" y2="691.15" stroke="#777" stroke-width="1.1"/>
<line x1="379.45" y1="690.6" x2="512.8" y2="690.6" stroke="#777" stroke-width="1.1"/>
<line x1="527.8" y1="496.6" x2="527.8" y2="691.5" stroke="#555" stroke-width="1"/>
<line x1="527.3" y1="691" x2="660.1" y2="691" stroke="#555" stroke-width="1"/>
<line x1="28.5" y1="504.5" x2="29.8" y2="504.5" stroke="#555" stroke-width="0.5"/>
<text x="28" y="505.3" font-size="2.9" fill="#222" text-anchor="end" dominant-baseline="central" stroke="#222" stroke-width="0.12">2.5</text>
<line x1="28.5" y1="564.25" x2="29.8" y2="564.25" stroke="#555" stroke-width="0.5"/>
<text x="28" y="565.05" font-size="2.9" fill="#222" text-anchor="end" dominant-baseline="central" stroke="#222" stroke-width="0.12">0.0</text>
<line x1="28.5" y1="623.3" x2="29.8" y2="623.3" stroke="#555" stroke-width="0.5"/>
<text x="28" y="624.1" font-size="2.9" fill="#222" text-anchor="end" dominant-baseline="central" stroke="#222" stroke-width="0.12">-2.5</text>
<line x1="28.5" y1="682.2" x2="29.8" y2="682.2" stroke="#555" stroke-width="0.5"/>
<text x="28" y="683" font-size="2.9" fill="#222" text-anchor="end" dominant-baseline="central" stroke="#222" stroke-width="0.12">-5.0</text>
<line x1="176.5" y1="504.9" x2="177.8" y2="504.9" stroke="#555" stroke-width="0.5"/>
<text x="176" y="505.7" font-size="2.9" fill="#222" text-anchor="end" dominant-baseline="central" stroke="#222" stroke-width="0.12">2.5</text>
<line x1="176.5" y1="564" x2="177.8" y2="564" stroke="#555" stroke-width="0.5"/>
<text x="176" y="564.8" font-size="2.9" fill="#222" text-anchor="end" dominant-baseline="central" stroke="#222" stroke-width="0.12">0.0</text>
<line x1="176.5" y1="623" x2="177.8" y2="623" stroke="#555" stroke-width="0.5"/>
<text x="176" y="623.8" font-size="2.9" fill="#222" text-anchor="end" dominant-baseline="central" stroke="#222" stroke-width="0.12">-2.5</text>
<line x1="176.5" y1="682.3" x2="177.8" y2="682.3" stroke="#555" stroke-width="0.5"/>
<text x="176" y="683.1" font-size="2.9" fill="#222" text-anchor="end" dominant-baseline="central" stroke="#222" stroke-width="0.12">-5.0</text>
<line x1="378.7" y1="506.75" x2="380" y2="506.75" stroke="#555" stroke-width="0.5"/>
<text x="378.2" y="507.55" font-size="2.9" fill="#222" text-anchor="end" dominant-baseline="central" stroke="#222" stroke-width="0.12">2</text>
<line x1="378.7" y1="554.5" x2="380" y2="554.5" stroke="#555" stroke-width="0.5"/>
<text x="378.2" y="555.3" font-size="2.9" fill="#222" text-anchor="end" dominant-baseline="central" stroke="#222" stroke-width="0.12">0</text>
<line x1="378.7" y1="600.8" x2="380" y2="600.8" stroke="#555" stroke-width="0.5"/>
<text x="378.2" y="601.6" font-size="2.9" fill="#222" text-anchor="end" dominant-baseline="central" stroke="#222" stroke-width="0.12">-2</text>
<line x1="378.7" y1="648.4" x2="380" y2="648.4" stroke="#555" stroke-width="0.5"/>
<text x="378.2" y="649.2" font-size="2.9" fill="#222" text-anchor="end" dominant-baseline="central" stroke="#222" stroke-width="0.12">-4</text>
<line x1="526.5" y1="506.4" x2="527.8" y2="506.4" stroke="#555" stroke-width="0.5"/>
<text x="526" y="507.2" font-size="2.9" fill="#222" text-anchor="end" dominant-baseline="central" stroke="#222" stroke-width="0.12">2</text>
<line x1="526.5" y1="554.2" x2="527.8" y2="554.2" stroke="#555" stroke-width="0.5"/>
<text x="526" y="555" font-size="2.9" fill="#222" text-anchor="end" dominant-baseline="central" stroke="#222" stroke-width="0.12">0</text>
<line x1="526.5" y1="601.2" x2="527.8" y2="601.2" stroke="#555" stroke-width="0.5"/>
<text x="526" y="602" font-size="2.9" fill="#222" text-anchor="end" dominant-baseline="central" stroke="#222" stroke-width="0.12">-2</text>
<line x1="526.5" y1="648.3" x2="527.8" y2="648.3" stroke="#555" stroke-width="0.5"/>
<text x="526" y="649.1" font-size="2.9" fill="#222" text-anchor="end" dominant-baseline="central" stroke="#222" stroke-width="0.12">-4</text>
<line x1="29.9" y1="691.1" x2="29.9" y2="692.4" stroke="#555" stroke-width="0.5"/>
<text x="29.9" y="695.2" font-size="2.9" fill="#222" text-anchor="middle" dominant-baseline="central" stroke="#222" stroke-width="0.12">0</text>
<line x1="72" y1="691.1" x2="72" y2="692.4" stroke="#555" stroke-width="0.5"/>
<text x="72" y="695.2" font-size="2.9" fill="#222" text-anchor="middle" dominant-baseline="central" stroke="#222" stroke-width="0.12">1</text>
<line x1="114.4" y1="691.1" x2="114.4" y2="692.4" stroke="#555" stroke-width="0.5"/>
<text x="114.4" y="695.2" font-size="2.9" fill="#222" text-anchor="middle" dominant-baseline="central" stroke="#222" stroke-width="0.12">2</text>
<line x1="156.4" y1="691.1" x2="156.4" y2="692.4" stroke="#555" stroke-width="0.5"/>
<text x="156.4" y="695.2" font-size="2.9" fill="#222" text-anchor="middle" dominant-baseline="central" stroke="#222" stroke-width="0.12">3</text>
<line x1="207.7" y1="690.9" x2="207.7" y2="692.2" stroke="#555" stroke-width="0.5"/>
<text x="207.7" y="695" font-size="2.9" fill="#222" text-anchor="middle" dominant-baseline="central" stroke="#222" stroke-width="0.12">0.25</text>
<line x1="242.9" y1="690.9" x2="242.9" y2="692.2" stroke="#555" stroke-width="0.5"/>
<text x="242.9" y="695" font-size="2.9" fill="#222" text-anchor="middle" dominant-baseline="central" stroke="#222" stroke-width="0.12">0.50</text>
<line x1="277.7" y1="690.9" x2="277.7" y2="692.2" stroke="#555" stroke-width="0.5"/>
<text x="277.7" y="695" font-size="2.9" fill="#222" text-anchor="middle" dominant-baseline="central" stroke="#222" stroke-width="0.12">0.75</text>
<line x1="380.5" y1="690.6" x2="380.5" y2="691.9" stroke="#555" stroke-width="0.5"/>
<text x="380.5" y="694.7" font-size="2.9" fill="#222" text-anchor="middle" dominant-baseline="central" stroke="#222" stroke-width="0.12">0</text>
<line x1="414.9" y1="690.6" x2="414.9" y2="691.9" stroke="#555" stroke-width="0.5"/>
<text x="414.9" y="694.7" font-size="2.9" fill="#222" text-anchor="middle" dominant-baseline="central" stroke="#222" stroke-width="0.12">20</text>
<line x1="449.5" y1="690.6" x2="449.5" y2="691.9" stroke="#555" stroke-width="0.5"/>
<text x="449.5" y="694.7" font-size="2.9" fill="#222" text-anchor="middle" dominant-baseline="central" stroke="#222" stroke-width="0.12">40</text>
<line x1="484.3" y1="690.6" x2="484.3" y2="691.9" stroke="#555" stroke-width="0.5"/>
<text x="484.3" y="694.7" font-size="2.9" fill="#222" text-anchor="middle" dominant-baseline="central" stroke="#222" stroke-width="0.12">60</text>
<line x1="557.9" y1="691" x2="557.9" y2="692.3" stroke="#555" stroke-width="0.5"/>
<text x="557.9" y="695.1" font-size="2.9" fill="#222" text-anchor="middle" dominant-baseline="central" stroke="#222" stroke-width="0.12">0.25</text>
<line x1="593.8" y1="691" x2="593.8" y2="692.3" stroke="#555" stroke-width="0.5"/>
<text x="593.8" y="695.1" font-size="2.9" fill="#222" text-anchor="middle" dominant-baseline="central" stroke="#222" stroke-width="0.12">0.50</text>
<line x1="628.8" y1="691" x2="628.8" y2="692.3" stroke="#555" stroke-width="0.5"/>
<text x="628.8" y="695.1" font-size="2.9" fill="#222" text-anchor="middle" dominant-baseline="central" stroke="#222" stroke-width="0.12">0.75</text>
<text x="95" y="699.4" font-size="3.8" fill="#111" text-anchor="middle" dominant-baseline="central" font-weight="bold" stroke="#111" stroke-width="0.1" textLength="12.7" lengthAdjust="spacingAndGlyphs">Deaths</text>
<text x="243.4" y="699.4" font-size="4" fill="#111" text-anchor="middle" dominant-baseline="central" font-weight="bold" stroke="#111" stroke-width="0.1" textLength="6.6" lengthAdjust="spacingAndGlyphs">SDI</text>
<text x="446.6" y="699.6" font-size="3.8" fill="#111" text-anchor="middle" dominant-baseline="central" font-weight="bold" stroke="#111" stroke-width="0.1" textLength="69" lengthAdjust="spacingAndGlyphs">DALYs (Disability–Adjusted Life Years)</text>
<text x="594" y="699.6" font-size="4" fill="#111" text-anchor="middle" dominant-baseline="central" font-weight="bold" stroke="#111" stroke-width="0.1" textLength="6.6" lengthAdjust="spacingAndGlyphs">SDI</text>
<text x="17.6" y="593.4" font-size="5" fill="#111" text-anchor="middle" dominant-baseline="central" font-weight="bold" stroke="#111" stroke-width="0.15" textLength="10.9" lengthAdjust="spacingAndGlyphs" transform="rotate(-90 17.6 593.4)">EAPC</text>
<text x="166" y="593.4" font-size="5" fill="#111" text-anchor="middle" dominant-baseline="central" font-weight="bold" stroke="#111" stroke-width="0.15" textLength="10.9" lengthAdjust="spacingAndGlyphs" transform="rotate(-90 166 593.4)">EAPC</text>
<text x="371" y="593.4" font-size="5" fill="#111" text-anchor="middle" dominant-baseline="central" font-weight="bold" stroke="#111" stroke-width="0.15" textLength="10.9" lengthAdjust="spacingAndGlyphs" transform="rotate(-90 371 593.4)">EAPC</text>
<text x="518.8" y="593.4" font-size="5" fill="#111" text-anchor="middle" dominant-baseline="central" font-weight="bold" stroke="#111" stroke-width="0.15" textLength="10.9" lengthAdjust="spacingAndGlyphs" transform="rotate(-90 518.8 593.4)">EAPC</text>
<text x="315" y="587.2" font-size="3.6" fill="#111" text-anchor="start" dominant-baseline="central" font-weight="bold" stroke="#111" stroke-width="0.12" textLength="10.5" lengthAdjust="spacingAndGlyphs">Value</text>
<circle cx="318.4" cy="593.4" r="1.8" fill="#eb7878"/>
<text x="324.2" y="594.3" font-size="3.2" fill="#111" text-anchor="start" dominant-baseline="central" font-weight="bold" stroke="#111" stroke-width="0.1">1</text>
<circle cx="318.4" cy="599.6" r="2.35" fill="#eb7878"/>
<text x="324.2" y="600.5" font-size="3.2" fill="#111" text-anchor="start" dominant-baseline="central" font-weight="bold" stroke="#111" stroke-width="0.1">2</text>
<text x="667" y="584" font-size="3.6" fill="#111" text-anchor="start" dominant-baseline="central" font-weight="bold" stroke="#111" stroke-width="0.12" textLength="9.8" lengthAdjust="spacingAndGlyphs">Value</text>
<circle cx="670.1" cy="590.4" r="1.9" fill="#eb7878"/>
<text x="675.2" y="591.3" font-size="3.2" fill="#111" text-anchor="start" dominant-baseline="central" font-weight="bold" stroke="#111" stroke-width="0.1" textLength="3.8" lengthAdjust="spacingAndGlyphs">20</text>
<circle cx="670.1" cy="596.6" r="2.2" fill="#eb7878"/>
<text x="675.2" y="597.5" font-size="3.2" fill="#111" text-anchor="start" dominant-baseline="central" font-weight="bold" stroke="#111" stroke-width="0.1" textLength="3.8" lengthAdjust="spacingAndGlyphs">40</text>
<circle cx="670.1" cy="602.9" r="2.5" fill="#eb7878"/>
<text x="675.2" y="603.8" font-size="3.2" fill="#111" text-anchor="start" dominant-baseline="central" font-weight="bold" stroke="#111" stroke-width="0.1" textLength="3.8" lengthAdjust="spacingAndGlyphs">60</text>
</svg>
</body></html>
